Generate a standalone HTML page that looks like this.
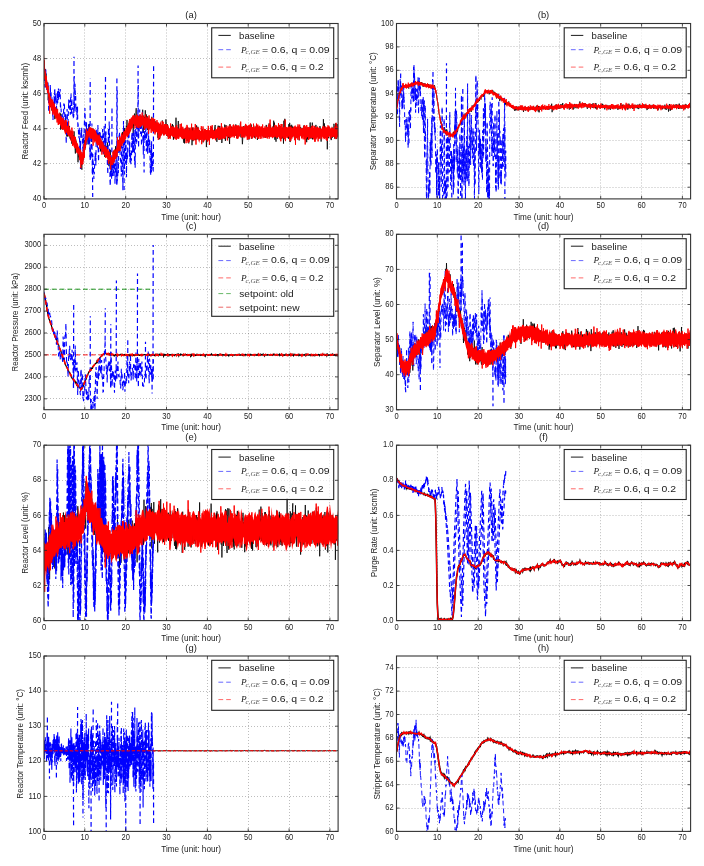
<!DOCTYPE html><html><head><meta charset="utf-8"><style>html,body{margin:0;padding:0;background:#fff;width:704px;height:866px;overflow:hidden}svg{display:block;filter:blur(.3px)}text{font-family:'Liberation Sans', sans-serif}</style></head><body>
<svg width="704" height="866" viewBox="0 0 704 866">
<rect width="704" height="866" fill="#fff"/>
<defs><clipPath id="ca"><rect x="44.0" y="23.5" width="294.1" height="175.4"/></clipPath><clipPath id="cb"><rect x="396.5" y="23.5" width="294.1" height="175.4"/></clipPath><clipPath id="cc"><rect x="44.0" y="234.3" width="294.1" height="175.4"/></clipPath><clipPath id="cd"><rect x="396.5" y="234.3" width="294.1" height="175.4"/></clipPath><clipPath id="ce"><rect x="44.0" y="445.2" width="294.1" height="175.4"/></clipPath><clipPath id="cf"><rect x="396.5" y="445.2" width="294.1" height="175.4"/></clipPath><clipPath id="cg"><rect x="44.0" y="656.0" width="294.1" height="175.4"/></clipPath><clipPath id="ch"><rect x="396.5" y="656.0" width="294.1" height="175.4"/></clipPath></defs>
<path d="M84.5 23.5V198.9M125.5 23.5V198.9M166.5 23.5V198.9M207.5 23.5V198.9M248.5 23.5V198.9M289.5 23.5V198.9M329.5 23.5V198.9M44.0 163.5H338.1M44.0 128.5H338.1M44.0 93.5H338.1M44.0 58.5H338.1" stroke="#000" stroke-opacity=".33" stroke-width=".8" stroke-dasharray="1 2" fill="none"/>
<g clip-path="url(#ca)" fill="none">
<path d="M44 75.1l.3-5.3 .4 3.1 .3 8 .3-11.7 .3 9.3 .4-5 .3 1.8 .3 7.2 .3 7 .4-2.1 .3-4.7 .3 5.7 .3 11.9 .4-10.6 .3 5.3 .3 3 .4 5.9 .3-5.6 .3 7.2 .3 1.4 .4-7.2 .3 7.4 .3-.1 .3 3.5 .4-5 .3-3.1 .3 5.1 .3-5.5 .4 4.2 .3 .2 .3-3.6 .4 2.7 .3 13.7 .3-11.8 .3 8.2 .4 2.5 .3-3.6 .3 2.9 .3-8.9 .4 2.8 .3 .8 .3 7.2 .4-5 .3 .8 .3 4.9 .3-4.8 .4 .2 .3 4.7 .3-7.3 .3 1.6 .4 15.3 .3-15.8 .3 7.5 .3 4.2 .4 3.1 .3-4.2 .3-.2 .4-3.7 .3 1.1 .3-.1 .3 8 .4-1.5 .3 2.1 .3-7.4 .3 4.9 .4-9.5 .3 13.2 .3-4.7 .3 7.4 .4 2.4 .3-10.8 .3 9.3 .4 1.5 .3-14.8 .3 11.4 .3-1 .4-6.3 .3 .4 .3 11.6 .3 .8 .4-1.7 .3 3 .3-.1 .3-8.4 .4 12.3 .3-11.2 .3 6.5 .4 .4 .3-1.8 .3-2.6 .3 8 .4-11.6 .3 11.3 .3-3.5 .3 9.2 .4 5.1 .3-14.2 .3 2.4 .4 0 .3 5.9 .3 4.7 .3-3.1 .4-.4 .3 13.5 .3-8.2 .3-1.4 .4 4.6 .3-7.1 .3 3.2 .3 3.3 .4-1.7 .3 3.2 .3-1.9 .4 4.7 .3 6.9 .3 1.8 .3-10.1 .4 2.3 .3-1.1 .3-.5 .3-2.4 .4-8 .3-6.4 .3-3.3 .3 9.7 .4-3.8 .3 1.8 .3-6.8 .4-10.3 .3-3.2 .3 10.1 .3 1.8 .4-3.1 .3-7.6 .3 15.6 .3-13.4 .4-6.5 .3 1.6 .3-2.2 .3 5.4 .4-1.2 .3 4.1 .3 4.7 .4 .4 .3 4.5 .3-7.7 .3 3.2 .4-4 .3-1.5 .3-.3 .3-2.9 .4 5.9 .3 .9 .3-4.1 .4 1.6 .3 3.3 .3-3.5 .3 3 .4 3.1 .3 2.1 .3-.6 .3-7.6 .4 8.4 .3-2.8 .3-2 .3 5.9 .4-8.9 .3 10.1 .3 1.3 .4-12.1 .3 13.7 .3-7.3 .3 12.4 .4-4.4 .3 1.2 .3-7.5 .3 4.2 .4 3.1 .3-.8 .3 .4 .3 0 .4 .5 .3 5.4 .3 .8 .4-5.3 .3 8 .3-12.1 .3 4.8 .4-.8 .3-1.6 .3 9.6 .3-5.8 .4 1.6 .3-10.2 .3 12.6 .3 4 .4 1.7 .3 3.5 .3 1.9 .4-12.1 .3 1.7 .3 8.5 .3-14.5 .4 8.3 .3 1.5 .3 12.5 .3-11.3 .4-3.3 .3 1.4 .3 2.5 .4-.7 .3-.9 .3 4.2 .3-13.4 .4 8.1 .3-7 .3 7.6 .3-3.9 .4-9.2 .3 7.7 .3 3.6 .3-9.3 .4 4.3 .3-7.2 .3 5.2 .4-1.4 .3-9 .3 1.3 .3 1 .4-2.9 .3 11.9 .3-6.2 .3-4.1 .4 1.7 .3 4.8 .3-4.9 .3 4.5 .4-12 .3 2.4 .3-5.6 .4 6.4 .3 .9 .3-4 .3 4.1 .4-3.1 .3-8.3 .3 13.9 .3-8.8 .4 0 .3 1.5 .3-.5 .3-7.8 .4 .7 .3-7.1 .3 9.8 .4 4.7 .3-6 .3 4.3 .3 .5 .4-4.6 .3 .7 .3-4.6 .3 5.3 .4 .7 .3-5.3 .3 .9 .3-1.9 .4-4.5 .3 2 .3-1.6 .4 5.4 .3-4.2 .3 14.1 .3-11.5 .4 1.7 .3-9.7 .3-2.5 .3 4.2 .4 2.4 .3 5.3 .3-11.7 .4-5.6 .3 9.3 .3-1.1 .3 8.4 .4-1.5 .3-4 .3 6.9 .3 1 .4-.3 .3-7.8 .3 .5 .3 6.6 .4-4.8 .3-4.6 .3 11.5 .4-5.1 .3-1.8 .3-1.5 .3-1.2 .4 2.2 .3-11.2 .3 17.2 .3 5.9 .4-17.1 .3 6.4 .3 7.8 .3-12.7 .4 5.5 .3-12.4 .3 17.1 .4-4 .3-9 .3 7.6 .3-3.9 .4-1.8 .3 13.8 .3-2.5 .3-.2 .4-2.5 .3-5.8 .3 8.5 .3-2.5 .4-.9 .3 .9 .3-1.4 .4-4.8 .3 8.9 .3-2.3 .3-8.7 .4 5.3 .3 6.2 .3 1 .3-9.9 .4 .2 .3 4.5 .3 6 .4-.6 .3-5.8 .3-1.5 .3 3.5 .4-4.4 .3 1.8 .3 5.7 .3-4.3 .4-.3 .3 5.3 .3 6.1 .3 2.4 .4-12.1 .3-.7 .3 2.5 .4 1.3 .3 10.3 .3-15.3 .3 8.1 .4-5.4 .3 1.3 .3-1.1 .3 3 .4 .3 .3-9.7 .3 .5 .3 6.4 .4 7.5 .3 .2 .3-8.9 .4 6.7 .3-1 .3-3.7 .3 2.1 .4-1 .3-9.9 .3 4.6 .3 11.8 .4-9.8 .3 3.3 .3-4.9 .3 12.1 .4-4.9 .3-1.8 .3-1.4 .4 2.6 .3 2.7 .3 4.2 .3-6.6 .4 5.8 .3-8.2 .3-3.2 .3 4.1 .4 .2 .3 3.1 .3-9.1 .4 5.3 .3-4 .3 14.4 .3-4.9 .4 3.2 .3-5.2 .3-2.3 .3 1 .4 3.2 .3-6.9 .3-10.1 .3 12.9 .4 4.5 .3 3.2 .3-6.2 .4-1.5 .3-3.9 .3-5.7 .3 14.4 .4-4 .3 2.9 .3-4.1 .3 5.2 .4-5 .3 1.3 .3 2.7 .3-2.1 .4-4 .3 9.3 .3-3.8 .4 4.1 .3-3.4 .3-.6 .3 7.7 .4 1.2 .3-9.5 .3 10.1 .3-7.2 .4-8 .3 8.3 .3-5.4 .3-.7 .4 3.1 .3-4.9 .3 4.2 .4-3.2 .3 11.7 .3-4.6 .3-3.1 .4 9.8 .3-15.4 .3 7.3 .3 1.4 .4 .9 .3-4.3 .3 3.5 .4 1.7 .3-5.2 .3-4.7 .3 16.6 .4-12.7 .3-5 .3 13.7 .3-10.9 .4 7.3 .3-1.2 .3 2.1 .3 1.1 .4-2.3 .3-9.8 .3 12.7 .4-1.3 .3-2.3 .3-11.2 .3 14.3 .4-4.5 .3 .8 .3-9.2 .3 10.2 .4-3.9 .3 2.5 .3-5.4 .3 2.6 .4-1.8 .3 6.3 .3-1.9 .4-2.3 .3-1.6 .3 4.8 .3 .7 .4-5.4 .3-2.3 .3 3.8 .3 9.3 .4-6.7 .3 2.6 .3-1.6 .3 1.2 .4-8.9 .3 2.7 .3 5.7 .4 .1 .3-1.5 .3 11.1 .3-7.4 .4-.8 .3-7.9 .3 3.5 .3-1.4 .4-.9 .3 3.3 .3-2.7 .3 7.4 .4-3 .3-3.8 .3 1.4 .4 .5 .3-5.9 .3-2.7 .3 8.4 .4 .8 .3-7.9 .3 4.2 .3 .7 .4 1.5 .3 2.4 .3-1.3 .4-1.3 .3-6.1 .3-1.9 .3-1.2 .4 13.4 .3-6 .3 1 .3 5.8 .4 2.7 .3-2.7 .3-4.2 .3-.6 .4-8.7 .3 11.5 .3-10.9 .4 11 .3 2.3 .3-13.7 .3 9 .4 2.4 .3-2.1 .3-4 .3-3 .4 14.8 .3-2.3 .3-10.3 .3 4.6 .4 2.3 .3-3 .3-3.8 .4 2.6 .3 6 .3-14.5 .3 4.1 .4 12.2 .3-2.5 .3-13.3 .3 11.1 .4-7.3 .3 .2 .3 4.7 .3-5.5 .4 9 .3-7.7 .3 8.5 .4-9.7 .3 11.4 .3 4.2 .3-19.9 .4 8.5 .3 0 .3-.6 .3 1.9 .4-7.2 .3 1.6 .3 3.4 .4 4.3 .3-3 .3-.7 .3-5.6 .4 3.5 .3 1.5 .3 1 .3 .1 .4-1.2 .3-6.1 .3-1.1 .3 1.9 .4 2.1 .3 9.6 .3-4.6 .4-.1 .3 3.4 .3-10 .3 3.3 .4-1.8 .3 1.8 .3 2 .3 2.2 .4-6.7 .3-4.5 .3 11.1 .3 3.3 .4-9.4 .3 2.2 .3 4.8 .4 9.2 .3-4.3 .3-5.2 .3-2.5 .4-6.1 .3 5 .3 3 .3-2.3 .4 3.9 .3-10.7 .3 7.3 .3-.8 .4 2.9 .3-1.6 .3-1.1 .4 3.9 .3-6.1 .3 4 .3-.4 .4-.6 .3 7.1 .3-5 .3 1.9 .4-9.8 .3 8.1 .3-7.7 .4 8.1 .3-10.7 .3 14.1 .3-4.1 .4-2.6 .3-2 .3-1.3 .3 7.6 .4-3.7 .3-6.9 .3 6.4 .3 5.7 .4-1.3 .3-1.8 .3-4.5 .4-.5 .3 4.4 .3-4.7 .3 1.2 .4 1.7 .3 7.8 .3-11 .3 5.1 .4 .2 .3-2.4 .3 3.8 .3-3.8 .4 4 .3-3.6 .3 2.5 .4-4.9 .3-1.6 .3 4.7 .3-4.5 .4 1.3 .3 6.5 .3-5.4 .3 1 .4-1.4 .3-1.9 .3 1.1 .3 0 .4-.8 .3 8.7 .3-1.6 .4 1.6 .3-3 .3-9.7 .3 1.7 .4 .2 .3 5.8 .3 1.8 .3-1.5 .4-2.4 .3-4.4 .3 10.7 .3-13.5 .4 4.1 .3-2.5 .3 3.4 .4-3.5 .3 3 .3 .4 .3 7.3 .4-5.2 .3 3.8 .3-1.2 .3 .4 .4-1.2 .3-4.1 .3-7.3 .4 6 .3-4.1 .3 16.7 .3 .5 .4-5.6 .3 2 .3 5.5 .3-5.4 .4 .6 .3-4.9 .3 3.9 .3 2.8 .4-4.1 .3-3 .3 .5 .4-7.3 .3 3.8 .3-2.9 .3 9.8 .4-8.8 .3 5.5 .3-.5 .3 .8 .4 6.5 .3-6.6 .3 5.9 .3-10.5 .4 .2 .3 4.8 .3 10.8 .4-22.9 .3 17.8 .3-7.4 .3-12.3 .4 13.7 .3 2 .3-7.1 .3 3.8 .4 2.2 .3-1.9 .3-2.9 .3 4.8 .4 1 .3-5.8 .3 10.2 .4-14.6 .3 11.2 .3 1.4 .3-13.9 .4 19.2 .3-16.5 .3 14.7 .3-14.3 .4 3.5 .3-4.7 .3 3.1 .4 5.8 .3-7.3 .3 3.6 .3 4.3 .4 1.3 .3-1.2 .3 3.2 .3-5.2 .4 7.7 .3-.3 .3-3.7 .3-5 .4 4.3 .3-6.7 .3 .7 .4 .6 .3-1.6 .3 6.1 .3-6.2 .4-1.7 .3 4.8 .3 9 .3-8.8 .4-1.3 .3-.1 .3-3.3 .3 .7 .4 8.5 .3-7.5 .3 2.5 .4 2.4 .3-5.4 .3 .1 .3-.2 .4 5.4 .3-7.9 .3 8.1 .3-5.7 .4 10 .3-10.2 .3 3.9 .3 .2 .4 3.8 .3 .1 .3 6.5 .4-12.6 .3 9.8 .3-6.4 .3-3.9 .4 4.8 .3 1.1 .3 2.1 .3-7.8 .4 7.4 .3-14 .3-.1 .4 15.9 .3-3.8 .3-1.9 .3-6.6 .4 12.3 .3-15.9 .3 16.8 .3-9.9 .4 6.5 .3-6.7 .3 5.6 .3-2.6 .4-.2 .3 5.1 .3-4.6 .4 .6 .3-8.3 .3 4.8 .3 3.5 .4-.5 .3 2.3 .3-3.4 .3 .1 .4 2.4 .3 1.6 .3-.2 .3-3.6 .4 .4 .3-6.3 .3 .5 .4 2.7 .3 2.2 .3 10.2 .3-12.4 .4 4.7 .3-4 .3 2 .3 .3 .4-.4 .3-12.6 .3 7.4 .3 7.8 .4-11 .3 10.3 .3-.3 .4-2.6 .3-.6 .3 2.1 .3 .7 .4-3.7 .3 4.1 .3 15.9 .3-14.4 .4-.4 .3-.2 .3 3.9 .4-2.5 .3-2.2 .3-1.7 .3 2.8 .4-4.8 .3 1.6 .3 6.5 .3 2.2 .4-2.2 .3-6.4 .3-3.9 .3 10 .4-1.6 .3-6.7 .3 6.4 .4-11.9 .3 1.9 .3 3.6 .3 9.4 .4-6.6 .3-8.8 .3 8.2 .3-7.6 .4 14.9 .3-5.6 .3-9.2 .3 5.2 .4-.4 .3 10" stroke="#000" stroke-width="0.8"/>
<path d="M44 77.2l.2 1.9 .2 .5 .3-.4 .2 7.2 .2 1.2 .2-8.5 .3-7.2 .2-3.2 .2 18 .2 .1 .3 .6 .2 2.9 .2-1.6 .2-1.8 .3-2.7 .2 4.3 .2-6.8 .2 3.1 .3 2.2 .2 11 .2 14 .2-4.1 .3-5.3 .2-5 .2-1.7 .2 .2 .3 1.2 .2-12.5 .2 8.1 .2-1.5 .3 .4 .2 4.8 .2-1.4 .2 1.4 .3 1.2 .2 4.3 .2-.5 .2 8.1 .3 6.7 .2 3.5 .2-9.6 .2-.6 .3 3.5 .2-4.3 .2-13.1 .2 7.2 .3-9.4 .2-5.4 .2 16.1 .2-8.4 .3-.1 .2 4.6 .2-6.6 .2 4.4 .3 3.7 .2 7.2 .2-5.4 .2 .6 .3-3.6 .2-9.9 .2 12.2 .2-4.1 .3 1 .2-1.7 .2-7.5 .2 6.1 .3-.4 .2-4.2 .2 3.3 .2-3.8 .3 5.2 .2-7.8 .2 18.9 .2-3.5 .2 5.7 .3-1.7 .2 7.4 .2 13 .2-6.9 .3 1.5 .2 1.4 .2-3 .2-5.7 .3-2.8 .2 9.8 .2-5.5 .2-2.5 .3-11.8 .2 2.7 .2-2.2 .2 .7 .3 8.5 .2 12.1 .2-5 .2-6.1 .3 3.4 .2 2 .2 12.3 .2 11.9 .3-13.5 .2-7.7 .2-7.4 .2-6 .3 9.7 .2 7 .2 8.9 .2-10.6 .3-10.3 .2-4.4 .2-9.8 .2 8.9 .3-1.1 .2-4.7 .2-2.5 .2 9.5 .3-.6 .2 5.7 .2-10.1 .2-9.8 .3-1.2 .2 10.5 .2 11 .2-4.9 .3-11.4 .2 11.1 .2-.9 .2-.8 .3 .6 .2 8.5 .2-5.8 .2 5.5 .3-.4 .2-4 .2-10.8 .2 6.6 .3-2.4 .2-9.6 .2-12.7 .2 7.6 .3 5.6 .2-1.2 .2 15.8 .2-5.5 .3 3.6 .2-2.6 .2 2.8 .2 10 .2-4.1 .3-9.6 .2 12.7 .2 8.6 .2-4.1 .3 7.2 .2 5.3 .2-.6 .2 3 .3-10.9 .2 6.3 .2 15.3 .2-1 .3-7 .2 2.5 .2 9.6 .2-18.7 .3-4.9 .2 6 .2 1.1 .2-8.8 .3 10.1 .2-1.9 .2 1.3 .2 9.4 .3 2.2 .2 6.6 .2-17.5 .2 5.4 .3-9.4 .2 6.3 .2-12.3 .2-5.8 .3-7.8 .2-6.4 .2 5.6 .2 9.9 .3 17.9 .2-8.4 .2 11.3 .2 .5 .3-22.6 .2 7.1 .2 6.3 .2-6.3 .3 3.8 .2-5.6 .2 12.2 .2 1.8 .3 3.1 .2-3.4 .2 1.5 .2-18.7 .3 16.9 .2-15.7 .2 16.8 .2 9 .3 6.1 .2 4.2 .2-12.5 .2 10.2 .3-3.4 .2-1.6 .2-8.6 .2-4.7 .3-17.2 .2 23.4 .2 26.8 .2-4 .3-15.7 .2 5.6 .2 2.9 .2 1 .2 9.5 .3 6 .2-6 .2 1 .2-5.7 .3-6.5 .2-.6 .2-8.6 .2 5.9 .3-3.5 .2 10.6 .2-18.4 .2-17.4 .3 6.2 .2 7 .2-10.3 .2 1.8 .3 13.3 .2-7.5 .2-15.3 .2 21.6 .3 10.3 .2 4.6 .2-16 .2 .2 .3-5.1 .2-9 .2 4.5 .2-3.4 .3-1.3 .2 16.4 .2-2.7 .2 3.3 .3-12.6 .2 1.4 .2 9.2 .2 5.9 .3-9.2 .2-3.1 .2-4.5 .2-6.5 .3 2.7 .2 14.7 .2 8.5 .2-4.7 .3-9.8 .2-.1 .2-14.3 .2 14.1 .3 7.4 .2-2.7 .2-6.9 .2 6.3 .3 .9 .2-10.5 .2-3 .2 16 .3-.6 .2 3.9 .2-.6 .2-3.5 .3 19.4 .2 1.9 .2 6.1 .2-11.1 .3-28.2 .2-6.6 .2 11.1 .2 4.2 .3-22 .2 7.4 .2 23.1 .2 8.1 .2 21.2 .3 4.6 .2-16.3 .2 7.8 .2-11 .3 2.7 .2-3 .2 12.8 .2-3.4 .3 .7 .2-11.3 .2-6.7 .2-.4 .3 16.8 .2 1.9 .2-15.4 .2 11.8 .3-10.4 .2 8.3 .2-4.8 .2-7.4 .3 11 .2 14.1 .2-10.6 .2-8.3 .3 1.5 .2-6.5 .2 5.3 .2 11.2 .3-5.8 .2 14.1 .2-4.1 .2 .7 .3-3.1 .2-1 .2-6 .2-9.9 .3 11.8 .2-14.5 .2-10.2 .2-12.1 .3-1.8 .2-.8 .2-1.6 .2 11.9 .3 11.9 .2 2.5 .2 2.7 .2 .7 .3 5.4 .2 9.4 .2-14.8 .2-25.9 .3 7.3 .2 3.5 .2 23.7 .2 5.2 .3 14.7 .2-27 .2-21.8 .2-20.4 .3 25.4 .2 8.3 .2 .8 .2 18.5 .3-28.8 .2-4.1 .2 5.1 .2 17.4 .3-1.8 .2-21.8 .2 1 .2 13.5 .3 22.6 .2-20.7 .2 2.5 .2-7.6 .2 7.8 .3-4.7 .2-16.4 .2-2.9 .2 3.2 .3-.7 .2-5.8 .2-5.5 .2 15 .3 15.3 .2-8 .2-6.9 .2 21.1 .3-1.1 .2-9.1 .2 7.4 .2 4 .3-5.1 .2 1.7 .2-10.2 .2-17.9 .3 3.9 .2 8.5 .2-.5 .2 8.3 .3-19.8 .2 3.5 .2 8.6 .2 7.4 .3-6.7 .2-16.1 .2 6.1 .2 25.6 .3 3.4 .2-8.3 .2 11.4 .2-27.3 .3-11.9 .2 11.5 .2 5.2 .2-18.2 .3-1.1 .2 16.1 .2-17.4 .2-2.8 .3 6.6 .2-3.4 .2-10.4 .2 21 .3 5.2 .2 6.7 .2-20.6 .2-2.2 .3 6.7 .2-4.9 .2-17.1 .2 12.7 .3-.8 .2-6 .2 18.5 .2-18.4 .3-1.2 .2 16 .2 15.4 .2-30.6 .3 7.8 .2-9.8 .2-.3 .2 5.5 .3 24.2 .2-6.9 .2 18.7 .2-12.4 .2-8 .3 4.3 .2-7.1 .2 1.1 .2 3.5 .3-2.3 .2 6.9 .2-7.8 .2-1.4 .3-.1 .2-13.8 .2 32.7 .2 1.4 .3-20 .2 18.9 .2-3.3 .2-5.8 .3 12.5 .2-12.5 .2 2.3 .2-16.4 .3-3.1 .2 22.1 .2-7.1 .2 13.8 .3-3.8 .2-10.3 .2 3.5 .2 12.8 .3 17.7 .2-4 .2 6.1 .2-25.1 .3-4.3 .2 .5 .2-5 .2 28.1 .3-11.9 .2-2 .2-3.4 .2 12.6 .3 5.8 .2 .3 .2-13.6" stroke="#00f" stroke-width="1.1" stroke-dasharray="4.8 3"/>
<path d="M73.9 112.7L74.0 56.8M74.1 101.9L74.3 76.1M90.1 157.1L90.2 78.8M92.5 169.7L92.7 197.1M80.4 143.5L80.5 169.1M105.3 144.2L105.5 77.0M111.8 175.6L112.0 105.9M116.8 184.7L116.9 76.1M117.0 180.6L117.2 90.2M124.0 154.8L124.1 190.1M137.9 114.8L138.1 65.6M138.1 135.8L138.3 84.9M144.0 138.3L144.1 172.6M151.4 145.9L151.5 172.6M153.4 156.8L153.6 65.6M58.4 98.2L58.5 88.4" stroke="#00f" stroke-width="1.2" stroke-dasharray="4.8 3"/>
<path d="M44 55.1l1 12.5 1 7.2 1.1 5 1 5.4 1 6.6 1 3.9 1 3.1 1.1 .2 1 1.7 1 2.8 1 3.2 1.1 .5 1 4.3 1 2.5 1-2 1 4.4 1.1-.4 1 2.4 1-1.5 1 4.6 1 .7 1.1-.3 1 4.2 1-.3 1 1.1 1.1 3.3 1 1.7 1 2 1 4.4 1 .4 1.1 .5 1 3 1 1 1 4.6 1 .6 1.1 1.5 1 4.4 1-1.6 1-4.6 1-8.7 1.1-3.6 1-4.6 1-.5 1-3.2 1.1-1 1 1.5 1-.4 1 1.1 1 .5 1.1 .3 1 1.9 1 3 1 1.3 1-2.3 1.1 3.7 1 3.7 1 .4 1 .7 1 3.8 1.1 .6 1 2.1 1 .8 1-.2 1.1 3.8 1 2.8 1 1.9 1-.5 1-3.8 1.1-2.7 1 0 1-2.9 1-3.3 1-2 1.1-3.5 1-1.3 1-1.6 1-1.4 1.1-4.3 1 1.4 1-2.5 1-2 1-.3 1.1-6.1 1 .6 1-3.6 1-.4 1-2.3 1.1 .8 1 2.4 1-2.9 1-.5 1 1.7 1.1-1.2 1 1.4 1 0 1-1.9 1.1 1.5 1-.1 1 3.4 1-1 1-.6 1.1-2.1 1 3.9 1-1.4 1 3.7 1-4.8 1.1 4.4 1-3.3 1 3.7 1 .7 1.1-.3 1 .9 1 .8 1-3.2 1 4.3 1.1-1.8 1 2.4 1-1.1 1-1.1 1 .6 1.1 .7 1 3 1 .4 1-2.2 1 .5 1.1-.7 1 1 1 1.2 1-2.1 1.1 1.2 1-.2 1 2 1-.6 1-1.1 1.1 .5 1 1.3 1-.9 1 1.8 1-3.9 1.1 3.1 1 .9 1-1.3 1 1.8 1.1-2.2 1 2.3 1-1.6 1-.7 1 2.5 1.1-2.6 1 1.6 1-2.3 1 2.1 1 1.1 1.1 .1 1-1.6 1 2.9 1-3.8 1 1.5 1.1 .1 1-.2 1-1.9 1 2.6 1.1-1.5 1-1.7 1 .7 1 3.5 1-.8 1.1-2.4 1 1.1 1-2.1 1 1 1-1.7 1.1 3.7 1-1.3 1-3 1 2.1 1 1.1 1.1-.3 1-1.2 1 .2 1-2.7 1.1 .7 1 2 1 .3 1-3.2 1-1.1 1.1 2.7 1-1.9 1 1.2 1-.2 1 .1 1.1 .8 1-.2 1 0 1-.2 1.1 .6 1-.9 1-.3 1 .4 1-1.1 1.1 3.4 1 0 1-1.9 1 1.1 1-1.2 1.1 1 1-2 1 2.5 1-.4 1 0 1.1-1.7 1 1.7 1-.9 1 1.8 1.1-.5 1-.5 1 1.1 1-1.9 1 .5 1.1 1.7 1-.3 1-.5 1 .3 1-.6 1.1 0 1-.8 1-.5 1 .4 1.1 .1 1 2.5 1 .3 1-1.5 1 .1 1.1 .6 1-1.2 1-1.6 1 .5 1 1.7 1.1-1.1 1 .4 1-1.1 1-.4 1 2.1 1.1-1.2 1-.5 1-1.4 1 2.1 1.1-1.2 1 .9 1 .5 1 .1 1 1.9 1.1-1.6 1 .8 1 1 1-3.9 1 2.7 1.1-1.8 1 2.9 1-3.3 1 2.4 1-3.1 1.1 1.2 1 1.2 1-.2 1-1 1.1 .7 1-1.5 1 2 1 .3 1 .2 1.1 .5 1-.3 1 .1 1 .2 1-.4 1.1-2 1 3.3 1-3.2 1 .4 1.1 2 1-2.9 1 3.5 1-1.4 1-1.1 1.1 1.1 1-1.8 1 .2 0 9.9-1 .9-1 2.2-1.1-1-1-2.1-1 .3-1 .2-1-.1-1.1-.9-1 .9-1 .1-1-.8-1.1 2-1 .6-1 .6-1-3-1 4.2-1.1-4.8-1 3.1-1-.6-1-1-1 .5-1.1 1.2-1 0-1 .7-1-1.9-1.1 .6-1-2-1 3.6-1-2.7-1-.4-1.1 2-1-1.1-1 2.7-1-4.5-1 2-1.1-.1-1-2.7-1 1.9-1 .4-1 1.1-1.1-.4-1-1.5-1-1.3-1 1.6-1.1 .4-1 .5-1 0-1-1.3-1 .5-1.1-2.5-1 1.5-1 4.3-1-2.6-1 .5-1.1-2.2-1 2.4-1 1.6-1-3.1-1-.2-1.1 1.3-1-.5-1-1.5-1 0-1.1 2.7-1-2.7-1 .6-1 .9-1-1.7-1.1 1.7-1 0-1-1.3-1 1.3-1 .9-1.1-2.4-1-.8-1 2.5-1-1.9-1.1 1.5-1 1.4-1-2.5-1 1.4-1-2-1.1 2-1-1.2-1-.5-1 .5-1 2.7-1.1-.5-1-.3-1-2.7-1-.7-1 3.4-1.1-2-1 .6-1 .9-1-5.9-1.1 4.3-1 1.2-1-4.4-1 3-1 0-1.1 .8-1-.8-1 2-1-2-1 .3-1.1 .8-1-.6-1-1.4-1 2.2-1.1 1.7-1-.3-1-1.3-1 .9-1 1.7-1.1-.8-1-.2-1-1.3-1 .3-1 3-1.1-2.5-1-.9-1 2.1-1-1.8-1 0-1.1 1.7-1 .3-1 2.8-1-3.4-1.1 .6-1 .8-1-2-1 1.1-1-.1-1.1-1.1-1 4.2-1-3.4-1-.7-1-.6-1.1 .8-1 1.9-1-3.2-1 1-1 1.5-1.1-1.3-1 2.6-1-1.2-1-1.4-1.1-.9-1 .7-1-.1-1 .6-1-.1-1.1-1.8-1-.9-1 .9-1-.2-1-1.9-1.1 3.7-1-1.4-1-.6-1 .4-1.1-2.4-1 0-1 1.3-1-1.9-1 1.8-1.1-.1-1-2-1 .7-1 .1-1-1.1-1.1-.4-1-.7-1 .8-1 .4-1-.7-1.1-1.7-1 .1-1-2-1 2.4-1.1-.6-1-1.4-1-1.5-1 2.2-1-3.7-1.1 3.1-1-3.9-1 2.7-1-1.4-1-1.8-1.1-1-1 2.7-1-.2-1-1.6-1.1 0-1 3-1-4.3-1 2.3-1-3.9-1.1 5.4-1 .6-1 2.6-1 2-1 1.5-1.1 .4-1 .3-1 4.1-1-.1-1 3.7-1.1 .6-1 .2-1 3.2-1 3.5-1.1 .6-1 2.3-1-.1-1 4.3-1 3.5-1.1 1.1-1 2.8-1-1.5-1 2.9-1-5.4-1.1-2.3-1-.5-1-.9-1-2.3-1.1-.3-1-3.7-1-2.5-1-1.6-1 2.1-1.1-3.4-1-1.2-1 1.4-1-3.1-1-2.6-1.1-.7-1 .6-1-1.6-1-.9-1 .8-1.1-2.9-1 4.3-1 .4-1 6.2-1.1 5.6-1 6.5-1 6.4-1-.5-1-2-1.1-1.8-1-4.7-1-3.7-1-1.1-1-3.4-1.1 .6-1-1.7-1-3.4-1-1-1-5-1.1-.4-1-.9-1-1.5-1-2.2-1.1 2.5-1-2.6-1-4.4-1 1.9-1-1.6-1.1-2.8-1-1.3-1-.5-1-2.9-1-2.5-1.1-2.1-1-2.1-1-1.6-1 .1-1.1-3.5-1-2.8-1-4.2-1-7-1-5.5-1.1-.5-1-9.8-1-12.1z" fill="#f00" stroke="none"/>
<path d="M44 67.7l.2-1.4 .2-5.9 .2 11 .1 8 .2-8.1 .2 3.3 .2-1.1 .2 2 .2 6.4 .1 4.6 .2-9.1 .2 6.9 .2-8.1 .2 8.1 .2 .4 .1-1.4 .2 .5 .2 7.2 .2 1.5 .2-3.5 .2 4.1 .1-7 .2 4.4 .2-.5 .2 6.2 .2-2.4 .2-.4 .1 11.2 .2-5.8 .2 10.8 .2 4.1 .2-15.2 .2 1.6 .1-3.3 .2 7.9 .2-1.2 .2-1.6 .2-.7 .2 4.2 .2 2.8 .1 .2 .2-3.9 .2-4.4 .2 2.6 .2 .9 .2 4.2 .1 3.6 .2-7.3 .2 10.6 .2-11.7 .2 6 .2 4.2 .1-8.3 .2 8.1 .2 .2 .2 .2 .2-9.6 .2 8.3 .1 3.4 .2-8.5 .2 7 .2 2.6 .2 1.7 .2-7.8 .1 3.7 .2-.7 .2 3.1 .2-2.8 .2 2.3 .2-4.4 .2 10.8 .1-8.1 .2 .4 .2-5.8 .2 8.4 .2 2.7 .2 3.9 .1 1 .2-8.5 .2 7.4 .2-5.3 .2 4.8 .2-8.6 .1 2.7 .2 .4 .2 2.1 .2-4.5 .2 5.7 .2 .6 .1 0 .2 .5 .2-1.9 .2-3.3 .2 .5 .2 3.4 .1 1.7 .2 6.3 .2-6.4 .2 2.3 .2 3.3 .2 1.6 .1-8.4 .2 5.8 .2-3.9 .2-.1 .2-3.7 .2 5.3 .2 .8 .1 3.6 .2-1.3 .2-1.8 .2-.5 .2-.6 .2-2.3 .1-2.5 .2 8 .2-8.2 .2 3.7 .2 4.9 .2-8.4 .1 10.1 .2-4.7 .2 5.5 .2-4.4 .2 3.4 .2 .2 .1-.8 .2 1.5 .2 .4 .2 2.1 .2-6.7 .2 8.2 .1-6.5 .2-7.4 .2 14.7 .2-6.2 .2 5.3 .2-7.2 .1 1.6 .2 2 .2 .5 .2 3.2 .2-3.8 .2 1.1 .2 4.8 .1-1.9 .2 .9 .2 4.7 .2-2.4 .2-1.4 .2 .8 .1-10.2 .2 6.9 .2-.3 .2 11.5 .2-9.3 .2-5.6 .1 4.7 .2 0 .2 2.7 .2 1.5 .2 3 .2-3.1 .1-3.4 .2 8.5 .2-3.8 .2 1.6 .2-5.8 .2 7 .1-3.9 .2-2.6 .2 3.3 .2 6.1 .2 2 .2-4.6 .2 2.9 .1-2.5 .2 3.3 .2 4.9 .2-5.2 .2-1.3 .2-.5 .1-1.2 .2 8.8 .2-5.1 .2 4.4 .2 1.5 .2-7.1 .1 2.5 .2 3.3 .2-.1 .2-.1 .2-3.4 .2 10.6 .1-4.6 .2 4.8 .2-2.7 .2 0 .2-.3 .2 11.3 .1-9.5 .2-4.9 .2 9.9 .2-7.3 .2 7.5 .2-12 .1 7.5 .2-5.1 .2 9.8 .2-3.4 .2 3.4 .2-5.3 .2-1.4 .1-7.4 .2 2 .2 6.2 .2-.5 .2-13.5 .2 13.5 .1-6.1 .2-4.8 .2-.7 .2-1.2 .2 2.6 .2-3.7 .1-1.8 .2 1 .2-5 .2-2.8 .2-6.3 .2 2.7 .1 4.9 .2 1.4 .2-3 .2-4 .2 2.1 .2 2.3 .1 2.8 .2-.6 .2-3.1 .2-2.6 .2 .9 .2-3.6 .2 2.2 .1-1.8 .2 4.4 .2-3.1 .2-.3 .2 2.3 .2 1.3 .1-4.6 .2 1.2 .2-2.6 .2-.2 .2 .4 .2 10.6 .1-3.4 .2 0 .2 .2 .2-2.9 .2-1.7 .2 .9 .1 3.7 .2-3 .2 1.3 .2 1.2 .2 10.4 .2-13.6 .1 5.5 .2-1.7 .2 .9 .2 1.9 .2-.7 .2 2.9 .1-8 .2 6.9 .2 2.7 .2-5.6 .2 .2 .2-3 .2 6.2 .1-1.6 .2 2 .2-2.6 .2-1.8 .2 5.8 .2-7.4 .1 1.3 .2-1 .2 4.1 .2-1.7 .2 8 .2-8.7 .1 2.5 .2-2.4 .2 6.7 .2-7.5 .2 3.7 .2 4.9 .1-.6 .2-8 .2 5.2 .2-3.9 .2 11.8 .2-.9 .1-6.6 .2-.8 .2 2.2 .2-4.2 .2 1 .2 9 .1-1.7 .2-1.5 .2 5.9 .2 3.2 .2-4 .2-7.6 .2 7.7 .1-4.5 .2 5.8 .2-4.7 .2-1.9 .2-.1 .2 0 .1 2 .2 3.4 .2-3.4 .2 7.7 .2-4.7 .2-4.4 .1 4 .2-1.1 .2 .6 .2 6.1 .2 2.3 .2-9.2 .1 3.1 .2-2.1 .2-.7 .2-1.6 .2 5.4 .2 .5 .1-1.3 .2 1.4 .2-2.8 .2 6.7 .2-2.1 .2 3.8 .2-2.1 .1 6.5 .2 .4 .2-8 .2 5.5 .2-9.4 .2 2.8 .1-.2 .2 5.4 .2 .7 .2-5.6 .2 4.9 .2-2.1 .1-2.3 .2 14 .2-11.6 .2 4.9 .2 1.3 .2-4.6 .1 4 .2 1.5 .2-7.4 .2 5.9 .2-3.8 .2-1.2 .1 6.7 .2-13.4 .2 3 .2 3.7 .2 1.2 .2-1.6 .1 5.1 .2-9.5 .2-3.2 .2 10.3 .2-6.1 .2-5.1 .2 1.1 .1 1.4 .2 7.2 .2-8 .2 7.8 .2-2.1 .2-1.7 .1-2.8 .2 2.4 .2-5.6 .2 1.9 .2 5.8 .2-5.7 .1-5.6 .2-8.3 .2 7 .2 3.6 .2-2.9 .2 2.4 .1-6.9 .2 3.5 .2 .1 .2 2.7 .2-2.1 .2 .1 .1-2.3 .2-1.3 .2-4.9 .2 14.8 .2-6.3 .2-6.2 .1 9.7 .2-7.2 .2 .5 .2 .2 .2-.3 .2-8 .2 6.6 .1 5.8 .2-7.1 .2 .6 .2-1 .2-.1 .2 4.3 .1-7.1 .2 .9 .2 4 .2-4.4 .2 5.9 .2-2.7 .1-2.4 .2 4.4 .2-6.3 .2-1.2 .2 4.3 .2-5.5 .1 5.8 .2-4.8 .2 5.4 .2-5.6 .2 .8 .2 1.3 .1-5.6 .2-.9 .2 1.5 .2 2.1 .2-2.6 .2-2.2 .2 9.2 .1-10.8 .2-.7 .2 1.7 .2 8.3 .2-1.8 .2-5.8 .1-4.4 .2 3.7 .2-2 .2 2 .2 5.7 .2-13.8 .1 5.9 .2 1.8 .2-.7 .2-1.5 .2 3 .2-8.2 .1 5.4 .2 2.3 .2-3.1 .2 2 .2-5.8 .2 6 .1-1.3 .2 2.8 .2-2.4 .2 0 .2-4.2 .2 1.3 .1-.5 .2-5.7 .2 4 .2 3.3 .2 .2 .2-8.3 .2 3 .1 1.8 .2 2.1 .2 2.5 .2 3.6 .2-7 .2-2.3 .1 2.6 .2 .2 .2 .8 .2 0 .2-3.9 .2-3.2 .1 4.9 .2 .2 .2 5.8 .2-11.8 .2 12.4 .2-2.3 .1-4.7 .2 7.9 .2-7.6 .2 3.9 .2-1.4 .2-3.3 .1 1.4 .2 7.2 .2-5.2 .2-6.5 .2 5.4 .2-1.9 .2 3.5 .1-9.1 .2 .7 .2 7.5 .2-1 .2 1.1 .2 1.2 .1-2.3 .2-1.3 .2 .8 .2 4.7 .2-2.6 .2-10.6 .1 10.7 .2-.5 .2-7.5 .2 5.4 .2 3.1 .2 1.2 .1-1 .2-2.5 .2 3 .2 .6 .2-7.1 .2 12.1 .1-11.9 .2 10 .2-4.7 .2 5.2 .2-14 .2 12.6 .1-8.4 .2 9 .2-8.7 .2-2.4 .2 7.8 .2-3 .2 4.4 .1 1.7 .2-2.5 .2 .3 .2-5.6 .2 2.8 .2-3.3 .1 .9 .2 6.1 .2-7.2 .2 14.9 .2-8.6 .2-.8 .1-9.2 .2 7.5 .2 .7 .2 4.5 .2-7.3 .2 4.1 .1-.9 .2-1.7 .2-1 .2 1.7 .2 1.4 .2 8.4 .1-7.3 .2-7.8 .2 11.7 .2-3.5 .2 .6 .2-1.9 .1-2.5 .2 2.3 .2 1.6 .2 .7 .2-8.6 .2 7.7 .2-1.9 .1-1.1 .2 9.3 .2-2 .2-.3 .2-5.5 .2-5.3 .1 4.2 .2 11.3 .2-10.9 .2 9.2 .2-10 .2 1 .1 1.4 .2 6.7 .2-4.4 .2-1.8 .2 4.4 .2-.5 .1-9.5 .2 10.8 .2 1.7 .2-7.8 .2-.3 .2 8.3 .1-10.4 .2 17.5 .2-13.6 .2-2.8 .2 5.6 .2-.3 .2-3.9 .1 1.8 .2 11.5 .2-8.5 .2 7.9 .2-1.9 .2-3.2 .1-3.8 .2 6.9 .2-9 .2-1.2 .2 2.7 .2 7.2 .1-3.4 .2-3.8 .2 3.6 .2-10.7 .2 4.6 .2 .4 .1 1.1 .2 5.1 .2-10.3 .2 9.7 .2-.1 .2 1.8 .1-3 .2 5.2 .2-5.7 .2 .1 .2-5.7 .2 8.9 .1 .7 .2-2.8 .2-1.2 .2 .8 .2-6.4 .2 1.2 .2 6.6 .1-7.5 .2 10.1 .2-2.5 .2 .5 .2 2.2 .2-8.7 .1 .8 .2 1.7 .2 .9 .2-4.1 .2 7.2 .2 6.4 .1-12.1 .2 1.7 .2 .3 .2 2.3 .2 5.6 .2-3.8 .1-3.9 .2 .7 .2 2.4 .2 6.7 .2-8.1 .2-.3 .1-7 .2 10 .2 1.6 .2-5.4 .2 3.6 .2-4 .1 6.3 .2-8.1 .2 4.5 .2-5.2 .2 8.6 .2-4 .2 .8 .1-1.4 .2-2.2 .2 .9 .2 3 .2 1.2 .2 3.1 .1-9.3 .2 5.8 .2 3.4 .2-4.9 .2 .9 .2 6.4 .1-8.4 .2 .6 .2-2.3 .2 5.8 .2 2.1 .2 1.5 .1 1.4 .2-6.3 .2-8.5 .2 8.7 .2 3.2 .2-7.2 .1 8.4 .2-3.3 .2-.5 .2-3.5 .2 8.2 .2-8.7 .2 .4 .1 5.9 .2 1.8 .2-4.8 .2-2.1 .2 .6 .2 1.7 .1 1.5 .2-4.9 .2-6.5 .2 9.8 .2-5.4 .2 6.6 .1 0 .2-.9 .2-1.1 .2-9.3 .2 8.9 .2 4.2 .1-4.4 .2 3.2 .2-1.9 .2-3.8 .2-3 .2 3.1 .1 2.1 .2 1 .2-3.3 .2 3.3 .2-4.2 .2 4.3 .1 2.2 .2 0 .2 2.7 .2-5 .2 2.5 .2-5 .2 .5 .1 7.8 .2-2.4 .2 2.5 .2 4.3 .2-6.3 .2-9.4 .1 13.4 .2-9.4 .2-6.6 .2 5.8 .2-4.2 .2 9.5 .1-2.4 .2-6.5 .2 15.7 .2-10.8 .2 1.2 .2-2.9 .1 10.3 .2 .5 .2 .7 .2-6.3 .2-3.4 .2 7 .1-3.6 .2-7.9 .2 .9 .2 4.2 .2 .5 .2 3.7 .2-3.2 .1 4.3 .2-7.9 .2-6.4 .2 12.7 .2-3 .2 1.3 .1 5.5 .2-7 .2 1.4 .2-1 .2-1.7 .2-4.4 .1 3.8 .2 9 .2-3.3 .2-7.2 .2 8 .2-4.4 .1 1.2 .2-1.1 .2 1.5 .2-3.3 .2-7.7 .2 10.1 .1-2.2 .2 4.5 .2 8.2 .2-13.8 .2 5.5 .2-1.7 .1-2.2 .2-5.5 .2 12.1 .2-5.1 .2 .2 .2-.8 .2 1.7 .1 1.3 .2-3.4 .2-3.3 .2-1.8 .2 7.9 .2-.3 .1-4.2 .2 8.9 .2-1 .2-5 .2 .1 .2 1.1 .1 3.2 .2 1.5 .2-6.1 .2 1.6 .2 1.1 .2-4.5 .1-5.9 .2 5.3 .2 12.7 .2-5.4 .2-7.5 .2 5.2 .1-.9 .2-3.5 .2-1.7 .2-4 .2 8 .2 1 .1-.1 .2 6.2 .2-10.3 .2 1 .2-3.2 .2 5.4 .2 2.3 .1-1.5 .2-1.2 .2 .6 .2-5.2 .2 6.5 .2 .8 .1-1.2 .2 2.4 .2 .5 .2-6.4 .2 .2 .2-1.9 .1 5.5 .2-5.6 .2 6.3 .2-3.9 .2 8.6 .2-2.6 .1-2.6 .2-10.1 .2 7.2 .2 5.8 .2-2.3 .2-5.5 .1 1.1 .2 12.7 .2-8 .2 1.3 .2-4 .2 .2 .2 .6 .1 2.1 .2-11.2 .2 9.2 .2-2 .2-2.2 .2 0 .1-.2 .2-.6 .2 3.1 .2-8 .2 8.7 .2 4.5 .1-3.4 .2-1.5 .2-1.9 .2-1.7 .2 5.7 .2 3.1 .1-2.8 .2-2.9 .2 .9 .2-2.2 .2 5.7 .2-1.9 .1 1.4 .2-2.8 .2-1.5 .2-1.2 .2 1.4 .2 4.8 .1-5.4 .2-.7 .2 1.8 .2 3 .2 .4 .2 .9 .2-5.8 .1 .6 .2 1.2 .2-4.7 .2 2 .2 1.1 .2-5.2 .1 13 .2-4.7 .2-4.2 .2 5.4 .2-3 .2-1.6 .1 3.1 .2 2.8 .2-7.1 .2 8 .2-4.4 .2-1.7 .1-4.6 .2 10.8 .2-7.6 .2 .4 .2-8.2 .2 5.6 .1 1.5 .2 4.3 .2-2.1 .2-2.3 .2 8.9 .2-1.4 .1-3.6 .2 1.5 .2-3.5 .2 4.5 .2-7.5 .2 7.5 .2-1.6 .1-2.3 .2 2.9 .2-5.7 .2-2.9 .2 1.3 .2 4.1 .1-5 .2 3.9 .2 1.7 .2 .3 .2 2.6 .2-2.1 .1-3.2 .2-.6 .2 4.9 .2-9.1 .2 7.2 .2-3.4 .1 10.8 .2-10.3 .2 1.7 .2 3.6 .2-4.1 .2-4.4 .1 3.4 .2 .5 .2-2.4 .2 1.8 .2 1.9 .2-3.3 .2 3.5 .1 .4 .2-5.7 .2 11.1 .2-13.3 .2 6.4 .2-5.3 .1 4.5 .2 .8 .2 2.5 .2-1 .2-.2 .2 4.1 .1-4.3 .2-5.3 .2 1.5 .2 2.8 .2 2.9 .2 .5 .1-1.8 .2-8 .2 4.7 .2 2.3 .2 3.2 .2-7.8 .1 10.4 .2-.6 .2-2.1 .2-.8 .2 1.7 .2-5 .1-5.2 .2 4.5 .2 4.3 .2-1.1 .2-4 .2 3.7 .2-1.7 .1-5.7 .2 3.5 .2 9.5 .2-13.2 .2 13.1 .2-7.5 .1-2.4 .2 5.8 .2 3.9 .2-6 .2-.5 .2-6.5 .1 6.3 .2 .9 .2-1.1 .2 3.4 .2 1.5 .2-6.7 .1 0 .2 1.2 .2 3 .2-3.9 .2-8.4 .2 9.2 .1 .8 .2-1.7 .2-2.2 .2 3.1 .2 .9 .2-2.4 .1 .7 .2 5.7 .2-7.4 .2 .2 .2 3 .2 5.8 .2-5.3 .1 1.6 .2 .4 .2-4.5 .2-2 .2 2.3 .2 4.4 .1-7.6 .2 3.7 .2 7 .2-1.8 .2-7.3 .2 1.3 .1-5.6 .2 10 .2-.9 .2-8.2 .2 8.4 .2-5.1 .1-1.6 .2 9.2 .2-8.5 .2 12.6 .2-11.4 .2 4.7 .1 2.5 .2 3.6 .2-5.4 .2 2.6 .2-10.8 .2 3.9 .2-3.3 .1 10.4 .2-11.9 .2 5.4 .2 8.7 .2-4.1 .2-5 .1 3.1 .2 2.5 .2-11.8 .2 7.6 .2-2.1 .2-.4 .1 5.4 .2-4.1 .2 8 .2-5.6 .2-5.1 .2 1.1 .1 10.2 .2-5.8 .2 3 .2-3.1 .2 1 .2-6.5 .1-3.4 .2 7.2 .2 .4 .2-.7 .2 2.9 .2-1.9 .1 1.4 .2-3.5 .2 6.1 .2-2.2 .2 5.2 .2-6.7 .2-3.1 .1 5.3 .2 2.7 .2-5 .2-8.2 .2 6.6 .2 2.7 .1 0 .2-7.6 .2 7.9 .2-1.5 .2-7.1 .2 11.7 .1-9.5 .2 6 .2 6 .2-5.4 .2-3.7 .2 4.5 .1-8.4 .2 10.5 .2-7.6 .2 3.5 .2 4.7 .2 2 .1-7.6 .2 4.1 .2-2.3 .2-1.2 .2-5.6 .2 8.5 .2-3.1 .1-1.6 .2 8.4 .2-1.3 .2-5.4 .2-2.2 .2-5.1 .1 .9 .2 4.2 .2 .5 .2 .1 .2 2.9 .2-1.9 .1-3.3 .2 5 .2 1.4 .2-5.4 .2 1.8 .2-1.9 .1 .9 .2-3.5 .2 5.2 .2 4.5 .2-.3 .2 2.3 .1-.2 .2-7.5 .2 .6 .2-1.9 .2 3.8 .2 1.6 .1-1.1 .2 5.3 .2-3.9 .2 1 .2-7.9 .2 1.6 .2 2.4 .1-6.5 .2 8.9 .2-1.5 .2-8.3 .2 14.4 .2-13.7 .1 9.3 .2-.6 .2-6.1 .2-8 .2 10.7 .2 3.7 .1-5.9 .2 5.4 .2-1.2 .2 4.9 .2-4.5 .2-5 .1 3.2 .2 1.5 .2-.7 .2-1.2 .2-3.9 .2 9.4 .1 1.7 .2-9.7 .2 5.7 .2 3.2 .2-4.1 .2 .1 .1 .7 .2 3 .2-9.7 .2 10.1 .2-6.1 .2-6 .2 6.8 .1-1.7 .2 3.2 .2-1.3 .2 .3 .2-6.7 .2 9.3 .1-5.4 .2 7.3 .2-11 .2 4.3 .2 7.7 .2-3.2 .1-1.4 .2-.2 .2 1.6 .2-1.9 .2-4.3 .2 2 .1-7.1 .2 9.7 .2 1.7 .2-4.2 .2 4.9 .2 2.8 .1-12.9 .2 7.8 .2-.3 .2-4.2 .2-2.3 .2 3.9 .2 11.2 .1-6.6 .2-10.7 .2 14.8 .2-2.5 .2-6.6 .2 4 .1-9.7 .2 8.8 .2 2.6 .2-5.4 .2 .4 .2-2.8 .1 .8 .2 9.6 .2-7.7 .2 5.4 .2-8.4 .2 7.7 .1 3.9 .2-7.2 .2 2.6 .2 2.2 .2-7.4 .2-9.4 .1 15 .2 6.4 .2-5.8 .2-7.1 .2 5.7 .2-6.6 .1 9.2 .2-6.4 .2-.2 .2 8 .2-6.5 .2 3.3 .2 3.3 .1-9.1 .2 5.9 .2-7.9 .2 4.5 .2-.4 .2 3 .1-5.6 .2-1.2 .2-.5 .2 .7 .2 13.1 .2-10.5 .1 4.1 .2-2.2 .2-1.1 .2-1.3 .2 11.6 .2-13.1 .1 5.5 .2 0 .2-4.8 .2 2.7 .2 7.3 .2-7.5 .1-.6 .2 2.2 .2-2.2 .2 3.4 .2 1 .2-.4 .1-2.6 .2 2.5 .2-1.9 .2 .7 .2 1.2 .2-3 .2 .4 .1 8.2 .2-7.9 .2-2 .2 4.2 .2 2.6 .2 7.8 .1-14.8 .2 .9 .2 5 .2-7.8 .2 3 .2 .6 .1 2.9 .2-4.5 .2-.9 .2 4.3 .2 0 .2-4.3 .1 10.5 .2-15.3 .2 5.4 .2 .1 .2 5.1 .2-1.8 .1-3.1 .2-.8 .2 10.4 .2-6.2 .2-8.9 .2 6.7 .2-1.5 .1 2.9 .2 1.6 .2 .8 .2 .2 .2-1.2 .2-2.4 .1 3 .2-4.1 .2 7.8 .2-10 .2 .5 .2 3.3 .1-.7 .2-.4 .2 2.4 .2 4.9 .2 .9 .2-6.5 .1 .2 .2-6.6 .2 8.9 .2-.2 .2-4 .2 1.7 .1-7.8 .2 10.2 .2-8.8 .2 18.1 .2-9.5 .2-6.7 .1 6.8 .2-6 .2 2.8 .2 1.7 .2 3.4 .2-12 .2 6.7 .1 1.8 .2-3.4 .2 2.7 .2 .8 .2-2.8 .2-3.8 .1 2.2 .2 .2 .2 10.6 .2-11 .2-2 .2 1 .1 1.4 .2 5.6 .2-2.1 .2 1.9 .2-3.3 .2-1.1 .1 5.4 .2 1.8 .2-3.8 .2-.4 .2 .8 .2-1.3 .1 2.3 .2-4.8 .2 2.4 .2 3.9 .2-7.2 .2 4.3 .2-1.1 .1 1.1 .2-8.2 .2 5.7 .2 3.3 .2-2.7 .2 1.5 .1 4.7 .2-5.1 .2 .6 .2-7.7 .2 5 .2 10.7 .1-3.9 .2 3.9 .2-14.5 .2 2.7 .2 4.3 .2 .5 .1 4.7 .2-7.5 .2 4 .2-1.3 .2-2 .2 1 .1-1.2 .2-4.5 .2 4.2 .2 5 .2-5.4 .2 9.8 .1-8.4 .2 4.8 .2-2.6 .2 3.7 .2-7.4 .2 4.8 .2-7.8 .1-.6 .2 5.8 .2-5.1 .2 1.7 .2-.6 .2 3.2 .1 1.2 .2-.5 .2 5.1 .2-4.8 .2-.8 .2-2.2 .1 3 .2-5.2 .2 3.3 .2 3.6 .2-8.6 .2 6.3 .1-4.1 .2 3.9 .2-7.2 .2 10.1 .2 1.9 .2-9.7 .1 5.2 .2 1.2 .2-3.9 .2 2.4 .2 .8 .2-6.3 .1 3.5 .2-4.7 .2 10.1 .2-8.8 .2 4.5 .2 1 .2 6.6 .1-8.7 .2 .9 .2 2.7 .2 3.3 .2 3 .2-13.9 .1 1.6 .2 9.7 .2-3.7 .2-9.4 .2 9.2 .2-4.4 .1-3.6 .2 6 .2 1.2 .2-3.2 .2-.2 .2-3.6 .1 4.1 .2 4.3 .2 .5 .2-4.9 .2 7 .2-3.7 .1 4.7 .2-1.3 .2-8.7 .2 3.6 .2 .8 .2 .5 .2 .8 .1-5.1 .2-1 .2 5.3 .2-3 .2 3 .2-4.4 .1 2.5 .2-1.2 .2 6.5 .2-1.8 .2-7.1 .2 1.8 .1 3.4 .2-2.7 .2 2.7 .2-6.8 .2 6.2 .2 2.1 .1 1.6 .2 0 .2-1.6 .2 .9 .2-12.9 .2 9.9 .1 2.4 .2-8.3 .2-.4 .2 1.3 .2 .9 .2 .3 .1-1.1 .2 7.8 .2-3.6 .2 5.3" stroke="#f00" stroke-width="1.0"/>
</g>
<path d="M44.0 198.9v-3M44.0 23.5v3M84.8 198.9v-3M84.8 23.5v3M125.7 198.9v-3M125.7 23.5v3M166.5 198.9v-3M166.5 23.5v3M207.4 198.9v-3M207.4 23.5v3M248.2 198.9v-3M248.2 23.5v3M289.1 198.9v-3M289.1 23.5v3M329.9 198.9v-3M329.9 23.5v3M44.0 198.9h3M338.1 198.9h-3M44.0 163.8h3M338.1 163.8h-3M44.0 128.7h3M338.1 128.7h-3M44.0 93.7h3M338.1 93.7h-3M44.0 58.6h3M338.1 58.6h-3M44.0 23.5h3M338.1 23.5h-3" stroke="#222" stroke-width=".8" fill="none"/>
<rect x="44.0" y="23.5" width="294.1" height="175.4" fill="none" stroke="#333" stroke-width="1.1"/>
<g fill="#222"><text x="44.0" y="207.8" font-size="8.6" text-anchor="middle" textLength="4.18" lengthAdjust="spacingAndGlyphs">0</text><text x="84.8" y="207.8" font-size="8.6" text-anchor="middle" textLength="8.36" lengthAdjust="spacingAndGlyphs">10</text><text x="125.7" y="207.8" font-size="8.6" text-anchor="middle" textLength="8.36" lengthAdjust="spacingAndGlyphs">20</text><text x="166.5" y="207.8" font-size="8.6" text-anchor="middle" textLength="8.36" lengthAdjust="spacingAndGlyphs">30</text><text x="207.4" y="207.8" font-size="8.6" text-anchor="middle" textLength="8.36" lengthAdjust="spacingAndGlyphs">40</text><text x="248.2" y="207.8" font-size="8.6" text-anchor="middle" textLength="8.36" lengthAdjust="spacingAndGlyphs">50</text><text x="289.1" y="207.8" font-size="8.6" text-anchor="middle" textLength="8.36" lengthAdjust="spacingAndGlyphs">60</text><text x="329.9" y="207.8" font-size="8.6" text-anchor="middle" textLength="8.36" lengthAdjust="spacingAndGlyphs">70</text><text x="41.1" y="201.0" font-size="8.6" text-anchor="end" textLength="8.36" lengthAdjust="spacingAndGlyphs">40</text><text x="41.1" y="165.9" font-size="8.6" text-anchor="end" textLength="8.36" lengthAdjust="spacingAndGlyphs">42</text><text x="41.1" y="130.8" font-size="8.6" text-anchor="end" textLength="8.36" lengthAdjust="spacingAndGlyphs">44</text><text x="41.1" y="95.8" font-size="8.6" text-anchor="end" textLength="8.36" lengthAdjust="spacingAndGlyphs">46</text><text x="41.1" y="60.7" font-size="8.6" text-anchor="end" textLength="8.36" lengthAdjust="spacingAndGlyphs">48</text><text x="41.1" y="25.6" font-size="8.6" text-anchor="end" textLength="8.36" lengthAdjust="spacingAndGlyphs">50</text></g>
<text x="191.1" y="219.5" font-size="8.2" text-anchor="middle" textLength="59.8" lengthAdjust="spacingAndGlyphs" fill="#222">Time (unit: hour)</text>
<text x="191.1" y="18.1" font-size="9.4" text-anchor="middle" fill="#222">(a)</text>
<text transform="translate(28.0,111.2) rotate(-90)" x="0" y="0" font-size="8.6" text-anchor="middle" fill="#222" textLength="96.7" lengthAdjust="spacingAndGlyphs">Reactor Feed (unit: kscmh)</text>
<rect x="211.7" y="27.8" width="122" height="50.0" fill="#fff" fill-opacity=".7" stroke="#222" stroke-width="1.1"/>
<path d="M218.4 35.4H230.8" stroke="#000" stroke-width=".9"/>
<text x="239.1" y="38.9" font-size="9.5" textLength="35.8" lengthAdjust="spacingAndGlyphs" fill="#1a1a1a">baseline</text>
<path d="M218.4 49.7H230.8" stroke="#00f" stroke-width=".8" stroke-dasharray="4.8 3" stroke-opacity=".75"/>
<text x="240.9" y="52.5" font-size="9.2" style="font-family:'Liberation Serif',serif;font-style:italic" fill="#222">P</text>
<text x="245.6" y="54.4" font-size="7" style="font-family:'Liberation Serif',serif;font-style:italic" fill="#555" textLength="14.3" lengthAdjust="spacingAndGlyphs">c,GE</text>
<text x="262.0" y="52.5" font-size="9.5" textLength="67.6" lengthAdjust="spacingAndGlyphs" fill="#1a1a1a">= 0.6, q = 0.09</text>
<path d="M218.4 67.1H230.8" stroke="#f00" stroke-width=".8" stroke-dasharray="4.8 3" stroke-opacity=".75"/>
<text x="240.9" y="69.8" font-size="9.2" style="font-family:'Liberation Serif',serif;font-style:italic" fill="#222">P</text>
<text x="245.6" y="71.7" font-size="7" style="font-family:'Liberation Serif',serif;font-style:italic" fill="#555" textLength="14.3" lengthAdjust="spacingAndGlyphs">c,GE</text>
<text x="262.0" y="69.8" font-size="9.5" textLength="61.5" lengthAdjust="spacingAndGlyphs" fill="#1a1a1a">= 0.6, q = 0.2</text>
<path d="M437.5 23.5V198.9M478.5 23.5V198.9M519.5 23.5V198.9M559.5 23.5V198.9M600.5 23.5V198.9M641.5 23.5V198.9M682.5 23.5V198.9M396.5 187.5H690.6M396.5 163.5H690.6M396.5 140.5H690.6M396.5 117.5H690.6M396.5 93.5H690.6M396.5 70.5H690.6M396.5 46.5H690.6" stroke="#000" stroke-opacity=".33" stroke-width=".8" stroke-dasharray="1 2" fill="none"/>
<g clip-path="url(#cb)" fill="none">
<path d="M396.5 107.8l.4-2.1 .4-3.4 .4 .8 .4-4.9 .4-2.1 .5-1.4 .4-1.3 .4-1.1 .4 0 .4-3.5 .4 1.9 .4-4.3 .4 .8 .4 .1 .4 1.1 .4-1.3 .4-2.2 .5 .7 .4 .7 .4-.4 .4 .1 .4-.4 .4 .7 .4 .1 .4 .9 .4-2.4 .4 1.9 .4-1.3 .4 1.9 .5 1.2 .4-3.3 .4-.4 .4 1.1 .4-1.1 .4-1.2 .4 1.3 .4-1.8 .4 1.8 .4-.7 .4-.4 .4 .3 .5 .3 .4-1.6 .4-.1 .4 1.3 .4-.7 .4-.1 .4-.8 .4 1 .4-.3 .4 .8 .4-.9 .4-.9 .5 2.3 .4-4 .4 2.1 .4-.1 .4 1.2 .4-.9 .4 2.5 .4-2.4 .4-.8 .4 1.9 .4-.8 .5 3.7 .4-1.4 .4-2.3 .4 .7 .4 1 .4-1.4 .4 1.4 .4 0 .4 1.4 .4-1.6 .4 .9 .4-1.3 .5-.3 .4 3.1 .4-3.1 .4 3.3 .4 .1 .4-.4 .4-.8 .4 1.3 .4-1 .4 .9 .4-1.7 .4 1.7 .5-1.4 .4 2.2 .4 .1 .4-2.5 .4-.6 .4 2 .4 2.1 .4 1 .4 2.3 .4 2 .4 2.1 .4 4.5 .5 .7 .4 4.5 .4 1.3 .4 5.9 .4 1.1 .4 .4 .4 3.7 .4 4.5 .4-1.9 .4 2.4 .4 .5 .4 4.3 .5-1.7 .4 2.7 .4 2.1 .4 .7 .4-5.3 .4 1.4 .4 2.9 .4 2.5 .4-4.3 .4 2.8 .4-3 .5 1.1 .4 .7 .4 4 .4-.5 .4-1.2 .4 .6 .4 .4 .4 .5 .4-1.2 .4 2.3 .4-1 .4-1.3 .5 .1 .4 1 .4 1.2 .4-.8 .4-3.6 .4 3.4 .4-2.9 .4 3.5 .4-2.7 .4-1.3 .4-2.3 .4-.9 .5 2.2 .4 1.5 .4-1.7 .4-3.1 .4 .4 .4-3.1 .4 .4 .4 .2 .4-.1 .4-2.5 .4-.1 .4-2.9 .5-1.5 .4 1 .4-.6 .4-2.1 .4 .7 .4-1.5 .4 1.2 .4-.1 .4-3.4 .4 3.4 .4 .5 .4-2.5 .5 1.3 .4-2.9 .4 .2 .4 .3 .4-1.2 .4-.4 .4-2.9 .4 2.1 .4 .3 .4-3.3 .4 .3 .5 3.3 .4-2.9 .4-3.6 .4 .4 .4 .9 .4 .6 .4-2.5 .4 1.5 .4-1.9 .4 .5 .4 .9 .4-3.9 .5 .5 .4-1.5 .4 1.5 .4-1.4 .4-1.8 .4 2.6 .4-.1 .4-2.2 .4 1.3 .4-2.7 .4-.1 .4 .8 .5 .7 .4-3.8 .4 .2 .4-1.4 .4 1.8 .4-2.3 .4 2.6 .4-2.9 .4 1.9 .4-4.5 .4 .8 .4-.6 .5 .5 .4 0 .4-1.1 .4 .3 .4-.5 .4 .3 .4 .3 .4 1.6 .4 1.7 .4-3 .4 .6 .4 .1 .5 1.2 .4-.5 .4-.2 .4-.3 .4-2.1 .4 .1 .4 .9 .4 3.3 .4-1.6 .4-1.1 .4 2.1 .5 1.4 .4-2.3 .4 1.3 .4 4.2 .4-3.6 .4 .9 .4-2.1 .4 3.4 .4 0 .4-1 .4 1.7 .4 3.3 .5-4.8 .4 .2 .4 3.3 .4-2.9 .4 3.3 .4-.2 .4 0 .4-1.2 .4 2.5 .4-.1 .4-1.1 .4 1.3 .5 2.9 .4-2 .4 2.8 .4-2.3 .4 .6 .4-.9 .4 1.4 .4 1.2 .4-3 .4-.7 .4 2.2 .4 0 .5 1 .4 .7 .4 .7 .4 1 .4 1 .4-2 .4-.7 .4 3.2 .4-.8 .4-.8 .4 .4 .4 3.4 .5-3.7 .4 1.5 .4 2.1 .4-4.3 .4 1.1 .4 2.7 .4-3.4 .4 2.1 .4 1.5 .4-3.6 .4 3 .5 0 .4-.3 .4 0 .4 .5 .4-3.3 .4 0 .4 2.9 .4-2.4 .4 1.2 .4-.4 .4 4 .4-4 .5 .3 .4-1.6 .4 3.7 .4 .3 .4-3.6 .4 1 .4 1.4 .4-1.2 .4-.7 .4 2.7 .4 .9 .4-4.4 .5 2.9 .4 .6 .4-3.1 .4 1.4 .4-.7 .4 .3 .4 0 .4 1.6 .4-1.2 .4 .8 .4-3.2 .4 1.3 .5 1.2 .4-.9 .4 1.4 .4 1.4 .4-3.8 .4 1.8 .4-2.9 .4 3.2 .4-1.5 .4 1.8 .4 2.4 .4-5.4 .5 6.3 .4-3 .4-.5 .4 .9 .4-.9 .4 .3 .4-1.7 .4 1.7 .4-2.1 .4-.8 .4 3.2 .4-3.4 .5 .8 .4 1.7 .4-1.4 .4 .3 .4-.1 .4 1.9 .4-.9 .4-.9 .4-.4 .4 .3 .4 .3 .5-1.3 .4 3.5 .4-1.3 .4-.2 .4-.1 .4 .4 .4-2.7 .4 2.2 .4-4.5 .4 8.5 .4-3.7 .4-2.4 .5 .7 .4-.5 .4 2.1 .4-2.2 .4 .2 .4 1.6 .4-3.4 .4 4 .4-3.9 .4 1.5 .4 1.7 .4 .4 .5-1.3 .4 1.6 .4-.6 .4-1.5 .4 2.3 .4-2.6 .4-1.9 .4 2.6 .4 1.2 .4-3.8 .4 3.3 .4-4.6 .5 4.2 .4 .9 .4-.7 .4-1.4 .4-.7 .4-.1 .4 1.1 .4 .6 .4-1.6 .4 2.1 .4-2.8 .4 .8 .5-.9 .4 .2 .4 2.8 .4 2.1 .4-5.3 .4 2.7 .4 2 .4-2 .4-2.4 .4 2.1 .4-.5 .5-.9 .4-.4 .4 4.6 .4-.8 .4-3.6 .4-1.2 .4 4.3 .4-.6 .4-.9 .4 .3 .4-2.6 .4 3.9 .5-1.8 .4-.7 .4-1.5 .4 1.5 .4 .2 .4-2.6 .4-2 .4 4 .4 .3 .4-.5 .4 .7 .4-.4 .5-.9 .4-.3 .4 .8 .4-.6 .4-1.5 .4 2.2 .4 2 .4-4 .4 2.5 .4-1.6 .4 .3 .4 1.4 .5 3 .4-1 .4-1.1 .4 .3 .4-2.9 .4-.2 .4 2 .4-.3 .4 1.1 .4-.4 .4 1.1 .4-3.3 .5 2 .4 1.6 .4-4.5 .4 4.2 .4-2 .4 1.9 .4-1.6 .4 .1 .4 2.7 .4-5.5 .4 2.4 .5 3.9 .4-.3 .4-2.7 .4-.4 .4-.2 .4 .7 .4-.3 .4-.1 .4 2.4 .4-1.7 .4-.1 .4-.3 .5-.4 .4-2.3 .4 1.2 .4-.7 .4 2.8 .4 .4 .4 0 .4 .1 .4 2 .4-2.8 .4 .9 .4-.9 .5 1.4 .4-3.1 .4 3 .4 .5 .4-1 .4-1.7 .4 3.8 .4-2.4 .4-.5 .4 .7 .4 2.4 .4-3.6 .5 1.9 .4-1.1 .4 1.6 .4-.5 .4-1.2 .4-.4 .4 .6 .4 .7 .4-.7 .4 .4 .4-1.6 .4 2.7 .5-.3 .4-2.8 .4 2.9 .4-2.5 .4 4.1 .4-2.4 .4-1.2 .4 2.6 .4-.2 .4-2.8 .4-.2 .5-2.3 .4 3.3 .4-1.1 .4 .4 .4 .2 .4-1.6 .4 3.6 .4-1.4 .4-1.2 .4 1.7 .4 2 .4-2.3 .5 2.2 .4-4.8 .4 1.3 .4 1.7 .4 .4 .4 1.9 .4-.6 .4-1.7 .4-3.7 .4 2 .4-.8 .4 2.5 .5-1.5 .4-.3 .4 1.2 .4 .9 .4 .6 .4-1.8 .4 2.5 .4-3.2 .4-1 .4 2.7 .4-1.3 .4-.8 .5 1.2 .4 1.5 .4-2.4 .4 2.4 .4-3.3 .4 3.6 .4-3.7 .4 1.8 .4 2.6 .4-2 .4-2.8 .4-.5 .5 2.7 .4 1.3 .4-1.1 .4-.1 .4-.8 .4 1.2 .4 0 .4-.6 .4 .2 .4 1 .4 0 .5-3.3 .4 .8 .4 2.4 .4-2.5 .4 .6 .4 4.5 .4-.4 .4-3.8 .4 .7 .4 2.1 .4-2.2 .4 .3 .5-2.2 .4 1.6 .4 1.2 .4-.5 .4 1.4 .4-2.7 .4-.8 .4 1.7 .4 1.5 .4-2.3 .4 3.2 .4-1 .5-2.4 .4-.2 .4 .7 .4 .5 .4 1.8 .4-1.5 .4-.1 .4 1.4 .4 2.2 .4-.6 .4-3.3 .4-.6 .5-.1 .4 2 .4-.6 .4-1.7 .4 .4 .4 2.4 .4-.5 .4 1.6 .4-1.5 .4-1.5 .4 .7 .4 .7 .5 .6 .4-3.6 .4 4.8 .4-2.2 .4 .9 .4 1.5 .4-1 .4-.5 .4-2 .4 0 .4 5.4 .5-4.7 .4-2.9 .4 3.9 .4 2.9 .4-2.3 .4 1 .4-2.4 .4 .1 .4 1.8 .4-2.4 .4-1 .4 .7 .5-.8 .4 .8 .4 1.7 .4-3.3 .4 2.7 .4 0 .4-3.1 .4 3.7 .4-.7 .4-2.4 .4 1.1 .4 2.9 .5-.9 .4-4.4 .4 2.2 .4 1 .4 .8 .4 .8 .4 .5 .4-3.1 .4 1.4 .4 1 .4-3.4 .4 2.1 .5 .5 .4-2.6 .4 1.4 .4 3.2 .4-2.4 .4-2.9 .4 .2 .4 1.6 .4 2 .4-2.3 .4 2.5 .4-1.9 .5 .5 .4-2.2 .4 2.4 .4-.2 .4 .4 .4 .9" stroke="#000" stroke-width="0.8"/>
<path d="M396.5 100.7l.2-.9 .2 .7 .2-2.5 .1 17.6 .2 0 .2-14 .2-16.6 .2 8.7 .2-14.7 .1 11.3 .2-5.2 .2-1.1 .2 3.5 .2 2.4 .2 11 .1 18.6 .2 7.2 .2-23.8 .2-17.1 .2-6.4 .2 5.6 .1 8.9 .2 1.7 .2-.6 .2-7.8 .2-2.1 .2 3.4 .1 4 .2 8.1 .2 8.5 .2-9.1 .2 8.2 .2-9.3 .1 10 .2-19.4 .2 1.3 .2 4.4 .2 4.6 .2-13 .2 16 .1-5.9 .2 10 .2 2.9 .2 2.4 .2 12.9 .2-5 .1 0 .2 7.2 .2 14.3 .2-8.9 .2 4.8 .2-15.2 .1-3.3 .2 8.8 .2-1.6 .2 1.2 .2-10.4 .2 17.7 .1-6.4 .2 3.6 .2-6.3 .2-3 .2 25.2 .2-9.2 .1-10.2 .2 2.3 .2 0 .2-19 .2 12.2 .2-5.3 .2-8.6 .1 4.6 .2 1.6 .2-3.2 .2 10.7 .2 5.5 .2-22.2 .1 3.6 .2-21.4 .2-4.3 .2 3.2 .2-3.8 .2 14.2 .1-3 .2 .4 .2-12.9 .2 1.4 .2 13.4 .2-1.7 .1-13.5 .2 17.5 .2 2.8 .2-17.4 .2-5.6 .2-14.5 .1 35.4 .2-4.7 .2-23 .2 7.8 .2 4.2 .2 4.6 .1 8.1 .2-9.8 .2 24.5 .2-7.8 .2-1.8 .2-14.1 .2 10.5 .1-3.1 .2 2.1 .2 7.2 .2-16 .2 3.2 .2 4.6 .1 .9 .2-1.3 .2-19.5 .2 23.4 .2 2.5 .2 10.8 .1-8.8 .2-6.7 .2-20.8 .2 12.9 .2-9.1 .2 1.2 .1 .7 .2 6.5 .2 2.5 .2-6 .2 10.2 .2 1.8 .1 12.2 .2-1.4 .2-4 .2 1.1 .2 9.8 .2-3.5 .1-12.6 .2-1.8 .2 19.9 .2 2.8 .2-5 .2-19.4 .2-.1 .1 30.3 .2 6.2 .2-32.4 .2 10.5 .2-4.5 .2-6 .1 39.9 .2 17.9 .2-9.4 .2-24.6 .2-19 .2 32.5 .1-5 .2 12.8 .2 .5 .2 10.4 .2 27.8 .2 26.2 .1-18.5 .2-33.2 .2 13.1 .2-16.5 .2-23.5 .2-13.1 .1 30.1 .2 13.7 .2 40.8 .2-2.6 .2-13.1 .2 8.5 .2-12.5 .1 6.5 .2-10.1 .2 5.1 .2-14.2 .2 23.6 .2-20.2 .1-32.3 .2 19.5 .2 .2 .2-20.6 .2 25.2 .2-33.4 .1 17 .2-16.3 .2 5.4 .2-22 .2 40.5 .2-47.1 .1 .4 .2-31.7 .2 11.4 .2 9.5 .2 22.6 .2-17.9 .1 2.7 .2-7.9 .2-5.9 .2-7 .2 35.4 .2 7.3 .1-12.4 .2 .7 .2 17.5 .2-9.2 .2 12.9 .2 10.6 .2 9 .1 15.1 .2-5.7 .2-13.9 .2 1.6 .2 39.4 .2-37.6 .1 35.5 .2-34 .2-10.6 .2 14.5 .2 1.3 .2 .1 .1 3.6 .2 1 .2-5.8 .2 31.6 .2-32.3 .2 35.3 .1 .7 .2 2.6 .2-24.5 .2 25 .2-22.8 .2-5.8 .1-42.6 .2-4.7 .2 35.7 .2-4.8 .2 10 .2 20.2 .2-43.1 .1 12 .2-1.9 .2-5.7 .2-41.1 .2 32 .2 22.7 .1 49 .2 0 .2 0 .2 0 .2 0 .2 0 .1-15 .2-32.8 .2-44.1 .2 18.6 .2 25.4 .2 32.4 .1-15.8 .2 14.7 .2 16.6 .2-16.2 .2-14 .2 9.9 .1-1.9 .2-4.4 .2 21.8 .2 4.8 .2 0 .2 0 .1 0 .2-35.5 .2-42.7 .2 24.4 .2 8.9 .2 21.4 .2-21.6 .1-29 .2 1.9 .2 2.9 .2 21.3 .2 4.9 .2 4.8 .1-1.7 .2-42.3 .2-16.2 .2 21.5 .2 6.4 .2 16.4 .1 5.6 .2 23.4 .2-2 .2-5.8 .2 3.1 .2-30.8 .1 3.9 .2 15.7 .2-9.5 .2-3.8 .2 11.6 .2-7.5 .1 .6 .2 12.5 .2-3.1 .2 24.6 .2-19.9 .2-30.7 .1 44.7 .2-25.1 .2-8.6 .2 14.1 .2-21.1 .2-24.8 .2 20 .1-32.3 .2 22.5 .2-45.8 .2 30.7 .2 3 .2 5.1 .1 35.9 .2-47.4 .2-4.4 .2 8 .2 22.5 .2 7.4 .1 25.3 .2-23 .2-2.2 .2 23.1 .2 38.7 .2 0 .1-32.7 .2-.3 .2-16.6 .2 19.6 .2-33.7 .2 31 .1-2.1 .2-18.4 .2-23.5 .2 6.7 .2 26.8 .2 19.3 .2 14.4 .1-31.5 .2-11.9 .2 19.5 .2-82.1 .2 45.9 .2-2.1 .1 69 .2-33.9 .2-9.5 .2 18.3 .2-18.9 .2-14.1 .1 7.9 .2-3.3 .2 17 .2-25.6 .2 10.8 .2 28.7 .1-44 .2-26.5 .2 15.2 .2 39.5 .2 9.7 .2-28.9 .1 21.4 .2 33.7 .2-25.2 .2-26.9 .2 1.3 .2-6.3 .1 30.9 .2-21.6 .2-21.4 .2 16.5 .2 28.7 .2-35.7 .2-51.2 .1-10.8 .2 66.6 .2 30.7 .2-17.4 .2-17.6 .2 9.7 .1 5.3 .2 25.4 .2-11.7 .2-15 .2 5.7 .2-49 .1-3.1 .2 14.7 .2 16.2 .2 16.3 .2 4.3 .2-34.5 .1 19.7 .2-21.6 .2-13.2 .2 11.2 .2 7.2 .2-2.8 .1 14.3 .2-5.8 .2 19.1 .2-17.7 .2-3.9 .2-8.2 .1 27 .2 5.7 .2 5.1 .2-3.7 .2-31.2 .2 24.7 .2 26.6 .1 24.7 .2-35.6 .2-24.6 .2 38.1 .2-27.4 .2-19.4 .1-22.4 .2-21.4 .2-19.8 .2 41.9 .2 22.7 .2 11.3 .1-27.7 .2-8.7 .2-12.6 .2-21.7 .2 39.3 .2-20.4 .1 3 .2 12.2 .2 12.1 .2 11.4 .2 29.9 .2 17.7 .1 8.7 .2-11.8 .2-39 .2 11 .2-24.4 .2 21.1 .2-7.8 .1 6.8 .2 9.4 .2-20.7 .2 30.4 .2-24.3 .2 4.1 .1 8.1 .2 3.4 .2 12.4 .2-28.8 .2-.2 .2 21.6 .1 14.5 .2-1.1 .2-48.3 .2 16.6 .2 11.7 .2-27.1 .1-23.3 .2 46.1 .2-16.9 .2-1.1 .2-6.1 .2-20.8 .1 6.7 .2-25.1 .2 23.8 .2 13.7 .2 5.2 .2-30.3 .1 28.5 .2 29.8 .2-18.5 .2 5.3 .2 5.4 .2 38.5 .2-5.6 .1-33.1 .2-32.1 .2 16.3 .2 4.7 .2 18.3 .2 33.4 .1-19.8 .2 35.9 .2 0 .2-44.5 .2 1.8 .2 42.7 .1 0 .2-23.5 .2 13.5 .2-49.3 .2-46.4 .2-3 .1 .7 .2 14.4 .2 2.7 .2 10.8 .2-5.6 .2 1.5 .1-22.3 .2 30.8 .2 7.5 .2 13.5 .2-24.7 .2 20.6 .2 0 .1-7.3 .2 4.4 .2-6.4 .2 23.6 .2-10.9 .2-18 .1-14.9 .2 27.7 .2-12.3 .2 .6 .2 6.8 .2 11.6 .1-7.3 .2-34.7 .2 33 .2 3.4 .2 36.8 .2-22.9 .1 11.1 .2 16.3 .2-16.5 .2-15.7 .2-7.6 .2-41.2 .1 30.9 .2 19 .2-24.3 .2-3.4 .2 21.6 .2 28.9 .1-28.8 .2 34.4 .2-4.5 .2-16.3 .2-8.3 .2 18.2 .2-69.4 .1 19.2 .2 5.9 .2-3.7 .2 5 .2 5.2 .2-1.9 .1 17.3 .2 26.9 .2-9.3 .2-3.8 .2 14.2 .2-13.6 .1-27 .2-1.1 .2-3.6 .2 30 .2 .1 .2-15.6 .1 3.6 .2-22.8 .2 21.4 .2-21.3 .2-6 .2 38.1 .1-1.2 .2-13 .2-21.7 .2-17.8 .2-15 .2 29 .1 29.7 .2 14.1 .2 1.4 .2-3.6 .2-17.8 .2 29.5" stroke="#00f" stroke-width="1.0" stroke-dasharray="4.8 3"/>
<path d="M400.5 93.9L400.7 70.3M413.6 85.5L413.7 66.8M432.9 100.2L433.0 70.3M446.3 205.8L446.5 63.3M462.7 163.9L462.8 86.6M476.1 116.9L476.2 98.3M492.1 131.2L492.2 97.2M498.7 168.9L498.8 93.7M408.8 130.7L409.0 145.1M428.3 200.9L428.4 198.9M436.9 193.0L437.1 198.9M443.6 210.6L443.7 198.9M451.6 153.8L451.8 198.9M487.7 161.1L487.8 198.9M504.8 126.9L504.9 198.9" stroke="#00f" stroke-width="1.2" stroke-dasharray="4.8 3"/>
<path d="M396.5 106.4l1-3.8 1-6.4 1.1-4.1 1-3.3 1-1.3 1-1.8 1-.1 1.1-.7 1 0 1 .3 1-.2 1.1 .1 1-.2 1-.7 1-.1 1-.7 1.1 .2 1-1.3 1 .4 1-1.1 1 .2 1.1 .1 1 .2 1 .8 1-.1 1.1 .8 1-.2 1 .7 1 .2 1 .3 1.1 .1 1 0 1 .9 1-.2 1 .6 1.1 .2 1-.3 1 2.7 1 4.1 1 6.3 1.1 7.3 1 8.1 1 5.6 1 3.2 1.1 3.2 1 3 1 .9 1 1.1 1 0 1.1 .3 1 .8 1 .2 1 1.2 1 .2 1.1 .2 1-1.1 1-.7 1-1 1-2.3 1.1-2 1-2 1-2.4 1-2.5 1.1-1.4 1-1.9 1-1.5 1-1 1-.8 1.1-.8 1-1.6 1-.8 1-1 1-1.6 1.1-.7 1-1.5 1-1.6 1-.9 1.1-1.9 1-1.1 1-.7 1-1.3 1-1.7 1.1-.4 1-1.6 1-1 1-1.8 1-.7 1.1-.9 1 .6 1-.2 1 .3 1-.8 1.1 .5 1 1.1 1 .9 1 .3 1.1 .9 1 .3 1 .4 1 1.5 1 .2 1.1 1.5 1-1 1 2.1 1-.1 1 .7 1.1 1.2 1 1.1 1 .9 1 .1 1.1 1.6 1 .4 1 .3 1 1.4 1 .3 1.1 .1 1 0 1 0 1 .5 1-.4 1.1 .6 1-.4 1 .2 1-.2 1 .2 1.1 0 1 .2 1 .1 1-.2 1.1 .7 1-.6 1-.4 1 0 1 .4 1.1 .2 1-.3 1-1 1 .6 1 .5 1.1-.5 1 .4 1-.9 1-.2 1 .3 1.1-.1 1 .3 1-.6 1-.2 1.1 .6 1-.6 1 .2 1 .1 1-.1 1.1-.3 1-.3 1-.1 1 .4 1 .6 1.1-.8 1 .7 1-1.3 1 0 1.1 .4 1-.2 1 0 1-.1 1 .4 1.1-1.6 1 1.4 1-1 1 .1 1-.8 1.1 1.1 1 .1 1-.6 1 .3 1-.6 1.1 .8 1-.2 1-.4 1-.7 1.1 .9 1-.2 1 .8 1-.5 1 .5 1.1-.4 1 .1 1-.1 1 .3 1-.3 1.1-.1 1 .6 1-.2 1 0 1.1-.1 1 .7 1-.8 1 .8 1-.1 1.1-.2 1 .2 1 0 1-.1 1 0 1.1 .2 1 .2 1 .3 1-.3 1 .2 1.1-.3 1-.1 1 .5 1-.7 1.1 .3 1-.6 1 1 1 0 1-.2 1.1 .3 1 0 1-.6 1 .2 1-.4 1.1 .3 1 0 1-.3 1-.1 1.1 .2 1 0 1-.3 1 .5 1 .2 1.1-.1 1-.5 1 0 1-.1 1 .2 1.1-.2 1 .1 1-.1 1 0 1 .2 1.1 .4 1-.3 1 0 1 .2 1.1 0 1 .5 1-.7 1 .4 1 .1 1.1-.7 1 .9 1-.3 1 .6 1-.7 1.1 .2 1-.1 1 .1 1-.1 1-.1 1.1 .4 1-.5 1 .3 1-.3 1.1 0 1-.4 1 .6 1 .1 1 0 1.1 .1 1-.1 1 .2 1-.5 1-.3 1.1 .5 1 .1 1-.2 1-.9 1.1 .4 1 .5 1-1 1 .4 1 .1 1.1-.4 1 .6 1 .2 0 2.3-1-.4-1 .3-1.1 .3-1 .1-1 0-1-.1-1 .1-1.1-.8-1 .9-1-.5-1 .8-1.1-.9-1 .6-1-.3-1 .1-1 .4-1.1-.5-1 .2-1 .5-1-.5-1-.2-1.1 .7-1-.4-1-.4-1 1-1.1-.3-1-.3-1-.3-1 .5-1 .1-1.1-.3-1 .1-1 .2-1-.2-1 .5-1.1-1-1 .1-1 .4-1 0-1-.8-1.1 .4-1 .5-1-.5-1-.1-1.1-.3-1 .5-1 .1-1 .1-1-1.2-1.1 .9-1 .1-1-.5-1 .4-1 .1-1.1-.2-1-.2-1 .6-1-.2-1 0-1.1 .6-1 0-1-.7-1-.1-1.1 .6-1-.3-1 .2-1 .2-1-.5-1.1 .5-1-.2-1-.1-1-.1-1-.2-1.1-.1-1 .3-1 .2-1-.3-1.1 .5-1-.8-1 .3-1 .4-1-.4-1.1 .1-1-.1-1 .1-1 .1-1-.1-1.1 0-1-.4-1 .1-1 .1-1-1.2-1.1 .3-1 .9-1-.4-1-.1-1.1-.3-1 .1-1-.3-1 .8-1-.4-1.1 .2-1-.9-1 .6-1-.5-1-.2-1.1-.2-1 .9-1-.4-1 .4-1.1-.5-1 0-1 .3-1-.2-1 .3-1.1 .3-1 .4-1-.2-1 0-1 .2-1.1-.2-1-.1-1 .2-1-.4-1 0-1.1 .6-1 .5-1-.3-1-.4-1.1 .6-1 .3-1-.4-1-.6-1 .7-1.1 .3-1-.4-1 0-1 .9-1-.8-1.1 .2-1 .1-1-.4-1 1.1-1.1-1-1 .7-1 .1-1 .5-1-.3-1.1-.5-1 .7-1 .2-1 .2-1 .2-1.1 .1-1-.3-1-.4-1 .5-1 .4-1.1-1.3-1 1.3-1 .1-1-.5-1.1 .1-1-.2-1-.3-1 .5-1-.6-1.1-.3-1-.3-1 .8-1-1-1 .9-1.1-.7-1-.4-1-.4-1-.7-1-.8-1.1-1.7-1-.2-1-.9-1-.8-1.1-.7-1-.3-1-1.4-1-.7-1-.9-1.1-.5-1-.3-1-1.3-1-.6-1-.8-1.1-.6-1 .3-1-1.4-1-.4-1.1-.2-1-.2-1 .1-1-.1-1-.5-1.1 1.4-1 .5-1 1.4-1 1.4-1-.1-1.1 2.2-1 .7-1 1.3-1 1.5-1 1.6-1.1 .5-1 1.8-1 1.1-1 1.5-1.1 1.3-1 1.1-1 .9-1 1.2-1 .8-1.1 2-1 .8-1 0-1 2.3-1 1-1.1 2.2-1 2.1-1 2.3-1 2.5-1.1 1.7-1 2.1-1 1.5-1 .4-1 .5-1.1 .5-1-.4-1-1-1-.4-1-.2-1.1-.9-1 .2-1-1.2-1-1.2-1-2.4-1.1-3.8-1-3.4-1-5.6-1-7.8-1.1-7.6-1-5.6-1-4.4-1-2.6-1-.1-1.1-.1-1-.1-1-.8-1 .4-1-.1-1.1-.4-1-.5-1 0-1-.7-1-.2-1.1-.4-1-.6-1-.6-1 0-1.1-.6-1 .6-1 .4-1 .6-1 .3-1.1 .3-1 .7-1 .2-1 .3-1 0-1.1 .2-1-.4-1 .7-1 .2-1.1 0-1 .8-1 1.1-1 2.6-1 2.6-1.1 3.7-1 6.2-1 4.3z" fill="#f00" stroke="none"/>
<path d="M396.5 107.2l.2-1.6 .2 1.7 .2 1.3 .2-4.5 .2-.3 .2-3 .2 0 .2-1.5 .2-.4 .2 1.5 .2-3.7 .3 1.1 .2-4.1 .2-1.4 .2 1.7 .2-1 .2-.8 .2 0 .2-1.9 .2 2.9 .2-4.4 .2 1.2 .2-.1 .2-2.6 .2 1.7 .2-1.2 .2 2.5 .2-2.2 .2-1.7 .2 .4 .2-3.4 .2 2.5 .2-2.6 .2 4 .2-2.1 .3-.2 .2 2.3 .2-.9 .2 .8 .2-1.4 .2 .2 .2 .8 .2 1.3 .2-2.4 .2-1.9 .2 1.8 .2-1.1 .2-.1 .2 4.1 .2-2.5 .2 1.1 .2-.9 .2 .1 .2 1.5 .2-.4 .2-2.8 .2 3 .2-5 .2 4.4 .3-1 .2-2 .2 1.2 .2-1.3 .2 1.7 .2 1.4 .2-1.1 .2-1.7 .2 1.1 .2 1.3 .2-.1 .2-3.2 .2 2.5 .2-1.2 .2 .4 .2-2.6 .2 1.6 .2 2.2 .2 0 .2 .3 .2-3 .2-.6 .2 3.4 .3-1.8 .2-.2 .2-1.5 .2 1.7 .2-.5 .2-.9 .2-.4 .2 2.5 .2-1.5 .2-.1 .2-2.6 .2 2.6 .2 1.3 .2-1.6 .2 .6 .2-.9 .2-1 .2 1.7 .2-1.1 .2 .5 .2 1.3 .2-2.5 .2-.5 .2 2.3 .3 2.1 .2-.7 .2-1.4 .2 1.7 .2-.6 .2-1.2 .2-.7 .2 .8 .2 0 .2-.4 .2-1.2 .2 3.2 .2-1.6 .2 .8 .2-1 .2 .8 .2-.5 .2-1.2 .2 2 .2-.4 .2 1.6 .2-2 .2 1.2 .3-.8 .2 1.5 .2-.9 .2 .7 .2-1.8 .2 2.2 .2 .9 .2-1.4 .2 .2 .2-.2 .2-1.7 .2 2.9 .2-2.4 .2 0 .2 2.3 .2-1.3 .2 2.4 .2-1.5 .2-1.4 .2-.7 .2 1.4 .2 1.6 .2-3.7 .2 2.4 .3-.1 .2-.1 .2 .9 .2 1.8 .2-3.7 .2 3 .2 0 .2-2 .2 1.7 .2-1.4 .2-.8 .2-.2 .2-.3 .2 1 .2 3 .2-2.3 .2-1.6 .2 4.1 .2-3.6 .2-.1 .2 3.2 .2-.4 .2-.1 .2-1.2 .3-2 .2 3.2 .2-1.4 .2-.8 .2 2.1 .2-1.4 .2 2.7 .2-1.2 .2-1.1 .2 .2 .2 2.7 .2-.9 .2-.3 .2 4.2 .2-.3 .2-2.1 .2 2.6 .2 1.6 .2 0 .2 3.2 .2 .4 .2 1.6 .2 1 .3 1.6 .2 1 .2 1 .2 1.3 .2 2.2 .2 2.9 .2-1.1 .2 3.9 .2 1 .2 .7 .2 1.2 .2 1.5 .2-.5 .2 3.2 .2-1.7 .2 3.3 .2 .8 .2 .3 .2-.4 .2 2.5 .2 .1 .2-1.3 .2 5.6 .2-2.6 .3 .2 .2 1 .2 1.6 .2-1.4 .2 4.3 .2-1.7 .2-1.8 .2 1.7 .2-.2 .2 1.3 .2-1.4 .2 .7 .2-.5 .2 2.3 .2 0 .2 .3 .2-2.1 .2 2.6 .2-.2 .2 1.7 .2-4.3 .2 1.7 .2-1.1 .3 2.9 .2-2.6 .2-.2 .2 2.9 .2-.5 .2-1 .2 .3 .2 .6 .2-.2 .2 3.3 .2-3.7 .2-.9 .2 1.4 .2-.2 .2-.9 .2-.6 .2 1.9 .2 2.7 .2-3 .2 1 .2-.5 .2 1.9 .2-.5 .2-.7 .3 0 .2 .1 .2-.4 .2 2.4 .2-4.7 .2 4.9 .2-2.8 .2 .9 .2-.2 .2-2.2 .2-.5 .2 1.8 .2-3.3 .2 1.4 .2-2 .2 3.5 .2-1.2 .2-.1 .2 .8 .2-.5 .2-1.2 .2-2.5 .2 .1 .2 1.9 .3 .2 .2-2.7 .2 1 .2-.9 .2-2.1 .2 1.4 .2-1.6 .2-.4 .2 .8 .2 .4 .2-2.8 .2 1.1 .2 .4 .2-1.1 .2 0 .2-.5 .2-1.9 .2-2.1 .2 1.6 .2 .2 .2-.5 .2-2.7 .2 1.1 .3 .9 .2-.5 .2-.7 .2-2.8 .2-.4 .2 1.7 .2 .4 .2 .5 .2-4.9 .2 5.2 .2-2.2 .2 1.2 .2-.1 .2-2.4 .2 .6 .2 .7 .2-2.1 .2 1.9 .2 1.4 .2-3.4 .2 1.1 .2-.6 .2-2.8 .2 3.2 .3-2.6 .2-1.3 .2 1.8 .2-1.1 .2-.4 .2-.5 .2 1.2 .2-4.3 .2 3.9 .2 1.2 .2-1 .2-.2 .2-1.2 .2 .1 .2 .5 .2-4 .2 3 .2 .3 .2-1.1 .2-2.5 .2 1.2 .2 .2 .2-1.7 .3 .3 .2 1.9 .2 .9 .2-3.4 .2-.9 .2 2.4 .2-1.2 .2-1.7 .2 4.3 .2-1.8 .2-.6 .2-2.5 .2 1 .2 .1 .2-.7 .2 1.4 .2-.8 .2-2.1 .2 .3 .2-1.9 .2 3.8 .2-1.4 .2-1.4 .2-2.2 .3 1.7 .2-1.7 .2-1.6 .2 2 .2-3.2 .2 4.1 .2-2.5 .2 1.9 .2-2.2 .2 2 .2-3.3 .2 2.6 .2-.1 .2-1 .2-.7 .2-2.2 .2-.1 .2 1 .2-.1 .2 1.4 .2-1.5 .2-2 .2-.4 .2 .7 .3 1.3 .2-.3 .2-1.3 .2-1.2 .2 1.2 .2-1 .2-.9 .2 2 .2-1.3 .2-.1 .2-.7 .2 .3 .2-.2 .2 .4 .2-.7 .2 .5 .2-2.2 .2-1.5 .2 2 .2-.5 .2 .4 .2-3.2 .2 2 .3-.7 .2 1.9 .2-.3 .2-.3 .2-.3 .2 .4 .2 1.5 .2-1.2 .2-1.6 .2 1.5 .2 1.7 .2-2.8 .2-.2 .2-.1 .2-1 .2 3.1 .2-1.2 .2-.6 .2 .8 .2 .1 .2-1.3 .2 2 .2-1.9 .2 2.9 .3-3.3 .2 .6 .2 1.6 .2-1.9 .2 2 .2-.7 .2-2.1 .2 1.6 .2 1.2 .2-1.6 .2 1.6 .2 2.1 .2 .5 .2-3.2 .2 2.8 .2-.5 .2 1 .2-.8 .2-.2 .2 .2 .2 0 .2-1.5 .2-.8 .3 3 .2 .2 .2 .9 .2-.9 .2 2.1 .2-4.4 .2 4.9 .2-.3 .2-1.7 .2-.5 .2-.6 .2 2.8 .2-3.2 .2 .8 .2-1.4 .2 4.8 .2-3.2 .2 2.1 .2-1 .2 .2 .2 .9 .2-1.1 .2 2 .2-1.2 .3-.1 .2 1.2 .2-3 .2 2.4 .2 .7 .2 .1 .2-.8 .2 3.4 .2-.9 .2-2.1 .2 .9 .2 0 .2 1.3 .2-.3 .2-2 .2 4.5 .2-3.5 .2 .7 .2-1.8 .2 1.4 .2 0 .2 .6 .2 0 .2 2.9 .3-.8 .2 .2 .2-2.5 .2 1.4 .2-.2 .2-2.1 .2 1.4 .2 .6 .2 2.7 .2 2.6 .2-2.9 .2-.3 .2 .6 .2 .8 .2-2 .2 1.8 .2-2.2 .2 3.5 .2-3.1 .2 1 .2 1.8 .2 1.4 .2-2.9 .3 1.4 .2-1.5 .2-.1 .2 .8 .2-.7 .2 2.8 .2-.7 .2-.4 .2 1.6 .2-.5 .2 .9 .2-.8 .2-1.4 .2 .3 .2 1.3 .2 .9 .2-2.8 .2 2.9 .2-1.3 .2 1.5 .2 .8 .2 .6 .2-2 .2-1 .3 .3 .2 .1 .2 1.8 .2 .1 .2-.6 .2-.3 .2-1.7 .2 1.7 .2 1 .2-1.7 .2 1.7 .2-1 .2 0 .2 2 .2-2.1 .2 .5 .2 2.4 .2-3.5 .2 0 .2 1.1 .2 1.2 .2-2.8 .2 .5 .3-.4 .2 .8 .2-.4 .2-.7 .2 3.6 .2-4.6 .2 .4 .2 .9 .2-.7 .2 1.7 .2-.3 .2 1.6 .2-3.9 .2 5.3 .2-1.9 .2 .5 .2-3.2 .2 3.2 .2-.8 .2 1.5 .2-.2 .2-.7 .2 1.8 .2-3.4 .3 1.6 .2 1.1 .2-2.1 .2 .6 .2-2.5 .2 3.4 .2-1 .2 1 .2-2.1 .2 1.8 .2-1.5 .2 2.4 .2-2.6 .2 1.1 .2 .6 .2-.1 .2 1.5 .2-3.5 .2 .1 .2 5 .2-5.7 .2 2.3 .2-.1 .2 .4 .3-.1 .2-.4 .2 0 .2-.7 .2 2.4 .2-4.8 .2 4.5 .2-1 .2-.4 .2-.3 .2 .6 .2 .5 .2-1 .2-2.3 .2 2.4 .2-.3 .2-.1 .2-.4 .2-.5 .2 1.3 .2-1.5 .2 2.5 .2-3.5 .3 4 .2-.6 .2-.3 .2-.7 .2 2.9 .2-3.6 .2 3.7 .2-3.3 .2 4.2 .2-4.7 .2 3.5 .2-1.8 .2 1.2 .2-3.7 .2 2 .2-1.2 .2-.4 .2 .1 .2-2.2 .2 3.3 .2 1.8 .2-1.2 .2-1.4 .2 2.1 .3-1.6 .2 2.5 .2-.9 .2-3.4 .2 3.2 .2-2.7 .2 3.1 .2-1.4 .2-.1 .2-1.3 .2 1.6 .2 .2 .2-2.8 .2 1.9 .2 3.6 .2-6.4 .2 1.8 .2 1.7 .2-2.9 .2-1.1 .2 3 .2 1.7 .2-2.3 .2-.5 .3 2.4 .2-1.1 .2 .2 .2 1.4 .2-.3 .2-4.1 .2 1.4 .2 .9 .2 2.7 .2-3.1 .2 2.8 .2-1.2 .2-1.5 .2 1.3 .2-1.8 .2-.6 .2 2.8 .2 1.4 .2-3 .2 2.4 .2-3.4 .2 3 .2 .6 .3-.6 .2-3.2 .2-1.7 .2 3.9 .2-1.6 .2 .8 .2 1 .2-.8 .2-.4 .2 .3 .2 1.1 .2-3.1 .2 3.6 .2-1.6 .2-.2 .2 1.9 .2-1.4 .2 .8 .2-.3 .2-2.2 .2 3.9 .2-2.9 .2-.8 .2 .5 .3 1.9 .2 1.8 .2-2.8 .2-.6 .2 2.6 .2-3.2 .2 .2 .2 1.1 .2-.7 .2-1.4 .2 3.8 .2-3.4 .2 .9 .2-.3 .2-1.4 .2-.4 .2 1.2 .2 4 .2-5.5 .2 3.8 .2-2.8 .2 3.1 .2-.6 .3-.4 .2-.5 .2-3.2 .2 4.4 .2-.8 .2-.7 .2 2 .2-3.5 .2 .3 .2 1.2 .2 .9 .2-2 .2 .9 .2-1.6 .2 2.5 .2-1.3 .2 1.7 .2-.1 .2 .2 .2-2 .2 1.6 .2-.2 .2-2.1 .2 .4 .3-.4 .2 1.2 .2 1.2 .2 1.2 .2-1.4 .2-.2 .2 2.6 .2-2.3 .2-2.4 .2-.9 .2 3.9 .2-2.2 .2 .4 .2 1.1 .2-1.9 .2-2.3 .2 3.3 .2-2.5 .2 2.6 .2-2.7 .2 2.6 .2 2.6 .2-4 .2 1.5 .3-2.3 .2 3.5 .2-3.8 .2 3.5 .2-.3 .2-.7 .2-1.1 .2-.8 .2-.8 .2-1.8 .2 6.8 .2-4.3 .2-1 .2 .5 .2 3.3 .2-3.7 .2 0 .2 3.1 .2 .7 .2 .4 .2-1.7 .2 1 .2 2.4 .3-1.4 .2-2.7 .2 .7 .2 1.2 .2-1.8 .2 .3 .2-1.2 .2-.2 .2 1.3 .2 1 .2-1.2 .2 .4 .2-.7 .2-.5 .2-.3 .2 2.9 .2-1.7 .2-.9 .2-.6 .2 0 .2 3.5 .2-1.8 .2-.6 .2 1.9 .3-1.9 .2 .9 .2-.2 .2 .7 .2 2.1 .2-2.5 .2-1.5 .2-.1 .2 2.8 .2-4.5 .2 .7 .2 1.2 .2 1 .2 1.8 .2-2.1 .2-2 .2 3.2 .2-1.5 .2-.8 .2 1.3 .2-1.2 .2 3.8 .2-5 .3 .7 .2-1.6 .2 2.2 .2 0 .2 3.4 .2-1.4 .2-3.1 .2 2 .2 0 .2-.8 .2 .3 .2-1.6 .2 .4 .2 2 .2-2.5 .2 .5 .2 2.1 .2-2.3 .2 .5 .2 .5 .2-.5 .2 1 .2-.5 .2 1.3 .3 .9 .2-.4 .2 0 .2-1.7 .2 1.3 .2 .4 .2-2.2 .2 .9 .2 .9 .2-2.2 .2-.3 .2 4.3 .2-2.8 .2-.5 .2 1.7 .2-2.4 .2-.1 .2 5.5 .2-3.9 .2-.7 .2 .5 .2 .5 .2 1.5 .2-2.3 .3 1.3 .2-.8 .2 .4 .2 .6 .2 .3 .2 .2 .2-1 .2 1.4 .2 1 .2-.9 .2-4.2 .2 4.7 .2-2.7 .2 2.2 .2-.5 .2-2 .2-.5 .2 1.7 .2 .5 .2 .2 .2-2.2 .2 1.7 .2 1 .3-1.2 .2-.1 .2 3.6 .2-1.6 .2-1.7 .2 .1 .2 .7 .2-.7 .2 .3 .2-2.2 .2 2 .2 0 .2-1.1 .2 .6 .2 .4 .2 1.4 .2 0 .2-2.1 .2 3.2 .2-3.5 .2-1.1 .2-.8 .2 1.4 .2 1.9 .3-1.5 .2 1.6 .2-.7 .2 2 .2-1.5 .2-.6 .2-.7 .2 1.8 .2-1.3 .2 1.3 .2-2.2 .2 .9 .2 1.7 .2 .1 .2-2.6 .2 0 .2 2.9 .2-1 .2-1 .2-.7 .2 .9 .2-1.5 .2 2.5 .3-1.1 .2-.5 .2-.1 .2 4.9 .2-4.5 .2 1.7 .2-1.5 .2 1.2 .2 .1 .2 .3 .2 1.3 .2-2.8 .2 1.1 .2-1.6 .2 1.7 .2 0 .2-1.9 .2 2.2 .2 1.4 .2-.9 .2-.3 .2 .4 .2-3.1 .2 2.9 .3-.9 .2-3.1 .2 1.3 .2 1.6 .2 1.3 .2-1.7 .2 2.6 .2-3.8 .2-1.3 .2 4.3 .2-1.8 .2-1.2 .2 1 .2 3 .2-4 .2 1.7 .2-1.2 .2 .3 .2 .6 .2 2.3 .2-1.2 .2-2.4 .2 1.6 .2 .7 .3-1.2 .2 .7 .2 .6 .2-.7 .2-2.4 .2 2.8 .2-1.6 .2-.4 .2 3.4 .2-2.5 .2-2.2 .2 2.6 .2-.8 .2 2.2 .2-1.8 .2-.7 .2 1.8 .2 .4 .2 1.1 .2 0 .2-1.1 .2-2.3 .2 1.5 .3 2 .2-6.1 .2 3.9 .2-.3 .2 .5 .2 .6 .2 .7 .2-.7 .2 2.4 .2-2.8 .2-.8 .2 1.5 .2-3.1 .2 2.9 .2-2.4 .2-.8 .2 2.9 .2 .4 .2-2.4 .2 3.5 .2-2.9 .2 3.1 .2-2.6 .2 3.8 .3-4 .2 3.1 .2-6.7 .2 2 .2 2.9 .2-.3 .2 .7 .2-2.6 .2-1 .2 2.3 .2-2 .2-1.1 .2 2.1 .2 .1 .2 .2 .2 .6 .2-.6 .2-.2 .2 1.6 .2-1.3 .2 .7 .2-.6 .2 .8 .3 1.5 .2-2.2 .2-.5 .2 2 .2-1.6 .2 1.6 .2-2.1 .2 .4 .2-2.5 .2 1.4 .2 1.6 .2 .4 .2-3.6 .2 3.6 .2 1.1 .2-.5 .2-1 .2-1.2 .2 5.5 .2-1.1 .2-3.7 .2 1.2 .2 .8 .2-3.7 .3 2.1 .2-.3 .2-.5 .2 .4 .2-.4 .2 .9 .2-.2 .2-.6 .2 1.1 .2-1.9 .2 .6 .2-.6 .2 .8 .2 0 .2 .4 .2 .2 .2 1 .2-.5 .2-2 .2-.5 .2 1.6 .2-.4 .2 1.3 .2-1 .3 0 .2 1.4 .2-1 .2-1.4 .2 3.2 .2-1.4 .2 .6 .2-.7 .2 .6 .2 .9 .2-3.3 .2-1.8 .2 3 .2-.6 .2 1.4 .2 1.1 .2-3.9 .2 2.9 .2-.6 .2 1.1 .2-.7 .2 .6 .2 .7 .3-2.8 .2-.2 .2-.1 .2 3.2 .2-2 .2-2.4 .2 3.6 .2 .7 .2-2 .2-.3 .2 2.7 .2-2.9 .2 2.6 .2-.1 .2-2.5 .2-.1 .2 2.6 .2-2.2 .2-.4 .2 .6 .2 2.3 .2-.9 .2-3.2 .2 3.6 .3 0 .2-.5 .2 1.5 .2-.5 .2-3.2 .2 1.1 .2 .2 .2 2 .2-.3 .2-1.6 .2 1.1 .2 .4 .2-2.1 .2 1.8 .2-2.8 .2 .8 .2 1.3 .2-.8 .2 .7 .2-2.7 .2 2.7 .2-.7 .2-1.5 .3 3.3 .2-2.7 .2 2.4 .2 0 .2 .1 .2-.7 .2-2 .2 .4 .2 3.5 .2-3.1 .2 .2 .2-.2 .2 .2 .2 2.3 .2-2.4 .2 .8 .2 3.6 .2-5.9 .2 3.3 .2-2.2 .2-.1 .2-.4 .2 2.3 .2-.5 .3 .1 .2 .1 .2-.6 .2-1.9 .2 2.5 .2 1.7 .2-.2 .2-1.1 .2 2.6 .2-1.4 .2-.9 .2-.7 .2-1.1 .2 .2 .2 2 .2-1.6 .2-1.2 .2 2.5 .2-.3 .2-.4 .2 0 .2 1 .2-.9 .2-.9 .3-.1 .2 .4 .2-.3 .2 .6 .2-.4 .2 1.4 .2-1.3 .2 1.3 .2-.9 .2-.5 .2 1.5 .2-2.6 .2-1.9 .2 2.9 .2 1.5 .2-.9 .2-2.2 .2 3.4 .2-2.1 .2 1.7 .2 .4 .2-1.4 .2 0 .3-.2 .2 2.2 .2-2.4 .2 .5 .2 .1 .2-1.3 .2 1 .2 1.1 .2-2.6 .2 3.1 .2-4.4 .2 2.1 .2 3.6 .2-3.7 .2 1.2 .2 .5 .2-1.1 .2 2.8 .2-2.2 .2-2.5 .2 2.9 .2-.9 .2-.5 .2-1.9 .3 2.3 .2-.8 .2 .3 .2 .3 .2 .9 .2 .3 .2 .2 .2-2.8 .2 2.3 .2-2.7 .2 2.9 .2-.7 .2-1.8 .2 4.1 .2-1.8 .2-1 .2 1.3 .2-.2 .2-.8 .2 .7 .2-2.7 .2 2.5 .2-2.6 .3 .5 .2 2.8 .2-2.9 .2 2.1 .2 1.7 .2-1.2 .2 .7 .2-2.6 .2 1.8 .2-2.2 .2 1.1 .2-.3 .2 1.5 .2-1.5 .2 .8 .2 .8 .2-.6 .2-.1 .2 1.7 .2 0 .2-2.7 .2 1.1 .2-1.8 .2-.1 .3 .9 .2 4.3 .2-4.2 .2 .1 .2 1 .2-2.5 .2 1.9 .2 2.3 .2-1.2 .2-1.9 .2-.4 .2 1.3 .2 .6 .2-.1 .2-1.4 .2 .8 .2-.6 .2-.6 .2 2.2 .2 0 .2-2.4 .2 1.4 .2-1.1 .2 3 .3-1.1 .2-3.4 .2 1.7 .2 .8 .2-.5 .2-.1 .2-3.1 .2 4.5 .2-1.4 .2 .7 .2 .4 .2 .3" stroke="#f00" stroke-width="0.9"/>
</g>
<path d="M396.5 198.9v-3M396.5 23.5v3M437.3 198.9v-3M437.3 23.5v3M478.2 198.9v-3M478.2 23.5v3M519.0 198.9v-3M519.0 23.5v3M559.9 198.9v-3M559.9 23.5v3M600.7 198.9v-3M600.7 23.5v3M641.6 198.9v-3M641.6 23.5v3M682.4 198.9v-3M682.4 23.5v3M396.5 187.2h3M690.6 187.2h-3M396.5 163.8h3M690.6 163.8h-3M396.5 140.4h3M690.6 140.4h-3M396.5 117.0h3M690.6 117.0h-3M396.5 93.7h3M690.6 93.7h-3M396.5 70.3h3M690.6 70.3h-3M396.5 46.9h3M690.6 46.9h-3M396.5 23.5h3M690.6 23.5h-3" stroke="#222" stroke-width=".8" fill="none"/>
<rect x="396.5" y="23.5" width="294.1" height="175.4" fill="none" stroke="#333" stroke-width="1.1"/>
<g fill="#222"><text x="396.5" y="207.8" font-size="8.6" text-anchor="middle" textLength="4.18" lengthAdjust="spacingAndGlyphs">0</text><text x="437.3" y="207.8" font-size="8.6" text-anchor="middle" textLength="8.36" lengthAdjust="spacingAndGlyphs">10</text><text x="478.2" y="207.8" font-size="8.6" text-anchor="middle" textLength="8.36" lengthAdjust="spacingAndGlyphs">20</text><text x="519.0" y="207.8" font-size="8.6" text-anchor="middle" textLength="8.36" lengthAdjust="spacingAndGlyphs">30</text><text x="559.9" y="207.8" font-size="8.6" text-anchor="middle" textLength="8.36" lengthAdjust="spacingAndGlyphs">40</text><text x="600.7" y="207.8" font-size="8.6" text-anchor="middle" textLength="8.36" lengthAdjust="spacingAndGlyphs">50</text><text x="641.6" y="207.8" font-size="8.6" text-anchor="middle" textLength="8.36" lengthAdjust="spacingAndGlyphs">60</text><text x="682.4" y="207.8" font-size="8.6" text-anchor="middle" textLength="8.36" lengthAdjust="spacingAndGlyphs">70</text><text x="393.6" y="189.3" font-size="8.6" text-anchor="end" textLength="8.36" lengthAdjust="spacingAndGlyphs">86</text><text x="393.6" y="165.9" font-size="8.6" text-anchor="end" textLength="8.36" lengthAdjust="spacingAndGlyphs">88</text><text x="393.6" y="142.5" font-size="8.6" text-anchor="end" textLength="8.36" lengthAdjust="spacingAndGlyphs">90</text><text x="393.6" y="119.1" font-size="8.6" text-anchor="end" textLength="8.36" lengthAdjust="spacingAndGlyphs">92</text><text x="393.6" y="95.8" font-size="8.6" text-anchor="end" textLength="8.36" lengthAdjust="spacingAndGlyphs">94</text><text x="393.6" y="72.4" font-size="8.6" text-anchor="end" textLength="8.36" lengthAdjust="spacingAndGlyphs">96</text><text x="393.6" y="49.0" font-size="8.6" text-anchor="end" textLength="8.36" lengthAdjust="spacingAndGlyphs">98</text><text x="393.6" y="25.6" font-size="8.6" text-anchor="end" textLength="12.54" lengthAdjust="spacingAndGlyphs">100</text></g>
<text x="543.5" y="219.5" font-size="8.2" text-anchor="middle" textLength="59.8" lengthAdjust="spacingAndGlyphs" fill="#222">Time (unit: hour)</text>
<text x="543.5" y="18.1" font-size="9.4" text-anchor="middle" fill="#222">(b)</text>
<text transform="translate(376.0,111.2) rotate(-90)" x="0" y="0" font-size="8.6" text-anchor="middle" fill="#222" textLength="117.9" lengthAdjust="spacingAndGlyphs">Separator Temperature (unit: °C)</text>
<rect x="564.2" y="27.8" width="122" height="50.0" fill="#fff" fill-opacity=".7" stroke="#222" stroke-width="1.1"/>
<path d="M570.9 35.4H583.3" stroke="#000" stroke-width=".9"/>
<text x="591.6" y="38.9" font-size="9.5" textLength="35.8" lengthAdjust="spacingAndGlyphs" fill="#1a1a1a">baseline</text>
<path d="M570.9 49.7H583.3" stroke="#00f" stroke-width=".8" stroke-dasharray="4.8 3" stroke-opacity=".75"/>
<text x="593.4" y="52.5" font-size="9.2" style="font-family:'Liberation Serif',serif;font-style:italic" fill="#222">P</text>
<text x="598.1" y="54.4" font-size="7" style="font-family:'Liberation Serif',serif;font-style:italic" fill="#555" textLength="14.3" lengthAdjust="spacingAndGlyphs">c,GE</text>
<text x="614.5" y="52.5" font-size="9.5" textLength="67.6" lengthAdjust="spacingAndGlyphs" fill="#1a1a1a">= 0.6, q = 0.09</text>
<path d="M570.9 67.1H583.3" stroke="#f00" stroke-width=".8" stroke-dasharray="4.8 3" stroke-opacity=".75"/>
<text x="593.4" y="69.8" font-size="9.2" style="font-family:'Liberation Serif',serif;font-style:italic" fill="#222">P</text>
<text x="598.1" y="71.7" font-size="7" style="font-family:'Liberation Serif',serif;font-style:italic" fill="#555" textLength="14.3" lengthAdjust="spacingAndGlyphs">c,GE</text>
<text x="614.5" y="69.8" font-size="9.5" textLength="61.5" lengthAdjust="spacingAndGlyphs" fill="#1a1a1a">= 0.6, q = 0.2</text>
<path d="M84.5 234.3V409.8M125.5 234.3V409.8M166.5 234.3V409.8M207.5 234.3V409.8M248.5 234.3V409.8M289.5 234.3V409.8M329.5 234.3V409.8M44.0 398.5H338.1M44.0 376.5H338.1M44.0 354.5H338.1M44.0 333.5H338.1M44.0 311.5H338.1M44.0 289.5H338.1M44.0 267.5H338.1M44.0 245.5H338.1" stroke="#000" stroke-opacity=".33" stroke-width=".8" stroke-dasharray="1 2" fill="none"/>
<g clip-path="url(#cc)" fill="none">
<path d="M44.0 289.2H153.5" stroke="#080" stroke-width=".9" stroke-dasharray="4.8 3"/>
<path d="M44.0 354.9H338.1" stroke="#f00" stroke-width=".9" stroke-dasharray="4.8 3"/>
<path d="M44 292.8l.5 2.5 .5 2 .5 2.5 .5 3.5 .5 2.1 .4 3.7 .5 1.9 .5 3.5 .5 1.6 .5 2.6 .5 1.1 .5 1.4 .5 1.9 .5 .9 .5 1.3 .4 1.9 .5 1.3 .5 1.6 .5 1.5 .5 1 .5 2.1 .5 1.4 .5 1.2 .5 1.4 .5 1.1 .4-.2 .5 2.4 .5 1.5 .5 1 .5 .6 .5 1.8 .5 1.2 .5 1.6 .5 1.1 .5 1.2 .4 2.3 .5 .4 .5 1.8 .5 1.2 .5 1.1 .5 1.4 .5 1.9 .5 2 .5 .8 .5 1 .4 1.1 .5 .6 .5 1.4 .5 1.2 .5 .7 .5 .9 .5 1.4 .5 0 .5 1 .5 1.1 .4 1.9 .5 .8 .5 .5 .5 .2 .5 1.3 .5 .6 .5 .8 .5-.3 .5 1.7 .5-.8 .5 1 .4 2 .5-.7 .5 .5 .5 1.8 .5 .2 .5 1.2 .5 0 .5-.2 .5 .7 .5 .1 .4 .7 .5-1.1 .5-1.9 .5 .2 .5-1.8 .5-2.1 .5-.6 .5-1.1 .5-1.1 .5-.7 .4-1.7 .5-1.7 .5-.4 .5-1.6 .5-1.1 .5-.9 .5-.5 .5-1.1 .5-.8 .5-.9 .4 .8 .5-1.1 .5 .1 .5-1.7 .5-.7 .5-.7 .5-.5 .5-.4 .5-.8 .5 0 .4-.5 .5-1.7 .5 1 .5-1.7 .5-.8 .5-.4 .5-.5 .5-1.2 .5-.5 .5-.5 .4-.5 .5-.8 .5 .3 .5-.8 .5-.5 .5-.1 .5-.6 .5 0 .5-.1 .5 .1 .5 .3 .4 .3 .5-.3 .5 .1 .5-.2 .5 .6 .5-.3 .5-.4 .5 .9 .5-.7 .5 .9 .4-.2 .5 .1 .5-.3 .5 .6 .5 .7 .5 0 .5 .3 .5-.9 .5-.5 .5 .3 .4 .1 .5 .7 .5-.5 .5-.3 .5 0 .5 0 .5 .2 .5-.1 .5-.4 .5-.3 .4 .4 .5-.1 .5-.3 .5 .9 .5-.4 .5 .8 .5-1 .5 .2 .5 .1 .5 .4 .4-.3 .5-.3 .5 .2 .5-.1 .5 .4 .5-.3 .5 .8 .5-1.3 .5 .1 .5 1.4 .4-.8 .5-.1 .5-.3 .5 0 .5 .6 .5-.5 .5 .5 .5 .3 .5-.6 .5 .1 .5 .1 .4-.3 .5 0 .5 .3 .5-.7 .5-.1 .5 1 .5-.1 .5 .2 .5-.3 .5-.6 .4 .2 .5 .3 .5 .5 .5-.8 .5 .1 .5-.2 .5-.1 .5 0 .5 .5 .5-.4 .4-.1 .5 .3 .5-.2 .5-.1 .5 .3 .5-.8 .5 .9 .5 .4 .5-.1 .5-.5 .4 .7 .5-.6 .5 .2 .5-.5 .5 .7 .5-.1 .5 .2 .5 .2 .5-1.3 .5 .5 .4 .1 .5 0 .5-.8 .5 .5 .5-.1 .5 1.1 .5-1.2 .5-.1 .5 1 .5-.2 .4-.4 .5 0 .5 .3 .5 0 .5-.3 .5 1.5 .5-1.9 .5 .7 .5 .3 .5-.7 .5 .5 .4-.5 .5 .6 .5-.9 .5 1.5 .5-1 .5 .8 .5-.9 .5 0 .5 .2 .5 0 .4-.4 .5-.1 .5 0 .5 .9 .5-.1 .5 0 .5 .4 .5-.8 .5-.1 .5 .2 .4-.2 .5 0 .5-.5 .5 .6 .5-.7 .5 1.9 .5-1.1 .5-.3 .5 .5 .5-1 .4 .4 .5 .2 .5 .1 .5 .6 .5-.8 .5 1 .5-.6 .5 0 .5-.2 .5-.3 .4 .3 .5-.1 .5-.1 .5-.2 .5 .6 .5-.4 .5-.1 .5 .4 .5-.2 .5 1.4 .5-1.4 .4 .9 .5-1 .5 .3 .5-.2 .5 .6 .5-.8 .5 .6 .5 .2 .5-.3 .5 .6 .4-.2 .5-1 .5 .6 .5-.5 .5 .6 .5 .1 .5-.5 .5 .4 .5 .3 .5-.8 .4 .5 .5 .1 .5-.4 .5 .3 .5 .1 .5-.5 .5 .9 .5-.7 .5 1.3 .5-1.2 .4-.6 .5 .2 .5 .1 .5 .4 .5 0 .5 0 .5-.1 .5-.1 .5-.3 .5 .4 .4-.3 .5-.7 .5 1 .5 .1 .5 .1 .5 0 .5-.5 .5 .5 .5 .2 .5 .1 .4-.7 .5 .4 .5-.6 .5 0 .5 1.1 .5-1 .5 0 .5 .2 .5-.9 .5 .7 .5-.2 .4 .3 .5 .1 .5-.3 .5 1 .5-.8 .5-.2 .5 .5 .5 .2 .5 .3 .5-.6 .4-.2 .5 .7 .5-.4 .5 0 .5-.1 .5 .9 .5-1 .5-.1 .5-.2 .5 .6 .4-.2 .5-.5 .5 .2 .5 1.1 .5-.6 .5 .1 .5-.2 .5-.1 .5-.1 .5 0 .4 .1 .5-.1 .5 .3 .5-.1 .5-.7 .5 0 .5 .6 .5-.7 .5 .8 .5 0 .4-.2 .5-.1 .5-.2 .5 .7 .5 .3 .5-.8 .5 .1 .5-.3 .5 .9 .5-1 .4 .3 .5 0 .5 0 .5 0 .5-.5 .5 .5 .5-.1 .5 0 .5-.4 .5 .7 .5-.6 .4 .3 .5 .4 .5 0 .5-.5 .5 .2 .5 .1 .5 .7 .5-.3 .5-.7 .5 .3 .4 .1 .5 .2 .5-.8 .5 1 .5-.1 .5-1 .5 .8 .5-.2 .5 .4 .5-1 .4 .8 .5-.5 .5 .5 .5-.3 .5-.8 .5 1.1 .5-.3 .5 1.1 .5-1.3 .5-.2 .4 .2 .5 0 .5 .7 .5-.7 .5 .4 .5-.1 .5-.2 .5 .5 .5-.2 .5-.6 .4 .6 .5-.1 .5 0 .5 .5 .5-.6 .5 .1 .5-.9 .5 .5 .5 .4 .5 .2 .4 .1 .5-.6 .5 .5 .5-.6 .5 .5 .5 0 .5 0 .5-.8 .5 1.4 .5-.6 .5 .2 .4-.7 .5 .4 .5 .2 .5 .2 .5-.5 .5 .6 .5-.5 .5 .4 .5-.1 .5-.9 .4 .5 .5-.4 .5 .4 .5 .3 .5 .5 .5-.6 .5-.7 .5 .8 .5-.1 .5 .3 .4-.5 .5 .4 .5-1 .5 .9 .5 .3 .5 .5 .5-1.7 .5 .3 .5-.1 .5 .1 .4 .5 .5 .5 .5-.5 .5 0 .5 .1 .5-.6 .5 1.3 .5-.4 .5-1 .5 .8 .4 .3 .5-.5 .5 .3 .5-.1 .5-.1 .5-.2 .5 .1 .5 .2 .5-.6 .5-.2 .4 1.1 .5-1.2 .5 1 .5-.6 .5-.1 .5 .5 .5 .1 .5-.4 .5 .3 .5-.2 .5 .6 .4-1.1 .5 .3 .5 .3 .5 .1 .5 .1 .5-.3 .5 .8 .5-.9 .5 .1 .5 .5 .4-.8 .5 .5 .5-.2 .5 .4 .5-.2 .5-.6 .5 .1 .5 1.1 .5-1 .5 .1 .4-.5 .5 .3 .5 .8 .5-.3 .5-.9 .5 .5 .5 0 .5-.3 .5 .7 .5 .2 .4-.1 .5-.7 .5 1.3 .5-1.7 .5 .8 .5 .2 .5 .2 .5-.4 .5 .3 .5 .1 .4-.4 .5 .4 .5-.5 .5-.8 .5 .9 .5 .3 .5-.1 .5 0 .5-.4 .5 .6 .4-.4 .5 .9 .5-.5 .5-.3 .5 .6 .5-1.1" stroke="#000" stroke-width="1.2"/>
<path d="M44 291.8l.3 7 .4-1.1 .3 1.4 .4-1.3 .3 .1 .4 2.7 .3 2 .4 .1 .3 .4 .4 3.9 .3 2.3 .4 0 .3 6.4 .4-3.4 .3 2 .4-2.5 .3 3 .3 1.2 .4 .7 .3 1.4 .4 .4 .3 1.9 .4 5.4 .3 4.6 .4 .1 .3-3.3 .4 4.4 .3 2.9 .4-3.1 .3 1.3 .4 5 .3-5.1 .4 5.1 .3-.5 .4 5.3 .3 2.2 .3-3.6 .4-10.5 .3 5.4 .4 4.9 .3 5.6 .4 9.9 .3-4.4 .4 2.1 .3-2 .4-.6 .3 8.2 .4-2 .3-4.6 .4-.1 .3 3.2 .4 1.7 .3 1.2 .3 3.9 .4-26.4 .3 3.5 .4 9 .3 7.7 .4 3.4 .3-22.4 .4-3 .3 2.7 .4-14.1 .3 15.3 .4 25.1 .3-1.7 .4 .5 .3 2.3 .4 11.8 .3-9.7 .4-12.7 .3 4.4 .3-9 .4-3.9 .3 11.2 .4-1.4 .3 4.5 .4-5.8 .3 3.5 .4 2.8 .3-10.8 .4 13.8 .3-1.6 .4 10.6 .3 15.1 .4-20.7 .3-7.7 .4 8.9 .3 3.7 .3-26.3 .4 18 .3 6.6 .4-.8 .3-3.7 .4-3.4 .3 13.2 .4 19.6 .3-19.9 .4-5.2 .3 9.5 .4 2.3 .3 3.2 .4-2.2 .3 10 .4 2.4 .3-26.1 .4 2 .3 17.5 .3 1.4 .4-16 .3-.6 .4 23.1 .3 1.7 .4 3.1 .3-6.9 .4-3.5 .3 1.2 .4-12 .3-5.9 .4 8.2 .3 5.1 .4 12.1 .3-8.3 .4 .7 .3 3.1 .3 5 .4-8.3 .3 9.2 .4-4.2 .3-16.5 .4-4.6 .3 2.4 .4 9.6 .3 11.3 .4 12.3 .3-12.4 .4 13 .3-2.1 .4-3.3 .3-4.7 .4 1.6 .3-1.8 .3 1.2 .4-8 .3 11.4 .4-15.1 .3 19.1 .4-27.4 .3-11.8 .4-4 .3 12.5 .4 2.9 .3 16.7 .4-14.2 .3-13.8 .4 2.6 .3 5.7 .4-18.6 .3 14.9 .4-12.3 .3-4.8 .3-2 .4 16.9 .3-6 .4 6.3 .3-13.8 .4 12.1 .3 8.3 .4-3.7 .3 15.2 .4-.3 .3-15.5 .4-5.8 .3-18.8 .4-2.3 .3-8.6 .4 13.8 .3 5.2 .3 3.2 .4 11.6 .3-5.1 .4 13.3 .3-17.7 .4 5.6 .3-5.5 .4-3.3 .3-1.3 .4 5.3 .3 5.4 .4-9 .3 10.2 .4 15.3 .3-35.6 .4 10.4 .3 10.1 .4 14 .3-9.6 .3-7.1 .4 8 .3-5.9 .4 0 .3 11.7 .4 9.2 .3-15.6 .4-6.7 .3 11.9 .4-6.2 .3-7.1 .4 3.3 .3 7.6 .4-15.5 .3 4.5 .4-7.5 .3 12 .3 2 .4-.7 .3 4.1 .4 1 .3 0 .4 8 .3 .1 .4-14.3 .3-5 .4 8.7 .3-3.2 .4 11.9 .3 4 .4-3.4 .3-6.1 .4 5.1 .3-4.5 .4-9.2 .3 19.8 .3-5.7 .4-3.9 .3-3.6 .4 4.7 .3 .4 .4-27.8 .3 6.4 .4 14 .3-.1 .4-2.4 .3 9.5 .4-8.1 .3-13.6 .4 1 .3 9.7 .4-17.6 .3 20 .3 5.7 .4-6.7 .3 1.8 .4-6.8 .3-.2 .4 2.8 .3 8.1 .4-15.1 .3 .6 .4-1.4 .3-.3 .4 9.6 .3 6.5 .4-18.2 .3-8.5 .4 17.8 .3 11.1 .3-17.6 .4-2 .3 9.3 .4 7.9 .3 8.3 .4-28.7 .3 7.5 .4 10.6 .3 .1 .4-11.7 .3-3.2 .4 7.6 .3 6.2 .4-3.2 .3-11.1 .4 13.3 .3 11.5 .4-3.3 .3 2.8 .3 .9 .4-2.2 .3-.3 .4-10.1 .3 1.4 .4-.3 .3 4.3 .4-1.3 .3-11.2 .4-2.6 .3 7.5 .4-16.5 .3 2 .4-6.2 .3 17.3 .4 6.4 .3 8.3 .3-24.6 .4 3.2 .3 2.9 .4 10.1 .3-9.4 .4 7.1 .3 4.6 .4-8 .3 12.4 .4-1.2 .3-.8 .4-20.1" stroke="#00f" stroke-width="1.1" stroke-dasharray="4.8 3"/>
<path d="M73.5 387.7L73.7 301.9M90.2 387.7L90.3 316.3M105.1 340.6L105.3 308.2M110.7 387.6L110.8 324.2M116.2 369.1L116.4 280.6M137.4 361.9L137.5 273.6M153.0 379.5L153.2 245.1M152.0 369.1L152.1 393.5M93.0 403.4L93.1 408.7M82.9 396.5L83.0 398.8M127.7 376.3L127.8 337.4M145.4 375.2L145.5 341.8" stroke="#00f" stroke-width="1.2" stroke-dasharray="4.8 3"/>
<path d="M44 293.4l.5 1.8 .5 2.3 .5 2.8 .5 3.8 .5 1.9 .4 3.1 .5 2.7 .5 2.7 .5 2.1 .5 1.6 .5 1.2 .5 1.7 .5 1.6 .5 1.3 .5 2.4 .4 .7 .5 1.3 .5 1.8 .5 1.7 .5 .9 .5 1.7 .5 1.3 .5 1.2 .5 1 .5 1.1 .4 1.5 .5 1.3 .5 1.6 .5 1.3 .5 1.2 .5 1.4 .5 1.1 .5 1.1 .5 1.2 .5 1.5 .4 1.6 .5 1 .5 1.7 .5 1.3 .5 1.2 .5 .8 .5 1.8 .5 1.8 .5 .9 .5 1.7 .4 .7 .5 .8 .5 .7 .5 1.6 .5 .7 .5 1 .5 .7 .5 1.4 .5 1.4 .5 0 .4 1.9 .5 .2 .5 1.2 .5 .2 .5 1.2 .5 0 .5 1 .5 1.4 .5-.4 .5 1.4 .5 .9 .4 .3 .5 .6 .5 .2 .5 1.5 .5 0 .5 .6 .5 .6 .5 .4 .5 1.3 .5-.7 .4-.7 .5-.7 .5-.4 .5-.7 .5-2 .5-.9 .5-1.7 .5-1 .5-1 .5-1.2 .4-2.2 .5-.6 .5-1.4 .5-1 .5-1.3 .5-.2 .5-.5 .5-1.1 .5-.5 .5 .2 .4-1.7 .5-1 .5 .2 .5-1.1 .5-.6 .5-.2 .5-1 .5-.6 .5-.7 .5-.1 .4-.7 .5-.7 .5-.6 .5-.8 .5-1.3 .5 .1 .5-.7 .5-.3 .5-.5 .5-1.1 .4-.2 .5-.8 .5-.5 .5-.6 .5-.2 .5-.4 .5 0 .5 .2 .5-.3 .5 .3 .5-.1 .4-.4 .5 .3 .5-.2 .5-.3 .5 .9 .5 .5 .5-1.6 .5 .6 .5 .2 .5-.1 .4 .9 .5-.1 .5-.4 .5 .3 .5 0 .5 .5 .5 .2 .5 .1 .5-.1 .5 0 .4-.1 .5-.9 .5 1.3 .5-.8 .5 0 .5-.4 .5 .8 .5-.3 .5-.2 .5-.1 .4 .9 .5-.8 .5 .2 .5 .2 .5 0 .5 0 .5-.9 .5 1 .5 .4 .5-.8 .4 .6 .5 0 .5-.7 .5 .3 .5 .4 .5-.7 .5-.1 .5 1 .5-1 .5 0 .4-.2 .5 .5 .5-.6 .5 1.1 .5-.8 .5 .8 .5-.4 .5 0 .5-.1 .5-.4 .5 .1 .4 .4 .5 .2 .5-.1 .5-.2 .5 .5 .5-.7 .5 .6 .5-.4 .5 .3 .5-.1 .4 .4 .5-.9 .5 .5 .5-.3 .5 .3 .5-.2 .5 0 .5-.1 .5 .5 .5 .1 .4-.1 .5-.3 .5-.6 .5 .7 .5-.5 .5 .5 .5-.6 .5 .6 .5-.3 .5 .8 .4-.5 .5-.4 .5-.2 .5-.2 .5 .4 .5 .4 .5 0 .5-.5 .5-.4 .5 1 .4-.8 .5 .6 .5-.1 .5 .3 .5-.4 .5 .2 .5-.3 .5 .4 .5-.4 .5 .4 .4-1.1 .5 1 .5-.3 .5-.4 .5 .7 .5 .1 .5-.3 .5 .2 .5-.3 .5 0 .5 .3 .4 .2 .5-.1 .5 .2 .5-.8 .5 .5 .5 .3 .5-.3 .5-.5 .5 .4 .5 0 .4 .2 .5-.3 .5 1 .5-.8 .5-.2 .5-.1 .5 .6 .5-.1 .5-.6 .5 .2 .4 .7 .5-.9 .5 .1 .5 0 .5 .1 .5 .1 .5 .3 .5-.1 .5 0 .5-.1 .4 .1 .5-.4 .5 .6 .5 0 .5-.7 .5-.3 .5 .5 .5 .1 .5-.5 .5 .8 .4-.9 .5 .5 .5 .6 .5-.5 .5 .3 .5-.3 .5 .2 .5-.1 .5 .1 .5-.7 .5 .9 .4 0 .5-.3 .5-.8 .5 .2 .5 1 .5-1 .5 .8 .5-.9 .5 .6 .5-.2 .4 0 .5 .2 .5-.1 .5 .2 .5 0 .5-.2 .5 .1 .5-.2 .5-.8 .5 1.1 .4 .3 .5-.3 .5 .2 .5 .1 .5-1 .5 .8 .5-.3 .5 .1 .5-.6 .5 .8 .4 0 .5-.4 .5-.1 .5 .6 .5-.3 .5-.1 .5 .2 .5-.3 .5 .3 .5-.3 .4-.3 .5 .1 .5 0 .5 .6 .5-.2 .5 .2 .5-.2 .5-.1 .5-.1 .5-.2 .4 .2 .5 .6 .5 0 .5-.1 .5-.4 .5 .6 .5-.3 .5-.3 .5 0 .5-.4 .5 .1 .4 .7 .5 .1 .5 .2 .5-.2 .5-.5 .5 .3 .5-.3 .5 .1 .5 .3 .5-1 .4 1 .5-.4 .5-.1 .5 .3 .5 .1 .5-.3 .5 0 .5 .2 .5 .1 .5-.1 .4-.4 .5 .1 .5 .1 .5 .4 .5-.2 .5 .2 .5-.3 .5 .5 .5 0 .5 0 .4-.5 .5 .3 .5-.5 .5 .4 .5-.3 .5 0 .5 0 .5 .7 .5 0 .5-1.1 .4 0 .5 .4 .5-.4 .5 0 .5 0 .5 .9 .5-.1 .5-.2 .5 0 .5 .2 .4-.3 .5-.2 .5 .3 .5 .3 .5-.8 .5 0 .5 .8 .5 .4 .5-.9 .5 .3 .5-.2 .4-.1 .5 .7 .5-.4 .5-.2 .5-.2 .5 .4 .5-.5 .5 .4 .5-.3 .5 .4 .4-.2 .5-.2 .5-.1 .5-.1 .5 .6 .5-.9 .5 1 .5-.4 .5 0 .5 .3 .4 0 .5-.4 .5 .4 .5-.1 .5 .3 .5-.4 .5 .2 .5-.2 .5-.3 .5-.2 .4 .3 .5 .3 .5 .1 .5 .3 .5-.5 .5 .4 .5-.5 .5 .2 .5-.1 .5-.1 .4-.1 .5 .3 .5 0 .5-.5 .5 .4 .5-.4 .5 .4 .5 .3 .5-.6 .5 .5 .4-.4 .5-.3 .5 .4 .5 0 .5 .5 .5-.2 .5 0 .5-.7 .5-.1 .5 .3 .5 .2 .4-.2 .5-.5 .5 .8 .5 .8 .5-.7 .5 .4 .5-.6 .5 .1 .5 .3 .5-.1 .4 .2 .5-.7 .5 .7 .5 .2 .5-.5 .5-.5 .5 1 .5-.6 .5-.1 .5-.6 .4 1.2 .5-.8 .5 .2 .5-.3 .5 .5 .5-.7 .5 .7 .5 .1 .5-.2 .5-.1 .4-.1 .5 .2 .5 0 .5-.3 .5 .1 .5-.2 .5-.1 .5 .6 .5-.3 .5-.5 .4 .5 .5-.1 .5 1.1 .5-.9 .5 .9 .5 0 .5-.8 .5 .2 .5-.2 .5 .3 .4-.4 .5 .2 .5-.1 .5-.3 .5-.5 .5 .1 .5 .6 .5 .5 .5-.1 .5-.8 .5 .4 .4 0 .5-.3 .5 .9 .5-.7 .5-.1 .5 1.2 .5-1.5 .5 .7 .5-.3 .5-.3 .4 .4 .5 .3 .5-.4 .5 .4 .5-.6 .5 .1 .5 .7 .5-.3 .5-.1 .5-.2 .4 0 .5-.3 .5 .5 .5 .3 .5-1 .5 1.2 .5-1.1 .5 .8 .5-.3 .5-.2 .4 .1 .5 .4 .5-.2 .5-.1 .5 .4 .5-.1 .5-.5 .5 .3 .5 .2 .5-.4 .4 .5 .5-.2 .5 .2 .5-.3 .5 .1 .5-.4 .5 .4 .5 0 .5-.3 .5 .1 .4 .6 .5-.9 .5 .2 .5-.2 .5 .6 .5-.6" stroke="#f00" stroke-width="1.6" stroke-dasharray="4.5 2.5"/>
</g>
<path d="M44.0 409.8v-3M44.0 234.3v3M84.8 409.8v-3M84.8 234.3v3M125.7 409.8v-3M125.7 234.3v3M166.5 409.8v-3M166.5 234.3v3M207.4 409.8v-3M207.4 234.3v3M248.2 409.8v-3M248.2 234.3v3M289.1 409.8v-3M289.1 234.3v3M329.9 409.8v-3M329.9 234.3v3M44.0 398.8h3M338.1 398.8h-3M44.0 376.9h3M338.1 376.9h-3M44.0 354.9h3M338.1 354.9h-3M44.0 333.0h3M338.1 333.0h-3M44.0 311.1h3M338.1 311.1h-3M44.0 289.2h3M338.1 289.2h-3M44.0 267.2h3M338.1 267.2h-3M44.0 245.3h3M338.1 245.3h-3" stroke="#222" stroke-width=".8" fill="none"/>
<rect x="44.0" y="234.3" width="294.1" height="175.4" fill="none" stroke="#333" stroke-width="1.1"/>
<g fill="#222"><text x="44.0" y="418.6" font-size="8.6" text-anchor="middle" textLength="4.18" lengthAdjust="spacingAndGlyphs">0</text><text x="84.8" y="418.6" font-size="8.6" text-anchor="middle" textLength="8.36" lengthAdjust="spacingAndGlyphs">10</text><text x="125.7" y="418.6" font-size="8.6" text-anchor="middle" textLength="8.36" lengthAdjust="spacingAndGlyphs">20</text><text x="166.5" y="418.6" font-size="8.6" text-anchor="middle" textLength="8.36" lengthAdjust="spacingAndGlyphs">30</text><text x="207.4" y="418.6" font-size="8.6" text-anchor="middle" textLength="8.36" lengthAdjust="spacingAndGlyphs">40</text><text x="248.2" y="418.6" font-size="8.6" text-anchor="middle" textLength="8.36" lengthAdjust="spacingAndGlyphs">50</text><text x="289.1" y="418.6" font-size="8.6" text-anchor="middle" textLength="8.36" lengthAdjust="spacingAndGlyphs">60</text><text x="329.9" y="418.6" font-size="8.6" text-anchor="middle" textLength="8.36" lengthAdjust="spacingAndGlyphs">70</text><text x="41.1" y="400.9" font-size="8.6" text-anchor="end" textLength="16.72" lengthAdjust="spacingAndGlyphs">2300</text><text x="41.1" y="379.0" font-size="8.6" text-anchor="end" textLength="16.72" lengthAdjust="spacingAndGlyphs">2400</text><text x="41.1" y="357.0" font-size="8.6" text-anchor="end" textLength="16.72" lengthAdjust="spacingAndGlyphs">2500</text><text x="41.1" y="335.1" font-size="8.6" text-anchor="end" textLength="16.72" lengthAdjust="spacingAndGlyphs">2600</text><text x="41.1" y="313.2" font-size="8.6" text-anchor="end" textLength="16.72" lengthAdjust="spacingAndGlyphs">2700</text><text x="41.1" y="291.3" font-size="8.6" text-anchor="end" textLength="16.72" lengthAdjust="spacingAndGlyphs">2800</text><text x="41.1" y="269.3" font-size="8.6" text-anchor="end" textLength="16.72" lengthAdjust="spacingAndGlyphs">2900</text><text x="41.1" y="247.4" font-size="8.6" text-anchor="end" textLength="16.72" lengthAdjust="spacingAndGlyphs">3000</text></g>
<text x="191.1" y="430.4" font-size="8.2" text-anchor="middle" textLength="59.8" lengthAdjust="spacingAndGlyphs" fill="#222">Time (unit: hour)</text>
<text x="191.1" y="228.9" font-size="9.4" text-anchor="middle" fill="#222">(c)</text>
<text transform="translate(18.1,322.1) rotate(-90)" x="0" y="0" font-size="8.6" text-anchor="middle" fill="#222" textLength="98.6" lengthAdjust="spacingAndGlyphs">Reactor Pressure (unit: kPa)</text>
<rect x="211.7" y="238.7" width="122" height="77.6" fill="#fff" fill-opacity=".7" stroke="#222" stroke-width="1.1"/>
<path d="M218.4 246.2H230.8" stroke="#000" stroke-width=".9"/>
<text x="239.1" y="249.8" font-size="9.5" textLength="35.8" lengthAdjust="spacingAndGlyphs" fill="#1a1a1a">baseline</text>
<path d="M218.4 260.6H230.8" stroke="#00f" stroke-width=".8" stroke-dasharray="4.8 3" stroke-opacity=".75"/>
<text x="240.9" y="263.4" font-size="9.2" style="font-family:'Liberation Serif',serif;font-style:italic" fill="#222">P</text>
<text x="245.6" y="265.2" font-size="7" style="font-family:'Liberation Serif',serif;font-style:italic" fill="#555" textLength="14.3" lengthAdjust="spacingAndGlyphs">c,GE</text>
<text x="262.0" y="263.4" font-size="9.5" textLength="67.6" lengthAdjust="spacingAndGlyphs" fill="#1a1a1a">= 0.6, q = 0.09</text>
<path d="M218.4 277.9H230.8" stroke="#f00" stroke-width=".8" stroke-dasharray="4.8 3" stroke-opacity=".75"/>
<text x="240.9" y="280.6" font-size="9.2" style="font-family:'Liberation Serif',serif;font-style:italic" fill="#222">P</text>
<text x="245.6" y="282.5" font-size="7" style="font-family:'Liberation Serif',serif;font-style:italic" fill="#555" textLength="14.3" lengthAdjust="spacingAndGlyphs">c,GE</text>
<text x="262.0" y="280.6" font-size="9.5" textLength="61.5" lengthAdjust="spacingAndGlyphs" fill="#1a1a1a">= 0.6, q = 0.2</text>
<path d="M218.4 293.6H230.8" stroke="#080" stroke-width=".8" stroke-dasharray="4.8 3" stroke-opacity=".75"/>
<text x="239.3" y="296.8" font-size="9.5" textLength="54.4" lengthAdjust="spacingAndGlyphs" fill="#1a1a1a">setpoint: old</text>
<path d="M218.4 307.2H230.8" stroke="#d00" stroke-width=".8" stroke-dasharray="4.8 3" stroke-opacity=".75"/>
<text x="239.3" y="310.6" font-size="9.5" textLength="60.3" lengthAdjust="spacingAndGlyphs" fill="#1a1a1a">setpoint: new</text>
<path d="M437.5 234.3V409.8M478.5 234.3V409.8M519.5 234.3V409.8M559.5 234.3V409.8M600.5 234.3V409.8M641.5 234.3V409.8M682.5 234.3V409.8M396.5 374.5H690.6M396.5 339.5H690.6M396.5 304.5H690.6M396.5 269.5H690.6" stroke="#000" stroke-opacity=".33" stroke-width=".8" stroke-dasharray="1 2" fill="none"/>
<g clip-path="url(#cd)" fill="none">
<path d="M396.5 333.1l.3 6.3 .4 1.4 .3 2.3 .3 7.5 .3 1.1 .4-1.3 .3 2.4 .3-1.7 .3 6.4 .4-9.7 .3 15.9 .3-7.4 .3 5.5 .4 4.7 .3-8 .3-2.2 .4 10.6 .3-3.4 .3 4.8 .3-4.8 .4 6.2 .3-5.1 .3 3.9 .3-2.4 .4-.3 .3 .9 .3-1.6 .3 5.8 .4-7.1 .3 1.5 .3 5.1 .4 2.8 .3-10 .3 3.9 .3 4.4 .4-10.8 .3 3.4 .3 2.4 .3-6 .4 4.4 .3 7.8 .3-9.8 .4-5.1 .3 7.9 .3-14.3 .3 10.8 .4-8.8 .3 2.5 .3 4.8 .3 9.8 .4-10 .3-7.4 .3-4 .3 4.4 .4-3.4 .3-1.5 .3 8.2 .4-9 .3 3 .3 3.3 .3-2.8 .4 3.1 .3-4.4 .3 .4 .3-3.3 .4 7.5 .3-8.5 .3-6.8 .3 9.3 .4 4.2 .3-3.2 .3 5.3 .4-7 .3-3.6 .3 1.8 .3-3.1 .4-3.4 .3 6.5 .3 4.1 .3-8 .4-1 .3-1.1 .3-3.5 .3-1.2 .4 6.7 .3-6.4 .3 8.6 .4-4 .3-.2 .3-12.5 .3 11.6 .4 3.9 .3-10.2 .3-1.6 .3 .8 .4 10.1 .3 1.4 .3-5.1 .4-2.2 .3-9.3 .3 6.3 .3-3.8 .4 6.2 .3-6.7 .3-2.4 .3 1.8 .4-2.2 .3 11.3 .3 2.8 .3-7.8 .4 5.5 .3-11.3 .3 9.4 .4-6.2 .3-3.6 .3 6.4 .3-9.4 .4 9.4 .3-6.4 .3-.8 .3 1.9 .4 3.2 .3-5.8 .3-.4 .3 8.1 .4-17.6 .3-4 .3 .9 .4-6.4 .3 6.7 .3-8.7 .3 2.2 .4-2.5 .3-6.1 .3-2.2 .3 1.2 .4-4.8 .3 .2 .3 2.6 .3-3.4 .4 1.2 .3-1.9 .3-5.4 .4-5.2 .3 5.2 .3-.6 .3-3.7 .4-3 .3 3.8 .3-8.6 .3-3.6 .4 9.7 .3-15.4 .3 11.3 .4 7 .3-5.7 .3 3.5 .3-.2 .4-5.3 .3 10.6 .3 3.5 .3-14.1 .4 10.5 .3-9.9 .3 6.2 .3 1.9 .4 1.8 .3 1.1 .3 4.9 .4-.9 .3-3.7 .3 5.4 .3-1.7 .4-5.2 .3 6.7 .3 7.1 .3-6.9 .4 8.9 .3-5.1 .3-2.6 .3 1.5 .4 5.9 .3-1.1 .3 13.2 .4-1.3 .3-4 .3-1.6 .3 7.4 .4-3.3 .3-.6 .3 .5 .3 12.6 .4 .8 .3-8.1 .3 1.6 .3-5.9 .4 11.7 .3 5 .3-2.3 .4-6.2 .3 3.2 .3 4 .3 4.1 .4 4.8 .3 8.9 .3-7 .3-.6 .4-7.8 .3 13 .3-1.2 .4-2.2 .3-4.4 .3-2.9 .3 11.6 .4-3.9 .3 7.9 .3-.7 .3 9.8 .4-2.9 .3-5.3 .3 .3 .3 2.1 .4-9.8 .3 22.2 .3-7.1 .4-1.7 .3 .5 .3-8.1 .3 2.7 .4 .5 .3 5.8 .3-2.9 .3 6.4 .4-2.7 .3-1.3 .3-5 .3 9 .4-16.8 .3 13.2 .3 4.9 .4 2.2 .3 3.6 .3-13 .3 2.4 .4 3.8 .3 .3 .3 6.7 .3-12.8 .4 10.3 .3-5.5 .3 4.1 .3-1.7 .4-4.1 .3-3.1 .3 9.3 .4 0 .3-.2 .3-2.1 .3 3.3 .4 2.6 .3-12.4 .3-5.2 .3 12.3 .4 .3 .3-4.9 .3 2.8 .3 4.1 .4-.8 .3-7.6 .3 5.4 .4 2.4 .3-.4 .3-.2 .3-.1 .4-4.2 .3 7.2 .3-7.3 .3 5.5 .4-6.5 .3 9.1 .3-7.7 .4-.9 .3 7.1 .3-4 .3 1.5 .4 4.2 .3-4.5 .3-10 .3 4.2 .4-5.4 .3 .2 .3 15.6 .3-11.7 .4 6.2 .3-8.2 .3 6 .4-8 .3 8.2 .3-.6 .3 2.7 .4-2.7 .3 1.8 .3-2.3 .3 2.1 .4-9.9 .3 5.2 .3 5.4 .3 .5 .4 .1 .3-6.4 .3-2.2 .4-1.9 .3 9.4 .3-9.3 .3 5.6 .4 2.7 .3-14.6 .3 6.5 .3 6.1 .4-6.2 .3 3.1 .3 2.7 .3-1.2 .4 2.9 .3-1.2 .3 .5 .4-12.6 .3 9 .3-3.5 .3-1.3 .4-4.1 .3 7.2 .3-3.2 .3 4.6 .4-9.9 .3 4.2 .3-4.7 .4 7.1 .3-11.1 .3 4.6 .3-1.7 .4-5.6 .3 6.6 .3 5.6 .3-5 .4 4.2 .3-4.1 .3-3 .3 7.2 .4 2.5 .3-13.3 .3 6.1 .4-3.3 .3-4.4 .3-1.1 .3 4.7 .4-1.1 .3 2.8 .3-4.7 .3 .1 .4-1.9 .3-1.6 .3-.4 .3 4.1 .4-1.8 .3 6.5 .3-8.5 .4 4.5 .3-1.7 .3 3.1 .3-3 .4-2.1 .3 3.2 .3-.6 .3-3 .4 6.1 .3-.8 .3-1.1 .3 4.1 .4-4.5 .3 8.8 .3-16.8 .4 5.6 .3-.6 .3 2.4 .3-2 .4-3.2 .3-10.2 .3 8.5 .3 4 .4 2.9 .3-3.9 .3 10.1 .4-10.3 .3 6 .3 3.6 .3-4.5 .4-10.9 .3 4 .3-.7 .3 6 .4 3.6 .3-3.9 .3 2.7 .3-8.6 .4 7.3 .3 3.5 .3-9.7 .4 7.7 .3-1.5 .3 .7 .3-14 .4 4.6 .3 4.4 .3-3.7 .3 11.9 .4-15.5 .3 10.5 .3-2.1 .3-7.2 .4 7.6 .3-8.7 .3 8 .4-2 .3 4.1 .3-1.3 .3 10.9 .4-8.6 .3 5.4 .3-7.3 .3 7.9 .4 .2 .3-6 .3-.9 .3 7.8 .4-9 .3 .2 .3 4.4 .4-2.6 .3-4.5 .3 3.8 .3 4.4 .4-6 .3 10.1 .3-5.3 .3 2.1 .4-2.6 .3 1.3 .3 4.7 .3-7.7 .4 3.4 .3-2.4 .3 5.8 .4-7.8 .3 8.6 .3-7.6 .3-3.9 .4 10.1 .3-2.4 .3-7.9 .3 9.4 .4 4.9 .3-5.4 .3-3.3 .4 3.9 .3-2.6 .3 11.7 .3-5.9 .4 3.5 .3-14.5 .3 7.7 .3-.9 .4 4 .3-8.3 .3 4.7 .3-8.6 .4 10.2 .3 1.7 .3-6.7 .4 8.4 .3-13.4 .3 4.7 .3-3.4 .4 4.2 .3 5.1 .3-8.3 .3 14.5 .4-9 .3 9 .3-9.9 .3-2.3 .4 9.5 .3-.5 .3-8.7 .4 8.1 .3-5.4 .3-4.4 .3-.6 .4 11.9 .3-5.1 .3-4.3 .3 5.7 .4-.6 .3-.5 .3 3.6 .3-7.1 .4-3.2 .3 3.2 .3-6.5 .4 8.4 .3-4.6 .3 10.9 .3 3.4 .4-4.3 .3-10.4 .3 8.7 .3 6.8 .4-5.7 .3-12.1 .3 7.4 .4-4.8 .3 10.9 .3-6 .3 5.4 .4-6.5 .3 3.6 .3 .4 .3-9.8 .4 6.1 .3-3.1 .3 .1 .3 2.8 .4-.1 .3 1.5 .3-.3 .4-9.3 .3 5.1 .3 8.6 .3-2.1 .4 .2 .3-6.1 .3 10.9 .3-7.4 .4-1.9 .3-.4 .3 .3 .3 2 .4-2.1 .3 9 .3-6.2 .4-1.5 .3 7.8 .3-9.4 .3 1.3 .4-10.7 .3 15.1 .3-11.1 .3 1.2 .4 7 .3 3.3 .3 6 .3-1.6 .4-6.4 .3-9.9 .3 3.3 .4 9.9 .3-2.3 .3-3 .3-5 .4 3.8 .3 1 .3 .6 .3 4.6 .4-.5 .3 1.8 .3-1.6 .4-6.6 .3 1.2 .3-.1 .3-.6 .4-9.1 .3 13 .3-1.9 .3 1.9 .4-11.2 .3 16.5 .3-4 .3-4.9 .4 2.1 .3-.2 .3 3 .4-4.4 .3-.4 .3-.2 .3 12.8 .4-21.9 .3 15.3 .3-1.1 .3 .4 .4 .1 .3-4.2 .3-3.1 .3-2.8 .4 6.9 .3 2.1 .3-8.1 .4 .1 .3-2.6 .3 5.6 .3 7.7 .4-6.3 .3 6.6 .3-.1 .3-4.3 .4-2.7 .3-5.8 .3 10.9 .3-7 .4-1.2 .3 .7 .3 2.1 .4 3.9 .3-3.6 .3 4.9 .3-7.3 .4 2.3 .3 4.8 .3-2.1 .3-7.9 .4 11.8 .3-12.7 .3 9.4 .4-4.5 .3 3 .3 1.7 .3-.1 .4-1.9 .3 1.2 .3 5 .3-8.8 .4-2.8 .3 6.3 .3-2.8 .3 0 .4 3.7 .3-3 .3-3.7 .4 .8 .3-1.2 .3-2.3 .3 11.8 .4-4.5 .3 2.7 .3 4.4 .3-5.1 .4-6 .3 1.1 .3 1.3 .3-4.6 .4-1.9 .3 3.7 .3 10.5 .4-15.7 .3 8.4 .3 8.2 .3-4.1 .4-2.8 .3 2.9 .3 2.3 .3-7.6 .4 10.3 .3-5.4 .3-1.5 .3-7.7 .4 7.7 .3-7.5 .3 12.6 .4-8.8 .3-1.9 .3-.6 .3 14.3 .4-16.1 .3 1.9 .3 2.4 .3-1.1 .4 7.1 .3-4.2 .3-6.7 .3 4.8 .4 9.8 .3-12.4 .3 3.5 .4 1.7 .3-4.4 .3 9.8 .3-6.1 .4-.3 .3-9.3 .3 3.6 .3 9 .4-2.6 .3 2.3 .3-9 .4 1 .3 12.8 .3-5.7 .3-5.6 .4 .9 .3 4 .3-.2 .3 7.2 .4-12.4 .3 8.3 .3-9.8 .3 13.4 .4-13.8 .3 8.9 .3-4.5 .4 8.3 .3-8.4 .3-4.3 .3 .5 .4 10.1 .3-4.5 .3-3.6 .3 10.4 .4-12.1 .3 10.1 .3-3.5 .3 4.4 .4-9.8 .3 5.3 .3-3.4 .4 1.3 .3 10 .3-3.9 .3-3 .4-2.6 .3-12.4 .3 19.5 .3-2.2 .4-3.7 .3-4.8 .3 6.7 .3 .2 .4-2.5 .3 2.7 .3-4.5 .4 2.8 .3 3.4 .3-3.5 .3-.5 .4 3.5 .3-7.9 .3 6.2 .3-11.6 .4 12.1 .3-5.7 .3-5.6 .4 11.7 .3 1.3 .3-3.9 .3 5.9 .4-4.6 .3-4 .3 4.6 .3 .3 .4 1.5 .3-7.2 .3-.3 .3 6.7 .4-3.2 .3 .8 .3 1.3 .4-5.4 .3-2.8 .3 6.4 .3-.8 .4 .5 .3 1.7 .3-.6 .3-4 .4-1.1 .3-.3 .3 5.2 .3 .4 .4-1.5 .3 5.1 .3-12.5 .4 11 .3-2.8 .3 5.6 .3-5.9 .4 1.5 .3-2.8 .3 4.9 .3-10.8 .4 5.3 .3 3.3 .3-3.5 .3 .2 .4 12.5 .3-8.8 .3 1.5 .4-3.3 .3-2.5 .3-.2 .3 .8 .4 3.5 .3-2.4 .3-6.3 .3 4.6 .4 2.4 .3-.5 .3 7.7 .4-9.2 .3 7.1 .3 2.2 .3-4.9 .4 4.1 .3-5.7 .3-.7 .3 1.2 .4 6.6 .3-2.2 .3-2.5 .3-1.3 .4 .7 .3-10.4 .3 8 .4-3.5 .3-5.6 .3 15.1 .3-8.3 .4-4.1 .3 5.6 .3-6.2 .3 7.9 .4-6.5 .3 2.6 .3 .3 .3 11.3 .4-13.9 .3-.8 .3 7.5 .4-.3 .3-12.9 .3 9.9 .3-.7 .4-9.6 .3 13.5 .3-3.6 .3 6.4 .4 1.9 .3-6.1 .3 7.2 .3-5 .4-3.5 .3 3.4 .3 5.8 .4-9.7 .3 1.9 .3 1.5 .3-6 .4 3.1 .3-5.7 .3 .4 .3 18.2 .4-11.8 .3-2 .3 3.8 .4-14.4 .3 14.2 .3-2.8 .3 9.3 .4-8.6 .3 2.7 .3-4.3 .3 6.8 .4-5.8 .3 3.7 .3-3.6 .3-4.6 .4 5.7 .3-.5 .3 3.2 .4-5.2 .3-1.1 .3-.6 .3 .7 .4 3 .3 9.4 .3-9 .3 .2 .4 5.8 .3-5.5 .3-3.6 .3 2.4 .4 3.7 .3-6" stroke="#000" stroke-width="0.8"/>
<path d="M396.5 343.8l.1 2 .2-1.7 .1 7.5 .2-1.9 .1-4.9 .2 4.8 .1 7.7 .1-3.2 .2 4.1 .1-8.8 .2 .5 .1-13 .2-2.1 .1 4.6 .1 8.7 .2 4.6 .1 1.2 .2-1.5 .1-4.6 .2-4.2 .1 11.4 .1 2.6 .2 7.4 .1-4.1 .2-.7 .1 2.3 .2 7.1 .1 4.4 .1-5.5 .2 1.7 .1-2.5 .2-6.1 .1-.8 .2-10.4 .1-2.2 .1 4.6 .2 13.5 .1 4.3 .2 3.5 .1-3.2 .2-5.5 .1 3.8 .1 7.6 .2-16.1 .1 5.4 .2-9.7 .1 11.4 .2 2.1 .1 5.5 .1-.3 .2 3.8 .1-16.6 .2-1.6 .1 12.3 .2 3.6 .1 3.2 .1-6.3 .2 6.5 .1-4.3 .2 7 .1 2.7 .2 4.3 .1-8.3 .1 .4 .2-5.7 .1-5.7 .2 .8 .1-5.5 .2-3.7 .1-13.1 .2 12.3 .1 12.9 .1-.2 .2-13.2 .1 4.7 .2 11.1 .1-7.6 .2 12.5 .1 6.6 .1-5 .2-14.8 .1 2.4 .2-22.9 .1 14.1 .2 4.7 .1 15.8 .1-14.5 .2 8.4 .1-12.1 .2-5.2 .1-12.5 .2 1.9 .1-12.1 .1-5.2 .2 15.5 .1 9.1 .2-17.1 .1 9.2 .2-8.4 .1 6.3 .1 3.7 .2-16.5 .1 10.1 .2-2.4 .1 5.1 .2-14 .1 3.8 .1 16.3 .2-9.9 .1 7.9 .2-3 .1 5.2 .2-10.2 .1-2.5 .1-7.1 .2-10.2 .1 15 .2 6.2 .1 16.8 .2 0 .1 6.2 .1-22.2 .2 10.6 .1-8 .2-8.6 .1-3.3 .2 15.2 .1 4.6 .1 2.3 .2-10.7 .1 1.5 .2 2.6 .1-6.9 .2-7.6 .1-1.1 .1 23.2 .2-2.5 .1 8.9 .2-3.1 .1-13.5 .2-.7 .1-10.6 .1 6.9 .2 1.1 .1-2 .2-.6 .1 6.9 .2 6.1 .1-12.4 .1 21.7 .2 2.4 .1 4.8 .2-12.4 .1 3.6 .2-1.4 .1 4.6 .1 3.5 .2 10.7 .1-11.9 .2-11.2 .1-3 .2 9.2 .1 2.9 .1-1.9 .2 1.5 .1-11.4 .2 17.1 .1-14.9 .2-10.4 .1 11.7 .1 12.2 .2-9.4 .1-3.2 .2-5.1 .1-12.6 .2 5 .1 3.7 .1-.4 .2-6.1 .1-2.9 .2 5.6 .1 9.4 .2-4 .1 .3 .1-2.3 .2-12 .1-7.2 .2-14.2 .1 12.7 .2 8.3 .1-3.2 .1-.9 .2 16.5 .1 0 .2-2.5 .1-15.8 .2-6.5 .1 3.5 .2-11 .1-11.6 .1 21 .2 6.1 .1 10.7 .2-6.7 .1-4.7 .2 .2 .1-.2 .1 6.6 .2-20.3 .1 10.6 .2-18 .1 5.4 .2-2.7 .1-1.7 .1 14 .2 17.1 .1-4.4 .2-6.2 .1-13.1 .2 10 .1 15.5 .1-2.9 .2 .6 .1-12.8 .2 8.2 .1 1.6 .2 8.9 .1-4.3 .1-2.3 .2 5.7 .1 1.9 .2-8.3 .1 8.3 .2-3.8 .1 6.9 .1-14.7 .2 15.2 .1-14.1 .2 14.6 .1-9.7 .2-2.8 .1 5.8 .1-11.4 .2 18.7 .1-9.9 .2 14.6 .1 7.7 .2-15.5 .1-3.3 .1-3.6 .2-15.8 .1 17.3 .2-4.3 .1 1.5 .2-1 .1 10.9 .1 6.1 .2 11.8 .1 1.9 .2-7 .1-7.8 .2-10.6 .1-13.7 .1 .1 .2 6.9 .1-4.6 .2-9.6 .1 17.1 .2 1.9 .1 7.4 .1 .1 .2-7.9 .1-16.1 .2 2.8 .1-7.8 .2 15 .1-1.4 .1 1.1 .2-22.3 .1 10.4 .2-4.9 .1 11.4 .2-.4 .1 15.8 .1-23.1 .2-5 .1 8.2 .2 1.3 .1 11.4 .2 1.1 .1-13.3 .1-4.3 .2 .9 .1 3.2 .2-6.2 .1-9.9 .2 8 .1 16.8 .1-7.1 .2 0 .1-12.1 .2 4.2 .1-1.2 .2-3.5 .1-5.7 .1 5.8 .2 15.2 .1-1.9 .2 9.4 .1-4.6 .2-9.5 .1-7.2 .1-10.1 .2-1.6 .1 6.6 .2-1.5 .1-1.3 .2 3.2 .1-3.4 .1 1.6 .2-2.3 .1-4.3 .2 1.5 .1 8.3 .2 1.1 .1-11.5 .1 8.1 .2 9.5 .1 3.3 .2 5.8 .1-12 .2-25.1 .1-7.2 .2 5.5 .1 7.1 .1 13.9 .2 6.1 .1-8.2 .2 3.1 .1 1.2 .2 1.4 .1-.9 .1 16.1 .2-15.3 .1-2.9 .2-8.5 .1 1.1 .2 7.5 .1 2.3 .1 7.5 .2 1.6 .1-7.4 .2-13.7 .1 14.1 .2-7.4 .1-5.3 .1-3.3 .2-14.9 .1 15.3 .2-6.1 .1 17.8 .2 6.5 .1 11.4 .1-13.9 .2 8.8 .1-13.5 .2 .5 .1-.7 .2 14.4 .1-5.7 .1-17.6 .2-5.2 .1 12.9 .2 11.4 .1-5.5 .2-1 .1-9.3 .1 5.6 .2 7.2 .1-13.6 .2-6.5 .1-13.4 .2 13.5 .1 5.9 .1 6 .2 7.4 .1-7.4 .2 5.3 .1-6.9 .2-1.5 .1 3.9 .1 23.3 .2-2.1 .1-6.4 .2-4.1 .1-10.1 .2 10 .1-1.5 .1 6.9 .2-14.3 .1 12.3 .2-9.5 .1-1.3 .2 1.1 .1 6.2 .1-5 .2 9.7 .1-14.1 .2-1.3 .1 3.3 .2 5.9 .1-2.4 .1-13.8 .2 16.1 .1 8.8 .2-12.5 .1 16.5 .2-11.8 .1-3.5 .1-.9 .2-2.9 .1 .4 .2-8.5 .1-12.5 .2-3.5 .1-7.7 .1-.5 .2 7.8 .1 11.7 .2-4.9 .1-1.6 .2-5 .1 9.3 .1-.1 .2-17.6 .1 24.7 .2 .3 .1 2.2 .2 22.3 .1-14.8 .1-12.7 .2-3.5 .1-1.4 .2-13.5 .1 3 .2 4 .1 4.8 .1-6.3 .2-12.9 .1 18.7 .2 12.8 .1-13.6 .2-5 .1-4.5 .1 10.2 .2-6.6 .1-11.9 .2 16.9 .1-11.1 .2-13.9 .1 12 .1-11.3 .2 9.3 .1 3.6 .2-4.5 .1 8.2 .2 11.8 .1-.8 .2 5.5 .1-10.6 .1 1.7 .2 16 .1 15.4 .2-10.3 .1-2.1 .2-6.1 .1-.8 .1-8.5 .2-6.6 .1 5 .2 4 .1 20.1 .2-5 .1 7.2 .1 2.1 .2 4.9 .1 6.3 .2-13 .1 8.1 .2-23.3 .1 18.9 .1-9.3 .2-.9 .1 4 .2-7 .1 3.2 .2-1.4 .1 5.6 .1 14.4 .2-9.7 .1 4.5 .2-5.1 .1 24.5 .2-11.5 .1 4 .1 4.8 .2-10.2 .1 10 .2-14 .1 10.8 .2 10.9 .1-15.8 .1-23.3 .2-2 .1-1.8 .2 5.7 .1 4.8 .2 22.4 .1 4.3 .1-19.3 .2-1.4 .1 1.6 .2 16.2 .1-16.7 .2 4 .1 12.8 .1-9.6 .2 .5 .1 18.5 .2-3.3 .1-26.1 .2-8.3 .1 .8 .1 21.4 .2-9.6 .1 8.2 .2-11 .1-14.8 .2 20.2 .1-1 .1-4.5 .2-12.6 .1 11.8 .2 4.4 .1-1.9 .2-10 .1-1.7 .1 3.1 .2 .2 .1 5.5 .2-10.2 .1-4 .2 5.9 .1-5.1 .1 19 .2-8.2 .1 7 .2-2.3 .1 6.8 .2-22 .1 7.3 .1 6 .2 8.3 .1 12.7 .2-2.2 .1 11.3 .2-17.7 .1-6.3 .1-.8 .2 3.3 .1 .4 .2-1.2 .1 15.2 .2-21.7 .1-3.1 .1 3.4 .2 5.4 .1 5.7 .2-5 .1-2.4 .2 15.8 .1-4.8 .1 5 .2-8.1 .1 13.5 .2-3.4 .1-1.8 .2 7.8 .1-.8 .1-16 .2-13.2 .1-12.4 .2-7.3 .1 8.6 .2 11.5 .1-5.3 .2-8.4 .1-23.3 .1 14.6 .2-5.7 .1 11 .2 4.1 .1 16.8 .2-3.5 .1-9.7 .1-.5 .2 9.8 .1 11.6 .2 5 .1-14.4 .2-19.3 .1 31.6 .1-11.6 .2-6.3 .1-12.3 .2-8.9 .1 8.1 .2 8.3 .1 .8 .1-9.2 .2 6.5 .1-7.7 .2 3.3 .1 11.6 .2 6.5 .1-16.9 .1 16.6 .2-.6 .1-3.5 .2 3.6 .1 13.8 .2-11.6 .1 1.7 .1-16.4 .2 9.5 .1-15.7 .2 12.7 .1-16.3 .2 .9 .1-2.3 .1 3 .2-8.8 .1 5.8 .2-2.9 .1 5 .2 7.3 .1-16.6 .1 11 .2 15.8 .1-.9 .2-14.8 .1 17.5 .2-8.7 .1 18.7 .1-5.8 .2-4.2 .1-1.2 .2 15.8 .1 17.5 .2-9.8 .1-6.4 .1-12.2 .2 12.4 .1 3.6 .2 .3 .1-2.2 .2-10.5 .1 2.7 .1 6.9 .2 1.9 .1-5.3 .2 10.4 .1 17.5 .2 3.1 .1-11.6 .1 6.8 .2-28.5 .1 14.2 .2 1.2 .1-8.9 .2-3 .1 18 .1 3.1 .2-9.4 .1 4.2 .2-.6 .1 4.6 .2 12.5 .1-6.2 .1 6.9 .2-2.4 .1 3.5 .2-11.6 .1 14.4 .2 1.6 .1-5.2 .1-18.1 .2-17.7 .1 14.3 .2-7.7 .1-4.6 .2 2.2 .1 17 .1-4.5 .2 19.3 .1-11.8 .2-15.1 .1 15.7 .2 19.9 .1-7.5 .1-12.7 .2 21.9 .1-11.8 .2-16.1 .1 9 .2-3.2 .1 13.8 .1-6.1 .2-7.2 .1 .1 .2 5.2 .1-19.5 .2 11.5 .1 0 .1 21.6 .2-21.6 .1-2.4 .2 3.2 .1 9 .2 2.3 .1-.4 .2 10.6 .1-7.6 .1-22.7 .2-4.3 .1 10.7 .2-.7 .1-1.1 .2-7.8 .1 12.9 .1 5.6 .2 14 .1-12.8 .2 19.7 .1-6.5 .2-10.2 .1-11.2 .1-2.3 .2 15.7 .1-15 .2-25.2 .1 7.3 .2 13.2 .1 1.5 .1-.8 .2 16.6 .1-1.9 .2 8.8 .1-6.6 .2-18.6 .1-3.4 .1 33.6 .2-26.1 .1 18.1 .2-5.1" stroke="#00f" stroke-width="0.9" stroke-dasharray="4.8 3"/>
<path d="M461.0 310.4L461.1 234.3M462.3 270.9L462.4 241.4M429.2 339.9L429.4 269.4M430.0 343.7L430.1 272.9M445.1 314.8L445.3 269.4M492.9 372.2L493.0 406.2M503.9 335.6L504.0 404.5M490.0 337.7L490.1 297.5M405.5 381.4L405.7 392.2M420.2 353.9L420.4 392.2M439.8 319.4L440.0 367.7M457.0 307.3L457.1 276.4" stroke="#00f" stroke-width="1.2" stroke-dasharray="4.8 3"/>
<path d="M396.5 332.6l1 2.6 1 8.9 1.1 4.2 1 2.8 1 5.6 1 3.7 1 .3 1.1 1.9 1-1.4 1-.3 1 .3 1.1-3.1 1-5.2 1 .7 1-1.8 1-6.6 1.1 0 1-3.8 1 4.7 1-3.9 1-.5 1.1-2.2 1 1.8 1-2.4 1-.3 1.1-3.8 1-1 1 .1 1-1.4 1-.3 1.1-.6 1-1.4 1-2.6 1 4.3 1-4.3 1.1 .9 1-3.1 1-5.6 1-1.8 1-6.1 1.1-8.7 1-3.3 1-10.6 1-3.8 1.1-2.9 1-1.5 1-4.6 1-5.3 1-2.1 1.1 .7 1 4.2 1-.2 1 2.5 1 7.4 1.1 .8 1 2.4 1 .8 1 6.4 1 4.9 1.1 5 1 3.5 1 2.8 1 4.5 1.1 4.5 1 2.8 1 4.7 1 5.5 1 .1 1.1 7.5 1 1.6 1 .4 1 3.3 1-1.7 1.1-1.1 1 4.6 1 2.1 1-2.6 1.1 1.1 1 2 1 2.6 1 .6 1-1.6 1.1 .4 1 1 1-3.8 1 5.2 1-3.1 1.1 5 1-4.4 1-1.6 1-.3 1 1.5 1.1-.8 1-.4 1-.3 1-.1 1.1 .5 1-2.6 1-.3 1-2.2 1 2.2 1.1-5.6 1 4.3 1-2.7 1-3.3 1 1.1 1.1-1.9 1-3.2 1 .9 1 1.7 1.1-7.9 1 5.2 1-5.4 1 0 1 .1 1.1-3.1 1-.2 1 2.4 1-3.2 1 1.8 1.1-2.2 1 1.7 1-2.4 1-.6 1 2.3 1.1 0 1 1 1-2 1 .3 1.1 .3 1 .3 1-1.4 1 .9 1 2.7 1.1-1.3 1-.4 1-1.3 1 4.2 1-2.4 1.1 1.5 1 3.1 1 1.5 1-3.5 1 .8 1.1 1.2 1-.3 1-2.6 1 2.2 1.1 3.2 1-5.4 1 3.8 1-.8 1 1 1.1-1.7 1 1.8 1 .7 1-.7 1 1.3 1.1-.8 1 1.2 1 .8 1-1.3 1.1-1.5 1 4.4 1-2.9 1-2.2 1 0 1.1 .7 1 .2 1 0 1 2.5 1-4.6 1.1 4.3 1-2.6 1 .8 1 0 1-.5 1.1 .5 1 1.1 1 .8 1-1.1 1.1 2.5 1-2.9 1-.8 1 1.3 1-2.7 1.1 3.9 1-2.9 1-1.9 1 3.1 1 .4 1.1-1.5 1-2.3 1 2.3 1 1.3 1.1-1.4 1-1.1 1-.2 1 1.5 1-.8 1.1 2.6 1-3.7 1 .8 1-1.5 1 1.6 1.1 1.6 1 0 1 2.3 1-2.3 1-.2 1.1 .2 1-1.9 1 3 1-6.2 1.1 5.3 1-5.7 1 1.3 1 4.9 1-2.6 1.1 2.8 1-.6 1-3.3 1 4.5 1-2.7 1.1 2.8 1 .3 1-4.8 1-.6 1.1 3.1 1-.9 1-.5 1 2.1 1-3.2 1.1 2.3 1-.1 1-.3 1 .1 1 2.8 1.1-3.3 1 1.1 1 2.1 1-3.1 1-.9 1.1 2 1-1 1 1.2 1-.8 1.1-1 1 2.6 1-2.9 1 0 1 3 1.1-3.5 1 1.8 1-2.3 1 3.2 1-3 1.1 2.2 1 1 1-2.2 1-.4 1-2.5 1.1 3.1 1-.8 1 2.6 1-3.1 1.1 3.7 1-1.5 1 .5 1-1.9 1-2 1.1 4.2 1-2.4 1-.5 1 4 1-3.2 1.1-.1 1 .7 1 2 1-.5 1.1 1.1 1-1.5 1-.3 1-.1 1 1.4 1.1-1.8 1 0 1 1.3 0 10.3-1-.4-1 1.6-1.1 .6-1-3.5-1 1.8-1 1.2-1-2.9-1.1 6.4-1-3.5-1-.9-1 2-1.1-2.9-1 1.9-1 1-1-1.8-1-.2-1.1 .8-1-2-1 3.5-1-.9-1-.9-1.1-1.2-1 .4-1 .2-1 1.9-1.1-1.1-1 2.9-1-3.2-1-1.7-1 1.4-1.1 .4-1-.6-1 3-1-2.1-1-.4-1.1 .5-1 1.1-1-2.2-1 1.8-1 1.9-1.1-4.8-1-.1-1 3.8-1 .4-1.1-.3-1-.9-1-3.3-1 4.4-1-2.3-1.1 1.3-1 .5-1 .2-1-2.3-1 0-1.1 .4-1-3.7-1 5.7-1-2.6-1 1.9-1.1-.5-1-1.4-1 .8-1 .4-1.1-1.3-1-1.9-1 1.9-1 1.1-1 .5-1.1-.4-1-1.8-1 3.7-1-4.6-1 4.9-1.1-2.1-1 1-1-2.6-1 3.4-1.1-3.1-1 1.6-1-.4-1-.5-1 1-1.1 .6-1 0-1 1-1-3.9-1 2.3-1.1-1.1-1 3.8-1-4.6-1-.4-1 4-1.1-2.9-1 1.1-1 .8-1-.3-1.1 1.7-1-4.3-1 2.1-1 .7-1-2-1.1 .2-1 .9-1-.9-1 1.5-1 1.6-1.1-1.3-1-.2-1 .1-1 .3-1.1-.9-1 1.3-1 .6-1-.9-1-1.6-1.1 2.8-1-1.5-1-2.4-1 .2-1 0-1.1 3.1-1-3-1 1-1-1.6-1 4.2-1.1-3.2-1 2.6-1-2-1 .5-1.1-1.1-1 0-1-.5-1 2.2-1-.4-1.1-.5-1 1.9-1-4.7-1-.8-1 2.9-1.1 .9-1-1.3-1-3.5-1 1.6-1.1-.4-1 .2-1-1.5-1 .4-1 .8-1.1-2.5-1 2.1-1 2.4-1-1.9-1-1.4-1.1-2.4-1 2.9-1-.9-1-3.9-1 2-1.1-1.4-1 3.6-1-1.1-1-1.9-1.1 .9-1-1.3-1-1.9-1 5.2-1 1.5-1.1-2.9-1-.1-1 3-1-1-1 .9-1.1-.3-1-1.3-1 5.8-1 .7-1-.1-1.1-.4-1 .6-1 3.6-1 1.9-1.1-1.8-1 1.1-1 2-1-1-1 3.4-1.1-.2-1 3.9-1-3.5-1 6.2-1-2.9-1.1 1.6-1-.9-1 3.9-1-3-1.1 1.6-1 1.1-1 2.1-1 1-1-2.1-1.1-1.4-1 .2-1-1.9-1-.9-1-1.9-1.1 1.8-1 1.6-1 2.6-1-2.9-1-.2-1.1-2.6-1 1.1-1-1.7-1-4.8-1.1 1.9-1-1.2-1 2.7-1-2-1-5.1-1.1-3.5-1-4.9-1-3.3-1-4.2-1-3.3-1.1-6.9-1-2.8-1-4.8-1-1.4-1.1-9.6-1 .6-1-6.2-1-4.2-1-.5-1.1-2.1-1-1.8-1-2.6-1-6.9-1-.3-1.1-1.2-1 4-1 2.9-1 1.2-1 6.4-1.1 3.2-1 4.3-1 8.2-1 4.7-1.1 9.2-1 4.4-1 8.2-1 2.7-1-1.9-1.1 1-1-.5-1 3.9-1-.3-1 3.3-1.1-.7-1 1.4-1-.5-1 .8-1 3.7-1.1-1.3-1-.5-1-1-1 5.4-1.1 .1-1 1.4-1 1.8-1 3.1-1-2.3-1.1 3.3-1 1.4-1 5.6-1-.2-1 2-1.1 2.8-1 3.6-1-1.7-1-1.2-1.1 3.3-1-5.4-1-3.7-1-5.1-1-3.5-1.1-4.3-1-5.2-1-.9z" fill="#f00" stroke="none"/>
<path d="M396.5 341.3l.2-3.8 .2-4.4 .2 1.3 .1 4.4 .2 2.8 .2-.6 .2 2.3 .2 3.9 .2-1 .1-1.2 .2 4.1 .2 .4 .2-2.4 .2 2.8 .2 .1 .1 .9 .2 11.3 .2-7.5 .2-1.5 .2 3.5 .2 4.3 .1-4.9 .2 12.1 .2-3.1 .2 3 .2-5.9 .2 1.3 .1-9.4 .2 11.6 .2 4.5 .2 2.1 .2-6.5 .2-2.1 .1-.5 .2 4.3 .2 5.3 .2-.5 .2-9.4 .2 .3 .2 3.7 .1 1.4 .2-1.4 .2 1.7 .2-.5 .2-.1 .2-8.5 .1 5.6 .2 11.2 .2-10.9 .2 1 .2 3.7 .2-6.5 .1 9.7 .2-6.7 .2 1.1 .2 3.5 .2-4.5 .2-2.9 .1 1.1 .2 3.7 .2 1.6 .2-1.3 .2-.4 .2-7.6 .1 15.3 .2-10.6 .2-1.8 .2 1 .2 8.9 .2-9.8 .2 4.2 .1-3 .2-4.2 .2 8.3 .2-10.2 .2-5.8 .2 7.2 .1-.2 .2-2.5 .2-10.1 .2 12.7 .2-4.5 .2-7 .1 5.3 .2 6.3 .2-3.3 .2 1.2 .2-3.1 .2 5.7 .1 4.1 .2-12.7 .2 4.1 .2-8 .2 1.3 .2 2.2 .1 .5 .2-.5 .2 .5 .2 4.7 .2-.8 .2-.5 .1-4.3 .2 5.2 .2-8.4 .2 .9 .2-4.8 .2 6.3 .2-.3 .1 4.7 .2-1.1 .2-10.3 .2-3.2 .2 2.7 .2 11.5 .1-4.6 .2-1.4 .2-1.2 .2-1.1 .2-.9 .2 3 .1-.3 .2 .8 .2-6.7 .2 12.2 .2-10.1 .2 5.1 .1-9.7 .2 .7 .2 4.8 .2-1.7 .2-6.6 .2 9.3 .1-3.9 .2 1.1 .2 4.3 .2-4.2 .2-6.2 .2 3.2 .1-3.6 .2-3.6 .2 6.9 .2 14.7 .2-12.4 .2 0 .2 2.6 .1-10.1 .2 7.1 .2-8 .2 8.1 .2-1.2 .2-2.6 .1 5.8 .2-10.3 .2 4.9 .2 4.7 .2-5.2 .2 1.9 .1-2.9 .2 6.8 .2-4.9 .2 7.9 .2-9 .2-3 .1 4 .2 1.1 .2-.1 .2 .1 .2-7.1 .2 6.9 .1 1.8 .2-5.2 .2 9.5 .2-15.9 .2 1.2 .2 3.8 .2-4.7 .1 13.4 .2-6.3 .2-.1 .2-11.8 .2 9 .2-.1 .1 7.1 .2 .8 .2-4.6 .2-6.6 .2 .2 .2 7.1 .1-4.7 .2-1.5 .2 4.7 .2-9.4 .2 7.8 .2 6 .1-10.4 .2-5.9 .2 10.9 .2-9.6 .2 2 .2 9.4 .1-2 .2 3.3 .2 1 .2-7.8 .2 3.5 .2-2.4 .1-2.6 .2-4.6 .2 3.9 .2 4.3 .2 1.1 .2-2.2 .2-5.4 .1-4.9 .2-1.8 .2 2.6 .2-13.5 .2 16.2 .2-4.1 .1-3.7 .2 2.4 .2-4.9 .2 4.7 .2-6.5 .2 1.2 .1 2.1 .2 5.1 .2-9.3 .2 1.5 .2-8.2 .2-2.6 .1 4.4 .2 1.6 .2-8.4 .2 3.2 .2 0 .2-10.7 .1 10.6 .2-2.7 .2-9 .2 2 .2 1.8 .2-8.6 .2-.6 .1 3.4 .2 3.5 .2-3.2 .2 3 .2-6.8 .2-1.2 .1 1.4 .2 3.6 .2-3.5 .2 5 .2-13.6 .2 8.9 .1-7.8 .2-.2 .2-.9 .2 2.1 .2 2.2 .2-6.5 .1 5.6 .2-5.8 .2 13.7 .2-10.1 .2 2.6 .2-10.8 .1-1.7 .2 4.7 .2-2.9 .2 3.4 .2 3 .2-2.6 .1-7 .2 12.5 .2-6.4 .2 7.2 .2-7.6 .2 3.5 .2 13.6 .1-8.9 .2-8.4 .2 .5 .2-4.9 .2 4.3 .2 6.9 .1 4.9 .2-5.6 .2 3.9 .2-.3 .2-6.7 .2 2.1 .1-.3 .2 1.9 .2 .9 .2 3.1 .2-2 .2 1.1 .1 5.5 .2-5.8 .2 7.8 .2-1.9 .2-9.4 .2 4.5 .1 6 .2-3.9 .2 6.2 .2-7.1 .2 3.2 .2-1 .1 7 .2-5.7 .2 4.2 .2 .7 .2 2.4 .2-3.4 .2 11.7 .1-11.8 .2 2.5 .2 3.8 .2 1.7 .2-1.7 .2 .2 .1-1.5 .2 11.9 .2-10.2 .2 4.1 .2 2.7 .2 2.2 .1-8 .2 7.2 .2-.9 .2-8.7 .2 3.3 .2 3 .1 4.3 .2 7.3 .2-5 .2 .3 .2-.9 .2 16.2 .1-12.7 .2 5.9 .2-4.6 .2 2.7 .2-4.2 .2 4.6 .2-5.2 .1 5.4 .2 1.3 .2-3.4 .2 10.7 .2-8 .2 6.5 .1-1.2 .2 2.4 .2-7.4 .2 2.7 .2 8.1 .2 2.4 .1-10.1 .2 7.2 .2 4.4 .2-9 .2 3.8 .2 4 .1-5.1 .2 1.3 .2 3.2 .2 1 .2-.4 .2 2.6 .1 2 .2-.2 .2-5.8 .2 9.9 .2 .5 .2-4.2 .1 5.1 .2 1.3 .2 1.9 .2-5.9 .2 5.4 .2-1 .2-2.9 .1 2.6 .2 5 .2-5.4 .2 7.8 .2 5.5 .2-13.6 .1 13.2 .2-4.7 .2-10.1 .2 8.9 .2-1.3 .2 4.2 .1-7.2 .2 1.9 .2 6.9 .2-8.2 .2 9.6 .2-12.4 .1 5.6 .2-.4 .2-.6 .2 6.3 .2-6.1 .2-4.3 .1 .3 .2 13.1 .2-1.7 .2 .2 .2-5.8 .2-3 .1 2.1 .2 4.6 .2 1.3 .2-6.6 .2 1.6 .2-2.9 .2 6.9 .1-3.8 .2 .6 .2 4.6 .2 3.5 .2-8.6 .2 3.3 .1 5.2 .2-5.8 .2-5.9 .2 7 .2-10.1 .2 16.7 .1-2.7 .2-2.2 .2-1.9 .2-.7 .2 4.3 .2-8.3 .1 3.9 .2 3.9 .2-6.7 .2 5.2 .2-7.4 .2 12.3 .1-8.4 .2 3.7 .2-7.8 .2 8.1 .2-2.1 .2 2.2 .2-7.1 .1 4.1 .2 1.4 .2-1.2 .2-.1 .2-.5 .2-5.1 .1 6.3 .2 5.2 .2 .7 .2-10.3 .2 4.5 .2 12.4 .1-7.4 .2-10.7 .2 5.5 .2 6.4 .2-3.1 .2 5.8 .1-1.6 .2-1.5 .2-12.8 .2 1.9 .2 1.6 .2 8.2 .1-.7 .2 2.5 .2-7.8 .2 1.3 .2-2 .2 8.2 .1 3.1 .2-11.7 .2 14.1 .2-15.2 .2 3.1 .2 3.2 .2 0 .1-3 .2 2.3 .2 .9 .2-5.6 .2 7.1 .2-10.2 .1 6.9 .2 6.5 .2-4 .2 1 .2-2.8 .2 5.7 .1-7.7 .2 8.6 .2-6.3 .2 2.5 .2-3.9 .2 3.2 .1 4.3 .2-12.2 .2 3.2 .2 2.4 .2-6 .2 8.1 .1-2.9 .2-5.6 .2 5.7 .2-5.6 .2 5 .2-5.2 .2 8.6 .1-3.6 .2 9 .2-7.6 .2-3.6 .2-.6 .2 1 .1 2.7 .2 3.9 .2-6.8 .2 6.1 .2-1.8 .2-7 .1 1.1 .2 5.9 .2-3.6 .2 1.3 .2-4.3 .2 3.1 .1 .8 .2-2.5 .2-.4 .2-2 .2-.2 .2 5.7 .1-3.2 .2-4.1 .2 2.8 .2-.7 .2 1.6 .2 3.4 .1-2.9 .2 2 .2-3.2 .2-3.2 .2 4.4 .2-1.7 .2 5.1 .1-4.7 .2-2.9 .2-.8 .2-1.4 .2 6.9 .2-9.1 .1 13.1 .2 1.8 .2-7.9 .2-.6 .2-1.4 .2 4.6 .1-4.3 .2-1 .2-6.6 .2 11 .2-4.4 .2-7.2 .1 10.9 .2-8 .2 6.5 .2-5 .2 .1 .2 9 .1-9.7 .2-1.1 .2 5.5 .2 .4 .2 5.2 .2-5.6 .1-6.5 .2-.8 .2-1.7 .2 2.4 .2 .7 .2 .8 .2 1.5 .1-5.7 .2 1.7 .2 2.6 .2-4.2 .2 8.5 .2 .8 .1-3.1 .2-5.4 .2 8.5 .2-8.4 .2-.2 .2 1.6 .1-4.4 .2 9.1 .2-7.4 .2 2.5 .2-5.2 .2 1 .1-2.9 .2 3.8 .2-1 .2 9.5 .2-2.9 .2-4.9 .1-4.3 .2 3.7 .2 0 .2-6 .2 .4 .2-5.1 .2 4.5 .1 7.3 .2 2.2 .2-5.4 .2 .3 .2-12.1 .2 8.2 .1-8.9 .2 10.4 .2-1.8 .2-.3 .2 1 .2 1.6 .1-3.5 .2-4.8 .2 7.7 .2 2.1 .2-10.6 .2 14.3 .1 1.6 .2-13.3 .2 18.5 .2-8.6 .2-7.3 .2 3.1 .1 1.1 .2 5.2 .2-6.3 .2 .7 .2-1.2 .2 5.3 .1-6.8 .2 2.3 .2 .1 .2 3.9 .2-4.5 .2-6.7 .2-2.1 .1 6.1 .2-3.4 .2 7.2 .2-4 .2 .9 .2 6.2 .1-2.4 .2-5.4 .2 2.5 .2 .5 .2-.8 .2 9.2 .1-10 .2 5.4 .2-2.2 .2-4.3 .2 3.7 .2-5.5 .1-1.9 .2 6.4 .2-8.2 .2 6.7 .2-.8 .2-2.5 .1-2.6 .2 10.4 .2-11.9 .2 7.2 .2-3.9 .2 13.1 .1-7.5 .2-1.9 .2-4.4 .2 13.1 .2-9.1 .2-6.1 .2 5.2 .1 0 .2 4 .2-1.6 .2-1.6 .2-3 .2 1.8 .1-.1 .2-5 .2 .2 .2 9.1 .2-2.7 .2 .6 .1-5 .2 1.9 .2-.2 .2-.5 .2-1 .2 6.5 .1 3.2 .2-6.9 .2 4.7 .2 .2 .2-4.4 .2 3.6 .1-9.3 .2-.4 .2 5.2 .2 5.5 .2-5.5 .2 4.6 .2-3.8 .1 3.7 .2-3.7 .2 8.9 .2 4.8 .2-16.2 .2 11.9 .1-3.7 .2-10.7 .2 10.6 .2-6.2 .2 5.3 .2-.8 .1-9.6 .2 14 .2-.8 .2-7 .2-.2 .2 11.4 .1-6.4 .2-7.8 .2 6 .2 3.9 .2-10.2 .2 3.8 .1-.4 .2-1.7 .2-.6 .2 .1 .2 9.6 .2-3.7 .1 3.7 .2-7.6 .2 5.1 .2-1.1 .2-11.5 .2 6.6 .2-.3 .1 7.5 .2-1.2 .2-2.9 .2 12.2 .2-15.8 .2 9.8 .1 .7 .2-3.4 .2-2.1 .2-.4 .2-4.8 .2 6.4 .1-4.8 .2 5.4 .2-3.2 .2 3.1 .2-3.5 .2 15 .1-10.3 .2 1.9 .2-15.7 .2 11.9 .2 1 .2-.4 .1-3.9 .2 3 .2-2.7 .2 8.9 .2-1.1 .2-2 .1-10.9 .2 7.3 .2 1.4 .2 .6 .2-6.6 .2 9.9 .2-4.2 .1-1 .2 1.6 .2 3 .2-10.5 .2 14.6 .2-12.6 .1 1 .2 6.5 .2-1.2 .2 2.9 .2-6.9 .2 7.2 .1-6.7 .2-5 .2 1.4 .2 9.1 .2-1.5 .2-3.6 .1 1.9 .2 1.8 .2 2.1 .2-3.5 .2 6.7 .2 0 .1-9.4 .2-2.5 .2 11 .2-6.9 .2 5.9 .2-6.6 .2 2.4 .1 8.5 .2-1.4 .2-10.1 .2 6.8 .2 8.5 .2-11.2 .1 1.9 .2 1.7 .2 .7 .2-9 .2-4.1 .2 3.9 .1 3.3 .2 7.1 .2-3.7 .2-3.9 .2 6.3 .2-13.6 .1 10 .2 4.6 .2-9.8 .2 6.5 .2-1 .2-6.9 .1 .9 .2 4.3 .2 .2 .2-1 .2 6 .2-2.2 .1 4.7 .2-9.7 .2 1.7 .2-1.5 .2 2.1 .2-3.3 .2 2.1 .1 3.9 .2-1 .2-4.2 .2 6.9 .2-1.8 .2-4.2 .1-1.8 .2 5 .2 2.1 .2-6.7 .2-1.5 .2 10.1 .1-8.6 .2 4.3 .2-1.4 .2 10.4 .2-4 .2-2.3 .1 2.3 .2-8.6 .2 7.2 .2 2.4 .2-3.1 .2-9.9 .1 5.8 .2 7.1 .2-7 .2 3.2 .2-1.6 .2 8 .2-14.4 .1 8.7 .2 5.9 .2-15 .2 10.6 .2-3.6 .2-6.1 .1 1.8 .2-1.3 .2 7.7 .2-5.6 .2 4.7 .2-1.3 .1 2.9 .2 5.8 .2-9.5 .2 2.5 .2-12.8 .2 12 .1-4.5 .2 4.4 .2-2.9 .2-.1 .2-1.9 .2 1.7 .1 4.2 .2 2.1 .2-8.1 .2 8.7 .2 .4 .2-8.8 .1 8 .2-4.5 .2-.4 .2 0 .2-4.7 .2 8.7 .2-7.3 .1 6.9 .2-7.3 .2 1.8 .2 4.3 .2-.8 .2-1.6 .1-1.5 .2-3.5 .2 3 .2 5.6 .2-7.3 .2 11.5 .1-6.7 .2-1.8 .2 6 .2-5.3 .2-.2 .2 2.2 .1 2.8 .2-2.7 .2-5.6 .2 4.9 .2-3.3 .2 6.6 .1-8.6 .2 6.6 .2-1.9 .2-5.8 .2 1 .2 11.3 .1-18.1 .2 6.8 .2 14 .2-12.8 .2 4.2 .2 2 .2 0 .1-7 .2 1.1 .2 5.4 .2-10.8 .2-2.8 .2 13.5 .1-2.8 .2 3.8 .2 .9 .2-6.6 .2 6.7 .2-5.8 .1-4.6 .2 1 .2 .3 .2 .4 .2 5.5 .2-1.3 .1 1.6 .2 1.5 .2-8 .2 11.2 .2-7.9 .2-.6 .1-2.4 .2 5.6 .2-9.5 .2 6.3 .2 2.6 .2-2.9 .2 .4 .1 2.9 .2-2.5 .2 5.6 .2-1.4 .2-5.2 .2 1.3 .1 3.3 .2 6.8 .2-10.9 .2-3.1 .2 4.6 .2-2.1 .1 6.7 .2-4.6 .2 4.8 .2 3.7 .2-9.6 .2 2.1 .1 4 .2-2.8 .2-1 .2 4.7 .2-13.2 .2 9.9 .1 .2 .2 2.4 .2-7.5 .2-.1 .2 6.6 .2-5.8 .1 4.4 .2-.1 .2-1.3 .2 1.6 .2-5.1 .2 7.4 .2-.3 .1-10.4 .2 7.5 .2-1.9 .2-3.5 .2 4.2 .2 1.4 .1 1.8 .2-3.6 .2 3.4 .2-7.3 .2 4.1 .2-2.6 .1-2 .2-.6 .2 4.6 .2 4.9 .2-5 .2-3.5 .1-.1 .2 9.8 .2-5.2 .2-4.6 .2-.4 .2-1 .1 4.3 .2 .2 .2-12.1 .2 14.3 .2-6.9 .2 2.9 .1 5.4 .2-3.3 .2 6.7 .2-11.7 .2 12.3 .2-6.4 .2-.3 .1 .3 .2 4.6 .2-1 .2-5.1 .2 1.3 .2 0 .1-11.5 .2 15.1 .2-1.1 .2-4.2 .2 2.9 .2-6.9 .1 6.9 .2-2.4 .2-4.7 .2 4.5 .2 1 .2-4 .1 5.1 .2 4.4 .2-1.6 .2-11.8 .2 7.9 .2-1.3 .1 5.2 .2-7.5 .2 6.2 .2-2.7 .2 3.1 .2 2.6 .2-3.8 .1 1.6 .2 1.1 .2 3.1 .2-.7 .2-11.5 .2 7.9 .1-5.7 .2 1.2 .2-3.4 .2 6.1 .2 2.9 .2-9.7 .1 8.3 .2-11.7 .2 15 .2-3.3 .2-3.2 .2 4 .1-3.8 .2 5.3 .2-6.6 .2-4.8 .2 .3 .2 6.3 .1-7.3 .2 14.3 .2-16.4 .2 6.6 .2 .8 .2-3.9 .1 7.7 .2-1.6 .2 4.4 .2-9.7 .2 7.2 .2 0 .2 4.2 .1-9 .2 5.8 .2 5 .2-8.9 .2 11.8 .2-15.3 .1 1.5 .2 3.1 .2 1.6 .2 7.8 .2-8.8 .2-2.8 .1 11.7 .2-8.4 .2-3.9 .2 0 .2 5.6 .2 1.2 .1-4.3 .2-2.3 .2-2.1 .2 10.5 .2-1.7 .2-7.6 .1 4.6 .2-5.3 .2 4.2 .2-4.1 .2-2.5 .2 4.8 .2 1.3 .1 4.9 .2-1.6 .2-8.6 .2 10.5 .2-3.1 .2-9.1 .1 12.4 .2-5 .2-3.1 .2 1.8 .2-1.3 .2 6.1 .1-6 .2-5.3 .2 13.3 .2-8.5 .2 4.8 .2-9.1 .1 4.6 .2-3.9 .2 2 .2 6.6 .2-5.5 .2 6.4 .1-3.7 .2-4.7 .2-2.7 .2 7.8 .2 2.5 .2 2.4 .1-8.5 .2 1.9 .2-10 .2 6.2 .2 .5 .2 1.8 .2 4.5 .1-7.6 .2 4.1 .2 7.8 .2-4.8 .2-.6 .2-1.5 .1 4.7 .2-7.1 .2 7 .2-7.3 .2 4 .2-3.1 .1-6.5 .2-.4 .2 14.1 .2-7.4 .2-4.4 .2-.1 .1 10 .2 5.1 .2-6.9 .2 8.1 .2-10.9 .2-2.1 .1-.1 .2-1.4 .2 12.3 .2-8.1 .2 6.9 .2-7.7 .1 .6 .2 3.5 .2-4.1 .2 6.2 .2-1.9 .2-3.4 .2-1.5 .1 7.3 .2-4.3 .2 4.7 .2 3.6 .2-5.6 .2-.7 .1-3.8 .2-1.5 .2 2.1 .2 2.4 .2-.4 .2 .2 .1-7.6 .2 10 .2-10.5 .2 10.2 .2 3.9 .2-12.1 .1 5.5 .2 3.9 .2-6.1 .2 4.4 .2-4 .2 .8 .1-1.5 .2 3.1 .2-6.7 .2 13.5 .2-.4 .2-5 .2-7.1 .1 6.4 .2-11.5 .2 13 .2 .4 .2 2.3 .2-12.5 .1 4.2 .2 3.6 .2 2.1 .2-7.7 .2 7.5 .2-2.1 .1 2.6 .2 .8 .2-11.7 .2-1 .2 12.9 .2-2.4 .1-2.7 .2 6.5 .2-11.4 .2 6.2 .2-9.3 .2 3.1 .1 9.8 .2-7.3 .2 4.1 .2 0 .2 1.5 .2-10.6 .1 4.3 .2-5.7 .2 12.8 .2-2.3 .2 3.9 .2-12.9 .2 6.4 .1-1.6 .2 5.1 .2-4.9 .2-5 .2 5.5 .2 4.3 .1-2 .2-5.4 .2 10.7 .2-10.2 .2 1 .2 5.9 .1 2.7 .2-9.1 .2-3.5 .2 10.3 .2-5.4 .2-2.1 .1 5.2 .2 3.7 .2-3.5 .2 5.6 .2-5.7 .2-2.8 .1-2 .2 2.1 .2-1.6 .2 10.9 .2-8.6 .2 5.8 .1 2.9 .2-8.1 .2-1.5 .2 10.4 .2-3.2 .2 2.4 .2-9.5 .1 5.1 .2-8.3 .2 15.6 .2-10 .2 .5 .2 5.2 .1-6 .2-2.6 .2 4.1 .2-3.6 .2-1.1 .2 4.2 .1 6.1 .2-5.3 .2-6.1 .2 2.9 .2 2.9 .2-1.2 .1 3.5 .2-5.4 .2 .3 .2-3.7 .2 5.8 .2 7.2 .1-2.1 .2-2.1 .2-.5 .2-2.3 .2-3.2 .2-2.7 .2 5.4 .1 3.4 .2-3.4 .2-1.5 .2-1.6 .2 .3 .2 3.7 .1 1.7 .2-3.2 .2 7.7 .2-5.5 .2-2.9 .2-1 .1 1.2 .2-1.6 .2 0 .2 2.6 .2-4.1 .2 11.7 .1-1.3 .2-3.9 .2-6.4 .2 7.3 .2-12.3 .2 8.8 .1 4.2 .2-13.3 .2 7.8 .2 3.5 .2-1.1 .2-4.4 .1 1.1 .2 1.6 .2-5.3 .2 8.8 .2-4.4 .2-.6 .2 1.8 .1-1.9 .2 3.5 .2-5.1 .2 .5 .2-.6 .2 8 .1 1.2 .2-.8 .2-1.8 .2-2.2 .2 1.6 .2 .7 .1 .4 .2-3.6 .2-2.1 .2 4.1 .2-5.7 .2 11.7 .1 .4 .2-7.7 .2 .6 .2-2.2 .2-3.8 .2 2.5 .1 7 .2-3.3 .2-.3 .2-2.3 .2 3.8 .2 4.6 .2-6.5 .1 6.1 .2-4.4 .2-3 .2 7.5 .2-8.4 .2 5.3 .1 4.1 .2-15.5 .2 4.5 .2-5.6 .2 12.9 .2-6.2 .1 1.8 .2 9.3 .2 2.3 .2-12.1 .2 2.6 .2 7.3 .1-15.9 .2 7.3 .2 2.9 .2-2.3 .2-2 .2-2.6 .1 7.3 .2-10.8 .2 8.9 .2 .5 .2-11.5 .2 2.3 .1 13.2 .2-9.6 .2-1.9 .2 3.4 .2 5.4 .2-7 .2 6.5 .1 1.6 .2-5.1 .2-7.3 .2 11.6 .2-3.3 .2 2.5 .1 3.7 .2-6.7 .2-3.3 .2 11.6 .2-4.5 .2-9.1 .1 2.8 .2 .9 .2 2.7 .2 6.7 .2-7.1 .2 .3 .1-3.2 .2-1 .2-6.3 .2 8.2 .2-3.2 .2 4.1 .1 2.5 .2-1.8 .2 3.2 .2-.3 .2-7 .2-.4 .1 14.1 .2-7.8 .2 7 .2-14.6 .2 1.9 .2 4 .2 3.6 .1-.7 .2-.3 .2 0 .2-10.7 .2 9.9 .2-6.8 .1 4.7 .2 1.3 .2-6.3 .2 13.4 .2-6.8 .2 3 .1-5.2 .2-4.4 .2 6.6 .2 .8 .2-2.2 .2 1.6 .1-9.8 .2 6.5 .2-.3 .2 4.2 .2-7.6 .2 5.2 .1-4.6 .2 1.3 .2 3 .2 6.1 .2-7.6 .2-1.4 .2 2.1 .1-5.5 .2 13.2 .2-3.8 .2-2.4 .2 4.2 .2-5.4 .1-1.4 .2-3.1 .2 3.3 .2-3.4 .2 7.5 .2 2.5 .1-8.2 .2 6.9 .2 6.2 .2-14.2 .2 6.3 .2-1.1 .1-4.2 .2-6.9 .2 8.2 .2 2.6 .2-4 .2 10.1 .1-12.9 .2 6 .2 7.2 .2-4.2 .2 2.5 .2-2.4 .1-10.5 .2-.9 .2 5.9 .2 6.3" stroke="#f00" stroke-width="1.0"/>
</g>
<path d="M396.5 409.8v-3M396.5 234.3v3M437.3 409.8v-3M437.3 234.3v3M478.2 409.8v-3M478.2 234.3v3M519.0 409.8v-3M519.0 234.3v3M559.9 409.8v-3M559.9 234.3v3M600.7 409.8v-3M600.7 234.3v3M641.6 409.8v-3M641.6 234.3v3M682.4 409.8v-3M682.4 234.3v3M396.5 409.8h3M690.6 409.8h-3M396.5 374.7h3M690.6 374.7h-3M396.5 339.6h3M690.6 339.6h-3M396.5 304.5h3M690.6 304.5h-3M396.5 269.4h3M690.6 269.4h-3M396.5 234.3h3M690.6 234.3h-3" stroke="#222" stroke-width=".8" fill="none"/>
<rect x="396.5" y="234.3" width="294.1" height="175.4" fill="none" stroke="#333" stroke-width="1.1"/>
<g fill="#222"><text x="396.5" y="418.6" font-size="8.6" text-anchor="middle" textLength="4.18" lengthAdjust="spacingAndGlyphs">0</text><text x="437.3" y="418.6" font-size="8.6" text-anchor="middle" textLength="8.36" lengthAdjust="spacingAndGlyphs">10</text><text x="478.2" y="418.6" font-size="8.6" text-anchor="middle" textLength="8.36" lengthAdjust="spacingAndGlyphs">20</text><text x="519.0" y="418.6" font-size="8.6" text-anchor="middle" textLength="8.36" lengthAdjust="spacingAndGlyphs">30</text><text x="559.9" y="418.6" font-size="8.6" text-anchor="middle" textLength="8.36" lengthAdjust="spacingAndGlyphs">40</text><text x="600.7" y="418.6" font-size="8.6" text-anchor="middle" textLength="8.36" lengthAdjust="spacingAndGlyphs">50</text><text x="641.6" y="418.6" font-size="8.6" text-anchor="middle" textLength="8.36" lengthAdjust="spacingAndGlyphs">60</text><text x="682.4" y="418.6" font-size="8.6" text-anchor="middle" textLength="8.36" lengthAdjust="spacingAndGlyphs">70</text><text x="393.6" y="411.9" font-size="8.6" text-anchor="end" textLength="8.36" lengthAdjust="spacingAndGlyphs">30</text><text x="393.6" y="376.8" font-size="8.6" text-anchor="end" textLength="8.36" lengthAdjust="spacingAndGlyphs">40</text><text x="393.6" y="341.7" font-size="8.6" text-anchor="end" textLength="8.36" lengthAdjust="spacingAndGlyphs">50</text><text x="393.6" y="306.6" font-size="8.6" text-anchor="end" textLength="8.36" lengthAdjust="spacingAndGlyphs">60</text><text x="393.6" y="271.5" font-size="8.6" text-anchor="end" textLength="8.36" lengthAdjust="spacingAndGlyphs">70</text><text x="393.6" y="236.4" font-size="8.6" text-anchor="end" textLength="8.36" lengthAdjust="spacingAndGlyphs">80</text></g>
<text x="543.5" y="430.4" font-size="8.2" text-anchor="middle" textLength="59.8" lengthAdjust="spacingAndGlyphs" fill="#222">Time (unit: hour)</text>
<text x="543.5" y="228.9" font-size="9.4" text-anchor="middle" fill="#222">(d)</text>
<text transform="translate(380.0,322.1) rotate(-90)" x="0" y="0" font-size="8.6" text-anchor="middle" fill="#222" textLength="89.8" lengthAdjust="spacingAndGlyphs">Separator Level (unit: %)</text>
<rect x="564.2" y="238.7" width="122" height="50.0" fill="#fff" fill-opacity=".7" stroke="#222" stroke-width="1.1"/>
<path d="M570.9 246.2H583.3" stroke="#000" stroke-width=".9"/>
<text x="591.6" y="249.8" font-size="9.5" textLength="35.8" lengthAdjust="spacingAndGlyphs" fill="#1a1a1a">baseline</text>
<path d="M570.9 260.6H583.3" stroke="#00f" stroke-width=".8" stroke-dasharray="4.8 3" stroke-opacity=".75"/>
<text x="593.4" y="263.4" font-size="9.2" style="font-family:'Liberation Serif',serif;font-style:italic" fill="#222">P</text>
<text x="598.1" y="265.2" font-size="7" style="font-family:'Liberation Serif',serif;font-style:italic" fill="#555" textLength="14.3" lengthAdjust="spacingAndGlyphs">c,GE</text>
<text x="614.5" y="263.4" font-size="9.5" textLength="67.6" lengthAdjust="spacingAndGlyphs" fill="#1a1a1a">= 0.6, q = 0.09</text>
<path d="M570.9 277.9H583.3" stroke="#f00" stroke-width=".8" stroke-dasharray="4.8 3" stroke-opacity=".75"/>
<text x="593.4" y="280.6" font-size="9.2" style="font-family:'Liberation Serif',serif;font-style:italic" fill="#222">P</text>
<text x="598.1" y="282.5" font-size="7" style="font-family:'Liberation Serif',serif;font-style:italic" fill="#555" textLength="14.3" lengthAdjust="spacingAndGlyphs">c,GE</text>
<text x="614.5" y="280.6" font-size="9.5" textLength="61.5" lengthAdjust="spacingAndGlyphs" fill="#1a1a1a">= 0.6, q = 0.2</text>
<path d="M84.5 445.2V620.6M125.5 445.2V620.6M166.5 445.2V620.6M207.5 445.2V620.6M248.5 445.2V620.6M289.5 445.2V620.6M329.5 445.2V620.6M44.0 585.5H338.1M44.0 550.5H338.1M44.0 515.5H338.1M44.0 480.5H338.1" stroke="#000" stroke-opacity=".33" stroke-width=".8" stroke-dasharray="1 2" fill="none"/>
<g clip-path="url(#ce)" fill="none">
<path d="M44 554.7l.2 6.8 .3-7.2 .2 13.7 .3 2.8 .2-12.9 .3-9.4 .2 .6 .3 11 .2-.8 .3 1.2 .2-1.4 .2 1 .3 11.6 .2-27.8 .3 7.7 .2 .6 .3 5.2 .2 14.2 .3-44.5 .2 24.2 .2 6.5 .3 .1 .2 21.4 .3-20.6 .2-6.5 .3-8.1 .2 6 .3-19 .2 14.9 .3-7.2 .2 8.4 .2-4.4 .3 6.6 .2 8.8 .3-18.9 .2 6.8 .3 10 .2-21 .3-1.2 .2 19.8 .2-5.7 .3-7.1 .2 13.4 .3 14.2 .2-19.1 .3-15.1 .2 10.3 .3-9.7 .2 6.4 .3 2.2 .2-5.3 .2-5.7 .3 10.4 .2 13.5 .3-3.2 .2-19.3 .3 11 .2-22.4 .3 14.3 .2-12.8 .3 24.8 .2-6.7 .2 13.2 .3-2.4 .2-23.2 .3 2.6 .2-6.3 .3-.4 .2-2.3 .3 4.7 .2 19.7 .2-9.4 .3-5.6 .2 7.8 .3-11.1 .2 .5 .3-6.7 .2 14.9 .3-25.6 .2 7.9 .3 2.8 .2-2.3 .2 14.9 .3-20.6 .2 8.6 .3 10.6 .2 7 .3-15.3 .2-11.4 .3 9 .2 15.6 .2-.9 .3-5.5 .2 .3 .3-10.7 .2 11.3 .3 20.6 .2-15.4 .3-3 .2-5.3 .3 7 .2 .4 .2 .9 .3 .6 .2-12.5 .3 15.6 .2-9.7 .3-9.6 .2 8.6 .3-11.3 .2 .2 .2 3.5 .3 19.9 .2-19.2 .3-.3 .2-2.5 .3 13.6 .2 6.1 .3-35.7 .2 12.9 .3 10.4 .2-15.2 .2 19 .3-1.6 .2 6.2 .3-10.3 .2 2.1 .3 5.7 .2 3.7 .3-15 .2 14.3 .3-18.7 .2-1.7 .2-.5 .3 24.8 .2-9.5 .3 13.3 .2-40 .3 30.4 .2-16.3 .3-3.5 .2 18.5 .2-19.7 .3 19.1 .2-14.4 .3-1.1 .2 5.9 .3 1.8 .2 14.5 .3-8.7 .2 1.5 .3-12.6 .2 1.4 .2-2.9 .3-4.9 .2 3 .3 .6 .2 10 .3-30.3 .2 23.7 .3-9.3 .2 16.6 .2-30.8 .3 10.2 .2 11.6 .3-9.5 .2 4.5 .3 2.9 .2-7.8 .3 18 .2-47.4 .3 16.2 .2 1.2 .2 13.3 .3-9.2 .2-.9 .3-5.3 .2 11.8 .3 4.2 .2-19.3 .3 26.8 .2-4.7 .3-3.9 .2-1.1 .2-17.2 .3 22.5 .2-20.7 .3 10.8 .2-3.8 .3 10.6 .2-5.6 .3-6 .2 17.3 .2-11.1 .3-8.6 .2 13.9 .3 16.2 .2-8.4 .3 8.6 .2-6.2 .3-9.8 .2 14.3 .3-9.3 .2-.8 .2-8.6 .3 14.5 .2 12 .3-25.7 .2 10.5 .3-2.4 .2 10.3 .3-5.7 .2 6.9 .2-.8 .3-.3 .2-10.5 .3 6.6 .2 9.8 .3-12.5 .2-5.1 .3-2.5 .2-6.3 .3 21.8 .2-.5 .2 10.3 .3-16.9 .2 15 .3 5 .2-20.9 .3 14.3 .2-6.8 .3 12.4 .2-6 .2-18.9 .3 5.8 .2 30.7 .3-37.9 .2 35.6 .3-4 .2-17.7 .3 12.9 .2 10.8 .3-17.4 .2-13.5 .2 23.4 .3-17.2 .2-6.9 .3 19.6 .2-16.9 .3 10.5 .2 15.9 .3-3.1 .2-12.3 .3 23 .2-11.6 .2-.6 .3-2.4 .2 7.6 .3-13.6 .2 15.2 .3-1.4 .2-3.6 .3 4.7 .2 .8 .2-12.1 .3-6 .2 9 .3 16.3 .2-3.1 .3-15 .2-1.9 .3 10.1 .2 3.9 .3-9.9 .2-9.6 .2 5.6 .3-5.3 .2 12.4 .3 2.3 .2-14 .3 17.1 .2 5.9 .3-30.9 .2 25.4 .2-18.9 .3 16.2 .2-23.7 .3 14.6 .2 2.8 .3 7.5 .2 3.1 .3-23.3 .2 5.8 .3-6.4 .2 15.3 .2-6.4 .3-7 .2-5 .3 6.2 .2-13.9 .3 35.4 .2-12.1 .3 13.4 .2-4.7 .3-22.6 .2 2.9 .2 8.9 .3 27.1 .2-35.1 .3 5.8 .2-10.9 .3 17.1 .2-5.5 .3 23.6 .2-3.1 .2-8 .3-6.6 .2-5.5 .3-8.7 .2 8.2 .3 6 .2-9.8 .3 1.9 .2 9.5 .3-12.4 .2 4.3 .2-15.6 .3 12 .2-3.9 .3 31.2 .2-30.7 .3 10.9 .2-7.1 .3 4.3 .2 9 .2 6.4 .3-20.3 .2 18.3 .3-17.3 .2 18.8 .3-3 .2-7 .3-.7 .2 9.4 .3-23.2 .2-10.3 .2 22.8 .3 2.5 .2-10.7 .3 10.3 .2 5.4 .3-6.7 .2 6.1 .3 3.5 .2-7.9 .2 2.9 .3 5.2 .2-15.4 .3 12.6 .2-29.8 .3 14.8 .2-9.5 .3 16 .2-9.2 .3 9.6 .2-6 .2-6 .3 12.5 .2-19.5 .3 13.7 .2-5.2 .3 20.6 .2-13.3 .3-12.8 .2 10.1 .3 4.3 .2 .5 .2-13.4 .3 18.4 .2 16.2 .3-30.8 .2 4.8 .3-3.7 .2-1.2 .3 14.4 .2-24.6 .2 6.9 .3 10.6 .2-9.3 .3-9.3 .2 5.2 .3 9.3 .2-5.1 .3 11.1 .2-19.9 .3 1.7 .2 15.3 .2-4.9 .3 7.1 .2 3.6 .3-.2 .2-6.1 .3-17.8 .2 .7 .3 11.4 .2 13.2 .2-13.7 .3-31.4 .2 29.6 .3 10.2 .2-16.9 .3 .6 .2 4.8 .3-8.3 .2-13.6 .3 14.1 .2 2.2 .2 2.6 .3 2.5 .2-3.3 .3-3.6 .2-1.9 .3 .2 .2 8.4 .3 6.2 .2-11 .3-1.8 .2 1.3 .2-10.6 .3 8.8 .2 2.4 .3-7.6 .2-2.9 .3-3.6 .2 23.4 .3-24.9 .2 7.6 .2-11.6 .3 17.7 .2 27.6 .3-39.4 .2 18.2 .3 8.5 .2-1.6 .3-4.2 .2 8.7 .3-5.1 .2-31.3 .2 21.6 .3-2.7 .2 22.7 .3-31 .2 19.9 .3-9.4 .2-2.2 .3 8.8 .2 3.1 .2-11.8 .3 7 .2-1.2 .3-3.7 .2 6.6 .3 8.6 .2 14 .3-27.7 .2 .1 .3-20.2 .2 14.5 .2-2.3 .3-10.8 .2 36.7 .3-17.2 .2-2.2 .3 13.2 .2-17 .3-20.3 .2 23.6 .2 0 .3 15.4 .2-24.5 .3 22.8 .2-27.6 .3 21.5 .2-2.6 .3 2.6 .2-14.8 .3 26.5 .2-16.1 .2 8.2 .3 4.1 .2-19.4 .3 9.3 .2 4.6 .3-4 .2 6.5 .3-1.1 .2-9.4 .3 4.5 .2 5.8 .2-11.8 .3 7.8 .2-8.2 .3 7.4 .2 4.9 .3-17.2 .2 7.2 .3-12.5 .2 28.1 .2-16.5 .3 5.5 .2-15.5 .3 4.4 .2 7.3 .3-7.3 .2 25.8 .3-17.6 .2-16.2 .3 22.8 .2 7.4 .2-18.4 .3 12.9 .2 2.8 .3-9.7 .2-3.3 .3 3 .2-5.7 .3-8.4 .2 11.7 .2-6.6 .3 6.9 .2 2.3 .3 16.3 .2 1.1 .3-30.5 .2 19.4 .3-23.6 .2 37.8 .3-32.8 .2-.2 .2 2.1 .3 31.4 .2-10.9 .3-15.1 .2 3.2 .3-18.4 .2 20.8 .3-2.3 .2-.4 .3 1.5 .2-7.8 .2 19.7 .3-17.9 .2 6.1 .3 4 .2-12.9 .3 7.5 .2 16.2 .3-.2 .2-2.5 .2-13.5 .3 2.2 .2-15 .3 15.4 .2 23.7 .3-32.3 .2-8.8 .3 18.6 .2-4.1 .3-8.4 .2 5.2 .2-3.5 .3 12.6 .2-5.5 .3 23.2 .2-22.6 .3-2.5 .2-1.5 .3 12.6 .2-.7 .2-15.6 .3 10.3 .2-1.8 .3 10.5 .2-4.6 .3 1.2 .2-3.1 .3-16.3 .2 31 .3-37.2 .2 19.5 .2 10.8 .3 .6 .2-12.5 .3 1.8 .2 6.1 .3 10 .2-10.4 .3-16.9 .2 0 .3 29 .2-24.1 .2 3.7 .3 5.9 .2 10.1 .3-1.4 .2-11.6 .3 2.9 .2-6 .3-6.5 .2 5.2 .2 9.2 .3-19 .2 12.6 .3 12.6 .2-16.2 .3 5.8 .2 13.5 .3-22.8 .2 15 .3 3.3 .2-19.7 .2-4.9 .3 21.2 .2-1 .3-11.7 .2 10.6 .3-17 .2 8.9 .3 .1 .2 5.6 .2 11.5 .3-8.6 .2 1.7 .3 4.1 .2-38.1 .3 38.3 .2-12 .3-6.2 .2 3.4 .3 7 .2-.6 .2 14.4 .3-24.4 .2 6.5 .3 .6 .2-4.4 .3 10.8 .2 7.6 .3-10.8 .2-10.6 .2 19.6 .3-7.9 .2-3.3 .3 2.4 .2 2.8 .3 0 .2 10.3 .3-9.5 .2-15.1 .3-1.7 .2 6.8 .2 4.8 .3-13.7 .2 18.6 .3-8.4 .2 9.5 .3 3.8 .2-1.5 .3-8.1 .2-7.7 .3 21.8 .2-26.8 .2 24.4 .3-14.4 .2 16.2 .3-18.7 .2-.3 .3-.1 .2 10.6 .3 6.4 .2-8.7 .2-30.5 .3 16.5 .2 23.7 .3 .2 .2-19 .3 3.9 .2 2.9 .3-9.4 .2 12.6 .3-14 .2 5.4 .2 8.5 .3 .9 .2-22.6 .3 7.6 .2 8.6 .3 11.4 .2-9.1 .3-3.8 .2 4.5 .2 6 .3-25.1 .2 15.2 .3 10.6 .2-27.7 .3 11.9 .2 5.6 .3 21.1 .2-35.5 .3 8.5 .2 8 .2-2.9 .3 10.2 .2 3.1 .3-10.6 .2-10.4 .3-2.9 .2 16.9 .3-6.3 .2-14.4 .3 24.5 .2 6.3 .2-14.4 .3-12.7 .2 40.1 .3-23.1 .2-2.3 .3 3.4 .2-9.9 .3 .6 .2 19.8 .2-20 .3 8.8 .2-13.1 .3-4.7 .2 9.8 .3 .9 .2 5.2 .3-.1 .2-23.7 .3 19.2 .2 7.7 .2-25.7 .3 10.1 .2 29.3 .3 3.3 .2-18.7 .3-4.8 .2-21.3 .3 14.7 .2 5.1 .2 4.5 .3 17.3 .2-41.2 .3 39.3 .2-15.3 .3 11.9 .2-1 .3-24.2 .2 2.2 .3-10.4 .2 30.6 .2-27.8 .3 12.7 .2 5.2 .3-3.8 .2-3.9 .3 14.6 .2 3 .3-16.2 .2 21.2 .2-14.2 .3-6.9 .2 17.2 .3 6.7 .2-18 .3 .7 .2 11 .3-7.5 .2-5.2 .3 5 .2-7.1 .2 .7 .3-2.1 .2-12.1 .3 16.2 .2-15.7 .3-4.5 .2 10.6 .3 24.7 .2-18.2 .3-7.5 .2-8.6 .2 25.6 .3-8.3 .2 9.1 .3-16.2 .2 18.1 .3 2.3 .2-2.7 .3-8.7 .2-.3 .2 4.5 .3-.4 .2 2 .3 10.9 .2-13.1 .3-7.6 .2-9.3 .3 2.8 .2-7.8 .3 11.5 .2 8.3 .2-10.5 .3 14.7 .2-2 .3-10.2 .2 27.6 .3-19.6 .2 7 .3 6.8 .2-27.7 .2 11.6 .3 .3 .2 7.3 .3 5.4 .2-23.1 .3 5.4 .2 19.1 .3-20.9 .2 8.5 .3 4.9 .2-8.1 .2 5.6 .3 4.8 .2 1.4 .3-11.8 .2 3.5 .3-12.5 .2 9.4 .3 5.6 .2-17.4 .3 3.9 .2 7.7 .2-2.5 .3 22.1 .2-31.7 .3 .7 .2 8.8 .3 23.9 .2-13.4 .3-11.8 .2-.5 .2 7.2 .3 2.3 .2 1.5 .3-8.9 .2 .9 .3 5.2 .2-9.8 .3 15.9 .2-17.6 .3 9.7 .2 15.8 .2-24.3 .3 8.7 .2-3.3 .3 18.4 .2-1.9 .3-10.7 .2 5.9 .3-15 .2 2.5 .2-2.8 .3-3.3 .2 3.3 .3-15 .2 29.9 .3 .7 .2-10.7 .3-10.8 .2 12.3 .3 7.5 .2-31.9 .2 22.5 .3 11.9 .2-21.7 .3 20.3 .2-26.6 .3 5.5 .2 1.6 .3 15.6 .2-15.4 .2 7.6 .3 17.1 .2-21.1 .3 6.3 .2 9.1 .3-3 .2-24 .3 7.2 .2-7.4 .3 12.6 .2-7.5 .2 3.4 .3 15.3 .2 9.7 .3-29.3 .2 18.8 .3 8.8 .2-.5 .3-8.2 .2 .6 .3-10.5 .2-11 .2 11.7 .3-6.5 .2 15.2 .3-24 .2 28.5 .3-23.7 .2 2 .3 26 .2-3.9 .2 5.8 .3-24.7 .2 4.5 .3 11.6 .2 .8 .3 0 .2-.4 .3-4.6 .2-6.6 .3 21.4 .2-12.9 .2-12.2 .3 .5 .2-4.7 .3 20.4 .2-17.2 .3 16.7 .2 1.1 .3-17.7 .2 6.5 .2 11.9 .3-14.7 .2 21 .3-5.7 .2-30 .3 18.4 .2 14.3 .3-20.8 .2 24.9 .3-8.5 .2-4.1 .2-11 .3 16.8 .2-12 .3-16.6 .2 15.6 .3-12.5 .2 24.4 .3 2.5 .2 .1 .3-10.7 .2 13.8 .2-10.2 .3 8.2 .2-19 .3 17.3 .2 4.4 .3-21.3 .2 12.4 .3-10.9 .2 4.2 .2-4.9 .3 15 .2-17.2 .3-1.1 .2-2.8 .3 4.6 .2 1.2 .3 5.5 .2 9.5 .3-19.9 .2 1.8 .2-.6 .3 6 .2 15.6 .3-7.8 .2-36.5 .3 46.4 .2-19.9 .3 14.6 .2-6.9 .2-19.2 .3 14.6 .2 8.9 .3 6.4 .2-18.1 .3-.8 .2 22.6 .3-20.7 .2-15 .3 26.2 .2 5.7 .2-12.9 .3 11.8 .2 .5 .3-29.3 .2 25 .3-11.8 .2-18.2 .3-5.1 .2 32.9 .2-8.1 .3 8.2 .2-8.9 .3 4.7 .2 .1 .3-11.2 .2-1.9 .3 8.9 .2-5.7 .3-16.9 .2 23.1 .2 1.7 .3-5.9 .2 21.9 .3 .5 .2-25.8 .3-6.3 .2 14.1 .3-.9 .2 8.3 .3-18.7 .2 10.2 .2 3.5 .3-1.4 .2-3.2 .3 3.5 .2-2.3 .3 11.2 .2-13.1 .3 .8 .2 28 .2-11.9 .3-12.1 .2-8.9 .3 11.6 .2 3.9 .3-8.5 .2 2.5 .3 4.6 .2-18.8 .3 12.8 .2-4.6 .2-3.1 .3 22.5 .2-1.6 .3-10.7 .2 1 .3-7.3 .2 9.4 .3-30.4 .2 27.2 .2 8.3 .3 1.7 .2-4.8 .3-22 .2 5.7 .3 2.3 .2 18.7 .3-12.9 .2 15 .3-9.4 .2-24.3 .2 19.9 .3-15 .2 .6 .3 15.6 .2 .8 .3-7.7 .2 11 .3-3.8 .2-12.3 .3 11.3 .2 5.3 .2-11.4 .3 10.6 .2-14.1 .3 22.3 .2-19.4 .3-12.3 .2 16.1 .3 7.4 .2-.8 .2-6.6 .3-5.8 .2 .9 .3-5 .2 18.8 .3 3.8 .2-5.4 .3-9.4 .2 3.4 .3-10.7 .2 11.7 .2-1 .3-21.6 .2 14.6 .3 6.6 .2 3.4 .3 14 .2-11.5 .3 4.2 .2-6 .2 6 .3-9.8 .2-9 .3 13.5 .2-.1 .3-18.5 .2 41.2 .3-30.8 .2 12.3 .3-12.1 .2 3.6 .2-11.1 .3 6.7 .2 8.7 .3-2.4 .2 4.3 .3-2.5 .2-15.8 .3 27.6 .2-29.5 .2 7.4 .3 10.9 .2-2.8 .3 13.7 .2-22 .3 4.4 .2 5.9 .3-20.8 .2 5.5 .3 32.1 .2-21.4 .2-8.3 .3 6.6 .2 8.4 .3 11 .2-8 .3-2.1 .2-24.4 .3 8.3 .2 32.8 .3-40 .2 20.9 .2 8.5 .3-25.1 .2 4.4 .3 10.1 .2-9.5 .3-.1 .2-6 .3 18.5 .2-2.6 .2-11.6 .3 15.7 .2-7.4 .3 0 .2 .4 .3-11 .2-2.8 .3 11 .2-8.8 .3 25.9 .2-9.8 .2 4.1 .3-9.7 .2 13.5 .3 3.4 .2-16.4 .3 4 .2 5.1 .3-15.4 .2 38.1 .2-20.1 .3-16.4 .2 16.3 .3-19.4 .2 4.4 .3 16.2 .2-1.2 .3-24.6 .2 4.7 .3 6.2 .2 10.8" stroke="#000" stroke-width="0.8"/>
<path d="M44 556.2l.1-5.9 .1 2.9 .2 10.2 .1-14.8 .1 11.9 .1-19.6 .2 22.6 .1-7.9 .1-17.6 .1-9.5 .1 6.5 .2 5.5 .1 1.7 .1 5.1 .1-4.8 .2-4.8 .1 10 .1 0 .1-16.4 .2 22 .1 14.5 .1-6.2 .1 17.7 .1-7.6 .2 10.9 .1-13.6 .1 12.9 .1 3.4 .2 9.6 .1-.4 .1 1.2 .1-.7 .1 8 .2 4.5 .1-23.7 .1 2.7 .1-30.9 .2 28.6 .1-30.8 .1-2.8 .1-16.3 .1 4 .2-26.2 .1 6.2 .1 10 .1-16.4 .2-14.1 .1 3.9 .1 9.4 .1-12 .1 14.2 .2 .7 .1 .2 .1 1.6 .1 4.3 .2 .5 .1 12.5 .1-17.6 .1 14.3 .2 11.4 .1-1.7 .1 10.9 .1 3.6 .1 9.8 .2-10.3 .1 3.4 .1-4.6 .1 3.2 .2 13.7 .1-10.3 .1-16 .1 12.6 .1-12.4 .2-9.2 .1 23 .1-10.9 .1 21.1 .2-11.9 .1-5.6 .1 8.7 .1-12.8 .1-3.9 .2-.6 .1 11.4 .1-2.6 .1-5.3 .2-6.3 .1-.5 .1 5.6 .1 0 .2-2.8 .1 25.3 .1-9.1 .1-19.6 .1 24.9 .2 17 .1-28.8 .1 24.3 .1-5.4 .2 .5 .1-25.1 .1 5.8 .1-11.5 .1-35 .2-3.2 .1-18.8 .1-22.3 .1 23.8 .2-6.7 .1 18.6 .1 29.4 .1-17 .1 14.1 .2 23.6 .1-4.6 .1 10 .1 12.7 .2-4.2 .1 1.5 .1-3.8 .1 5.6 .2-15.9 .1-5.1 .1 1.5 .1-1.7 .1 5.2 .2-6.1 .1 8 .1-3.5 .1-1.6 .2-15.1 .1 27.1 .1-9.2 .1 4.1 .1-9.1 .2-9.2 .1 18.9 .1-8.2 .1 38 .2-28.2 .1-19 .1 19.4 .1 6 .1 13.9 .2 1.4 .1 2.2 .1-20.1 .1 5.4 .2 4.4 .1 .5 .1-12.6 .1 21.1 .1 13 .2-29.5 .1 6.5 .1 .7 .1-7.9 .2-2.7 .1 15.3 .1-8.5 .1-5.9 .2-8.5 .1 3.5 .1 6.7 .1-9.7 .1 4.8 .2 1.8 .1 13 .1-5.7 .1-15 .2-2.4 .1-3.4 .1 6.6 .1-1.3 .1 5.1 .2-6.1 .1-9.5 .1-3.4 .1 6.9 .2-13.2 .1 20.6 .1-23.9 .1 15.1 .1-10.6 .2 2.1 .1 2 .1-11.6 .1-1.5 .2-38.3 .1-.9 .1-15.4 .1-2.3 .2-13.8 .1 21.3 .1 21.9 .1 25.1 .1 22.2 .2 30.2 .1-10.9 .1-21.9 .1-30.5 .2-29.7 .1-29.3 .1 6.7 .1 30.9 .1 36 .2 8 .1 31.7 .1-10.3 .1-36.4 .2-13.9 .1-26.4 .1-21.8 .1-9.6 .1 40 .2 54.3 .1 17.1 .1 13.3 .1 19.4 .2-48.8 .1-22.3 .1-35.9 .1-14.5 .1-.3 .2 19.8 .1 29.6 .1 31.1 .1 34.7 .2-19.2 .1-31.6 .1-35.5 .1-28.7 .2-7.5 .1 14.3 .1 23.1 .1 37.7 .1 39 .2 47.2 .1-18.2 .1-51.5 .1-25.9 .2-26.5 .1-44 .1-6.5 .1 20.4 .1 40.8 .2 21.7 .1 38.6 .1-5.7 .1-23.4 .2-38 .1 0 .1-27.7 .1-5.8 .1 28.9 .2 6 .1 17.1 .1 11.8 .1 6.7 .2 28 .1-13.1 .1-3.1 .1-14.7 .2 1.8 .1 9.9 .1 .1 .1-16.1 .1 21.9 .2-1.3 .1 3.5 .1 7.9 .1 21.7 .2 7.9 .1 20.9 .1 20.2 .1-13.7 .1 3.7 .2-15.1 .1 2 .1-1.6 .1-14.4 .2 12.8 .1-23.8 .1-21 .1 9.2 .1-10.3 .2 9.2 .1 6.9 .1-7.8 .1 21.7 .2 10.4 .1 16.5 .1 11.8 .1-3.9 .1-4.7 .2-26.2 .1 6.3 .1-9.1 .1 1.4 .2-9.9 .1-16 .1-13.3 .1-15.3 .2 9.6 .1-27.2 .1-2.2 .1 7.5 .1-25.7 .2-8.6 .1-16.5 .1 17.1 .1 4.3 .2-28.4 .1-.7 .1-19.7 .1 16.7 .1-35.2 .2 21.1 .1 16.5 .1 6.7 .1 9.4 .2 9.6 .1-1 .1 18.8 .1 8.6 .1 23.3 .2-.7 .1-.1 .1 11.5 .1-3.1 .2 15.3 .1 13.8 .1-4.6 .1 7.2 .2 7 .1 11.2 .1 2.7 .1 8.2 .1-7.6 .2 19 .1 .8 .1-20 .1 5.7 .2-6 .1-12.5 .1 4 .1-12.4 .1-6.6 .2-10 .1-13 .1 11.4 .1-23.3 .2-4.9 .1 1.9 .1-9.7 .1-23.8 .1 15.1 .2-4.3 .1 1.1 .1-24 .1 3.6 .2-9.9 .1 13.1 .1-7.9 .1-12.2 .2 2.7 .1-13.5 .1-6.3 .1 2.8 .1-4.2 .2-7.4 .1-2.1 .1-15.1 .1 16.3 .2 6.6 .1-2.9 .1 2.3 .1 13.6 .1 6.2 .2-3.3 .1 18.9 .1-7.7 .1 19.5 .2-22.4 .1 23.8 .1 6.8 .1 8.3 .1 8 .2-3 .1-11.2 .1 24.5 .1 11 .2 6.2 .1-2.3 .1 6.9 .1 5.8 .1-2.7 .2-5.5 .1 9.2 .1 3 .1-9.5 .2 27.4 .1-17.9 .1 30.1 .1-14.4 .2 15.8 .1 6.6 .1-4.5 .1-7.2 .1 2.8 .2 8.1 .1-9.1 .1-5.7 .1-2.4 .2-4.8 .1 17.3 .1-32.6 .1-2.6 .1 10.1 .2-26.9 .1 13.1 .1-29.6 .1 30.8 .2-19.3 .1-7.8 .1-6 .1-.4 .1-2.5 .2 6.6 .1-15.6 .1-8.1 .1 12.3 .2-18.8 .1-4.1 .1 9.2 .1-7 .2 4.5 .1-17.9 .1-21.2 .1 12.1 .1 12.5 .2-16.2 .1 2.6 .1 1.9 .1 29.7 .2-.2 .1-16.6 .1 38.6 .1-14.9 .1 15.2 .2-23.4 .1 5.3 .1-22.4 .1-23.1 .2-18.4 .1-11.8 .1 18.9 .1 13.4 .1 32.3 .2 17.2 .1 21.7 .1 4.6 .1-9.8 .2-38.1 .1-15.4 .1-26.9 .1-3.9 .1 32.6 .2 15.9 .1 37.8 .1 3.8 .1 13.2 .2-17.2 .1-17.5 .1-41.2 .1-24.8 .2-13.1 .1 46.8 .1-5.8 .1 23.4 .1 35.8 .2 6.7 .1-2.2 .1-49 .1-17 .2-22.8 .1 8.9 .1-11.5 .1 37.2 .1 20.6 .2 12.4 .1 20.7 .1-18.9 .1-16 .2-23.8 .1-6.8 .1-18.6 .1 5.7 .1 17.6 .2-.8 .1 13.7 .1 23.3 .1 5.8 .2-.1 .1 15.1 .1 20.9 .1 16.3 .2-9 .1-12.2 .1 23.6 .1-2.6 .1 12.8 .2-7.3 .1 25 .1-14 .1 11.1 .2 7.7 .1 4.4 .1-13.2 .1 12 .1-7.4 .2-9.6 .1 2 .1-11.9 .1-13.4 .2 .5 .1-3.5 .1 4 .1-7.3 .1-14.7 .2-5.5 .1-.3 .1 18.3 .1-7.4 .2 17.6 .1-1.7 .1-6.5 .1 20.3 .1-4.5 .2 5.5 .1-.9 .1 16.8 .1 .6 .2-6.4 .1-10.6 .1-5.8 .1-11.7 .2-13.2 .1 2.7 .1-.7 .1-6.4 .1-11.8 .2 .6 .1-13.7 .1-14.5 .1-2.9 .2 4 .1-29 .1-12.3 .1-1.8 .1 12.6 .2-.5 .1-13 .1 13.9 .1 6.9 .2-3.8 .1 36.9 .1-22.4 .1 23.1 .1-9.8 .2 9.7 .1 24.8 .1-11.7 .1 10.5 .2-13.4 .1-28.7 .1 11.9 .1-17.1 .2-2.4 .1-7.2 .1 6 .1 2.2 .1-27.5 .2 13.3 .1-11.8 .1-2.6 .1-9.1 .2 11.5 .1-18.9 .1 2 .1-10.5 .1-3.3 .2-16.9 .1 16.7 .1 17.5 .1 36.9 .2-7.8 .1 10 .1 28.5 .1-3.5 .1 20.3 .2 4.5 .1 10 .1 9.6 .1 1.6 .2 14.7 .1 5.6 .1 10 .1-4.1 .2-4.4 .1 10.4 .1 7.5 .1-15.4 .1-.6 .2-11.5 .1 .2 .1-18.2 .1 9.5 .2-7.3 .1-8.5 .1 .5 .1-2.4 .1-6.6 .2-13.8 .1 14.1 .1-.5 .1-24.5 .2 17.2 .1-24.3 .1-3.3 .1 8.1 .1-.3 .2-15 .1 2.8 .1-14.9 .1 4.5 .2-14.5 .1 10.6 .1-7.1 .1-13.1 .1 2.3 .2-18.9 .1 9.1 .1-15 .1 18.6 .2 9.8 .1-9.6 .1 22.5 .1 17.9 .2 6.9 .1 5.2 .1 8.6 .1-6.2 .1 25.3 .2 16.6 .1 6.5 .1 .9 .1-5.9 .2 37.4 .1-5.2 .1-.3 .1-6.8 .1-8.1 .2-11.8 .1-8.9 .1 5 .1 9.1 .2-27.2 .1 17.2 .1-7.6 .1-25.2 .1 13.7 .2-3.1 .1-12.5 .1-10.2 .1-15.3 .2 10.8 .1 5.3 .1 4.5 .1-21 .2 7.3 .1-18.2 .1-7.3 .1 11.6 .1-10 .2-19.5 .1-1.4 .1 2 .1-4.9 .2-1.4 .1 6.9 .1-11.3 .1-17.5 .1 27.5 .2-13.7 .1 8.7 .1 2.3 .1 10.7 .2 1.3 .1 15.2 .1-21.4 .1 24.3 .1 18.2 .2-15 .1 7.5 .1 0 .1 20.5 .2 1 .1-10.7 .1 23.2 .1-2.2 .1-5.4 .2-.2 .1 15.5 .1-4.5 .1-1.9 .2 9.3 .1 8.8 .1-11.7 .1 10.8 .2-10.1 .1-6.7 .1 16.3 .1 4.7 .1 2.9 .2 3.3 .1-17.4 .1 11.1 .1 .8 .2-9.7 .1-9.3 .1-6.5 .1 2.8 .1 14.4 .2-16.4 .1 10 .1-8.4 .1 6.8 .2-5.2 .1-10.1 .1 16.7 .1-15 .1 4.7 .2-18.9 .1 2.5 .1 .5 .1 8.2 .2-15.2 .1-2.4 .1-11.3 .1-5.4 .2 13.6 .1-25.2 .1 6.3 .1 2.9 .1-4.2 .2-11.8 .1-34.4 .1 11.1 .1 3.1 .2-19.9 .1 16 .1-3 .1-4.2 .1-1.1 .2-20.9 .1 4 .1 18.4 .1 23.2 .2 10.4 .1-6.2 .1 9.8 .1 8.8 .1 27.8 .2-13.1 .1 16.1 .1 21.1 .1 17.2 .2-11.4 .1 24.4 .1-3.1 .1 26 .2 26.6 .1-19.6 .1-2.6 .1-9 .1-11.1 .2 11.5 .1 .2 .1-11.6 .1-8.5 .2-1.8 .1-11.9 .1-10.9 .1 5.9 .1 3.7 .2-10.9 .1-3.7 .1-2.3 .1 .8 .2-2 .1 8.9 .1-4.1 .1-13.7 .1 27.6 .2-1.4 .1-11 .1 26.5 .1 17.8 .2-13.7 .1-1.2 .1 16.3 .1 2.5 .1 13.5 .2-4.1 .1 9.7 .1-14.9 .1-2 .2 3.2 .1-11 .1-8.2 .1 13.7 .2-2.2 .1-27 .1-.3 .1 1.4 .1-14.2 .2-5.9 .1 2.7 .1 1.2 .1-17.2 .2 7.9 .1-15.9 .1-14.3 .1-14.2 .1 8.6 .2-5.3 .1-6.6 .1-10.6 .1 .1 .2-10.6 .1-4.6 .1-6 .1-1.6 .1 6.3 .2-6.3 .1-5.6 .1-6 .1-17.3 .2 4.1 .1 14.6 .1 4.6 .1 .7 .2 21.9 .1-12.7 .1 12.5 .1 15.3 .1-5.2 .2 18.9 .1-15.8 .1 28.6 .1-15.4 .2 18.5 .1 12.1 .1-1.1 .1 11.1 .1 .3 .2 18 .1 11.7 .1-13.9 .1 25.7 .2 .5 .1 16.4 .1 3.8 .1-18.9 .1 19.3 .2-17.6 .1-3.1 .1-13.3 .1 4.9 .2-20.5 .1 13.2 .1-6.7 .1-9.2 .1-19.5 .2 12.4 .1-11.7 .1 .7 .1-15.6 .2 18.3 .1-8.1 .1 5.6 .1-5.1" stroke="#00f" stroke-width="1.2" stroke-dasharray="4.8 3"/>
<path d="M44 557.3l.1 13.6 .1-14.4 .2-8.5 .1-.1 .1-6.7 .1 2.9 .2 6.2 .1-16.2 .1 2.5 .1 19.4 .1-11.5 .2 5.7 .1-1.1 .1-14.1 .1 12.9 .2 5.2 .1-15.9 .1 7 .1-10.5 .2 13 .1-9.1 .1 20.7 .1-15.2 .1 13.7 .2 4.7 .1 1.8 .1 16.2 .1-1.1 .2 3.5 .1-3.1 .1-.8 .1 8.1 .1 4.6 .2 5.3 .1 1.6 .1 1.7 .1 1.6 .2-9.5 .1-6.6 .1 1.2 .1-18.7 .1-17.7 .2 .6 .1 5.1 .1-10.9 .1 .8 .2-8.5 .1 2 .1-19.2 .1-12.2 .1 27.3 .2-28.7 .1-3.7 .1-1 .1 8.8 .2 7.2 .1 12 .1-14.7 .1 .1 .2 15.8 .1-18.3 .1 24.1 .1 10 .1-20.5 .2 15.2 .1-4 .1-4.9 .1 31.3 .2-20.4 .1 15.6 .1-6 .1 12.4 .1-16.9 .2 14.3 .1-9.8 .1 .7 .1-4.3 .2 14.1 .1-5.4 .1-18.9 .1 12.9 .1-12.5 .2 5.4 .1 4 .1 4.9 .1-15.2 .2 14.9 .1-9.6 .1 1.1 .1-4.1 .2-11.6 .1 20.4 .1-1.9 .1 .6 .1 5.8 .2 16.2 .1-6.8 .1-3 .1-1.7 .2 6.8 .1-14.5 .1 21.4 .1-4.3 .1-.2 .2-31 .1-2.4 .1-5.5 .1-24.5 .2-17.4 .1-11.1 .1-6 .1-.7 .1 33.5 .2-4.7 .1 12.7 .1 7 .1 20 .2-24.4 .1 41.1 .1-3 .1-9.7 .2 6.4 .1 8.2 .1 .8 .1-19 .1 21.3 .2-7.2 .1-3.6 .1 .3 .1-2.6 .2-4.9 .1 6 .1-5.4 .1 6.6 .1 2.4 .2-12.8 .1 2.4 .1 5.1 .1-10.6 .2 16.3 .1 3.7 .1 1.5 .1 4.3 .1-7.4 .2-16.1 .1 23 .1-10.8 .1 6.7 .2 9.4 .1-11.8 .1-8.2 .1 23.5 .1-.1 .2-4.3 .1-1 .1-2.6 .1 7 .2-5.3 .1 1.5 .1-4.6 .1 7.4 .2-7.7 .1 2.1 .1 5.5 .1-12.7 .1-5.1 .2-8.6 .1 8.6 .1 17.2 .1-21.6 .2-4.3 .1-1.1 .1-6.1 .1 23.4 .1-14.1 .2 4.7 .1 2.9 .1-7.6 .1-2.1 .2 12.4 .1-10.5 .1 12.4 .1-17.2 .1 6.7 .2-4.8 .1-4.6 .1-12.6 .1 19.7 .2-13.4 .1-9 .1-1.4 .1-12.2 .2-18.9 .1-11.8 .1 9.1 .1-41.6 .1 7.8 .2 5 .1 24.4 .1 25.4 .1 37.9 .2 31.9 .1-27.2 .1-14.8 .1-27.5 .1-15.3 .2-34.9 .1 22.3 .1 3.2 .1 11.3 .2 36.3 .1 23.8 .1-13 .1-17.3 .1-13.2 .2-37.6 .1-23.3 .1 17.7 .1 44.9 .2 1.5 .1 40.7 .1 31.4 .1-32.1 .1-12.7 .2-29.6 .1-26.3 .1-18.2 .1 4.1 .2 14.5 .1 30.4 .1 19.6 .1 50.8 .2-18.2 .1-29.1 .1-27.7 .1-42.3 .1-11.6 .2 11.4 .1 50.4 .1 12.1 .1 45.2 .2 23.5 .1 4.3 .1-54.4 .1-28.4 .1-22.2 .2-47.1 .1-8.6 .1 35.2 .1 32.6 .2 22.9 .1 30.2 .1-12.5 .1-24.5 .1-15.5 .2-27.2 .1-13.3 .1 4.4 .1 5.9 .2 25.1 .1-4.6 .1 26.3 .1 11.4 .2 19.7 .1-29.9 .1 6 .1 1.9 .1 14.3 .2-18 .1-7 .1 3.5 .1 26.1 .2-6 .1 15.5 .1-2.9 .1 24.7 .1-2 .2 7.8 .1 28.9 .1-16 .1 13.1 .2-11.2 .1 2.3 .1-9.1 .1-11.9 .1-3.7 .2-25.3 .1 9.3 .1 .9 .1-29.8 .2 18.2 .1 0 .1 15.3 .1 8.9 .1-1.9 .2 14.5 .1 20.4 .1-11.1 .1 6.5 .2-7.2 .1-14.4 .1-3.8 .1-10.8 .2-22.4 .1 3.5 .1-1.8 .1-11.4 .1-1.7 .2-4.2 .1-20.6 .1 5.9 .1-2.5 .2-9.7 .1-12.8 .1-12.5 .1-26 .1 11.7 .2-4.5 .1-6.9 .1 15.2 .1-37.1 .2 34.8 .1-18.7 .1 14.3 .1 13.2 .1-.4 .2 15.2 .1 15.9 .1 2.9 .1 11.5 .2 22 .1-1 .1 8.2 .1-19.8 .2 42.1 .1-17.3 .1 6.2 .1 4.8 .1 19 .2 7.6 .1 2.6 .1 6.5 .1-7.1 .2 10.6 .1-18.7 .1 25.2 .1 .6 .1-27.9 .2-2.5 .1-29.4 .1 16.4 .1 8.5 .2-6.8 .1-13.8 .1-11.1 .1-1.3 .1-23.7 .2 6 .1 3.7 .1-17 .1 7.7 .2-5 .1-21.5 .1 .5 .1 5.8 .2-21.9 .1 7.7 .1-3.6 .1-18.7 .1 26.8 .2-28.2 .1-7.8 .1-2.6 .1 3.1 .2-20.3 .1 6.5 .1 16.8 .1-14 .1-1.3 .2 7.3 .1 17.1 .1-5.6 .1 11.9 .2 .2 .1 9.8 .1 8.2 .1 3 .1 .2 .2 1.6 .1 8.7 .1 3.6 .1 4.4 .2-5.5 .1 21.9 .1 .6 .1 11 .1-10 .2 10.4 .1 9.8 .1 5.8 .1-14.1 .2 7.7 .1-1.3 .1 1.8 .1 31.1 .2 2.2 .1-12.3 .1 3.9 .1-14.6 .1 19.5 .2-2.9 .1 4.6 .1 14.9 .1 9.3 .2-15.3 .1 8.5 .1-17.2 .1 12 .1-22.7 .2 14.2 .1-17.3 .1 1 .1-1.7 .2-4.1 .1-11.3 .1-24.2 .1 11.6 .1-18.4 .2 5.8 .1 5.1 .1-4.2 .1-16.4 .2 3.9 .1 1.1 .1 5.5 .1-10.2 .2-12.2 .1 16.8 .1-5.2 .1-36.7 .1 14.4 .2 15.2 .1-24.3 .1 6.7 .1-7.4 .2 18 .1-23.8 .1-7 .1 13.9 .1 33.1 .2 4.2 .1 2.7 .1 15.8 .1-3.1 .2-5.5 .1-25.2 .1-12.3 .1-22.8 .1-18 .2 11.5 .1-6.1 .1 16.8 .1 13.8 .2 36.8 .1 7 .1 35.8 .1-28.7 .1-46.1 .2-32.4 .1-8.3 .1 4.3 .1 26.3 .2 27.3 .1 18.3 .1 47 .1 .7 .2-19.4 .1-52.6 .1-34.2 .1-3.6 .1-12 .2 13 .1 14.7 .1 29.2 .1 34.1 .2 2.4 .1-36.6 .1-29.4 .1-9.5 .1-10.9 .2-1 .1 13.4 .1 14.9 .1 26.4 .2 14.7 .1 29.7 .1-39.9 .1-15.1 .1-29.7 .2 2.6 .1 4.8 .1 1.2 .1-5.5 .2 18.5 .1 2.4 .1 19.3 .1 18.9 .2 14.5 .1-8.2 .1 18.8 .1-13.3 .1 29.4 .2-1.7 .1 3.1 .1 10.9 .1-14.6 .2 18.4 .1-2.8 .1 2.7 .1 4.5 .1 .6 .2 20.5 .1-15.4 .1 3 .1-10.6 .2 14.6 .1-10.5 .1-6.1 .1-29.6 .1 13.1 .2-14.2 .1-5.8 .1 .8 .1-15.8 .2 21.6 .1 7.8 .1-29.9 .1 16.4 .1 5.8 .2 1.9 .1 13.1 .1-3.2 .1 9.7 .2-3.7 .1 25.3 .1-10.1 .1-8.6 .2 7.7 .1 2.9 .1-1.9 .1-22.2 .1-7.1 .2 12.9 .1-35.8 .1-9.4 .1-5.3 .2 16.8 .1-12.6 .1-10.1 .1-25.1 .1 5.2 .2-2.3 .1-14.9 .1-12 .1 9.9 .2 1.8 .1-5 .1 8.4 .1 9 .1-5.3 .2 15.5 .1 12.2 .1-5.8 .1 14.3 .2-20.3 .1 36.3 .1-13.7 .1 3.6 .2-10 .1-4.3 .1 3.6 .1-21.5 .1 .2 .2-4.4 .1-5.4 .1-.2 .1-25.7 .2 14.7 .1 7.9 .1-6.3 .1-5.2 .1-14.8 .2-7.4 .1-7.5 .1 5.3 .1-30.6 .2 7.6 .1 11.4 .1 24.3 .1 4.7 .1 11.9 .2 19.1 .1 20.1 .1 16.3 .1 10.8 .2 4.6 .1 8.1 .1 5.1 .1-1 .2-6.2 .1 19.8 .1 10.1 .1 2.4 .1-4.7 .2 4.1 .1 2.3 .1 10.4 .1-12.6 .2-5.2 .1 .2 .1-8.1 .1-11.6 .1-9 .2-1.9 .1 2.9 .1-13.4 .1 5.3 .2-2 .1-2.3 .1 0 .1-5 .1-11 .2 8.7 .1-20.9 .1 18.1 .1-36.4 .2 9.4 .1-6.6 .1-.1 .1 9.9 .1-33.4 .2 24 .1-16.7 .1-4.2 .1 3.8 .2 9.2 .1-23 .1 3.4 .1-8.7 .2 14 .1 18.6 .1-14.3 .1 26.3 .1 13.4 .2 .9 .1-8.9 .1 31.7 .1-18.6 .2 7.9 .1 10.8 .1 26.2 .1 5.2 .1-12.4 .2 35.1 .1-21.9 .1 14.9 .1 2.6 .2-21.3 .1-7.4 .1 16.3 .1-2.7 .1-26.4 .2-2.7 .1 11.3 .1-1.7 .1-8.3 .2-16.4 .1 17.3 .1-26.7 .1-3 .2 .9 .1-8.9 .1-5.6 .1-17.9 .1 9.5 .2 .4 .1 6.6 .1-13.6 .1-9.6 .2-4 .1 10.2 .1-9.7 .1 13 .1-14.4 .2-21.9 .1 13 .1-9.1 .1-2.5 .2 13.8 .1 2.6 .1-19.4 .1 36.5 .1-7 .2 5.9 .1 9.6 .1-4.2 .1 4.6 .2-5.6 .1 11.1 .1-12.3 .1 30.9 .1-16.6 .2 17.5 .1-3.4 .1 14.1 .1-1.2 .2 1.5 .1-1.5 .1 11.1 .1-5.1 .2 6.4 .1 1.8 .1-18 .1 9.8 .1 25.5 .2 3.3 .1-13.8 .1 .5 .1-9.8 .2 17.7 .1 15.3 .1-17.8 .1-12.1 .1 2.4 .2 4.2 .1 .3 .1 5.4 .1-14.2 .2 .9 .1-19 .1 14.2 .1-18 .1 4.6 .2 26.2 .1-33.4 .1 16.8 .1-13.1 .2-1.2 .1-8.3 .1 4.7 .1 5.3 .2-19 .1 2.6 .1 2.2 .1-3.8 .1 5.1 .2-16.1 .1-6.2 .1-6.4 .1-10 .2 5.9 .1-17 .1-8.6 .1 19.4 .1-36.6 .2 19.7 .1-12.4 .1 1.8 .1 2.1 .2-15.4 .1-3.2 .1 20.8 .1 5.4 .1 6.8 .2-2.6 .1 14.7 .1 12.4 .1 24 .2 12.2 .1 5.7 .1 8.9 .1 20.5 .2-3.4 .1 14 .1-1.6 .1 30.3 .1-3.9 .2 2.7 .1 3.9 .1-7.3 .1-12.9 .2 7.9 .1-3.4 .1-3 .1-14.8 .1-16.2 .2 .9 .1 13.8 .1-22.6 .1-16.4 .2 22.7 .1-8.9 .1-7.9 .1-8.9 .1 9.3 .2 2.5 .1 7.7 .1 11 .1-8.6 .2 1.4 .1 1.2 .1 24.6 .1 13.3 .1-21.4 .2 7.4 .1 18.6 .1 7.2 .1-15.8 .2 17.3 .1-25.5 .1 24.1 .1-12.5 .2 14.8 .1-19.8 .1 2.4 .1-3.1 .1 13.5 .2-34.7 .1 18.5 .1-11.9 .1-20 .2 7.8 .1-5.3 .1-7.4 .1-6.7 .1 8.5 .2-12.6 .1-20.2 .1-1.8 .1 4 .2-13.1 .1 13.3 .1-13.2 .1-17.1 .1 8 .2-28.5 .1 21 .1 14 .1-23.3 .2 1.1 .1-15.3 .1 .7 .1-2.1 .2-7.5 .1 4.5 .1-5.3 .1 9.9 .1-.1 .2-4.8 .1 23.9 .1 7.1 .1-7.5 .2 17.1 .1 17.1 .1 5.5 .1-9.3 .1 18.4 .2 23 .1-9.7 .1 3.6 .1 8.4 .2 12.5 .1 7 .1 16.6 .1-25.1 .1 19.4 .2 9.8 .1 .3 .1-9.2 .1 6.8 .2-10 .1-.1 .1-6.8 .1 8.4 .1-21.1 .2 1.3 .1-19.5 .1 13.2 .1-6.2 .2-11.7 .1 4.4 .1-18 .1 4.8" stroke="#00f" stroke-width="1.2" stroke-dasharray="4.8 3" stroke-dashoffset="2"/>
<path d="M44 542.3l1 .7 1 1.8 1.1-3.9 1 2.4 1-9.1 1 1.4 1-3.6 1.1-1.2 1-6.9 1 6.8 1-1.5 1.1-2.9 1-6.5 1 5.4 1 5.9 1-7.5 1.1-5.8 1 1.1 1 3.1 1 0 1-11.4 1.1 8.1 1-1.5 1 3 1-5.4 1.1-2.7 1 .7 1 3.4 1 0 1 3.3 1.1-4.3 1 .4 1 2.3 1-10.2 1 7 1.1-4.3 1-1.7 1-1.3 1-.8 1-9.6 1.1-10.7 1-6.2 1 3.4 1 6.1 1.1 2.5 1 6.1 1 5.7 1-2.3 1 4 1.1-3.5 1 .8 1 6.9 1-1.7 1 6.1 1.1 4 1-.4 1 .4 1 6.3 1-.3 1.1 2 1-2.4 1 2 1-.5 1.1 8.7 1-.2 1 .5 1-6.9 1 3.3 1.1-1.1 1 .7 1 1.3 1-7.6 1 1.6 1.1-1.1 1 1.3 1 .3 1-.9 1.1 2.3 1 1.7 1 2.9 1-10 1 4.9 1.1 4.1 1 .3 1-7.3 1 7.5 1-9.2 1.1 3.9 1-.6 1-8.6 1 0 1 1.2 1.1-1.4 1 1.2 1-1.2 1-6.5 1.1-1.1 1 4.1 1 5.6 1-12.4 1 3.9 1.1 1.5 1-3.2 1 1.5 1 2.1 1-1.5 1.1 .7 1 1.7 1-.6 1 2.1 1.1-5.6 1 3.2 1-6 1 7.6 1-5.5 1.1 7.5 1-.7 1-6.8 1 3.1 1-1 1.1 2.7 1 1.9 1 .7 1 .4 1-.5 1.1-6.3 1 3.9 1-.9 1 2 1.1-3.5 1 5 1-7.7 1 10.7 1-5.6 1.1-1.8 1 3.9 1-.8 1 .4 1-1.2 1.1 4 1-1 1-6.7 1 4.7 1.1 3 1-4.1 1-3 1 .9 1 3.2 1.1 1.8 1 4.1 1-9.6 1-.4 1 6.1 1.1 3.2 1-7.4 1-3.6 1 9.3 1-6.5 1.1-1.1 1-2.2 1 3.4 1-4.2 1.1 11 1-5.3 1 4.5 1-2.4 1 3.9 1.1-5.8 1 6.2 1-6.4 1 .2 1 4.5 1.1-2.2 1-3.7 1 .3 1 3.5 1-6 1.1 3.2 1 10.2 1-1.6 1-7.6 1.1 4.5 1-5.1 1 5.5 1-.5 1-1.7 1.1-4.1 1 2.1 1 1.5 1-3.7 1-3.2 1.1 11.7 1-12.8 1 5.4 1 10.7 1.1-7.7 1-3.2 1 2.5 1 1.1 1-1.7 1.1-3.9 1 3.9 1-1.2 1 2.3 1 4.6 1.1-7.6 1-2.1 1 5.9 1-3.9 1 2.2 1.1-6.4 1 7.5 1 11 1-12.8 1.1 1.4 1-3.1 1 .3 1 9.4 1-8.3 1.1 1.2 1 .5 1 4.4 1-13.9 1 13.4 1.1-2.2 1-3 1 .7 1-6.7 1.1 3 1 4.1 1 2.2 1 0 1-2.9 1.1-1.4 1 3.6 1-2.4 1-2.6 1 3.5 1.1-4.5 1 8.7 1 .8 1-3.7 1 2.9 1.1-7.6 1 8.4 1-5.1 1-2.6 1.1 1.2 1-2 1-.1 1 .4 1 6.2 1.1 .3 1-4.8 1 .6 1 0 1 1.4 1.1-.5 1-3.6 1 3.4 1-2.7 1 3.1 1.1-5.7 1 .7 1-1.4 1 4.6 1.1 3.5 1-7.5 1 2.5 1 1 1 4.8 1.1-.1 1-2.2 1-3.1 1 3 1-1.9 1.1-8.3 1 .4 1 10.2 1-13.7 1.1 10 1 7.3 1-8.6 1 6.5 1-1.4 1.1-2.4 1 3.1 1-8.8 0 32.1-1 1.8-1-5.1-1.1 5.7-1-.2-1 .8-1-2-1 7.7-1.1-10.4-1 6.1-1-1.5-1 0-1.1 5-1-2.1-1-7.7-1 5.4-1 .2-1.1-3.2-1-.2-1 5.1-1-4-1 2.1-1.1 3.8-1-5.3-1 .9-1-3.9-1.1 .1-1 7-1-2.4-1 0-1-4.1-1.1 5.6-1-7.9-1 11.4-1-9-1 7.1-1.1-8.3-1 1.6-1 2.6-1 3.1-1-8.8-1.1-2.2-1 6.6-1 .6-1 1.3-1.1 5.3-1-11.8-1-1.8-1 10.9-1-3.1-1.1 5.2-1 2.7-1-7-1 .8-1-3.8-1.1 5.2-1-8.5-1 5.6-1 2.5-1-7-1.1 10-1-5.6-1 2.7-1-1.4-1.1-3.5-1-2.6-1 1.8-1 3.7-1 4.6-1.1-6.1-1-.3-1-1.3-1 5.7-1-7.2-1.1 4.8-1-6.4-1-4.9-1 4.6-1.1 6.1-1-1.2-1 5.9-1-8.5-1-.2-1.1 2.8-1-1.7-1 .4-1 7-1-5.4-1.1-2.6-1 7.8-1 3.1-1-9.1-1-3.6-1.1-2.5-1 11.1-1-3.4-1-3.4-1.1 4.5-1-2.1-1 5.8-1-2.6-1-1.1-1.1-5.5-1-3.7-1 12.2-1-10-1 6.9-1.1-5.1-1 1.5-1-1.2-1 4.3-1.1-1.1-1-2.8-1 1.3-1 2.4-1-4.6-1.1 3.2-1 .9-1-2.2-1 5.8-1-2.9-1.1-6.9-1 3.8-1-.1-1 1.6-1 2.9-1.1 1-1-5-1 3.8-1-4.3-1.1 4.9-1-.5-1-4.7-1 8.1-1-5.3-1.1-3.8-1 6.1-1 .8-1 .6-1-8.3-1.1 4.2-1-4.2-1 3-1-7.4-1 9.7-1.1 2-1-2.3-1-1.9-1 .4-1.1-2.1-1 3.3-1-.1-1-1.9-1-1.2-1.1 4.9-1-2.6-1 .1-1 5.1-1-5.9-1.1-2.7-1 2.4-1-1.6-1-7.7-1.1 5.7-1 10.7-1-9.3-1-2.5-1 2.5-1.1-5-1 5.6-1-1.5-1-.7-1 5.9-1.1-5.2-1 2.1-1 .4-1-2.3-1 2.8-1.1-10.2-1 2.1-1 6.9-1-2-1.1-.9-1-1.3-1 .3-1-2-1 1-1.1-1.5-1 7-1-1.1-1 3.7-1-6.8-1.1 4.8-1 1.1-1 .4-1 10.9-1.1-2.4-1-3.2-1-3.2-1 3.5-1-.4-1.1 2.3-1 .6-1-1-1 7.8-1-10-1.1 8.7-1 2.3-1-3.9-1 3.4-1 1.2-1.1-6.8-1 .5-1-2.2-1 5.9-1.1-4-1 1.7-1 6.8-1-2.2-1-5.3-1.1 3.4-1 1.4-1 4.8-1-11.5-1 2.6-1.1 4-1-.3-1-5.8-1-1.7-1.1 2.4-1-4.6-1-5.4-1 3.2-1-3.7-1.1 2.4-1-5.7-1 5.2-1-1.6-1-16.6-1.1 3-1 5.4-1-12.7-1-1.1-1 2-1.1-1.6-1-6.4-1-9.1-1 8.2-1.1 8.5-1 9.8-1 1-1-2.7-1 2.9-1.1 5.9-1 1.9-1 2.3-1-4.3-1 4.6-1.1 3.3-1-4.9-1-.7-1-1.5-1 .2-1.1 3.9-1 0-1-2.9-1 4.5-1.1 3.8-1-2.3-1 .4-1-3.2-1 3.4-1.1-1-1-.6-1 7.4-1 3.2-1-6.5-1.1 3.7-1-3.5-1 6.2-1 2.3-1.1-1.1-1-1.1-1 16.8-1-9.2-1 2.1-1.1 9.3-1-8.8-1 20.1z" fill="#f00" stroke="none"/>
<path d="M44 567l.2 4.7 .2-7.8 .2-16.6 .1 44.6 .2-36.6 .2 2.8 .2 .5 .2-8.6 .2 10.7 .1-8.7 .2 6.1 .2 10.6 .2-14.5 .2-4.2 .2 11.2 .1-4.1 .2-1.7 .2 2.2 .2 1.6 .2-.8 .2-1.9 .1 .9 .2-2.3 .2 12.7 .2-18.1 .2 1.4 .2-2.7 .1 4 .2 3.9 .2 2.6 .2-5.9 .2-11.2 .2 22 .1-9.2 .2 15.7 .2-24.1 .2 11.8 .2-10.5 .2 .2 .2-7.6 .1 4.1 .2 18.4 .2-27.7 .2-10.2 .2 34.4 .2-23 .1 8.4 .2 11.2 .2-6.9 .2-10.4 .2 9.4 .2-2.7 .1-2 .2-9.8 .2 23.3 .2-26.6 .2 .7 .2 13.8 .1 11.1 .2-11.9 .2-6.4 .2-.8 .2 9.6 .2-12.3 .1-17.3 .2 3.2 .2 14.1 .2 2.6 .2 15.4 .2-16.8 .2 2.4 .1 15.8 .2-7.3 .2-4.7 .2-6.1 .2-6.8 .2 17 .1-3 .2 4.1 .2 .7 .2-8.7 .2 10.5 .2-26.9 .1 24.1 .2-13.1 .2-5 .2 2.6 .2-17.6 .2 2 .1 20 .2 2.5 .2 8.5 .2-22.3 .2 8.9 .2 8.3 .1-8.5 .2-15.1 .2 22.3 .2-6.1 .2 .5 .2-18.6 .1 .4 .2 15.5 .2-14.5 .2 13.3 .2-.9 .2 6.7 .2-1.6 .1-7.7 .2-.3 .2 22 .2-19.2 .2 1.6 .2-1.8 .1 9.8 .2-16.2 .2 2.9 .2 10.3 .2-2.4 .2 .2 .1-15 .2 12.7 .2 10.4 .2-6.1 .2-2.5 .2-1.9 .1 7.2 .2-10.9 .2 13.2 .2 7 .2-33 .2 22 .1 10.4 .2-26.4 .2 .1 .2 2.4 .2 12.3 .2-4.2 .1-.6 .2 22.6 .2-29.3 .2 16.2 .2-7.2 .2-12.5 .2 10.3 .1-9.5 .2 14.1 .2-7.3 .2-4.6 .2 11.7 .2 6.6 .1-5.3 .2 3.2 .2-28 .2 17.5 .2-2 .2 10.8 .1-13.6 .2 24.8 .2-10.2 .2-18.5 .2 10.5 .2-18.4 .1 16.1 .2-15 .2 3.3 .2 18.2 .2-4.3 .2 1.7 .1 .6 .2 13 .2-16.5 .2-1.3 .2-5.6 .2 7.3 .2-8.9 .1 8.7 .2 6.4 .2-6 .2 6.1 .2-6.4 .2 6.3 .1-18.3 .2 3.7 .2-1.6 .2 6.5 .2 .7 .2 2.1 .1-9.1 .2 11.4 .2-3 .2 3.6 .2-16.8 .2 7.5 .1 10.5 .2-17 .2 20.1 .2-5.6 .2-2.3 .2 10.5 .1-33.5 .2 37.8 .2-29.6 .2 3.2 .2 9.9 .2-6.5 .1 2.2 .2-12.6 .2 4.7 .2 18.8 .2-15.5 .2 12.3 .2-11.6 .1-4.8 .2 1.9 .2 .6 .2-9.3 .2-7.8 .2 5.4 .1 10.4 .2 4.8 .2-1.2 .2-5 .2-6.7 .2 7.3 .1 .9 .2-11.8 .2 .2 .2 .6 .2-28.3 .2 21.5 .1-6.1 .2 20.6 .2-11.1 .2-3 .2-3.6 .2 4.5 .1-7.7 .2 29.3 .2-22.3 .2 12.8 .2-7.9 .2-3.1 .2 1.9 .1 13.3 .2-22.1 .2 4.1 .2 26 .2-28.6 .2 10.1 .1-11.6 .2 12.5 .2 11.5 .2-9.8 .2 3.7 .2-8.3 .1 6.3 .2-11.4 .2 9.6 .2-16.3 .2 13.3 .2 18.1 .1-8.9 .2-8.4 .2-3 .2 8.4 .2 6.4 .2 1 .1 17.5 .2-10.2 .2-12.2 .2 18.1 .2-25.2 .2 20.5 .1-14.2 .2 3.8 .2 6.4 .2 .3 .2-19.1 .2 1.3 .2 14.2 .1-6.7 .2 20.8 .2-9.1 .2-7.2 .2-6.1 .2 6.9 .1 1.4 .2 2.6 .2 3.9 .2-2.6 .2 1.1 .2-3.1 .1-12.6 .2 15 .2 12.9 .2-10.6 .2-15.1 .2 6.1 .1 24.2 .2-15.2 .2 6.7 .2-4.6 .2-19.4 .2 32.5 .1-10.9 .2-1.5 .2-8 .2 19.1 .2 2 .2-7.6 .1-5 .2-2.1 .2 10.2 .2 2.9 .2-11.9 .2-4 .2 12.1 .1 3.6 .2 6.8 .2-21.4 .2 22.8 .2-15.9 .2 4 .1 2.9 .2 1.6 .2-2 .2 3.7 .2 4.2 .2-11.5 .1 4.6 .2-13.5 .2 41.7 .2-42.1 .2 5.3 .2 17.1 .1 .4 .2-7.6 .2-5.6 .2 3.2 .2-3.5 .2 19.6 .1-19.8 .2 .3 .2 19.7 .2-20.7 .2 16.5 .2 2.3 .2-8.3 .1-22.8 .2 21.8 .2 8 .2-18.8 .2 23.5 .2-9 .1-6.1 .2-10.7 .2 16.3 .2-16 .2 12.2 .2-5.2 .1-3.1 .2 9.4 .2-3.7 .2-1 .2-3.9 .2 13.5 .1 5.4 .2-1.4 .2-3.7 .2 7.2 .2-13.9 .2-1.2 .1 1.2 .2 6.9 .2-.1 .2-14.1 .2 10.9 .2-15.1 .1 6.7 .2 4 .2-3.3 .2 8 .2-8.5 .2 14 .2 1.1 .1-17.8 .2 9.8 .2 6.1 .2-5.9 .2-18.3 .2 10.3 .1-1.8 .2 .9 .2-5.3 .2 12 .2-4.7 .2-2.4 .1 1.6 .2 5.3 .2 3 .2-9.7 .2-2.5 .2 12.2 .1-8.5 .2 10.9 .2-7.8 .2-12.8 .2 11.1 .2 7 .1-6.6 .2-4 .2 8 .2-.2 .2 3.9 .2-9.6 .1 8.7 .2-13 .2 17.5 .2-5.5 .2 6.5 .2-7.5 .2-1.2 .1-5.5 .2 10 .2-2.7 .2-.7 .2-22.6 .2 19.9 .1-19.9 .2 14.3 .2 5.4 .2 3.9 .2-13 .2 12.4 .1 8.8 .2-20.1 .2 25.8 .2-13.8 .2-2.6 .2-11.5 .1 14.9 .2-7.2 .2 4.5 .2-20.6 .2 24.8 .2 2 .1 4.1 .2-20.1 .2 2.7 .2 15.5 .2-9.8 .2-12.1 .2 7.6 .1 9.7 .2-14.8 .2 9 .2 4.9 .2-16.8 .2 21.1 .1-7.4 .2-8.6 .2 9.3 .2-19.2 .2 20.3 .2-12.1 .1-3.6 .2 17.1 .2 8.2 .2-9 .2-18.8 .2 3.5 .1 22.3 .2-16.7 .2-6.1 .2 16.8 .2-1 .2-18.6 .1 8.5 .2 19 .2-21.7 .2 7.7 .2 4.1 .2 5.6 .1-12.1 .2 6.8 .2-15.6 .2-.3 .2 5.6 .2 .3 .2 3.4 .1 1.9 .2-2.5 .2-2 .2 4.3 .2-13.4 .2 13.9 .1-1.5 .2-15.8 .2-4.8 .2-7.6 .2 33.4 .2-9.3 .1 3 .2 .2 .2 5.7 .2-17.6 .2 28.8 .2-23.8 .1 10.9 .2-4.8 .2-22.4 .2 18.7 .2-.6 .2-7.1 .1-2.8 .2-1.7 .2 9.5 .2-6.1 .2 4.5 .2 6.3 .2-20.1 .1 25.3 .2-13.3 .2 11 .2-6.5 .2-11.3 .2 13 .1 12 .2-14.5 .2-1.8 .2-10.4 .2 26.8 .2-16.1 .1 1.2 .2 3.9 .2-1.6 .2-7.4 .2 2.2 .2 6.2 .1-1.4 .2-3.1 .2 1.7 .2-5.5 .2 10 .2 0 .1-12 .2 .8 .2 13.1 .2-6.4 .2 2.5 .2-9.4 .1 1.4 .2 8.4 .2-8.9 .2 16 .2-20.5 .2-7.5 .2 9.4 .1-4.2 .2 21.6 .2-16.7 .2 8.2 .2-11.3 .2 .3 .1-7.8 .2 .5 .2 12.2 .2-4.6 .2 .4 .2 15.2 .1-7.5 .2-11.5 .2 15.8 .2-7 .2-12.8 .2-3.8 .1 21.7 .2-11.4 .2-3.7 .2-4 .2 22.6 .2-11.4 .1 4.5 .2-10.3 .2 9.3 .2 .7 .2-12.8 .2 25.5 .1-3 .2-14.3 .2 9.8 .2 5.3 .2-23.4 .2 11.8 .2-2.7 .1 1.5 .2-10.7 .2 7.4 .2 5.3 .2-7.4 .2 6.9 .1-4.8 .2-2.2 .2 .5 .2 7.7 .2-1.4 .2-13.8 .1 8.9 .2-2 .2 11.3 .2-4.2 .2 7.2 .2-4.8 .1 6.5 .2-13.3 .2 8.6 .2-18.2 .2 8.9 .2-.2 .1-6.9 .2 5.8 .2-9.7 .2 25.6 .2-17.7 .2-17.3 .2 23.8 .1-7.2 .2 8.4 .2-10.9 .2 2.2 .2 7.6 .2-2.3 .1 12.2 .2-1.3 .2-5.5 .2 4.3 .2-6.6 .2 0 .1 .5 .2-4.2 .2 1.7 .2-14.2 .2 16.3 .2 13.8 .1-14.2 .2 6 .2-5.5 .2 12 .2-34.3 .2 10.1 .1-4.9 .2 .4 .2 28 .2-29.3 .2 37 .2-18.3 .1-10.2 .2 11.4 .2-17.8 .2 7 .2 5.7 .2 5.2 .2 13.5 .1-5.3 .2-12.3 .2 10.9 .2-32.9 .2 37.8 .2-13.4 .1 .7 .2-6.6 .2 8.8 .2 .4 .2-2.6 .2 3 .1-.5 .2-15.3 .2 19.4 .2-6.1 .2-11.6 .2 20 .1-12.8 .2 15.8 .2 11.1 .2-46.5 .2 31.4 .2 7.5 .1-8.4 .2-13.8 .2 2.9 .2-6.9 .2 23.9 .2-25.2 .1 14.2 .2 9.3 .2-11.2 .2 1.2 .2-5.9 .2 7.1 .2-13.5 .1 15.8 .2 .6 .2-3.7 .2-6.4 .2-3.4 .2 19.1 .1-32.2 .2 29.3 .2 5.8 .2-31.7 .2 23 .2-10.7 .1 8 .2 .2 .2-1.9 .2 8.5 .2-9.6 .2-14.7 .1 24.5 .2-2.3 .2-10.3 .2-1.3 .2 6.5 .2 7 .1-3.3 .2-21.4 .2 9.1 .2 2.6 .2 15.4 .2-6.3 .2-11.1 .1 10 .2 10.5 .2-15.4 .2-8.1 .2 18.4 .2-12.9 .1-2 .2-6.6 .2 27.7 .2-7.4 .2 3.2 .2-18.9 .1 7.4 .2-6.9 .2 2.6 .2 10.2 .2-4 .2-.4 .1-4.9 .2 11.4 .2-10.3 .2 8.6 .2 19.6 .2-25 .1 15.1 .2-14.2 .2-7.9 .2 5 .2 3.9 .2 6.9 .1-2.2 .2-11.9 .2 7 .2-12.6 .2 29.9 .2-17 .2 6 .1-14.2 .2 4.3 .2 3.4 .2-6 .2 9.1 .2-1.8 .1-13.1 .2 6.3 .2-7 .2 15.8 .2-13.5 .2 3.8 .1 .2 .2 18.5 .2-41.3 .2 23 .2 5.9 .2-2.6 .1 7.9 .2-7.8 .2 17.1 .2-28.3 .2 2.6 .2-4.5 .1-1.4 .2 7 .2 27.6 .2-16.8 .2-7.5 .2 9.9 .2-5 .1 .1 .2 6.7 .2 9.1 .2-13.9 .2 15.5 .2-22.3 .1 8.8 .2 2 .2-19.2 .2 7.5 .2 21.8 .2-15 .1 11.6 .2-7.5 .2 11.2 .2-13.4 .2-3.8 .2-5.3 .1 1.9 .2 3 .2 9 .2 2.5 .2-9.1 .2-13.4 .1 21.4 .2-15.1 .2 25 .2-14.5 .2 5.4 .2-10.5 .1 2.6 .2 7.4 .2-10.1 .2 10.2 .2 3.7 .2-2.5 .2-1.8 .1-11.5 .2-4.8 .2 12.5 .2-2.7 .2-6.2 .2 11.5 .1-9.1 .2-6.3 .2 7.5 .2 9.4 .2-15.2 .2 12.9 .1-11.4 .2 16.4 .2-10.8 .2 24 .2-18.1 .2-14.6 .1 14.7 .2-7.8 .2-4.7 .2 7.3 .2-16.1 .2 24.5 .1-7.1 .2-9.2 .2-.1 .2 12.7 .2 0 .2-1.2 .1-10.3 .2 3.8 .2-1.9 .2 6 .2-19.3 .2 15.7 .2 9.1 .1-12.7 .2 25.7 .2-14.7 .2 12.5 .2-37.1 .2 31 .1-24 .2 6.5 .2 6.1 .2-8.2 .2 10.4 .2-13.9 .1 15.4 .2-15.4 .2 9.5 .2 2.8 .2-4.3 .2-3 .1 10.9 .2-8.8 .2 6.3 .2 4.7 .2 1.1 .2-15.2 .1-1 .2 17.6 .2-8.6 .2 10.5 .2-17.7 .2 6 .2 6.3 .1-3.9 .2 9 .2-15.2 .2-6.3 .2 14.3 .2-19.8 .1 14.2 .2-1.7 .2 5.6 .2-4.9 .2 7.8 .2 1.6 .1 11.8 .2-17.2 .2 .1 .2-2.2 .2 7.3 .2-10.7 .1-4.9 .2 10.2 .2-17.2 .2 14.8 .2 12.5 .2-5.7 .1-6.9 .2 .3 .2 13.3 .2-11.4 .2 17.8 .2-22.9 .1 4.9 .2-9.8 .2 26.8 .2-14.4 .2-7.8 .2 12.3 .2 .3 .1-11.4 .2-7.8 .2 18.5 .2-4.7 .2-12.3 .2 17.5 .1-10.8 .2 28.6 .2-27.9 .2 11 .2-9.6 .2 2 .1-4.8 .2 6.5 .2-5.8 .2 16.5 .2-24 .2 1.3 .1 19.5 .2-32.7 .2 5.4 .2 20.1 .2 10.9 .2-4.1 .1-2.3 .2-5.6 .2-1.1 .2 1.2 .2 2.2 .2-11.6 .1 8.8 .2-8 .2-4.3 .2 3.8 .2 11.2 .2-13.8 .2 16 .1-1 .2 6.3 .2-23.1 .2 12 .2 3.1 .2-.8 .1-11.5 .2 14.7 .2 10.9 .2-34.9 .2 16.1 .2-1.4 .1-10.2 .2 23.3 .2-6.6 .2 8.4 .2-6.8 .2-3.2 .1-7 .2 3.8 .2-2.2 .2 21.1 .2-19.1 .2 5.5 .1 10.1 .2-7.7 .2 .9 .2-15.7 .2-2.4 .2 21.8 .2-1.8 .1 11 .2-10.8 .2 7.5 .2-35.6 .2 21.3 .2 2.8 .1-11.9 .2-.3 .2 19.5 .2 .8 .2-28.8 .2 34.6 .1-32.5 .2 16.1 .2-17.8 .2 13.2 .2-5.9 .2 4.6 .1 12.9 .2-13.7 .2-3.8 .2 1.5 .2 11.6 .2-11.8 .1-16.7 .2 22.8 .2 6.6 .2-5.7 .2-3.5 .2-2.7 .1 9 .2-4.9 .2 9.1 .2-4.8 .2-7.9 .2 3.3 .2-2.2 .1 5.1 .2 .6 .2 .2 .2-.7 .2 8.5 .2-11.3 .1-4 .2 13.9 .2-1.8 .2-3.8 .2-2.5 .2-16.1 .1 1.3 .2 27.3 .2-22 .2 12.6 .2-9.5 .2 2.4 .1-2.1 .2 24.9 .2-17.1 .2 11.5 .2-2.8 .2-2.4 .1-1.7 .2-11.8 .2 14.3 .2-13.9 .2 1.3 .2-1 .1 3.5 .2 1.2 .2 12.5 .2-7.3 .2-9.9 .2 .9 .2 4.1 .1 1.1 .2-.4 .2-5.8 .2 11.1 .2-13.5 .2 22.5 .1-16.6 .2 5.4 .2 2.3 .2-10.7 .2 5.5 .2-8.4 .1 4.7 .2 6.1 .2 7.3 .2-5.5 .2-2.2 .2 11.2 .1-11.6 .2-5.3 .2-11.1 .2 14.6 .2-3.7 .2-5.9 .1-2.7 .2 7.6 .2 4.3 .2-9.4 .2 7.7 .2-.7 .2-2.4 .1 3.2 .2-14 .2 9.8 .2 11.2 .2-5.2 .2-1.2 .1 1.9 .2-5.1 .2 4.4 .2 5 .2-3.4 .2 3 .1-14.8 .2-5.5 .2 6 .2-7.5 .2 11 .2 2.2 .1 7.9 .2 1.3 .2-4.4 .2-9.1 .2-1.5 .2 19 .1 5.1 .2-21.9 .2 6.2 .2 9.8 .2-9.1 .2 4.2 .1 6.3 .2-18.2 .2 14.4 .2-2.4 .2-2.2 .2-8.2 .2 4.7 .1-4.7 .2 10.4 .2-1.5 .2-4.1 .2-10.7 .2 22.5 .1-4.2 .2-16.4 .2 7.8 .2 13.5 .2-10.9 .2 1.6 .1-.6 .2 19.9 .2-7.2 .2-11.7 .2 3.7 .2-18.6 .1 11.9 .2 1 .2 2.1 .2-4.4 .2-5 .2 9.6 .1 1.4 .2 6 .2-10.2 .2 13.8 .2-1.7 .2-12.8 .2-7.6 .1 12.4 .2-23.9 .2 23.2 .2 5.5 .2-19.5 .2 6.1 .1 2.5 .2-3.2 .2 10 .2-9.3 .2 20.5 .2-8.6 .1-5 .2 3.8 .2-2.7 .2-12.5 .2 18 .2 0 .1 .6 .2-15.6 .2 10.9 .2-8.8 .2-6.1 .2 26.3 .1-3.9 .2-5.2 .2-21.9 .2 13.5 .2 6.5 .2-11.1 .1 1.2 .2-2.6 .2 6.1 .2-1.2 .2 4.5 .2 10.5 .2 5.5 .1-9.2 .2-8.4 .2 4 .2-26.6 .2 15.7 .2 8.9 .1-4.2 .2 1.1 .2 1.7 .2-6.6 .2 10.9 .2-14.5 .1 6.3 .2 5 .2-4.7 .2 5.5 .2 12 .2-1 .1-4.6 .2-19.1 .2 20.7 .2-22.9 .2 18.3 .2-2.8 .1-9.8 .2 15.3 .2-23 .2 10.7 .2-8.5 .2 1.1 .1 32.6 .2-16.7 .2-1.7 .2-7.8 .2 2.6 .2 2 .2 1.1 .1 .1 .2 5.2 .2 2.6 .2-19.2 .2 10.8 .2 .7 .1-2.8 .2 6.3 .2-7.7 .2 11 .2-22 .2 15.6 .1-19.5 .2 16 .2 4 .2 3.4 .2 5.3 .2-15.2 .1 .1 .2-1.1 .2 13.6 .2-12.7 .2-5.8 .2 17 .1-.8 .2 2.5 .2-17.3 .2 4.3 .2 5.4 .2-12.2 .2 12.5 .1-16.9 .2 18.6 .2-9.2 .2-1.4 .2 3.5 .2 8.9 .1-3.3 .2-1 .2-5.6 .2-6.7 .2 12.7 .2 7.8 .1-9.7 .2 5.9 .2 1.2 .2-18.5 .2 14.6 .2-.5 .1-8.5 .2 10.4 .2-11.7 .2 3.3 .2-.8 .2 14.9 .1-2.5 .2-10.7 .2 2.8 .2-.3 .2 5.7 .2-3.3 .1-16.3 .2 14.3 .2 9.2 .2-4.7 .2-5.6 .2 11.9 .2-4.3 .1-7.7 .2 .2 .2 4.4 .2-11.6 .2 3.8 .2 3.8 .1-13.6 .2 20.3 .2-8 .2 6.3 .2-.5 .2 14.1 .1-26.8 .2 12.9 .2 3.1 .2-9.5 .2 8.1 .2 .1 .1 4.2 .2 4.2 .2-23.1 .2-1.8 .2 16 .2-12.7 .1 5.8 .2 0 .2-11 .2 22.2 .2 3 .2-15.5 .1 9.2 .2 8.2 .2-1.2 .2-18.1 .2-11.1 .2 31.2 .2-3.5 .1 .6 .2-13.8 .2-1.8 .2-1.8 .2-8.7 .2 12.8 .1 1.2 .2 1.4 .2-9.5 .2 12 .2-13.5 .2 .4 .1 1.5 .2-1.1 .2 7.3 .2-7 .2 12.4 .2-5.9 .1-8.4 .2 15.4 .2 13.5 .2-17.2 .2-1.6 .2-2.2 .1-8.3 .2 17.5 .2 3.2 .2-2.8 .2 2.8 .2-13.7 .2 17.3 .1-1.1 .2-24.6 .2 22.2 .2-26.5 .2 15.3 .2 24.7 .1-24.5 .2-.9 .2 13.3 .2-12.4 .2 6.4 .2 4.5 .1 .1 .2-12.7 .2 14.3 .2-7.1 .2 3.9 .2 5.7 .1-10.1 .2 5.7 .2 1 .2-18.5 .2 6.5 .2 9.9 .1-22.3 .2 9 .2 16.8 .2-14.8 .2 15.6 .2-14.1 .1-7.4 .2 27.9 .2-3.2 .2-26.1 .2 19.8 .2-14.2 .2 4.8 .1-6 .2 23.5 .2-28.8 .2 22.4 .2 .1 .2 1.8 .1-5.4 .2-14.7 .2-5.8 .2 4.1 .2-1.2 .2 6.9 .1-.7 .2-7.1 .2 24.8 .2 2.9 .2-31.7 .2 20 .1 5 .2-12.3 .2-13.8 .2 5.6 .2 7.5 .2 17.7 .1-10.6 .2-6.7 .2 11.2 .2-1.7 .2-3.8 .2-1.4 .2 5 .1 1.6 .2-16.6 .2 10.3 .2 7.3 .2 .1 .2 3.5 .1-10.7 .2-7.7 .2 7.6 .2-10.3 .2 24.4 .2-18.1 .1 4.5 .2-8.9 .2 5.1 .2 15.4 .2-9.8 .2-8.5 .1-7.8 .2-13.4 .2 11 .2 18.2 .2 9.8 .2-21.2 .1 20.5 .2-30.4 .2 3.8 .2 9.5 .2-6.8 .2 12.8 .1-24.3 .2 16.9 .2 11.4 .2-14.6 .2 11.2 .2 4.3 .2-2.7 .1 3.6 .2-14.5 .2 11.3 .2 9.5 .2-27.4 .2-2.1 .1 21.6 .2-5.1 .2 1.2 .2-.8 .2-17.9 .2 1.7 .1 9.2 .2 17.1 .2-1.1 .2-11 .2 11 .2 0 .1-16.1 .2 8.2 .2 15.2 .2-22.9 .2-1.7 .2 3.2 .1-3.9 .2 9.6 .2-1.9 .2-4.5 .2 0 .2 2.8 .1-5.8 .2 22.3 .2-14.6 .2 3.8 .2-3.9 .2-8 .2 21.9 .1-18.2 .2-3.8 .2 4.4 .2 3.5 .2 9.3 .2-10 .1-2.2 .2-5 .2 12.2 .2-13.8 .2-.6 .2 21.6 .1 3.5 .2-2.3 .2-4.2 .2-3.4 .2 2.3 .2-17.6 .1 21.7 .2-20.5 .2-.6 .2 4.4 .2-7.9 .2 11.2 .1 4.8 .2 4 .2-15.5 .2 12.6 .2-12 .2 11.4 .2-1.7 .1-15.6 .2 15.8 .2-1.6 .2 1.3 .2-2.5 .2 9.3 .1-12.2 .2-2.9 .2 17.2 .2-15.5 .2 3.4 .2-5.2 .1 20 .2-12.2 .2 10.5 .2 .3 .2-7 .2 9.4 .1-3 .2-14.1 .2-10 .2 16.1 .2-.6 .2 0 .1 7.5 .2-10.4 .2 9.8 .2-6.9 .2 2.5 .2-7 .1 18.5 .2-21.3 .2 2.8 .2 7" stroke="#f00" stroke-width="1.0"/>
</g>
<path d="M44.0 620.6v-3M44.0 445.2v3M84.8 620.6v-3M84.8 445.2v3M125.7 620.6v-3M125.7 445.2v3M166.5 620.6v-3M166.5 445.2v3M207.4 620.6v-3M207.4 445.2v3M248.2 620.6v-3M248.2 445.2v3M289.1 620.6v-3M289.1 445.2v3M329.9 620.6v-3M329.9 445.2v3M44.0 620.6h3M338.1 620.6h-3M44.0 585.5h3M338.1 585.5h-3M44.0 550.4h3M338.1 550.4h-3M44.0 515.4h3M338.1 515.4h-3M44.0 480.3h3M338.1 480.3h-3M44.0 445.2h3M338.1 445.2h-3" stroke="#222" stroke-width=".8" fill="none"/>
<rect x="44.0" y="445.2" width="294.1" height="175.4" fill="none" stroke="#333" stroke-width="1.1"/>
<g fill="#222"><text x="44.0" y="629.5" font-size="8.6" text-anchor="middle" textLength="4.18" lengthAdjust="spacingAndGlyphs">0</text><text x="84.8" y="629.5" font-size="8.6" text-anchor="middle" textLength="8.36" lengthAdjust="spacingAndGlyphs">10</text><text x="125.7" y="629.5" font-size="8.6" text-anchor="middle" textLength="8.36" lengthAdjust="spacingAndGlyphs">20</text><text x="166.5" y="629.5" font-size="8.6" text-anchor="middle" textLength="8.36" lengthAdjust="spacingAndGlyphs">30</text><text x="207.4" y="629.5" font-size="8.6" text-anchor="middle" textLength="8.36" lengthAdjust="spacingAndGlyphs">40</text><text x="248.2" y="629.5" font-size="8.6" text-anchor="middle" textLength="8.36" lengthAdjust="spacingAndGlyphs">50</text><text x="289.1" y="629.5" font-size="8.6" text-anchor="middle" textLength="8.36" lengthAdjust="spacingAndGlyphs">60</text><text x="329.9" y="629.5" font-size="8.6" text-anchor="middle" textLength="8.36" lengthAdjust="spacingAndGlyphs">70</text><text x="41.1" y="622.7" font-size="8.6" text-anchor="end" textLength="8.36" lengthAdjust="spacingAndGlyphs">60</text><text x="41.1" y="587.6" font-size="8.6" text-anchor="end" textLength="8.36" lengthAdjust="spacingAndGlyphs">62</text><text x="41.1" y="552.5" font-size="8.6" text-anchor="end" textLength="8.36" lengthAdjust="spacingAndGlyphs">64</text><text x="41.1" y="517.5" font-size="8.6" text-anchor="end" textLength="8.36" lengthAdjust="spacingAndGlyphs">66</text><text x="41.1" y="482.4" font-size="8.6" text-anchor="end" textLength="8.36" lengthAdjust="spacingAndGlyphs">68</text><text x="41.1" y="447.3" font-size="8.6" text-anchor="end" textLength="8.36" lengthAdjust="spacingAndGlyphs">70</text></g>
<text x="191.1" y="641.2" font-size="8.2" text-anchor="middle" textLength="59.8" lengthAdjust="spacingAndGlyphs" fill="#222">Time (unit: hour)</text>
<text x="191.1" y="439.8" font-size="9.4" text-anchor="middle" fill="#222">(e)</text>
<text transform="translate(28.0,532.9) rotate(-90)" x="0" y="0" font-size="8.6" text-anchor="middle" fill="#222" textLength="81.75" lengthAdjust="spacingAndGlyphs">Reactor Level (unit: %)</text>
<rect x="211.7" y="449.5" width="122" height="50.0" fill="#fff" fill-opacity=".7" stroke="#222" stroke-width="1.1"/>
<path d="M218.4 457.1H230.8" stroke="#000" stroke-width=".9"/>
<text x="239.1" y="460.6" font-size="9.5" textLength="35.8" lengthAdjust="spacingAndGlyphs" fill="#1a1a1a">baseline</text>
<path d="M218.4 471.4H230.8" stroke="#00f" stroke-width=".8" stroke-dasharray="4.8 3" stroke-opacity=".75"/>
<text x="240.9" y="474.2" font-size="9.2" style="font-family:'Liberation Serif',serif;font-style:italic" fill="#222">P</text>
<text x="245.6" y="476.1" font-size="7" style="font-family:'Liberation Serif',serif;font-style:italic" fill="#555" textLength="14.3" lengthAdjust="spacingAndGlyphs">c,GE</text>
<text x="262.0" y="474.2" font-size="9.5" textLength="67.6" lengthAdjust="spacingAndGlyphs" fill="#1a1a1a">= 0.6, q = 0.09</text>
<path d="M218.4 488.8H230.8" stroke="#f00" stroke-width=".8" stroke-dasharray="4.8 3" stroke-opacity=".75"/>
<text x="240.9" y="491.5" font-size="9.2" style="font-family:'Liberation Serif',serif;font-style:italic" fill="#222">P</text>
<text x="245.6" y="493.4" font-size="7" style="font-family:'Liberation Serif',serif;font-style:italic" fill="#555" textLength="14.3" lengthAdjust="spacingAndGlyphs">c,GE</text>
<text x="262.0" y="491.5" font-size="9.5" textLength="61.5" lengthAdjust="spacingAndGlyphs" fill="#1a1a1a">= 0.6, q = 0.2</text>
<path d="M437.5 445.2V620.6M478.5 445.2V620.6M519.5 445.2V620.6M559.5 445.2V620.6M600.5 445.2V620.6M641.5 445.2V620.6M682.5 445.2V620.6M396.5 585.5H690.6M396.5 550.5H690.6M396.5 515.5H690.6M396.5 480.5H690.6" stroke="#000" stroke-opacity=".33" stroke-width=".8" stroke-dasharray="1 2" fill="none"/>
<g clip-path="url(#cf)" fill="none">
<path d="M396.5 478.6l.4 .1 .4 .6 .4 1.1 .4 .4 .4 1.1 .5-.3 .4 .9 .4 .5 .4 .7 .4 .4 .4-.2 .4 .5 .4 .4 .4 0 .4 .3 .4 .2 .4 .4 .5 0 .4 .2 .4 .1 .4 .1 .4 .6 .4-.1 .4 1.5 .4-1.1 .4 .7 .4 .5 .4-.7 .4 .8 .5 .1 .4 0 .4-.8 .4 1.5 .4 .1 .4-.7 .4 .2 .4-.1 .4 1 .4-.1 .4-.6 .4 .9 .5-.2 .4 .5 .4 0 .4-.3 .4 .5 .4-.2 .4 1.2 .4-.4 .4 .4 .4-.1 .4 .3 .4 .2 .5 .2 .4 .1 .4-.5 .4 1 .4 .6 .4-.3 .4-.2 .4 .6 .4 .3 .4 0 .4-.2 .5 .3 .4 0 .4 .7 .4-.9 .4 .5 .4 .5 .4 .7 .4-.5 .4 0 .4 .3 .4 .2 .4-.4 .5 1 .4-.1 .4 .3 .4-.1 .4-.2 .4-.1 .4 1.1 .4-.1 .4-.2 .4 .5 .4 .6 .4-.2 .5 .7 .4 .2 .4 0 .4 .9 .4 .2 .4-.4 .4 4.7 .4 11.2 .4 18.1 .4 23.1 .4 27.3 .4 20.4 .5 9.9 .4 4.9 .4 1.2 .4 .3 .4-.6 .4-.3 .4 .6 .4 .1 .4-.7 .4 1.1 .4 .2 .4-.7 .5 .1 .4-.2 .4 .2 .4-.3 .4 .3 .4-.6 .4 .9 .4-.3 .4 .1 .4-.3 .4 0 .5-.3 .4 .3 .4 .2 .4-.5 .4 .2 .4 .1 .4 .6 .4-.6 .4-.7 .4 .9 .4 .1 .4-.8 .5 .9 .4-.8 .4-2.3 .4-2.5 .4-3.9 .4-4.1 .4-4.8 .4-4.7 .4-5.9 .4-4.4 .4-4.8 .4-4 .5-2.9 .4-2.4 .4-3.1 .4-1.3 .4-1.5 .4 .5 .4-1.9 .4-.5 .4-1.3 .4-1.3 .4-1.1 .4 0 .5-1.2 .4-1.2 .4-1.2 .4-.5 .4-1.7 .4 .1 .4-.6 .4 .3 .4-.1 .4 .5 .4 1 .4 .9 .5 1.2 .4 .4 .4 .3 .4-.3 .4 .9 .4 .8 .4 .2 .4 .3 .4 .6 .4 2.2 .4-.5 .5 2.3 .4-1.1 .4 .3 .4 .6 .4 .3 .4 .1 .4-.1 .4 .2 .4 1.7 .4 0 .4 .4 .4-1.1 .5 .4 .4 0 .4-.8 .4-.2 .4-.8 .4-.1 .4 0 .4 .3 .4-.6 .4-.5 .4 .1 .4-.9 .5-.4 .4-1.4 .4-.9 .4-.9 .4-1.5 .4-.5 .4-1.4 .4-.3 .4-1.9 .4 1 .4 0 .4-1.3 .5-.7 .4 .3 .4-.5 .4-.8 .4 .6 .4-1.8 .4 1.1 .4 .8 .4 .9 .4-.9 .4 .9 .4 .9 .5-.4 .4 1.1 .4-1 .4 .4 .4 .9 .4 .4 .4-.2 .4 2.7 .4 0 .4 .1 .4 1 .5 .3 .4 .4 .4-.3 .4 .5 .4-.8 .4 .2 .4 .4 .4 .5 .4-1.4 .4 0 .4 .9 .4 .1 .5 .7 .4 .4 .4-.4 .4-.1 .4 1.1 .4-.4 .4-.2 .4 .3 .4 .4 .4-.7 .4-.3 .4 .2 .5 .7 .4 .9 .4-1 .4 1.9 .4-.5 .4 1.3 .4 .4 .4-.2 .4 1.4 .4-.4 .4 .8 .4 .4 .5 .9 .4 .3 .4-.4 .4 .4 .4 .2 .4 .1 .4 .3 .4 .6 .4 .3 .4-1.2 .4-.1 .4 .8 .5 .1 .4 2 .4-.9 .4-.7 .4 .8 .4 1.1 .4 .6 .4-.3 .4 0 .4-.7 .4 1.2 .5 .8 .4-.1 .4-.9 .4-1.1 .4-.2 .4-.2 .4 0 .4-1.1 .4 1.1 .4-1.4 .4-.5 .4 .8 .5-.3 .4-.9 .4 .9 .4-.2 .4-.9 .4 .3 .4 .2 .4-.4 .4 .2 .4 .1 .4-.1 .4 .2 .5-.6 .4 1 .4-1.2 .4 1.4 .4-1.4 .4 .8 .4-.8 .4-.7 .4 .1 .4 0 .4-.7 .4 .3 .5 1.5 .4-1.4 .4-.3 .4-.1 .4-.2 .4-.6 .4 .4 .4 0 .4-1.5 .4 1.3 .4 .5 .4 1.3 .5-2.1 .4 .1 .4-.4 .4 .7 .4-.8 .4-.7 .4-.8 .4-.3 .4 0 .4 .5 .4-.1 .4 1 .5-.3 .4 .3 .4-.1 .4-.3 .4 0 .4-.3 .4-.3 .4-.6 .4-.3 .4-1.2 .4-.3 .5 .6 .4-.5 .4-.4 .4-.3 .4-1 .4 1.9 .4-.1 .4-.6 .4 .1 .4-.3 .4-.4 .4 0 .5 .1 .4-.7 .4 1 .4-.9 .4 1 .4 .5 .4-.1 .4 .4 .4-.4 .4 .4 .4-.7 .4 1 .5-1 .4-.1 .4-.5 .4 .3 .4 .3 .4-1 .4 .6 .4 .4 .4 1.5 .4 .7 .4 1.2 .4-.4 .5 .1 .4 .6 .4 .9 .4-.2 .4-1.9 .4-.3 .4-.3 .4-.8 .4 .7 .4-1 .4 .3 .4 0 .5 .7 .4 1.1 .4 .4 .4-.2 .4-.6 .4 .2 .4-.5 .4 1 .4-.5 .4-1.2 .4-1.2 .5 1.1 .4 .1 .4 .7 .4 .6 .4-.7 .4-.3 .4 0 .4 .8 .4-.8 .4-.2 .4 .6 .4-.8 .5 .5 .4-.6 .4-.8 .4 .1 .4 .1 .4 0 .4-1.4 .4 1.4 .4 .4 .4 .3 .4-.4 .4 .3 .5 .7 .4-.3 .4 .5 .4 .1 .4 .1 .4 .4 .4-1 .4-.4 .4-1 .4 .7 .4 .4 .4 .4 .5-.7 .4 .4 .4-.2 .4-.3 .4 .9 .4-.2 .4 .4 .4-.9 .4 .2 .4 .2 .4 .1 .4 .2 .5 .2 .4 .1 .4-.2 .4-1.1 .4 .6 .4 .2 .4 0 .4 .3 .4-.6 .4-.3 .4 .4 .5-.5 .4-.3 .4 .7 .4-.1 .4 .4 .4 .4 .4-.9 .4-.1 .4 .9 .4-.3 .4 .4 .4 .8 .5-.1 .4-.7 .4 .1 .4 0 .4 .8 .4-.5 .4-.3 .4-.3 .4-.3 .4-1.9 .4 1.4 .4 .9 .5 .5 .4-.2 .4 .7 .4-.6 .4 .5 .4 .6 .4-.5 .4-.2 .4-.9 .4 0 .4-.5 .4 1.3 .5 .8 .4-.8 .4 .9 .4 .1 .4-.4 .4 1.2 .4-.2 .4-.8 .4-.7 .4-.4 .4-.2 .4 1 .5-.6 .4 0 .4 0 .4-.5 .4-.3 .4 .4 .4-1.1 .4 1 .4-.4 .4 .6 .4-.1 .5 .5 .4 .4 .4 .8 .4 .2 .4-.5 .4-.4 .4 .6 .4-.7 .4 .3 .4-.2 .4-.4 .4-.1 .5-1.1 .4 .5 .4-.2 .4-1.2 .4-.5 .4 1.8 .4-.2 .4 .9 .4-.1 .4 .4 .4-.6 .4 .7 .5-1.2 .4-.6 .4-.1 .4-.8 .4 .5 .4 .1 .4 .9 .4 .9 .4-.5 .4-.5 .4-.1 .4 .3 .5 .5 .4-.4 .4-.2 .4 1.6 .4-.4 .4 .1 .4 .7 .4-.2 .4 .5 .4-1.8 .4 1.1 .4-1.6 .5 .6 .4 .7 .4-1.3 .4-.3 .4 .6 .4-.4 .4-.3 .4 .2 .4-.8 .4 1.2 .4-.1 .5-.1 .4 .2 .4 1.4 .4 0 .4 .3 .4-.7 .4-.5 .4 .3 .4-.5 .4 .4 .4-.3 .4 .7 .5-.1 .4-.9 .4-.2 .4 .9 .4-1.1 .4 .5 .4 .1 .4-.5 .4 0 .4 .3 .4-.2 .4 .5 .5 .4 .4-.1 .4 .7 .4-.6 .4-.1 .4 0 .4 .3 .4 1 .4 .4 .4 .7 .4-.5 .4 .3 .5-.7 .4 .3 .4-.4 .4-1.9 .4-1 .4 .4 .4 .3 .4 0 .4 .1 .4-.5 .4 .6 .4-.2 .5 .8 .4 0 .4 0 .4 .2 .4-1.3 .4 .8 .4 .9 .4 .4 .4-.8 .4-.9 .4 1.3 .5-1.4 .4 .6 .4-1 .4-.6 .4 .8 .4 0 .4 .1 .4-.1 .4 .9 .4-.1 .4-.5 .4-1 .5 .6 .4 .1 .4-1.4 .4 1 .4 .5 .4 .6 .4 1.1 .4-.1 .4-.2 .4 1.6 .4 .9 .4-.5 .5 .1 .4-.7 .4-.3 .4-1.5 .4 .1 .4-.2 .4-.3 .4-.3 .4 1.9 .4-.8 .4-.2 .4 1 .5-.4 .4 .4 .4-2.1 .4 .4 .4-.7 .4 .2 .4-.7 .4-.5 .4 0 .4-.4 .4 1.5 .4-.6 .5 1.8 .4 0 .4 .2 .4-.4 .4-.3 .4-.4" stroke="#000" stroke-width="1.6"/>
<path d="M396.5 479.9l.2-1.4 .1 .7 .2 3.1 .2 .2 .1 .6 .2-3.2 .1 2 .2 .3 .2-3 .1 .6 .2 3.4 .2-1.3 .1 3.3 .2 3.1 .2-4.2 .1 .5 .2-.7 .1-.3 .2 2.1 .2-1.3 .1 2.1 .2-2.8 .2 3.4 .1-.9 .2-.6 .1 .6 .2-4.2 .2 3 .1 1.3 .2 .1 .2 .6 .1 1.2 .2-4.5 .2 2.1 .1 .8 .2-1.5 .1-2.7 .2 3.4 .2-.7 .1-3.5 .2 4.6 .2-1.2 .1-.2 .2 .8 .2-.7 .1 2.4 .2-2.7 .1 5 .2-2.5 .2 2.3 .1-2.1 .2-2.1 .2 1 .1-1.3 .2-4.4 .1 7.6 .2-3.2 .2 1.8 .1-.8 .2 .5 .2-.7 .1-1.9 .2 2.7 .2 .1 .1 1.6 .2-.5 .1-1.9 .2 .1 .2 1 .1 .6 .2-1.5 .2-.2 .1 3.1 .2-3.5 .2 3.9 .1-2.7 .2-.1 .1-.3 .2 1.6 .2 1.5 .1-2.1 .2 2.2 .2-3.8 .1 .7 .2 1 .2-.3 .1-1.5 .2-.8 .1 1.4 .2 1.5 .2 1.1 .1-2.9 .2 1.1 .2 .7 .1 2.3 .2 1 .1-.8 .2-1.3 .2-2.7 .1 3.8 .2 3 .2-3.9 .1 0 .2-2.2 .2 3.4 .1-.3 .2 1.8 .1-3 .2 3.4 .2-1.7 .1-.3 .2-1.8 .2-1.5 .1 2.9 .2 1.5 .2-1.6 .1 1.8 .2-3.6 .1-1.4 .2 5.3 .2-2.1 .1 1.7 .2-2.4 .2 1.1 .1-.3 .2 1.7 .2-1.6 .1 1.7 .2 3.3 .1-3.5 .2 1.1 .2-2.9 .1 2.1 .2 2 .2 2.5 .1-1.1 .2-3.8 .1 .6 .2-1.4 .2 3.9 .1-3.4 .2 .6 .2 1.8 .1-1.6 .2 2.7 .2-3.6 .1 3.2 .2-6.1 .1 6.6 .2-6.3 .2-1.7 .1 3.2 .2 .2 .2 2 .1-1.1 .2-4.3 .2-.8 .1 2.7 .2-.3 .1-3.2 .2 2.9 .2-.1 .1-.7 .2 .2 .2 .8 .1-3.3 .2 .2 .1 3.6 .2-2.3 .2-2.3 .1 4.6 .2-4.3 .2-1.4 .1 .3 .2 .4 .2 1 .1-1.8 .2 .9 .1-3.3 .2-2 .2-.1 .1 1.9 .2-2.9 .2 .2 .1 1.5 .2-2.1 .2 1.2 .1 3.3 .2-3.8 .1 3.7 .2 4.3 .2-6.8 .1 4.6 .2 .1 .2 2.3 .1 .1 .2 6.2 .2-4 .1 1.6 .2-.6 .1 2.8 .2 .3 .2 .5 .1-1.5 .2 1.8 .2 1.4 .1 1.6 .2-2.5 .1-.8 .2 2.6 .2-.9 .1-3.1 .2-.4 .2 2.7 .1-1.7 .2 2.5 .2-2.6 .1-2.2 .2 3.2 .1-2.7 .2 1.9 .2 1.8 .1-.9 .2 2.1 .2 2.3 .1 .5 .2-1.3 .2 2.2 .1-2.4 .2-1.4 .1-.4 .2 3.5 .2-2.8 .1 1.1 .2-2.6 .2-1.5 .1-1.7 .2-.1 .1 2.6 .2 .1 .2-2 .1 5.4 .2-2.8 .2 2.4 .1 1.7 .2 .7 .2 .2 .1-2.8 .2 .1 .1-2.7 .2 3.1 .2-2.3 .1-1.2 .2 0 .2 .5 .1-.1 .2 1.2 .2-7.7 .1 1 .2 2.7 .1-1.3 .2 3.3 .2 1.4 .1 1.8 .2-1.1 .2 .2 .1-.3 .2 2.7 .2 1.6 .1 .1 .2-2.1 .1-.5 .2-.6 .2-1.9 .1-.7 .2-3.1 .2-1.3 .1-1.6 .2 5.3 .1-2.5 .2 3 .2 .8 .1-3.1 .2 1.7 .2-.6 .1 4.9 .2-1.4 .2 .3 .1 9.1 .2-3.4 .1 .2 .2 1.9 .2-1 .1 7.5 .2-.1 .2 .5 .1 2.2 .2 .2 .2 2.1 .1 3.9 .2 .6 .1 .8 .2 1.7 .2 2.5 .1 2.2 .2 4.6 .2-.7 .1 3.6 .2 2.4 .2 3.9 .1 2.8 .2 1.5 .1 2.4 .2 3.4 .2 4.3 .1 2.2 .2 4 .2 3.8 .1-.8 .2 7 .1 3 .2 1.3 .2 4 .1 3.9 .2 3.3 .2 1.8 .1 4.1 .2-2.8 .2 2.1 .1 6.3 .2-3.7 .1 6 .2-.8 .2 2.4 .1 3.6 .2 .7 .2 1 .1 2.1 .2 5.9 .2 .4 .1-8.3 .2-4.2 .1-7.1 .2-7.4 .2-1 .1-10.4 .2-1.4 .2-5.9 .1-7.7 .2-3 .1-12.3 .2-.8 .2-9.9 .1 3.7 .2-4.1 .2-10.5 .1-1.5 .2-1.2 .2-3.8 .1-4.7 .2-3.9 .1-2.4 .2-6.1 .2-.6 .1-5.8 .2-.5 .2-5.5 .1-1.3 .2-2.9 .2-5.9 .1 5.5 .2 9.5 .1 3 .2 8.4 .2 5.2 .1 6.7 .2 6.5 .2 9.8 .1 1.7 .2 6.9 .2 8.1 .1 7.3 .2 .9 .1 5.8 .2 5.4 .2 3.5 .1 1 .2 3.8 .2 5.8 .1 5.9 .2 3.2 .1 3.6 .2 4 .2 3.3 .1 3.4 .2 2.5 .2 7.5 .1-6 .2-6.1 .2-4.9 .1-.6 .2-13.1 .1-5.2 .2-8.5 .2-7.2 .1-3.7 .2-10.4 .2-3.7 .1-6.4 .2-10.3 .2-4.7 .1-4.1 .2-2.1 .1-3 .2-5.7 .2-2.5 .1-4.6 .2-5 .2-6.3 .1-.1 .2-4.7 .2-4.1 .1-.2 .2 5.9 .1 4.6 .2 10.4 .2 7.5 .1 7.3 .2 4.9 .2 7.4 .1 7.7 .2 5.9 .1 7.9 .2 5.9 .2 5.2 .1-4 .2-12.1 .2-5.9 .1-11.3 .2-5.8 .2-8.3 .1-12 .2-6.9 .1-6.5 .2-10.9 .2 4.4 .1 9 .2 6 .2 2.7 .1 8.9 .2 8.2 .2 3.3 .1 9.5 .2 1.6 .1 7.2 .2 10.4 .2 3.7 .1 5.2 .2 5.4 .2 2.9 .1 .3 .2 4.7 .1 4.9 .2 1.7 .2 9.9 .1-1.7 .2 2.7 .2-2.4 .1-1.2 .2-7 .2-1.6 .1-6.5 .2-5.7 .1-4 .2-7.9 .2-2.3 .1-4.9 .2-7.5 .2-1.6 .1-6.6 .2-1.2 .2-5 .1-1.9 .2 7.9 .1 2.4 .2 9.4 .2 6 .1 5.4 .2 6 .2 10.3 .1 3.6 .2 5.7 .2 8.6 .1 2.7 .2 7.3 .1-1.5 .2-7.4 .2-7.7 .1-2.8 .2-2.2 .2-4.7 .1-6.5 .2-1.4 .1-6.1 .2-3.4 .2-4.7 .1-7.3 .2-6.5 .2-1.5 .1-3.6 .2-.7 .2-4.1 .1-6.2 .2-6.1 .1 .3 .2-2.7 .2-3.4 .1-6.7 .2-1.9 .2-2.8 .1-6 .2-1.2 .2 1.5 .1 3.9 .2 13 .1 3.9 .2 11.6 .2 8.2 .1 7.6 .2 6.9 .2 8.4 .1 7 .2 3.9 .1 9.7 .2 10.1 .2 2.9 .1 1.7 .2 1.1 .2 4.9 .1 3.8 .2 0 .2 7.1 .1 2.7 .2 1.1 .1 4.8 .2-6.1 .2-8.9 .1-4.6 .2-5.3 .2-5.2 .1-7.9 .2 1 .2-7.3 .1-6.7 .2-4.4 .1-7.9 .2-6.3 .2-2.2 .1-6 .2-3.5 .2-6 .1-2.9 .2-4.6 .2-5.5 .1-2.6 .2-2.8 .1-10.4 .2-1.9 .2-2.7 .1-6.4 .2-4.5 .2-1.9 .1-.7 .2 6.8 .1 4.8 .2 3.9 .2 2.5 .1 7.9 .2 3.5 .2 7.1 .1 6.8 .2 2.9 .2 6.1 .1 4.5 .2 3.1 .1-4.6 .2-5.6 .2-1.2 .1-6.3 .2-5.4 .2-5.6 .1-2.1 .2-4.6 .2-6.6 .1-1.2 .2 4.9 .1 6.7 .2 2.8 .2 7.8 .1 4.7 .2 8.1 .2 2.7 .1 10.3 .2 8 .2 4.9 .1 2.9 .2 6.6 .1 4 .2 9.6 .2 7.2 .1-5.6 .2-7.1 .2-1.4 .1-7.1 .2-8 .1-5.4 .2-5.1 .2-3.1 .1-5.8 .2-1.9 .2-7.8 .1-7.8 .2-2.7 .2-3.6 .1-4.2 .2 .2 .1-4.2 .2-6.3 .2-2.9 .1-4.8 .2-.6 .2-3.7 .1-2.2 .2 3.6 .2 4.8 .1 1.8 .2 7.2 .1 1.6 .2 3.9 .2 .4 .1 4.4 .2 5.4 .2 .2 .1-1.8 .2-4.3 .1-2.4 .2-5.2 .2 .3 .1-4.9 .2-3.4 .2-3.2 .1-6.1 .2 0 .2-6.1 .1 2.6 .2-3.6 .1-4.2 .2-.2 .2 2.9 .1-2.5 .2-1.4 .2-4 .1 4 .2-4.9 .2 1.1 .1-1.1 .2 2.9 .1-3.2 .2-2.5 .2-.8" stroke="#00f" stroke-width="1.15" stroke-dasharray="4.8 3"/>
<path d="M443.9 499.9l.1 3.5 .2-.3 .2 .5 .1 3.4 .2-2.8 .2 2.6 .1-1 .2 4 .2-1.2 .1 4.3 .2 .7 .1 1.5 .2 1.3 .2 1.6 .1-2 .2 5.1 .2-2.5 .1 3.9 .2 3.5 .2-.7 .1 2.8 .2-.9 .1 2.5 .2 2.8 .2 2.5 .1 0 .2 4.9 .2 1 .1 5 .2 1.2 .1 1 .2 3.4 .2 6.1 .1 3.3 .2 .1 .2 2.9 .1 3.7 .2-1.2 .2 4.3 .1 2.2 .2 4.3 .1 2.4 .2 0 .2 2.5 .1 .4 .2 3.2 .2 2.1 .1-1.1 .2 4.8 .2 .5 .1 3.6 .2-2.9 .1 5.9 .2-2.1 .2 3 .1 3.7 .2-1.3 .2 .4 .1-7.3 .2-4.1 .1-6.4 .2-1 .2-4.1 .1-9.5 .2-2.1 .2-5.3 .1-2.9 .2-5.8 .2-7.4 .1-4.5 .2-1.5 .1-3.6 .2-4.4 .2-.3 .1-6.7 .2 4 .2-6.7 .1-3 .2-4.5 .2-3.2 .1-1.8 .2-4.6 .1 1 .2-3 .2-5.5 .1-3.9 .2-3.2 .2 2 .1 4.2 .2 11 .2-.7 .1 9.1 .2 4.4 .1 5.9 .2 5.5 .2 3 .1 8.2 .2 2.2 .2 3.9 .1 7.4 .2 2.9 .1 1.3 .2 6.5 .2 2.7 .1 5 .2 1.5 .2 6.2 .1-4.5 .2 7.4 .2 4.2 .1 6.2 .2 .1 .1 1.7 .2 5.8 .2 1.9 .1-1.7 .2-9.5 .2-5.5 .1-7.1 .2-2.5 .2-10.3 .1-2.4 .2-5.3 .1-7.9 .2-5.4 .2-4.4 .1-6.8 .2-4.5 .2 1.9 .1-9.8 .2-3.2 .2-3.8 .1-3.9 .2-1.4 .1-4.5 .2 .2 .2-8.7 .1-.1 .2-5.9 .2-3.9 .1 7.8 .2 8 .1 .1 .2 7.9 .2 8.4 .1 6 .2 4.6 .2 6 .1 7.4 .2 8 .2 2.8 .1 4.3 .2 3.5 .1-11.7 .2-7 .2-8.9 .1-3 .2-10.1 .2-6.9 .1-6.4 .2-8.8 .2-7 .1-1.9 .2 6 .1 6.4 .2 5.3 .2 5.8 .1 4.5 .2 6 .2 6.8 .1 6.7 .2-.6 .1 6.9 .2 7.6 .2 4.4 .1 2.7 .2 2.4 .2 2.3 .1 3.6 .2 1.3 .2 5.7 .1 3.6 .2-.7 .1 6.2 .2 2.3 .2-5 .1-3.2 .2-4.8 .2-6.9 .1-3 .2-5.6 .2-2.6 .1-2.1 .2-5.2 .1-4.6 .2-2.8 .2-4.3 .1-4.6 .2-2.8 .2-4.3 .1 6.1 .2 2.7 .2 5.3 .1 6.2 .2 5.4 .1 7.7 .2 4.8 .2 1.1 .1 10.2 .2 3.7 .2 2.3 .1 6.2 .2-.3 .1-3.2 .2-4.5 .2 .3 .1-4.8 .2-3.6 .2-7 .1-5.6 .2-1.5 .2-.9 .1-8.1 .2 1.5 .1-7.2 .2-3.3 .2-1.9 .1-2.8 .2-1.8 .2-5.2 .1-2.6 .2-3.7 .2 0 .1-1.6 .2-9.9 .1-.3 .2-.8 .2-3.8 .1-4.9 .2-6.9 .2 9.8 .1 5.5 .2 11.2 .1 4.7 .2 7 .2 4.9 .1 5.1 .2 10.7 .2 .8 .1 12.8 .2 4.2 .2 8.4 .1 1.4 .2 5.6 .1 .9 .2 3.3 .2 .8 .1 5.2 .2-1.7 .2 4.9 .1 4.9 .2-.5 .2 .5 .1-7.8 .2-3 .1-3.7 .2-3.6 .2-5.4 .1-6.1 .2-6 .2-2.8 .1-5.2 .2-1.6 .2-5.7 .1-4.4 .2-7.1 .1-1.9 .2-6.4 .2-2.3 .1-5 .2-2.5 .2-4.1 .1-4.8 .2-5.2 .1 .9 .2-4.7 .2-5.2 .1-2.4 .2-3.9 .2-5.3 .1 9.4 .2 2.6 .2 2.3 .1 4.9 .2 5.8 .1 1.1 .2 7.7 .2-.7 .1 10.9 .2 2.5 .2 .6 .1 5.4 .2-1.5 .2-3.2 .1-5.2 .2-1 .1-3.7 .2-2.2 .2-8.7 .1-.7 .2-1.3 .2-3.9 .1-2.3 .2 3.9 .2 6.2 .1 9.1 .2 3.7 .1 2.4 .2 6.6 .2 4.2 .1 5.8 .2 4.1 .2 8.6 .1 4.9 .2 2.9 .1 5.9 .2 6.4 .2-2.3 .1-6.8 .2-3.7 .2-.6 .1-2.5 .2-8.1 .2-2.5 .1-4.4 .2-3.2 .1-5.9 .2-5.3 .2-2.9 .1-4.5 .2-4.3 .2-2.6 .1-3 .2-5.8 .2 1.3 .1-6.4 .2-3.4 .1-3.1 .2-2.7 .2 2.2 .1 1.2 .2 .5 .2 5.1 .1 1 .2 3.3 .1-.9 .2 7.5 .2 1.3 .1 4.8 .2 4 .2-2 .1-4 .2-6 .2-2.5 .1-.6 .2-2.6 .1-3.1 .2 0 .2-4.8 .1-3.9 .2-2.4 .2 1.8 .1-8.8 .2 2.4 .2-2.7 .1 2.8 .2-1.6 .1 2.2 .2-3.9 .2 .8" stroke="#00f" stroke-width="1.15" stroke-dasharray="4.8 3" stroke-dashoffset="2"/>
<path d="M396.5 478l.4 1.1 .4 .7 .4 .6 .4 .6 .4 1 .5-.4 .4 .5 .4 .9 .4 .9 .4 .1 .4-.7 .4 .7 .4 .3 .4 1.2 .4-.8 .4 .1 .4 .5 .5 .7 .4-.2 .4-.2 .4 .6 .4 .3 .4-.4 .4 .7 .4 .6 .4 0 .4 .4 .4-.2 .4 .2 .5 .8 .4 0 .4-.5 .4-.1 .4 .8 .4 0 .4-.4 .4 .5 .4 0 .4 .7 .4-.6 .4 .7 .5 .1 .4 .2 .4 0 .4 1.1 .4-.9 .4 .8 .4 0 .4 0 .4-.3 .4 .6 .4 .4 .4 0 .5 0 .4 .3 .4-.3 .4 .5 .4 .5 .4-.1 .4 .2 .4 .3 .4 .1 .4 0 .4 .4 .5 .3 .4-.1 .4-.1 .4 .1 .4 .7 .4 0 .4 .1 .4-.1 .4 .4 .4-.3 .4 .7 .4 .3 .5 .1 .4-.5 .4 1 .4 0 .4 .5 .4-.1 .4-.2 .4 .7 .4-.2 .4-.2 .4 .9 .4-.3 .5 .6 .4 0 .4 .5 .4 .2 .4 .3 .4 .5 .4 4.5 .4 11.3 .4 17.7 .4 23.5 .4 26.1 .4 20.8 .5 10.7 .4 4.2 .4 1.1 .4 0 .4 .3 .4-.3 .4-.1 .4 .4 .4-.2 .4 .5 .4-.1 .4-.4 .5 .5 .4 .1 .4-.8 .4 .7 .4-.5 .4 .1 .4 .3 .4 0 .4-.4 .4-.1 .4 .6 .5 .3 .4-.1 .4-.2 .4-.8 .4 1.1 .4-1 .4 1 .4 .2 .4-.9 .4-.4 .4 .1 .4 .5 .5-.3 .4-.8 .4-1 .4-3.5 .4-4 .4-3.8 .4-4.9 .4-4.8 .4-5.7 .4-5.8 .4-2.3 .4-5.3 .5-2 .4-3.6 .4-2.7 .4-2.4 .4-.4 .4 0 .4-1.3 .4-.7 .4-.3 .4-1.9 .4-1.9 .4 .4 .5-.8 .4-2.3 .4 0 .4-1.5 .4-.8 .4-.6 .4 0 .4 .1 .4-.7 .4 1.2 .4 1.5 .4 .1 .5 1.3 .4 .7 .4-.1 .4 .1 .4 1 .4 .7 .4 .4 .4 .6 .4-.5 .4 2.6 .4 .9 .5 .5 .4 .2 .4 .1 .4 .3 .4-.5 .4 .8 .4-.6 .4-.3 .4 1.3 .4 .2 .4 .8 .4-.4 .5 .7 .4-.2 .4-1.5 .4 .2 .4-.2 .4-.5 .4 .5 .4-.9 .4-.3 .4 0 .4-.1 .4-.9 .5-.6 .4-1.8 .4-.7 .4-.5 .4-1.6 .4-1.4 .4-.1 .4-.3 .4-1.8 .4 1.1 .4-1 .4-1.1 .5 0 .4-.7 .4 .3 .4-1.3 .4 .4 .4-.6 .4-.2 .4 1.4 .4-.4 .4 1.3 .4-.1 .4 1.4 .5-1.4 .4 1.7 .4-.6 .4 0 .4 .9 .4 0 .4 1.2 .4 0 .4 1.7 .4 .5 .4 .7 .5 .3 .4 .2 .4-.1 .4 0 .4-.1 .4-.4 .4 .7 .4-.4 .4-.3 .4 .2 .4 .4 .4-.5 .5 1.4 .4 .8 .4-.2 .4-.8 .4 1 .4 0 .4-.2 .4 .4 .4 .7 .4-2 .4 0 .4 1.1 .5 .1 .4 .6 .4 .2 .4 .6 .4-.3 .4 1 .4 .8 .4-.1 .4 1.4 .4-.1 .4 1.1 .4 0 .5 .7 .4 .1 .4-.4 .4 1.5 .4-.7 .4-.5 .4 1.9 .4-.1 .4 .3 .4-1.3 .4 .3 .4 .6 .5-.8 .4 2.3 .4-.8 .4 .3 .4 .2 .4 .4 .4 1.2 .4-.3 .4-.1 .4-.4 .4 .6 .5 1.1 .4-.4 .4-1.1 .4-1.1 .4-.2 .4 .3 .4 .2 .4-1.6 .4 .9 .4-.8 .4 .3 .4-.2 .5-.7 .4 .5 .4 .2 .4-.3 .4-1.1 .4 .7 .4 .5 .4-1 .4-.1 .4 0 .4 .9 .4-.1 .5-.5 .4-.3 .4 .4 .4-.1 .4 .3 .4-.5 .4-.3 .4-1.4 .4-.4 .4 .9 .4 .3 .4-.3 .5 1.7 .4-1.7 .4-.1 .4-.6 .4 .6 .4-1.3 .4-.5 .4 1.1 .4-1.7 .4 1.2 .4 .7 .4 0 .5-1 .4 .7 .4-.9 .4-.2 .4 0 .4-.9 .4-.5 .4 .6 .4-.5 .4-.8 .4 1.6 .4 .3 .5-.2 .4 .3 .4 .5 .4-.8 .4-.6 .4 .3 .4-1 .4-.7 .4 .3 .4-1 .4-.3 .5-.2 .4 1.2 .4-1.6 .4 .2 .4-.9 .4 1.6 .4-.8 .4 0 .4 1 .4-.9 .4-.7 .4 .4 .5 .4 .4-2 .4 .4 .4 1 .4-.4 .4 .4 .4 1.7 .4-.4 .4-1 .4 .7 .4 .3 .4-.4 .5-.4 .4 0 .4-1.1 .4 .4 .4 .2 .4-.8 .4 1.1 .4-.1 .4 1.5 .4 .9 .4 .8 .4 .2 .5 .1 .4 1.4 .4-1.3 .4-.5 .4-.5 .4-.9 .4 .5 .4-1.2 .4 .2 .4-.1 .4 .4 .4-.1 .5 1.1 .4 1.1 .4-.2 .4 .2 .4-.5 .4-.3 .4-.1 .4 0 .4-.4 .4-.9 .4-.1 .5-.3 .4 .8 .4 1.1 .4-.4 .4-.5 .4-.3 .4 .5 .4 .1 .4-.3 .4-.3 .4 .6 .4-1.5 .5 1.1 .4-.5 .4 .3 .4-.6 .4-.8 .4 .1 .4-.9 .4 1.5 .4 .9 .4-.7 .4-.3 .4 .7 .5 .5 .4 .8 .4-1.1 .4 .3 .4 .1 .4 .8 .4-.4 .4-1.3 .4-.4 .4 .3 .4 .2 .4-.2 .5 .1 .4-.4 .4 0 .4 1 .4 .5 .4-.6 .4 .4 .4-.5 .4 .1 .4 0 .4-.1 .4-.3 .5 .8 .4 .4 .4-.5 .4 .1 .4-.3 .4 .1 .4-.6 .4 .9 .4-.3 .4-1.4 .4 1.1 .5 .2 .4 0 .4-.5 .4-.1 .4-.3 .4 .7 .4 .4 .4-.5 .4 1.6 .4-.6 .4-.2 .4 .6 .5 .1 .4-.1 .4-1.2 .4 .6 .4 .2 .4-.3 .4 .2 .4-2.1 .4 1.2 .4-.6 .4 .5 .4 .1 .5 .6 .4 .1 .4 .8 .4-.1 .4 .4 .4 0 .4 .1 .4-1.1 .4-.5 .4 .5 .4-.7 .4 1.8 .5 .6 .4-.7 .4 .1 .4 .6 .4 .3 .4 .1 .4-.3 .4-.1 .4-1.5 .4 .5 .4-1.1 .4 .8 .5 .7 .4-.7 .4 .5 .4-.8 .4-.7 .4-.1 .4 1.1 .4-.8 .4-.7 .4 1.6 .4-.5 .5 .3 .4 1.1 .4 .7 .4-1 .4 1.1 .4-1.3 .4 1.1 .4-.7 .4 .1 .4-.1 .4-1.4 .4 .5 .5-1.3 .4 .5 .4-1.3 .4 .7 .4 .4 .4-.9 .4 1.7 .4-.1 .4 .1 .4 .4 .4-.7 .4 .5 .5-.5 .4-.4 .4-1.1 .4 .2 .4 .1 .4 .2 .4 .8 .4 .6 .4-.6 .4-.5 .4 .4 .4 1 .5-.2 .4-.3 .4-.5 .4 .7 .4 1.1 .4 0 .4 .9 .4-1.5 .4 .6 .4-.1 .4-.4 .4-1.1 .5 .7 .4-.1 .4-1 .4 1.2 .4-.2 .4 .1 .4-.7 .4-.7 .4 .2 .4 .5 .4-.8 .5 .7 .4 .4 .4 1 .4 .3 .4-.5 .4-.2 .4-.3 .4 0 .4-.1 .4 0 .4-1 .4 1 .5-.1 .4 .9 .4-.6 .4-.3 .4-.3 .4 .4 .4 0 .4-.3 .4-.5 .4 1.6 .4-.7 .4 0 .5 .4 .4-.2 .4-.1 .4 0 .4 .5 .4 .1 .4 0 .4 .6 .4 .4 .4 1 .4-.5 .4-.5 .5 .4 .4-.3 .4-.4 .4-1.2 .4-.3 .4-.9 .4-.1 .4 .9 .4-.5 .4 .4 .4 .4 .4-.5 .5-.3 .4 .9 .4 .9 .4-1.2 .4-.7 .4 .3 .4 1.2 .4 .3 .4-1 .4 .3 .4 .2 .5-1.5 .4 .6 .4-.4 .4-.2 .4-.5 .4 1.7 .4 .1 .4-.6 .4-.6 .4 1.3 .4-1.2 .4 .1 .5-.4 .4-.3 .4-1 .4 1.1 .4 .9 .4 .8 .4 .2 .4 1 .4-.6 .4 1.4 .4 1.1 .4-1.6 .5 .1 .4-1.3 .4 .8 .4-1.5 .4 .8 .4-1 .4-.8 .4 .3 .4 1.5 .4 .4 .4-1.2 .4 .2 .5 1.3 .4-.2 .4-.5 .4 .4 .4-1.1 .4-1.7 .4 .3 .4-.5 .4 .2 .4-.3 .4 .4 .4 1 .5-.4 .4 1 .4 .6 .4-.6 .4 .2 .4 .1" stroke="#f00" stroke-width="1.3"/>
</g>
<path d="M396.5 620.6v-3M396.5 445.2v3M437.3 620.6v-3M437.3 445.2v3M478.2 620.6v-3M478.2 445.2v3M519.0 620.6v-3M519.0 445.2v3M559.9 620.6v-3M559.9 445.2v3M600.7 620.6v-3M600.7 445.2v3M641.6 620.6v-3M641.6 445.2v3M682.4 620.6v-3M682.4 445.2v3M396.5 620.6h3M690.6 620.6h-3M396.5 585.5h3M690.6 585.5h-3M396.5 550.4h3M690.6 550.4h-3M396.5 515.4h3M690.6 515.4h-3M396.5 480.3h3M690.6 480.3h-3M396.5 445.2h3M690.6 445.2h-3" stroke="#222" stroke-width=".8" fill="none"/>
<rect x="396.5" y="445.2" width="294.1" height="175.4" fill="none" stroke="#333" stroke-width="1.1"/>
<g fill="#222"><text x="396.5" y="629.5" font-size="8.6" text-anchor="middle" textLength="4.18" lengthAdjust="spacingAndGlyphs">0</text><text x="437.3" y="629.5" font-size="8.6" text-anchor="middle" textLength="8.36" lengthAdjust="spacingAndGlyphs">10</text><text x="478.2" y="629.5" font-size="8.6" text-anchor="middle" textLength="8.36" lengthAdjust="spacingAndGlyphs">20</text><text x="519.0" y="629.5" font-size="8.6" text-anchor="middle" textLength="8.36" lengthAdjust="spacingAndGlyphs">30</text><text x="559.9" y="629.5" font-size="8.6" text-anchor="middle" textLength="8.36" lengthAdjust="spacingAndGlyphs">40</text><text x="600.7" y="629.5" font-size="8.6" text-anchor="middle" textLength="8.36" lengthAdjust="spacingAndGlyphs">50</text><text x="641.6" y="629.5" font-size="8.6" text-anchor="middle" textLength="8.36" lengthAdjust="spacingAndGlyphs">60</text><text x="682.4" y="629.5" font-size="8.6" text-anchor="middle" textLength="8.36" lengthAdjust="spacingAndGlyphs">70</text><text x="393.6" y="622.7" font-size="8.6" text-anchor="end" textLength="10.56" lengthAdjust="spacingAndGlyphs">0.0</text><text x="393.6" y="587.6" font-size="8.6" text-anchor="end" textLength="10.56" lengthAdjust="spacingAndGlyphs">0.2</text><text x="393.6" y="552.5" font-size="8.6" text-anchor="end" textLength="10.56" lengthAdjust="spacingAndGlyphs">0.4</text><text x="393.6" y="517.5" font-size="8.6" text-anchor="end" textLength="10.56" lengthAdjust="spacingAndGlyphs">0.6</text><text x="393.6" y="482.4" font-size="8.6" text-anchor="end" textLength="10.56" lengthAdjust="spacingAndGlyphs">0.8</text><text x="393.6" y="447.3" font-size="8.6" text-anchor="end" textLength="10.56" lengthAdjust="spacingAndGlyphs">1.0</text></g>
<text x="543.5" y="641.2" font-size="8.2" text-anchor="middle" textLength="59.8" lengthAdjust="spacingAndGlyphs" fill="#222">Time (unit: hour)</text>
<text x="543.5" y="439.8" font-size="9.4" text-anchor="middle" fill="#222">(f)</text>
<text transform="translate(377.0,532.9) rotate(-90)" x="0" y="0" font-size="8.6" text-anchor="middle" fill="#222" textLength="88.5" lengthAdjust="spacingAndGlyphs">Purge Rate (unit: kscmh)</text>
<rect x="564.2" y="449.5" width="122" height="50.0" fill="#fff" fill-opacity=".7" stroke="#222" stroke-width="1.1"/>
<path d="M570.9 457.1H583.3" stroke="#000" stroke-width=".9"/>
<text x="591.6" y="460.6" font-size="9.5" textLength="35.8" lengthAdjust="spacingAndGlyphs" fill="#1a1a1a">baseline</text>
<path d="M570.9 471.4H583.3" stroke="#00f" stroke-width=".8" stroke-dasharray="4.8 3" stroke-opacity=".75"/>
<text x="593.4" y="474.2" font-size="9.2" style="font-family:'Liberation Serif',serif;font-style:italic" fill="#222">P</text>
<text x="598.1" y="476.1" font-size="7" style="font-family:'Liberation Serif',serif;font-style:italic" fill="#555" textLength="14.3" lengthAdjust="spacingAndGlyphs">c,GE</text>
<text x="614.5" y="474.2" font-size="9.5" textLength="67.6" lengthAdjust="spacingAndGlyphs" fill="#1a1a1a">= 0.6, q = 0.09</text>
<path d="M570.9 488.8H583.3" stroke="#f00" stroke-width=".8" stroke-dasharray="4.8 3" stroke-opacity=".75"/>
<text x="593.4" y="491.5" font-size="9.2" style="font-family:'Liberation Serif',serif;font-style:italic" fill="#222">P</text>
<text x="598.1" y="493.4" font-size="7" style="font-family:'Liberation Serif',serif;font-style:italic" fill="#555" textLength="14.3" lengthAdjust="spacingAndGlyphs">c,GE</text>
<text x="614.5" y="491.5" font-size="9.5" textLength="61.5" lengthAdjust="spacingAndGlyphs" fill="#1a1a1a">= 0.6, q = 0.2</text>
<path d="M84.5 656.0V831.4M125.5 656.0V831.4M166.5 656.0V831.4M207.5 656.0V831.4M248.5 656.0V831.4M289.5 656.0V831.4M329.5 656.0V831.4M44.0 796.5H338.1M44.0 761.5H338.1M44.0 726.5H338.1M44.0 691.5H338.1" stroke="#000" stroke-opacity=".33" stroke-width=".8" stroke-dasharray="1 2" fill="none"/>
<g clip-path="url(#cg)" fill="none">
<path d="M44 750.6l.8 .1 .8 .2 .9-.1 .8 0 .8-.1 .8 0 .8 0 .8 .1 .9 0 .8-.1 .8 .1 .8-.2 .8 .2 .8 .1 .9-.1 .8 0 .8-.1 .8 0 .8 0 .8 .1 .9-.1 .8 .2 .8-.2 .8 0 .8 0 .8 .2 .9 .1 .8-.2 .8 0 .8 0 .8 0 .8-.3 .9 .3 .8-.1 .8-.1 .8 .3 .8-.1 .8 0 .9 0 .8-.1 .8-.1 .8 .1 .8-.1 .8 .2 .9 .1 .8-.3 .8 .1 .8 0 .8 .2 .8 .1 .9-.3 .8 .3 .8-.1 .8-.2 .8 .1 .8 0 .9-.2 .8 .2 .8-.1 .8 .1 .8 0 .9-.2 .8 0 .8 .2 .8-.1 .8 .1 .8 0 .9-.1 .8 .2 .8 0 .8-.1 .8-.1 .8 .2 .9-.2 .8 .2 .8 .1 .8-.1 .8-.2 .8 .1 .9 0 .8 0 .8 .2 .8-.2 .8-.2 .8 .1 .9 .1 .8-.3 .8 .3 .8-.1 .8 0 .8 .1 .9-.1 .8 0 .8 .1 .8 0 .8 .2 .8-.1 .9-.1 .8 .1 .8 0 .8-.2 .8 .2 .8-.2 .9 0 .8 .1 .8 0 .8-.1 .8-.1 .8 .3 .9 0 .8-.2 .8-.1 .8 .2 .8-.2 .8 .1 .9 .1 .8 0 .8 .1 .8-.1 .8-.1 .9 0 .8 0 .8 0 .8 .1 .8 0 .8-.2 .9 .2 .8-.1 .8 .1 .8 .1 .8-.4 .8 .3 .9 .1 .8-.2 .8 .2 .8-.1 .8-.2 .8 .1 .9 0 .8 .2 .8-.2 .8 .2 .8-.1 .8 0 .9 .1 .8-.1 .8-.1 .8-.2 .8 0 .8 .2 .9 .1 .8 0 .8-.2 .8 .2 .8 0 .8 0 .9 0 .8 0 .8 0 .8-.3 .8 .2 .8 0 .9 0 .8 .1 .8 0 .8-.1 .8 .1 .8 0 .9 0 .8-.1 .8 .2 .8-.2 .8 .1 .8-.1 .9 .3 .8-.1 .8-.1 .8-.1 .8 .1 .9 0 .8 .1 .8-.2 .8 .1 .8-.1 .8 .1 .9 0 .8-.1 .8 .2 .8-.1 .8-.2 .8 .2 .9 0 .8 0 .8-.1 .8 .2 .8-.2 .8 .5 .9-.5 .8 .1 .8-.1 .8 0 .8 .2 .8-.1 .9 .1 .8-.3 .8 .3 .8-.1 .8-.1 .8 .1 .9 0 .8 .1 .8 .1 .8 0 .8-.2 .8-.1 .9 0 .8 0 .8 .2 .8-.2 .8 .1 .8 0 .9 .1 .8-.3 .8 .2 .8-.1 .8 .1 .8-.1 .9-.3 .8 .3 .8 .1 .8-.1 .8-.1 .8 .3 .9-.2 .8 .1 .8-.1 .8 0 .8 .2 .8-.2 .9 .2 .8 0 .8-.1 .8-.1 .8 .1 .9-.2 .8 0 .8 .2 .8-.1 .8 .2 .8-.1 .9 0 .8 0 .8 0 .8-.1 .8 0 .8 .1 .9-.2 .8 .3 .8-.2 .8 0 .8 .1 .8 0 .9-.2 .8 .3 .8-.1 .8 0 .8 0 .8 .1 .9-.4 .8-.1 .8 .3 .8 .1 .8 0 .8-.1 .9 .1 .8 .1 .8-.2 .8 .2 .8-.3 .8 .3 .9 0 .8 0 .8-.1 .8 0 .8 .1 .8-.2 .9 0 .8 0 .8 .2 .8-.3 .8-.1 .8 .2 .9-.1 .8 .3 .8 0 .8-.3 .8 .2 .8 0 .9-.1 .8 .3 .8-.2 .8 0 .8-.2 .9 .1 .8 .1 .8-.2 .8-.1 .8 .2 .8 .2 .9 0 .8-.3 .8 .1 .8 .1 .8 .1 .8-.2 .9 0 .8 .2 .8-.1 .8 0 .8 .2 .8-.3 .9-.2 .8 .1 .8 .1 .8 0 .8 .1 .8 0 .9 0 .8 .1 .8-.2 .8 0 .8 .2 .8-.1 .9 0 .8 0 .8 .2 .8-.3 .8 .1 .8 0 .9 0 .8 .1 .8-.2 .8 .1 .8-.3 .8 .1 .9 .3 .8-.2 .8 .1 .8 .1 .8-.3 .8 .2 .9 0 .8-.1 .8 .1 .8-.1 .8 .1 .8-.1 .9 .1 .8-.2 .8 .2" stroke="#000" stroke-width="1.0"/>
<path d="M44 752.7l.1-8.5 .1-3.8 0 6.2 .1 12.5 .1-7.2 .1-1.8 .1-6.2 .1-.1 0 8.9 .1-9 .1 3.3 .1-1.3 .1 .1 0-8.1 .1 .8 .1-1.2 .1 2.9 .1 1.9 .1 .6 0 1.3 .1 6.5 .1 0 .1 1.8 .1-4.9 0 2.2 .1-.1 .1 4.5 .1 .2 .1-4.1 .1-.8 0 12.8 .1-5.3 .1-13.8 .1 4.2 .1-5.9 0 5.5 .1 1.6 .1 2.1 .1-18 .1 13.3 0 7.6 .1 1.9 .1 3 .1-5.6 .1 1.5 .1-7.1 0-3.6 .1-7.1 .1 5.6 .1-3.8 .1 14.5 0 1 .1 3.5 .1-5.6 .1 8.9 .1-8.4 .1-15 0 15.1 .1-4.1 .1-4.9 .1 8.7 .1 4.4 0-5.7 .1 .7 .1 1.5 .1-2.2 .1-.6 .1-1.1 0 .5 .1-3.9 .1-2.7 .1 5 .1-6.5 0 3.6 .1-3.3 .1 6 .1 9.4 .1 3.7 .1-11.7 0-5.8 .1 7.4 .1 1.9 .1 2.7 .1-.3 0-2.1 .1 3.8 .1 9.3 .1-4.4 .1-5.7 .1-5.1 0 5.5 .1-3.8 .1-5.3 .1 9.2 .1 13.4 0-16.9 .1-9.3 .1 4.7 .1-3.8 .1 3.4 .1 14.8 0-9.3 .1-1.1 .1-4.9 .1-.5 .1-1.6 0 .5 .1 7.8 .1-7.1 .1 8 .1-14.5 0 13.9 .1-2.3 .1-8.7 .1-3.1 .1 4.7 .1 .9 0-4.1 .1-2.5 .1 2.3 .1-.6 .1 3 0-2.2 .1-7.8 .1 11.6 .1 6 .1-8.1 .1 3.1 0-9.3 .1 6.4 .1 19.9 .1-2.5 .1-3.7 0 4.4 .1 5 .1-7 .1-8.8 .1-6.7 .1 5.1 0-4.8 .1 5.6 .1-5.6 .1-4.7 .1 5.1 0 5.5 .1 4.9 .1-1.1 .1-10.7 .1 6.5 .1-7.9 0 14 .1 .2 .1-9.2 .1-3.9 .1-7.6 0 8.2 .1 6.1 .1 8.6 .1-11.1 .1-6.6 .1 8.9 0 15.4 .1-4.6 .1-6.9 .1-13.7 .1 8.5 0-3.2 .1-12.4 .1 7.7 .1 3.1 .1-.5 .1-3.1 0 21.7 .1-10.1 .1-3.8 .1-3.7 .1 8.3 0-2.4 .1 9.4 .1-9.5 .1-.1 .1 10.4 .1-5.6 0-1.9 .1-12.2 .1-3.9 .1 16.4 .1-4.1 0-2.2 .1 7.1 .1 4.3 .1-5.1 .1-2.5 0 7.4 .1-10.5 .1 6.7 .1-4 .1 7.8 .1-10.2 0 2.5 .1 2.6 .1 4.6 .1-9.2 .1-.4 0 9 .1 4.9 .1-12.5 .1 6.8 .1-4.4 .1-1.8 0 1.7 .1-7.8 .1 7.5 .1-6.8 .1-.2 0 1.6 .1 4.1 .1-.1 .1 3.3 .1 1.1 .1-4.5 0-1.2 .1 3.4 .1-.2 .1-.8 .1 3.9 0-6 .1-2.4 .1 3.2 .1 4.1 .1-2.7 .1-.6 0-1.7 .1-.2 .1 2.3 .1-5.1 .1 6 0-1.6 .1 4.4 .1-1.4 .1 2.6 .1-6.2 .1 4.1 0-3.2 .1-.2 .1 4.8 .1-.5 .1-2.8 0-3.5 .1 2.4 .1 .8 .1-2.1 .1 2.1 .1 3.5 0-5.1 .1 1.2 .1 1.7 .1-.1 .1-.7 0 .2 .1 1.6 .1 2.1 .1-5.5 .1 2.3 0 .2 .1 .5 .1-1.1 .1 .5 .1-5.5 .1-1.3 0 0 .1 3.4 .1-1.4 .1 3.6 .1-.2 0 10.1 .1-4.6 .1-2.2 .1-2.3 .1-2.4 .1 1.6 0 2.5 .1 1.7 .1-2.9 .1-.6 .1-5.7 0 3.1 .1 2.4 .1 8.1 .1-4.1 .1 .1 .1-4.9 0 2.3 .1-.8 .1-1.7 .1 5.6 .1 3.3 0-4.8 .1-4.9 .1-11.3 .1 .2 .1 11.2 .1 9 0 .5 .1-19 .1 17.8 .1 11.2 .1-9.2 0-11.4 .1 11.2 .1-10.1 .1-4.4 .1 9.8 .1-6.7 0 8.1 .1 4.4 .1-20.7 .1 43.6 .1-24.8 0-1.3 .1 19.6 .1-31.7 .1 10.6 .1-1.8 .1-5.2 0-1 .1 13.7 .1-21.9 .1-11.5 .1 9.8 0 13.5 .1-8.1 .1 9.9 .1-2.5 .1 9.5 0-14.2 .1 32.6 .1-13.7 .1-9.1 .1-18.8 .1 17.9 0-18.6 .1 25.4 .1-14.4 .1 25.1 .1 4.4 0 3.5 .1-11 .1 1.7 .1 3.3 .1-13.5 .1-4.4 0 1.9 .1-4.2 .1-11.2 .1 16.3 .1-16.1 0 5.8 .1 31.9 .1 .1 .1-15.1 .1-20 .1 35.7 0 3.8 .1-34.8 .1-8.4 .1 2.1 .1 .9 0 8.6 .1-2.1 .1-2.1 .1 11.4 .1-15.5 .1 12.5 0-7.7 .1 13.6 .1 1 .1-19 .1 25.8 0-5.8 .1-20.9 .1 16.7 .1 3.9 .1-2.6 .1-3.8 0-3.7 .1 2.2 .1-2.8 .1 3.9 .1 8.7 0-11.3 .1-23.8 .1 34.4 .1-2.9 .1 .7 .1-15.5 0 43.1 .1-3.4 .1-9.1 .1-34.8 .1-13.3 0 20.1 .1 22.4 .1-6.4 .1-4.9 .1-4.5 0-19.6 .1 7.5 .1 8.5 .1-21.6 .1 14 .1 15 0-7.9 .1-16.2 .1-4 .1 45.5 .1-5.8 0-27.5 .1-8.3 .1 45.4 .1-20.8 .1-1.1 .1-8.5 0 6 .1 21.3 .1-19 .1-19.8 .1-4.4 0 31.6 .1-3.8 .1 3.8 .1 12.6 .1-12.8 .1-34.2 0 12.8 .1 32.7 .1-5.6 .1 7.8 .1-9.8 0 5.7 .1-9.3 .1-1.5 .1-13.4 .1 22.7 .1-14.8 0 1.1 .1-9.5 .1 13.2 .1-42.5 .1 15.5 0 0 .1-2.1 .1-18.5 .1 18.3 .1 18 .1-31.5 0 28.6 .1-17.3 .1-13.8 .1 50.8 .1 12.4 0-49.3 .1 .4 .1 21 .1-4 .1-1.7 .1 26.1 0 .2 .1-16.7 .1-28.6 .1-12.1 .1 10.5 0 10.4 .1 .9 .1 4.6 .1 8.6 .1-14.5 0 59.6 .1-6.2 .1-25.9 .1-23.9 .1 22.4 .1-23.8 0 27.6 .1-20.2 .1-4.4 .1 15.1 .1 17.7 0-11.3 .1-.6 .1-28.9 .1 21.4 .1 16.3 .1-21.5 0-1.8 .1 2.8 .1 2.4 .1-5.5 .1-18.9 0 36.4 .1 4.6 .1-9.2 .1 7.5 .1 3.2 .1 4.8 0-16 .1-1.8 .1 5.7 .1-2.9 .1-18.9 0-2 .1 17.4 .1-8 .1-9.6 .1 10.8 .1-31.1 0-10.3 .1 32.6 .1-9.4 .1 7.7 .1 9.5 0 3.5 .1-7.8 .1 11.1 .1-5.7 .1 12 .1-6.1 0 10.7 .1-37 .1 28.6 .1-15.8 .1-13.7 0 38.2 .1-13.2 .1 19.1 .1-31.1 .1-7.8 .1 20.3 0-14.4 .1-10.6 .1 14.3 .1-6.7 .1-10.1 0-.8 .1 7.4 .1-10.2 .1 36.5 .1 27.3 .1 16.4 0-33.1 .1-1.9 .1-13.8 .1 20.3 .1-16.2 0-3.9 .1 9.9 .1 3.8 .1-5 .1-3.2 0-10.6 .1 34.5 .1-21.4 .1-14.5 .1-.5 .1 20.9 0 2.2 .1-9.1 .1 13.2 .1-9.2 .1-13.4 0-16.7 .1-6.4 .1-2.8 .1-.6 .1 21.1 .1-.9 0-7.8 .1 31 .1-46.2 .1 1.2 .1 7.5 0-10 .1 18.5 .1-1.4 .1 .5 .1 12.1 .1 23.5 0-13.7 .1-3.5 .1-28.2 .1 7.3 .1-.6 0-6.3 .1 24.4 .1 32 .1-23.3 .1-9.6 .1 11.3 0-27.3 .1 3.3 .1 .6 .1-4.5 .1-1.9 0 7.2 .1 25.9 .1-3.2 .1 14 .1-2.7 .1-13.3 0 6.6 .1 3.7 .1-7.5 .1-13.9 .1-15.7 0 11.2 .1 9.9 .1 5.9 .1-12.3 .1 17.7 .1 18.5 0 3.6 .1-6.6 .1 4.6 .1-34.4 .1 3.9 0-4.9 .1 2.2 .1 3.6 .1-7.1 .1 7.7 0 22.4 .1-46.3 .1 16.2 .1 .8 .1 1.1 .1-8 0 28.2 .1-19.7 .1-1.1 .1-38 .1 9 0 19.8 .1 7.7 .1 1.8 .1 3 .1 2.8 .1-4.6 0 32.5 .1 1.9 .1-35.2 .1 16.2 .1-11.5 0 6.1 .1-6.5 .1-6.8 .1-33.8 .1 6 .1 33 0-31.4 .1 10.3 .1 40.6 .1-10.5 .1 2 0-16.5 .1 4.9 .1-12.1 .1 9.6 .1-24.8 .1 37.5 0 .3 .1 3.6 .1-12.9 .1 4.1 .1 35.8 0-48.1 .1 13.1 .1 8.3 .1 4.7 .1-23 .1 8 0-5.9 .1-33.4 .1 14.7 .1-5 .1 14.5 0-17.2 .1 41.4 .1 0 .1-15.1 .1-18.1 .1-.1 0 9.6 .1-9.8 .1 6.3 .1 33.6 .1-16.2 0-8.5 .1 6.1 .1-6.4 .1 14.6 .1-11.7 0 .7 .1-11 .1 17.3 .1-1.1 .1-5.4 .1-4.7 0-10.3 .1 15.5 .1-6.3 .1-3.1 .1 0 0-8 .1 10.9 .1 0 .1-7.1 .1 4.8 .1-3.1 0 1 .1 18.9 .1-23.2 .1-16.2 .1 20.7 0 4.7 .1-5.4 .1 37.2 .1-17.4 .1-8.5 .1 22.1 0-19.9 .1-16.9 .1 6.3 .1 8.3 .1 14.8 0-7 .1-7.6 .1-18.8 .1 18.6 .1 8.7 .1 11.2 0-30.1 .1-16.5 .1 34.2 .1-10.3 .1-18.6 0 12.8 .1 4.3 .1 8.7 .1-7.6 .1-19 .1 10.3 0 23.4 .1-31.8 .1 3 .1 20.7 .1 1.5 0 34.4 .1 9.4 .1-22.4 .1-9.7 .1-33.8 .1 8.6 0 4.6 .1 4.5 .1-16.5 .1 6 .1-11.8 0-22 .1 29.7 .1-1.9 .1-13.7 .1 8.7 0 7.5 .1 20.1 .1 27.3 .1-15.3 .1-20.8 .1-6.3 0-5.1 .1 22 .1-1.5 .1-9.9 .1-36.2 0 2.3 .1 50.7 .1-8.7 .1 6.5 .1 10 .1-4.9 0 17.4 .1-29.8 .1-2.2 .1-1.5 .1-14.4 0-8 .1 26.9 .1-7.3 .1 16.1 .1-21.7 .1 15.3 0-10.4 .1 5.2 .1-28.6 .1-16.9 .1 25.1 0-9.1 .1 30 .1-2.1 .1 8.9 .1-7.2 .1-3.7 0 9.4 .1-.3 .1 20.9 .1 31.6 .1-19.7 0-18.3 .1-31.7 .1 9.4 .1-19.5 .1 28 .1-1.3 0 1.2 .1 18.2 .1-18.5 .1-5.9 .1-6.4 0-16.6 .1 3.2 .1 21.1 .1-12.8 .1-3.4 .1-4.1 0 21.9 .1-24.4 .1-14.1 .1 0 .1 24.3 0 8.3 .1 4 .1 6.3 .1 21.3 .1-12.8 .1-12.8 0 5.6 .1 10.5 .1-25 .1 1.2 .1-4.6 0-8.2 .1-13.8 .1 14.8 .1-1.7 .1-2.4 0 22.7 .1-9.8 .1 12.7 .1-29.7 .1 4.3 .1 13.6 0-14.8 .1 20.2 .1-14.2 .1-19.6 .1 6.1 0 18.5 .1 36.1 .1 5.7 .1-17.5 .1 1.5 .1-11.2 0-9.8 .1-6.5 .1-4 .1 10.7 .1-3.5 0 19.4 .1-28.5 .1 5.3 .1 5.9 .1 3.1 .1 24.7 0-34.7 .1 7.2 .1 20 .1-9.9 .1 21.7 0-29.2 .1 8.4 .1 .2 .1-14.2 .1 15.4 .1-6.5 0 6 .1-15.4 .1-5 .1-24 .1 21 0-5.5 .1 25.3 .1 2 .1-8.6 .1 5.6 .1-4 0-2.6 .1 22.7 .1-4.2 .1-13.2 .1 9.3 0-2.7 .1-15.9 .1-4.4 .1 5.1 .1-7 .1 13.9 0-12.9 .1 3.7 .1-12 .1 27.6 .1 2.9 0-5.8 .1 15.1 .1-18.8 .1-.7 .1 6 0 12.4 .1-11.7 .1 21.5 .1 8.4 .1-7.2 .1-6 0-6.8 .1 3.7 .1-7.6 .1-17.4 .1 16.2 0-22.4 .1-1.5 .1 5.6 .1 10.2 .1-30.1 .1 13 0 32.3 .1-6.8 .1 13 .1-30.9 .1-25 0 22.6 .1-8.7 .1 21.9 .1 12.1 .1 5.2 .1-27.9 0-4.6 .1 7.2 .1 5.7 .1 5 .1-9.8 0 9.5 .1-16.1 .1-4.1 .1 16.6 .1-14 .1 6.6 0-2.2 .1-5.3 .1 30.5 .1-2.4 .1 19 0-21 .1-7.6 .1 17.1 .1-21.5 .1-3.7 .1-10.9 0-17.6 .1 31.9 .1-8.4 .1 32.8 .1-5.6 0-1.4 .1-19.3 .1-13.9 .1 34.1 .1-2 .1-44.4 0 20.7 .1 11.6 .1 25 .1 11.8 .1-35.8 0-28 .1 30.8 .1-2.4 .1 13.2 .1-9.3 0-21.6 .1-1.3 .1 1.8 .1-8.2 .1 10.7 .1 13.2 0 22.7 .1-17.8 .1-17.7 .1-14.1 .1-8 0 2.1 .1 9.7 .1 8 .1 11 .1-9.2 .1-15.6 0 26.7 .1 4 .1-1.6 .1 8 .1-14.1 0 29.2 .1-23.7 .1-2.6 .1-24.1 .1 1 .1-2.3 0-.8 .1 8.5 .1 22.6 .1 5 .1 19.6 0-6.6 .1-21.8 .1-6.2 .1 20.2 .1-6 .1-22.1 0 29.7 .1-12 .1-18.6 .1-11 .1 27.5 0-13.8 .1 18.9 .1-23.2 .1 12.6 .1-6 .1-17.2 0 9.5 .1 9.2 .1 .3 .1-10.8 .1 15 0 2.9 .1-1.2 .1-4.6 .1 10.9 .1-14.7 .1-8.7 0 20.4 .1-11.3 .1-9.5 .1 9.6 .1 12.5 0-6.6 .1-8.1 .1-7.6 .1 18 .1-6.8 0-13.5 .1-8.9 .1 23.1 .1 11.7 .1-9.8 .1 8.4 0-18.5 .1-25.2 .1 31.6 .1-5.3 .1-2.4 0 10.5 .1-18.6 .1 23.9 .1-23.3 .1-21.8 .1-4.3 0 38.7 .1-24.4 .1 16.3 .1 15.8 .1 9 0 10.8 .1-14.6 .1-19.9 .1-25.4 .1 19.3 .1-7.2 0 21.2 .1 2.2 .1 6.8 .1 16.5 .1 10.3 0-51.8 .1 14.9 .1-4.9 .1-1 .1 17.5 .1 13.4 0-12.5 .1-4.2 .1-14.1 .1-2.8 .1-33.9 0 22.3 .1 29.2 .1 2.5 .1 4.5 .1-4 .1 22.8 0 3.8 .1-33.1 .1 2.9 .1-7.8 .1-4.1 0 39.1 .1-15.4 .1 21.5 .1-25.3 .1-2 .1 3.5 0-12 .1-9.6 .1 32.9 .1-9 .1 7.3 0 .4 .1-18.6 .1-23.5 .1 2.3 .1 9.2 0-29.3 .1 19.9 .1 19.3 .1-21.4 .1 18.8 .1-19.4 0 24 .1 2.3 .1 3.1 .1 7.2 .1-5.2 0-13.1 .1 8.8 .1-15.4 .1 6.4 .1-12.9 .1-10.2 0 4.1 .1-4.5 .1-8.7 .1 5.1 .1 15.8 0 13.2 .1-27.3 .1 30.1 .1 6.5 .1 24.1 .1-28.5 0-7.3 .1-11.1 .1 42 .1-13.6 .1 2 0-8.7 .1-34.5 .1-7 .1 19.5 .1 11.8 .1-3.2 0 5.6 .1-8.6 .1 3.2 .1-3.3 .1 37.3 0 2.1 .1-13.3 .1-21.9 .1 34 .1 7.1 .1-5.9 0-28.7 .1-22.3 .1-12 .1-3.2 .1 8.6 0 15.3 .1 4.7 .1 26.8 .1 1.9 .1-7.4 .1 2.9 0 6.8 .1-1.9 .1 1.2 .1-20.3 .1-.1 0-19.2 .1 7.4 .1 7.4 .1 2.3 .1-26.9 .1 32.3 0-7.7 .1 35.5 .1 17.9 .1-36.4 .1 8.7 0 .7 .1-32.3 .1 7.7 .1-1.1 .1 2.7 0-17.4 .1 17 .1 .8 .1 8.1 .1-8.5 .1-16.1 0 1.4 .1 16.8 .1 29.6 .1-20.5 .1-14.1 0 19.5 .1-19.8 .1-5.7 .1-19.8 .1-1.7 .1 16.6 0 2.7 .1-17.9 .1-6.3 .1 8.9 .1 20.1 0-17 .1 17.4 .1-17.8 .1 31.8 .1 15.9 .1-3.3 0-28.5 .1-16.3 .1 5.4 .1-5.9 .1 15.3 0-18.1 .1 31.7 .1 11.6 .1-7.2 .1-14.6 .1 5.3 0 9.5 .1-28.2 .1-8.3 .1 30.1 .1 2.8 0 16.7 .1-.8 .1 2.7 .1-2.2 .1-10.5 .1 12.2 0-10.8 .1 8.6 .1-6 .1-4.5 .1-13.3 0 8.2 .1 7.8 .1-44.3 .1-4 .1 24.7 .1 15.5 0 7.7 .1-12 .1-2.2 .1-2.5 .1 10.3 0-33.6 .1 30.3 .1-14.7 .1 9.6 .1-5.7 0 26.3 .1-13.1 .1-2.6 .1 1.8 .1 24.3 .1-34.2 0-6.3 .1 3 .1 1.4 .1-5.3 .1 33.7 0-14.7 .1-4.2 .1 15.4 .1-33.9 .1-3.1 .1 34.1 0-9.5 .1-3.3 .1 21.2 .1-20.5 .1-28 0 12.3 .1-30.2 .1 30.4 .1 .3 .1-2.3 .1 3.1 0-5.3 .1 5.5 .1-33.1 .1 7 .1 11.9 0-4.6 .1 18.5 .1-8.5 .1 9.6 .1 2.2 .1 14.3 0 10.3 .1 .6 .1 14.2 .1-34.3 .1 8.5 0-15.4 .1 4.6 .1 22.8 .1-7.9 .1-3.4" stroke="#00f" stroke-width="1.15" stroke-dasharray="4.8 3"/>
<path d="M47.3 745.8L47.4 715.7M49.3 752.8L49.5 778.8M56.3 741.6L56.4 780.6M73.4 781.4L73.6 827.9M77.5 733.5L77.6 706.9M91.0 751.8L91.1 831.4M111.4 767.2L111.5 701.7M117.5 762.9L117.7 701.7M151.4 714.6L151.6 712.2M153.5 763.6L153.6 824.4M106.1 775.7L106.2 831.4M125.7 740.6L125.8 831.4M93.0 745.6L93.2 708.7M131.8 721.1L132.0 712.2M82.8 746.3L83.0 817.4M140.0 741.3L140.1 824.4" stroke="#00f" stroke-width="1.2" stroke-dasharray="4.8 3"/>
<path d="M44 750.9l.8-.3 .8 .1 .9 0 .8 0 .8 .1 .8 0 .8 0 .8 0 .9 0 .8-.2 .8 .3 .8 0 .8-.1 .8 0 .9-.1 .8 0 .8 .1 .8 0 .8 0 .8-.1 .9 .1 .8-.1 .8 .1 .8-.1 .8 .1 .8 0 .9 .1 .8-.1 .8 0 .8 0 .8-.1 .8 0 .9 .1 .8 .1 .8-.1 .8 0 .8 0 .8-.1 .9 0 .8 .1 .8 0 .8 .1 .8-.2 .8 .1 .9-.1 .8 0 .8 .1 .8-.2 .8 .2 .8 0 .9-.2 .8 .2 .8 0 .8 0 .8 0 .8 0 .9-.1 .8 .1 .8 .1 .8-.1 .8 .1 .9-.1 .8 0 .8 0 .8 0 .8 0 .8 .1 .9-.2 .8 .2 .8-.1 .8 0 .8 0 .8 0 .9-.1 .8 .1 .8-.1 .8 0 .8 .1 .8 0 .9-.1 .8 .1 .8 0 .8-.1 .8 .1 .8 0 .9 0 .8-.1 .8 .1 .8-.1 .8 0 .8 0 .9 0 .8 .1 .8 0 .8 0 .8 0 .8-.1 .9 .1 .8 0 .8 0 .8-.1 .8 .2 .8 0 .9-.1 .8-.1 .8 .1 .8-.1 .8 0 .8 .1 .9-.1 .8 0 .8 0 .8 .1 .8 0 .8-.1 .9 0 .8 .1 .8-.1 .8 .1 .8-.2 .9 .2 .8 0 .8-.1 .8 .1 .8 0 .8-.1 .9 0 .8 .1 .8-.1 .8 0 .8 .1 .8-.1 .9 .1 .8 0 .8-.2 .8 .2 .8 0 .8-.1 .9 .1 .8 0 .8-.1 .8 .1 .8 0 .8 .1 .9-.1 .8-.2 .8 .1 .8 .2 .8-.1 .8-.1 .9 .2 .8-.2 .8 0 .8 .1 .8-.1 .8 .1 .9 0 .8 0 .8 0 .8 0 .8-.1 .8 .2 .9-.2 .8 0 .8 .1 .8-.1 .8-.1 .8 .1 .9 0 .8 .1 .8-.1 .8 .1 .8 0 .8-.1 .9 .1 .8 .1 .8-.2 .8 .1 .8-.1 .9 .1 .8 0 .8-.1 .8 .1 .8 0 .8 0 .9-.1 .8 .1 .8 .1 .8-.2 .8 .2 .8-.2 .9 .1 .8-.2 .8 .2 .8-.1 .8 .1 .8-.1 .9 .2 .8-.2 .8 .1 .8 0 .8-.1 .8 .1 .9 .2 .8-.1 .8-.1 .8-.1 .8 .1 .8-.2 .9 .2 .8 0 .8-.1 .8 .1 .8 0 .8-.1 .9 0 .8 0 .8 .2 .8-.1 .8 0 .8 0 .9 0 .8 0 .8-.2 .8 .2 .8 0 .8 0 .9 0 .8 .1 .8 0 .8-.2 .8 .2 .8-.1 .9-.1 .8 .2 .8-.1 .8-.1 .8 .1 .8 0 .9-.1 .8 .1 .8 0 .8-.1 .8 0 .9 .1 .8-.1 .8 0 .8-.1 .8 .2 .8 0 .9 0 .8-.1 .8-.1 .8 .1 .8 .1 .8-.1 .9 0 .8 0 .8 0 .8 0 .8 .2 .8-.1 .9-.1 .8 0 .8 .1 .8-.1 .8 .1 .8 0 .9-.1 .8-.1 .8 .1 .8-.1 .8 .2 .8 0 .9 0 .8-.1 .8 0 .8 .1 .8-.1 .8 .2 .9-.2 .8 .1 .8 .1 .8-.1 .8 0 .8 0 .9 0 .8 .1 .8-.1 .8 0 .8 0 .8-.1 .9 0 .8 0 .8 .1 .8-.1 .8 0 .8 .1 .9 0 .8 0 .8 0 .8-.1 .8 0 .9 .2 .8 0 .8-.1 .8 .1 .8 0 .8 0 .9-.2 .8 .1 .8 0 .8-.1 .8 0 .8 .1 .9 0 .8-.1 .8 0 .8 0 .8 .3 .8-.3 .9 .1 .8 0 .8-.1 .8 0 .8 0 .8 0 .9 .1 .8 0 .8 0 .8 0 .8 0 .8-.1 .9 0 .8 .1 .8 0 .8 0 .8-.1 .8 0 .9 .2 .8-.1 .8 0 .8 0 .8 0 .8-.1 .9 .2 .8-.2 .8 0 .8 0 .8 0 .8 0 .9 .1 .8-.1 .8 0 .8 0 .8 0 .8 .1 .9 0 .8 .1 .8-.1" stroke="#f00" stroke-width="1.3" stroke-dasharray="3.3 1.9" stroke-opacity="0.85"/>
</g>
<path d="M44.0 831.4v-3M44.0 656.0v3M84.8 831.4v-3M84.8 656.0v3M125.7 831.4v-3M125.7 656.0v3M166.5 831.4v-3M166.5 656.0v3M207.4 831.4v-3M207.4 656.0v3M248.2 831.4v-3M248.2 656.0v3M289.1 831.4v-3M289.1 656.0v3M329.9 831.4v-3M329.9 656.0v3M44.0 831.4h3M338.1 831.4h-3M44.0 796.4h3M338.1 796.4h-3M44.0 761.3h3M338.1 761.3h-3M44.0 726.2h3M338.1 726.2h-3M44.0 691.1h3M338.1 691.1h-3M44.0 656.0h3M338.1 656.0h-3" stroke="#222" stroke-width=".8" fill="none"/>
<rect x="44.0" y="656.0" width="294.1" height="175.4" fill="none" stroke="#333" stroke-width="1.1"/>
<g fill="#222"><text x="44.0" y="840.3" font-size="8.6" text-anchor="middle" textLength="4.18" lengthAdjust="spacingAndGlyphs">0</text><text x="84.8" y="840.3" font-size="8.6" text-anchor="middle" textLength="8.36" lengthAdjust="spacingAndGlyphs">10</text><text x="125.7" y="840.3" font-size="8.6" text-anchor="middle" textLength="8.36" lengthAdjust="spacingAndGlyphs">20</text><text x="166.5" y="840.3" font-size="8.6" text-anchor="middle" textLength="8.36" lengthAdjust="spacingAndGlyphs">30</text><text x="207.4" y="840.3" font-size="8.6" text-anchor="middle" textLength="8.36" lengthAdjust="spacingAndGlyphs">40</text><text x="248.2" y="840.3" font-size="8.6" text-anchor="middle" textLength="8.36" lengthAdjust="spacingAndGlyphs">50</text><text x="289.1" y="840.3" font-size="8.6" text-anchor="middle" textLength="8.36" lengthAdjust="spacingAndGlyphs">60</text><text x="329.9" y="840.3" font-size="8.6" text-anchor="middle" textLength="8.36" lengthAdjust="spacingAndGlyphs">70</text><text x="41.1" y="833.5" font-size="8.6" text-anchor="end" textLength="12.54" lengthAdjust="spacingAndGlyphs">100</text><text x="41.1" y="798.5" font-size="8.6" text-anchor="end" textLength="12.54" lengthAdjust="spacingAndGlyphs">110</text><text x="41.1" y="763.4" font-size="8.6" text-anchor="end" textLength="12.54" lengthAdjust="spacingAndGlyphs">120</text><text x="41.1" y="728.3" font-size="8.6" text-anchor="end" textLength="12.54" lengthAdjust="spacingAndGlyphs">130</text><text x="41.1" y="693.2" font-size="8.6" text-anchor="end" textLength="12.54" lengthAdjust="spacingAndGlyphs">140</text><text x="41.1" y="658.1" font-size="8.6" text-anchor="end" textLength="12.54" lengthAdjust="spacingAndGlyphs">150</text></g>
<text x="191.1" y="852.0" font-size="8.2" text-anchor="middle" textLength="59.8" lengthAdjust="spacingAndGlyphs" fill="#222">Time (unit: hour)</text>
<text x="191.1" y="650.6" font-size="9.4" text-anchor="middle" fill="#222">(g)</text>
<text transform="translate(23.1,743.8) rotate(-90)" x="0" y="0" font-size="8.6" text-anchor="middle" fill="#222" textLength="109.7" lengthAdjust="spacingAndGlyphs">Reactor Temperature (unit: °C)</text>
<rect x="211.7" y="660.3" width="122" height="50.0" fill="#fff" fill-opacity=".7" stroke="#222" stroke-width="1.1"/>
<path d="M218.4 667.9H230.8" stroke="#000" stroke-width=".9"/>
<text x="239.1" y="671.4" font-size="9.5" textLength="35.8" lengthAdjust="spacingAndGlyphs" fill="#1a1a1a">baseline</text>
<path d="M218.4 682.2H230.8" stroke="#00f" stroke-width=".8" stroke-dasharray="4.8 3" stroke-opacity=".75"/>
<text x="240.9" y="685.0" font-size="9.2" style="font-family:'Liberation Serif',serif;font-style:italic" fill="#222">P</text>
<text x="245.6" y="686.9" font-size="7" style="font-family:'Liberation Serif',serif;font-style:italic" fill="#555" textLength="14.3" lengthAdjust="spacingAndGlyphs">c,GE</text>
<text x="262.0" y="685.0" font-size="9.5" textLength="67.6" lengthAdjust="spacingAndGlyphs" fill="#1a1a1a">= 0.6, q = 0.09</text>
<path d="M218.4 699.6H230.8" stroke="#f00" stroke-width=".8" stroke-dasharray="4.8 3" stroke-opacity=".75"/>
<text x="240.9" y="702.3" font-size="9.2" style="font-family:'Liberation Serif',serif;font-style:italic" fill="#222">P</text>
<text x="245.6" y="704.2" font-size="7" style="font-family:'Liberation Serif',serif;font-style:italic" fill="#555" textLength="14.3" lengthAdjust="spacingAndGlyphs">c,GE</text>
<text x="262.0" y="702.3" font-size="9.5" textLength="61.5" lengthAdjust="spacingAndGlyphs" fill="#1a1a1a">= 0.6, q = 0.2</text>
<path d="M437.5 656.0V831.4M478.5 656.0V831.4M519.5 656.0V831.4M559.5 656.0V831.4M600.5 656.0V831.4M641.5 656.0V831.4M682.5 656.0V831.4M396.5 808.5H690.6M396.5 784.5H690.6M396.5 761.5H690.6M396.5 737.5H690.6M396.5 714.5H690.6M396.5 691.5H690.6M396.5 667.5H690.6" stroke="#000" stroke-opacity=".33" stroke-width=".8" stroke-dasharray="1 2" fill="none"/>
<g clip-path="url(#ch)" fill="none">
<path d="M396.5 751.8l.4-1.6 .4-2 .4-2.7 .4-1.8 .4-2.7 .5-1.5 .4-1.3 .4-2.4 .4 0 .4-2 .4 2.2 .4-2 .4-.9 .4 .6 .4 .4 .4-.7 .4-.5 .5-.2 .4 .7 .4-.2 .4-.5 .4 .1 .4-.3 .4 1.1 .4-.6 .4-.4 .4 .1 .4 .5 .4-.6 .5 .9 .4-1.1 .4-.4 .4 0 .4 .8 .4-.4 .4 .9 .4-.6 .4 .2 .4-.3 .4-.2 .4 .5 .5 .1 .4 .2 .4 0 .4 1.3 .4-.8 .4 .2 .4-.8 .4-.4 .4 1.4 .4-.8 .4 .3 .4 .3 .5-.3 .4-1 .4 1.3 .4 0 .4 .4 .4-.3 .4-.1 .4 .7 .4 .4 .4-.2 .4 1 .5-.5 .4 .7 .4-.8 .4 1.2 .4 .2 .4 .8 .4-.5 .4 1.1 .4 0 .4 .3 .4-.5 .4 .7 .5-.5 .4 .6 .4-.5 .4 .5 .4 .5 .4-1 .4 2 .4-.5 .4 1.6 .4 .1 .4-.2 .4-.4 .5 .9 .4 .8 .4-.2 .4 .8 .4 .3 .4 0 .4 .1 .4 .6 .4 2.1 .4 .7 .4 2.1 .4 3.3 .5 3 .4 3 .4 2.5 .4 2.6 .4 2.7 .4 2 .4 1.7 .4 2.2 .4 .3 .4 1.3 .4 .9 .4 .6 .5 .4 .4-1.4 .4 .7 .4 .9 .4 1.4 .4-1.7 .4 1 .4 .1 .4 .5 .4 .8 .4 .7 .5-.8 .4 1.4 .4-.4 .4 1.6 .4 .1 .4 1.5 .4-1.1 .4 1.2 .4 .2 .4 .1 .4 .6 .4 .4 .5-.3 .4 .4 .4 1.6 .4-.6 .4 .1 .4 1.1 .4-1.1 .4-.4 .4 0 .4-.4 .4-1 .4 0 .5-.8 .4 0 .4-2 .4 1.3 .4-1.9 .4-.2 .4-.7 .4-.9 .4-.9 .4-.5 .4-.4 .4-.3 .5-.7 .4-1.5 .4-.1 .4-.7 .4-1.6 .4 .5 .4-1.1 .4-1 .4 .6 .4-1.7 .4-1.1 .4 .4 .5-.7 .4-.3 .4-.8 .4-1.1 .4-.1 .4-1.3 .4 .3 .4-2 .4-.3 .4-.5 .4-.6 .5-1.2 .4 .2 .4-1.2 .4-.5 .4-.6 .4-.4 .4-.6 .4-.8 .4-.5 .4-1.6 .4 .3 .4-1.3 .5-1.1 .4 0 .4-.6 .4-.8 .4 .1 .4-1.4 .4-.1 .4-.8 .4-.1 .4-.6 .4 .1 .4-2.1 .5-.3 .4-.5 .4-.6 .4-.7 .4 .2 .4 .4 .4-.1 .4-1.4 .4 .6 .4-.5 .4-.9 .4-.2 .5 0 .4 .3 .4-.7 .4 .3 .4 .2 .4-1.9 .4 .6 .4 .1 .4 .6 .4 0 .4-.3 .4 .6 .5-1.2 .4 .7 .4 .3 .4 .4 .4 .5 .4-.5 .4 .3 .4 1 .4-1 .4 .4 .4 .7 .5 .6 .4-.5 .4 .5 .4 .3 .4-1.2 .4-.1 .4 .7 .4 .2 .4 .8 .4 .5 .4-.9 .4-.3 .5 .5 .4 .7 .4-.9 .4 1 .4-.1 .4 .6 .4 .5 .4-.3 .4-.1 .4 1.4 .4-.2 .4-.8 .5 .1 .4 .1 .4 .4 .4 .6 .4 .9 .4 0 .4 .4 .4 .1 .4 .9 .4-.3 .4 1.6 .4-.5 .5-.7 .4 1.1 .4 .1 .4 .2 .4 .3 .4 .1 .4 .4 .4 .8 .4-.2 .4 .5 .4 .2 .4-.8 .5-.7 .4 .8 .4 1.1 .4-.5 .4 1.2 .4-.8 .4 .7 .4-.1 .4 .9 .4-.8 .4 1 .5-.4 .4-.3 .4 .1 .4-.8 .4 1.2 .4 .7 .4-.5 .4-.7 .4 .8 .4-.5 .4 .9 .4-.1 .5-.4 .4 1.6 .4-.8 .4 .7 .4-.3 .4 .4 .4-.6 .4 .9 .4-.8 .4 .4 .4 .3 .4-.1 .5 .4 .4 0 .4 .6 .4-.1 .4 .4 .4-.2 .4 .1 .4 0 .4-.3 .4-.8 .4 .9 .4-.5 .5 .9 .4 .4 .4 0 .4 0 .4-.7 .4-.3 .4 .1 .4 .4 .4-.6 .4 .3 .4 .1 .4 .3 .5-.4 .4 .8 .4-.3 .4-.6 .4 .6 .4 .6 .4-.5 .4 .2 .4 0 .4 .8 .4-.5 .4-1.3 .5 .8 .4-.1 .4-.1 .4-.6 .4 .5 .4-1.4 .4-.7 .4 1 .4-.8 .4 1.4 .4-1.2 .5-.3 .4 .2 .4-.9 .4 1.4 .4-.6 .4 .4 .4-.4 .4 .5 .4-.6 .4 .6 .4-.3 .4-.9 .5 .5 .4-.1 .4-.3 .4-.3 .4 .8 .4-1.3 .4 1.6 .4-1.3 .4 .3 .4 .3 .4-.9 .4 .5 .5-.1 .4 .3 .4-.1 .4-.3 .4 0 .4-.4 .4 0 .4-.3 .4 .5 .4-.5 .4-.5 .4 .3 .5-.5 .4 1 .4-1.2 .4 .8 .4-.4 .4-.2 .4 .6 .4-.3 .4 .1 .4-.2 .4-.1 .4-.5 .5 .4 .4-.7 .4 .8 .4 .1 .4-1 .4 .8 .4 .9 .4-.2 .4 .1 .4 .1 .4-.9 .5 1.1 .4-1.4 .4 .8 .4 .3 .4-1.3 .4 .6 .4-.3 .4-1 .4 1.3 .4-.8 .4 .8 .4-.5 .5-.5 .4 .8 .4-.4 .4-.4 .4 .5 .4 1.3 .4-1 .4-.3 .4-.2 .4 .4 .4-.3 .4 .6 .5-.3 .4 .1 .4-.3 .4 .6 .4-.7 .4-.7 .4 0 .4-.3 .4-.1 .4 .3 .4 .3 .4-.1 .5 .2 .4 .2 .4 .9 .4 .4 .4-1.4 .4-.1 .4 .4 .4 1.3 .4 0 .4-.9 .4 1 .4 .9 .5-1.4 .4-.1 .4 .4 .4-1.6 .4 2.2 .4-1.1 .4 0 .4 .7 .4 .5 .4-.6 .4-.1 .5-.6 .4 .9 .4-1.7 .4 .6 .4 .3 .4 0 .4 .3 .4 .4 .4 .3 .4 .4 .4-1.2 .4 .9 .5 .5 .4-.5 .4-.7 .4 .2 .4-.6 .4 .6 .4 .7 .4-.2 .4-1 .4 .7 .4 .7 .4-1.4 .5 .8 .4 1.1 .4-2 .4 1.2 .4-.8 .4 .8 .4-.7 .4 1.1 .4-.9 .4 .4 .4-.4 .4 .2 .5 1 .4 .5 .4-1.4 .4 .1 .4 .7 .4-1.2 .4 1.3 .4-1.2 .4 .2 .4-.7 .4-.1 .4 1.6 .5-.1 .4-.1 .4-.5 .4 .9 .4-.9 .4 1.7 .4-1.3 .4 .3 .4-.1 .4-.4 .4 .4 .5-.2 .4 .8 .4-.7 .4 .1 .4 .7 .4-.1 .4-1.1 .4 .1 .4 .6 .4 0 .4-.9 .4 .4 .5-.6 .4 .8 .4-.7 .4-.1 .4 .2 .4 1.3 .4-.9 .4-.5 .4 .8 .4-.8 .4-.4 .4 1.2 .5-.9 .4-.3 .4 .4 .4-.9 .4 0 .4 .4 .4-.7 .4 1.3 .4-.3 .4-.2 .4-.3 .4 .4 .5-.4 .4 .2 .4-.5 .4 1.4 .4-1.2 .4 .1 .4 .3 .4 .3 .4 .4 .4-.6 .4 .4 .4 0 .5-1.3 .4 1.2 .4-.6 .4 .6 .4-1.4 .4 1.9 .4-.6 .4 .3 .4-.6 .4 .3 .4-.6 .5 .6 .4 .2 .4-.1 .4-.4 .4-.2 .4-.9 .4 1.2 .4-.3 .4 .1 .4-.2 .4-.6 .4 .4 .5 .3 .4-.3 .4-.2 .4 .5 .4 .1 .4 .4 .4-.2 .4 .1 .4-.6 .4 .4 .4-.2 .4-.3 .5-1 .4 1.8 .4-.5 .4-1 .4 .8 .4 .1 .4 .4 .4-.7 .4 .6 .4 .7 .4-.7 .4 .4 .5-.8 .4 .2 .4 0 .4 .4 .4 .2 .4 .2 .4 1.2 .4-1.5 .4 .3 .4 .1 .4 0 .4 .4 .5-1.1 .4 .4 .4 .2 .4-.6 .4 .4 .4 .7 .4-.8 .4 .3 .4 .1 .4-.3 .4 0 .5 .6 .4 0 .4 .3 .4-.5 .4 0 .4-.8 .4 1 .4-.9 .4 .2 .4-.5 .4-.2 .4 .2 .5-.4 .4 .1 .4 .5 .4 .3 .4 .3 .4-1.2 .4 1 .4 .5 .4-.5 .4 .2 .4-.7 .4-.2 .5 .7 .4-.8 .4-.3 .4 .2 .4 1.1 .4-.8 .4 .7 .4-.9 .4 .6 .4-.3 .4-.6 .4-.2 .5 1.3 .4 .3 .4-.8 .4-1.6 .4 1.7 .4 0 .4 0 .4 0 .4-.5 .4 .4 .4 0 .4 .3 .5 .2 .4 .5 .4-1.4 .4 .7 .4-1.2 .4 .2" stroke="#000" stroke-width="1.6"/>
<path d="M396.5 748.5l.2-.2 .2-3 .2-2.1 .2-2.1 .2-8 .2-2.7 .2-7.3 .2 3 .2 10 .2-9.6 .2 15.5 .3-3.7 .2 14.8 .2 4.2 .2-11.9 .2-2.2 .2-3.7 .2-.9 .2-2.1 .2-2.9 .2 5.2 .2 3.5 .2-3 .2 4.3 .2-.6 .2-1.6 .2-2.3 .2 6.7 .2-.7 .2-3.9 .2 4.7 .2-3.5 .2 5 .2-5 .2-4.9 .3 5.8 .2 .1 .2-7.9 .2 3.3 .2-3.2 .2 1.3 .2 1.6 .2 7 .2-1.3 .2 3.7 .2 4.2 .2 8.5 .2-1.8 .2 .9 .2 1.7 .2 1.1 .2-5.7 .2-2.5 .2-.2 .2-3.5 .2-.3 .2 .7 .2-8.6 .2 3 .3-2.6 .2 .8 .2 1.9 .2 8 .2 5.9 .2-4.8 .2 8.3 .2-4 .2 8.6 .2 3 .2 5.6 .2-9.1 .2-2 .2 2.2 .2 .6 .2-7.9 .2-3 .2 .9 .2-8 .2 5.4 .2-5.4 .2-9.7 .2 6.5 .3-14.1 .2-2.9 .2 11.8 .2-1.9 .2-3.4 .2-.4 .2-10.5 .2 15.7 .2-14.6 .2 3.4 .2-6 .2 3 .2 2.2 .2-9 .2 10.6 .2 5.6 .2-8.1 .2 6.6 .2-1.9 .2 3.9 .2-4.4 .2 4.1 .2 1.4 .2 3.7 .3-.2 .2-2.2 .2 3.5 .2 6.3 .2 3 .2 9.5 .2 4.2 .2-6.2 .2 11 .2-7.6 .2 15 .2-1.8 .2 2 .2 2.6 .2 6.1 .2 .4 .2 1 .2 5.1 .2 2 .2 7.7 .2 2.3 .2-1.7 .2 3.1 .3-1.7 .2-.8 .2 1 .2-.7 .2-.7 .2-7.6 .2 9.4 .2-7 .2 1 .2-2.8 .2 1.7 .2 1 .2 3.9 .2 2 .2 4.8 .2 7.6 .2 1.3 .2 .6 .2 3 .2 11.3 .2-1.3 .2-7.3 .2 4 .2-3.2 .3 3.8 .2-8.4 .2-2.1 .2 4.4 .2-7.2 .2 1.7 .2 4.7 .2-6.4 .2-4.4 .2-2.3 .2-11.7 .2-2.7 .2-6.6 .2-4.1 .2-4 .2-8 .2-8.8 .2-5.2 .2-4.7 .2-9.1 .2-5.8 .2 2.1 .2 1.4 .2 3.6 .3 6.5 .2-7 .2 2.3 .2 .3 .2 .9 .2 10.4 .2-4.1 .2-3.5 .2 4.1 .2-.2 .2 9.5 .2-5.2 .2 11.7 .2 7.5 .2-3.5 .2 5.2 .2 6.5 .2 4 .2-1 .2 4.6 .2 6.8 .2 2.8 .2 6.5 .3-4.5 .2 5.3 .2-.6 .2 .2 .2-1.6 .2 5.5 .2 3.4 .2-3.4 .2-.2 .2 7.8 .2-4.4 .2-2.5 .2 .5 .2 4.2 .2-5.3 .2-5.2 .2-4.1 .2-1.1 .2-5.1 .2 3.2 .2-1.8 .2-2.8 .2 .5 .2-7.1 .3 1.9 .2 11.1 .2 4.4 .2 4.5 .2-.7 .2-.6 .2 1.3 .2 3.3 .2-.3 .2-7.5 .2 6 .2-8.6 .2 .8 .2-11.1 .2-2.7 .2 1.9 .2-5.6 .2-5.4 .2 .9 .2-2.8 .2-4.4 .2-6.5 .2-4.6 .3-2.5 .2-2.8 .2-5.9 .2 6 .2 3.4 .2 1.4 .2 .9 .2-.4 .2 4.5 .2 10 .2-1 .2 4.1 .2-4.2 .2 5.3 .2 2.4 .2 5.5 .2 7.6 .2-3.1 .2 1.6 .2-8.2 .2-3.3 .2 6.4 .2 5.9 .2-5.6 .3 3.6 .2 4.9 .2-5.5 .2 5.5 .2-4.6 .2 10.5 .2-3.1 .2-1.5 .2 2.7 .2 6.2 .2 3.9 .2-1 .2 .9 .2 4.5 .2-4.1 .2 11.7 .2-1.4 .2 .3 .2-.3 .2 2 .2 1.4 .2-3.3 .2 2.2 .2-6.1 .3 2.3 .2 .8 .2-5 .2-12.7 .2 14.1 .2-7 .2-.4 .2-7 .2 4.7 .2-8.2 .2-2.3 .2 7 .2-8.5 .2 1.7 .2-2.5 .2-6.2 .2 .2 .2-2.5 .2-2.7 .2-2.5 .2 1.3 .2-6.2 .2-4.6 .3-.5 .2-3.5 .2 10.1 .2 2.8 .2 1.6 .2 4.5 .2 .8 .2 7.9 .2 1.9 .2 4.8 .2 7.7 .2 2.8 .2-2.8 .2 5.5 .2 1.8 .2-4 .2-.1 .2-3.6 .2-3.7 .2 2.2 .2-.9 .2-5 .2-1 .2 1.7 .3-9.6 .2 8.3 .2-.3 .2-5.1 .2-9.6 .2 8.7 .2-3.1 .2-5.3 .2 4.1 .2-4.1 .2 .3 .2 4.9 .2 .9 .2 3.7 .2 3.8 .2-9.3 .2 7.3 .2 1 .2-2.9 .2 5.5 .2 6.6 .2 .3 .2-5.3 .3-.8 .2 2.8 .2-7.5 .2 .2 .2-.1 .2-4 .2 2.6 .2-11.1 .2 5.8 .2-.5 .2 2.8 .2-6 .2-.5 .2-5.9 .2 3.6 .2-.9 .2 4.6 .2-3.6 .2 12.8 .2-3.2 .2-2.4 .2 9 .2 2.9 .2-.7 .3 1.4 .2-2.1 .2 3.7 .2 1.7 .2-.7 .2-.2 .2-2.7 .2-6.9 .2 6.8 .2-4.3 .2-3.2 .2-5.3 .2-1.9 .2 1 .2 5.2 .2-2.7 .2 2.3 .2 1.4 .2 1.9 .2 2.9 .2-.8 .2-1.7 .2 8.1 .2-3 .3 5.6 .2 2.2 .2-3.8 .2 1 .2-.4 .2 .5 .2 4.9 .2-9.8 .2 2.8 .2-1.3 .2-2.6 .2-1.2 .2-1.3 .2-6.7 .2 10.9 .2-1.7 .2-8.1 .2 4.5 .2 1.2 .2-4.4 .2-.4 .2 2.5 .2-6.4 .3-7.3 .2 4.1 .2-2.1 .2 1.6 .2-7.5 .2 6.1 .2-1.2 .2 5.2 .2-4.5 .2 2 .2 3.2 .2-2.6 .2-4.9 .2 6.6 .2 .1 .2 5.1 .2 3.5 .2-1.2 .2-.4 .2 4.5 .2 8.4 .2-9 .2 11.7 .2-8.1 .3 9.4 .2 4.9 .2-.1 .2-1.6 .2-7.2 .2 .1 .2-7.5 .2 3.3 .2-3.1 .2-7.6 .2-4.5 .2-1.3 .2-8.6 .2-1.8 .2-1.3 .2 .9 .2-6.3 .2-3.8 .2 1.3 .2-12.3 .2 .1 .2-7.9 .2 7.8 .3-12.3 .2 10 .2 3.2 .2-.5 .2 6.9 .2-2.5 .2 3.9 .2 1.9 .2 7.2 .2 6.1 .2-2.5 .2 2.2 .2 4.5 .2 4.1 .2 5.8 .2-5.5 .2 3.8 .2 2.9 .2-9.9 .2 2.5 .2 2.9 .2-5.8 .2 1.7 .2-4.8 .3-5.8 .2 .4 .2-3.4 .2 .2 .2-9.8 .2 5.7 .2 2.2 .2 4 .2 7.2 .2-4.1 .2 3 .2 7.4 .2-4.5 .2 4.5 .2 5.9 .2 1.4 .2 3.1 .2 5.9 .2 4.3 .2 6.7 .2-6.1 .2 2.3 .2 .6 .2 5.6 .3-9.9 .2 2.6 .2-.6 .2-.1 .2-.5" stroke="#00f" stroke-width="0.9" stroke-dasharray="4.8 3"/>
<path d="M396.5 752.1l.4-1.2 .4-3.1 .4-2.9 .4-1.4 .4-1.6 .5-2.6 .4-1.4 .4-.7 .4-1.3 .4-1.2 .4-.4 .4-.3 .4 .5 .4-.5 .4-.9 .4-.5 .4 .7 .5-1.2 .4 1.3 .4-.3 .4-.4 .4 .7 .4-.6 .4 .6 .4-.9 .4 1 .4-.1 .4-.9 .4 .2 .5 .2 .4 .3 .4-.4 .4-.6 .4 .5 .4-1.2 .4 .9 .4 .9 .4-.5 .4-.1 .4 .1 .4 .3 .5 .3 .4 0 .4 .4 .4 .2 .4-.2 .4-.5 .4 .5 .4-.1 .4 .3 .4 .1 .4-.3 .4 0 .5-1.1 .4 .1 .4 1.5 .4-1.2 .4 .8 .4 0 .4 .1 .4-.6 .4 1.3 .4-.1 .4 .5 .5 0 .4-.1 .4 .6 .4 .3 .4 .9 .4-.3 .4 .6 .4 0 .4 1 .4 .1 .4-.4 .4 .2 .5-.1 .4-.1 .4 .5 .4 .7 .4-.4 .4 .2 .4 .5 .4 .8 .4-.2 .4 .5 .4 1.1 .4 0 .5 .7 .4 .5 .4-.5 .4 .2 .4 .5 .4-.5 .4 1.8 .4-.8 .4 2.5 .4 1.5 .4 1.7 .4 2.5 .5 2.6 .4 3.7 .4 3.5 .4 2.3 .4 2.4 .4 3.3 .4 .7 .4 2.3 .4 .4 .4 1.9 .4-.3 .4-.2 .5 1 .4 .5 .4-.7 .4 .5 .4 .4 .4-.3 .4 1.4 .4 .9 .4-.6 .4 1.1 .4 .1 .5 .1 .4 .6 .4 0 .4 .7 .4 .6 .4 .4 .4 .4 .4 0 .4 1.5 .4 .3 .4 .3 .4 .4 .5-.1 .4-.3 .4 1.7 .4 .5 .4-.6 .4-.5 .4 1.1 .4-1.6 .4 .3 .4-1.3 .4-.3 .4-.8 .5-.2 .4-.8 .4-.2 .4-1 .4-.2 .4-.5 .4-1.6 .4-.2 .4 0 .4-1.1 .4-.7 .4-1 .5 .2 .4-1.1 .4-.3 .4-.9 .4-.2 .4-1.5 .4 0 .4-.7 .4-.2 .4-1.7 .4-.2 .4-.9 .5-.5 .4-.7 .4 .1 .4-.4 .4-1.8 .4 .7 .4-.7 .4-1.5 .4-1.2 .4 .2 .4-1 .5-.8 .4-.6 .4-1.4 .4-1 .4 .4 .4-.8 .4-.5 .4-.8 .4-.3 .4-1 .4-.5 .4-.9 .5-.4 .4-1 .4 .5 .4-.9 .4-.8 .4-.8 .4-1 .4 0 .4-.8 .4-.7 .4-.8 .4-.1 .5-.9 .4-1 .4 0 .4-1 .4 .4 .4-.2 .4-.8 .4 0 .4-.5 .4 .2 .4 .1 .4-.7 .5 .1 .4-1 .4 .4 .4 .3 .4-.3 .4-.3 .4-1 .4 1 .4-.3 .4 .4 .4-.5 .4-.5 .5 1.3 .4-1 .4 .6 .4 .4 .4 .1 .4 .9 .4-1 .4 .9 .4 .4 .4-.5 .4 .3 .5 .3 .4 .1 .4 .5 .4 .1 .4 .3 .4-.7 .4 .3 .4 .1 .4 1.1 .4-.7 .4-.2 .4-.1 .5 1.1 .4 0 .4 .1 .4-.3 .4-.2 .4 .6 .4 .3 .4 1.2 .4-.5 .4-.2 .4-.4 .4 .5 .5 .5 .4 .5 .4-1 .4 1.1 .4 .5 .4 1.2 .4-.7 .4 1.2 .4 0 .4 0 .4-.1 .4 1.1 .5 .3 .4 .1 .4-.9 .4 .4 .4 1.3 .4-.1 .4-.7 .4 .9 .4 .5 .4 .7 .4-.7 .4 .2 .5 .2 .4 .4 .4-.3 .4 1 .4 .3 .4-.6 .4 .5 .4 1 .4-.6 .4 .6 .4 .1 .5-.5 .4-.8 .4 1.1 .4-.6 .4 .2 .4-.2 .4 .8 .4 .9 .4-.5 .4-.3 .4 .6 .4-.2 .5 .3 .4 .5 .4-.3 .4-.6 .4 1.1 .4 .5 .4-1.2 .4 .8 .4 .5 .4-.8 .4 .7 .4-.3 .5-.3 .4 1.2 .4-1.3 .4 .6 .4 1.5 .4-.5 .4 .1 .4 0 .4-.3 .4 .1 .4-.2 .4-.1 .5 .8 .4 .1 .4 .4 .4-.1 .4-.2 .4-.4 .4 .4 .4-.4 .4-.1 .4-.3 .4 .4 .4-.1 .5 .5 .4 .3 .4-1.1 .4 .8 .4 .1 .4-.9 .4 .8 .4-.1 .4 .5 .4-.2 .4-.5 .4 1.1 .5-.9 .4-.4 .4 0 .4-.3 .4-.3 .4-.2 .4-.3 .4 .3 .4-.8 .4 .9 .4-1 .5-.2 .4 .3 .4-.4 .4 .4 .4 .3 .4-.4 .4 .1 .4 .1 .4 1.1 .4-.9 .4 .5 .4-1.4 .5 0 .4-.1 .4-.4 .4-.3 .4 1.3 .4-.1 .4-1 .4-.3 .4 .3 .4-.2 .4 1 .4-.7 .5 .5 .4-.5 .4-.3 .4 .2 .4-.2 .4-1 .4 .3 .4 .1 .4-1.4 .4 .8 .4 .3 .4 .1 .5-.4 .4 0 .4-.6 .4 .1 .4 1 .4-1.1 .4 .6 .4 .1 .4-.5 .4 0 .4-.3 .4 .2 .5 .1 .4 .2 .4-.3 .4 .2 .4 .2 .4-.4 .4 1 .4-.6 .4 .4 .4 0 .4-.1 .5 0 .4-.1 .4 .7 .4-.9 .4 .4 .4-.1 .4-.6 .4 1 .4-1 .4 .1 .4 0 .4-.3 .5 .7 .4 .6 .4-.7 .4-.6 .4 .4 .4-.4 .4-.1 .4 .3 .4 0 .4-.3 .4 0 .4 .6 .5 0 .4-.8 .4 .4 .4 .1 .4-1.3 .4 0 .4 0 .4 .3 .4-.5 .4 .1 .4 .7 .4 .3 .5-.4 .4 1.3 .4-.2 .4 .3 .4-.1 .4-1.1 .4 1 .4-1 .4 .5 .4 .4 .4 .3 .4-.1 .5 .1 .4 .2 .4 .1 .4 0 .4 .7 .4-.6 .4-.9 .4 1.4 .4-.8 .4 .4 .4 .1 .5-.7 .4 0 .4 1 .4-1.2 .4 0 .4 .6 .4 .1 .4 .5 .4-.1 .4 .1 .4 .5 .4-.6 .5-.1 .4 .4 .4-.4 .4-.3 .4 .7 .4-.1 .4-1.2 .4 .5 .4-.5 .4 .9 .4 .2 .4-.1 .5 .4 .4-.5 .4 .1 .4 .4 .4-.6 .4 .6 .4-.2 .4-.8 .4 .6 .4 .4 .4-.4 .4 .9 .5-.1 .4 .7 .4-.3 .4-.6 .4 .3 .4-.5 .4-.2 .4 .1 .4-.4 .4 .8 .4-.3 .4 .4 .5-1.1 .4 .7 .4-.4 .4-.1 .4 .8 .4 0 .4-.5 .4 .5 .4-.1 .4 .2 .4 .7 .5-.9 .4 .8 .4-.7 .4 .1 .4-.2 .4 .1 .4 .3 .4-.4 .4 .8 .4-1 .4-.1 .4-.3 .5 .4 .4 .2 .4-.3 .4-.2 .4-.7 .4 .9 .4 .1 .4 0 .4-.2 .4-.1 .4-.3 .4 .6 .5-.6 .4 .3 .4-.7 .4 .2 .4-.3 .4 .1 .4-.5 .4-.4 .4 1.1 .4-1.5 .4 1.6 .4-.5 .5-.1 .4 .8 .4-.2 .4-.1 .4 1 .4-1.4 .4-.1 .4 0 .4-.1 .4 1 .4-.5 .4-.4 .5 .4 .4 .1 .4 .1 .4 .6 .4-1.3 .4 .1 .4 0 .4 1.4 .4-1 .4 .4 .4 .3 .5-.8 .4 .2 .4 .2 .4-.8 .4 0 .4 .4 .4-.7 .4 .3 .4 .4 .4 .1 .4-.4 .4 .1 .5-.1 .4 1 .4-.5 .4-.7 .4-.5 .4 1.3 .4-1 .4 .6 .4 0 .4 .3 .4-.2 .4-1.3 .5 1.1 .4-.7 .4 .1 .4 .9 .4-.6 .4 1.2 .4-.5 .4 .5 .4-.2 .4 0 .4-.1 .4-.2 .5-.2 .4 .3 .4 .7 .4-.4 .4-.9 .4 .4 .4 .5 .4 0 .4-.2 .4-.3 .4 .6 .4 .5 .5-.3 .4-.2 .4-.6 .4-.1 .4 .3 .4 .3 .4 .5 .4-.2 .4-.4 .4-.9 .4 1.3 .5 0 .4-.2 .4 .1 .4 .3 .4 .2 .4-1 .4 .1 .4 .1 .4-.1 .4-.8 .4-.3 .4 .6 .5 .3 .4-.4 .4 .2 .4 0 .4 .6 .4-.6 .4 .8 .4-.1 .4-.3 .4 .6 .4-1.2 .4 .5 .5 0 .4-.3 .4-.3 .4 .3 .4 0 .4 .3 .4 .3 .4-.7 .4-.2 .4-.2 .4 .7 .4-.9 .5 .8 .4-.3 .4-.2 .4-.5 .4 .4 .4 .3 .4-.4 .4-.3 .4 1.9 .4-1.6 .4 .3 .4 .2 .5 .2 .4-.1 .4 .3 .4-1.4 .4 .3 .4 .3" stroke="#f00" stroke-width="1.3"/>
</g>
<path d="M396.5 831.4v-3M396.5 656.0v3M437.3 831.4v-3M437.3 656.0v3M478.2 831.4v-3M478.2 656.0v3M519.0 831.4v-3M519.0 656.0v3M559.9 831.4v-3M559.9 656.0v3M600.7 831.4v-3M600.7 656.0v3M641.6 831.4v-3M641.6 656.0v3M682.4 831.4v-3M682.4 656.0v3M396.5 831.4h3M690.6 831.4h-3M396.5 808.1h3M690.6 808.1h-3M396.5 784.7h3M690.6 784.7h-3M396.5 761.3h3M690.6 761.3h-3M396.5 737.9h3M690.6 737.9h-3M396.5 714.5h3M690.6 714.5h-3M396.5 691.1h3M690.6 691.1h-3M396.5 667.7h3M690.6 667.7h-3" stroke="#222" stroke-width=".8" fill="none"/>
<rect x="396.5" y="656.0" width="294.1" height="175.4" fill="none" stroke="#333" stroke-width="1.1"/>
<g fill="#222"><text x="396.5" y="840.3" font-size="8.6" text-anchor="middle" textLength="4.18" lengthAdjust="spacingAndGlyphs">0</text><text x="437.3" y="840.3" font-size="8.6" text-anchor="middle" textLength="8.36" lengthAdjust="spacingAndGlyphs">10</text><text x="478.2" y="840.3" font-size="8.6" text-anchor="middle" textLength="8.36" lengthAdjust="spacingAndGlyphs">20</text><text x="519.0" y="840.3" font-size="8.6" text-anchor="middle" textLength="8.36" lengthAdjust="spacingAndGlyphs">30</text><text x="559.9" y="840.3" font-size="8.6" text-anchor="middle" textLength="8.36" lengthAdjust="spacingAndGlyphs">40</text><text x="600.7" y="840.3" font-size="8.6" text-anchor="middle" textLength="8.36" lengthAdjust="spacingAndGlyphs">50</text><text x="641.6" y="840.3" font-size="8.6" text-anchor="middle" textLength="8.36" lengthAdjust="spacingAndGlyphs">60</text><text x="682.4" y="840.3" font-size="8.6" text-anchor="middle" textLength="8.36" lengthAdjust="spacingAndGlyphs">70</text><text x="393.6" y="833.5" font-size="8.6" text-anchor="end" textLength="8.36" lengthAdjust="spacingAndGlyphs">60</text><text x="393.6" y="810.2" font-size="8.6" text-anchor="end" textLength="8.36" lengthAdjust="spacingAndGlyphs">62</text><text x="393.6" y="786.8" font-size="8.6" text-anchor="end" textLength="8.36" lengthAdjust="spacingAndGlyphs">64</text><text x="393.6" y="763.4" font-size="8.6" text-anchor="end" textLength="8.36" lengthAdjust="spacingAndGlyphs">66</text><text x="393.6" y="740.0" font-size="8.6" text-anchor="end" textLength="8.36" lengthAdjust="spacingAndGlyphs">68</text><text x="393.6" y="716.6" font-size="8.6" text-anchor="end" textLength="8.36" lengthAdjust="spacingAndGlyphs">70</text><text x="393.6" y="693.2" font-size="8.6" text-anchor="end" textLength="8.36" lengthAdjust="spacingAndGlyphs">72</text><text x="393.6" y="669.8" font-size="8.6" text-anchor="end" textLength="8.36" lengthAdjust="spacingAndGlyphs">74</text></g>
<text x="543.5" y="852.0" font-size="8.2" text-anchor="middle" textLength="59.8" lengthAdjust="spacingAndGlyphs" fill="#222">Time (unit: hour)</text>
<text x="543.5" y="650.6" font-size="9.4" text-anchor="middle" fill="#222">(h)</text>
<text transform="translate(380.0,743.8) rotate(-90)" x="0" y="0" font-size="8.6" text-anchor="middle" fill="#222" textLength="111.2" lengthAdjust="spacingAndGlyphs">Stripper Temperature (unit: °C)</text>
<rect x="564.2" y="660.3" width="122" height="50.0" fill="#fff" fill-opacity=".7" stroke="#222" stroke-width="1.1"/>
<path d="M570.9 667.9H583.3" stroke="#000" stroke-width=".9"/>
<text x="591.6" y="671.4" font-size="9.5" textLength="35.8" lengthAdjust="spacingAndGlyphs" fill="#1a1a1a">baseline</text>
<path d="M570.9 682.2H583.3" stroke="#00f" stroke-width=".8" stroke-dasharray="4.8 3" stroke-opacity=".75"/>
<text x="593.4" y="685.0" font-size="9.2" style="font-family:'Liberation Serif',serif;font-style:italic" fill="#222">P</text>
<text x="598.1" y="686.9" font-size="7" style="font-family:'Liberation Serif',serif;font-style:italic" fill="#555" textLength="14.3" lengthAdjust="spacingAndGlyphs">c,GE</text>
<text x="614.5" y="685.0" font-size="9.5" textLength="67.6" lengthAdjust="spacingAndGlyphs" fill="#1a1a1a">= 0.6, q = 0.09</text>
<path d="M570.9 699.6H583.3" stroke="#f00" stroke-width=".8" stroke-dasharray="4.8 3" stroke-opacity=".75"/>
<text x="593.4" y="702.3" font-size="9.2" style="font-family:'Liberation Serif',serif;font-style:italic" fill="#222">P</text>
<text x="598.1" y="704.2" font-size="7" style="font-family:'Liberation Serif',serif;font-style:italic" fill="#555" textLength="14.3" lengthAdjust="spacingAndGlyphs">c,GE</text>
<text x="614.5" y="702.3" font-size="9.5" textLength="61.5" lengthAdjust="spacingAndGlyphs" fill="#1a1a1a">= 0.6, q = 0.2</text>
</svg></body></html>
